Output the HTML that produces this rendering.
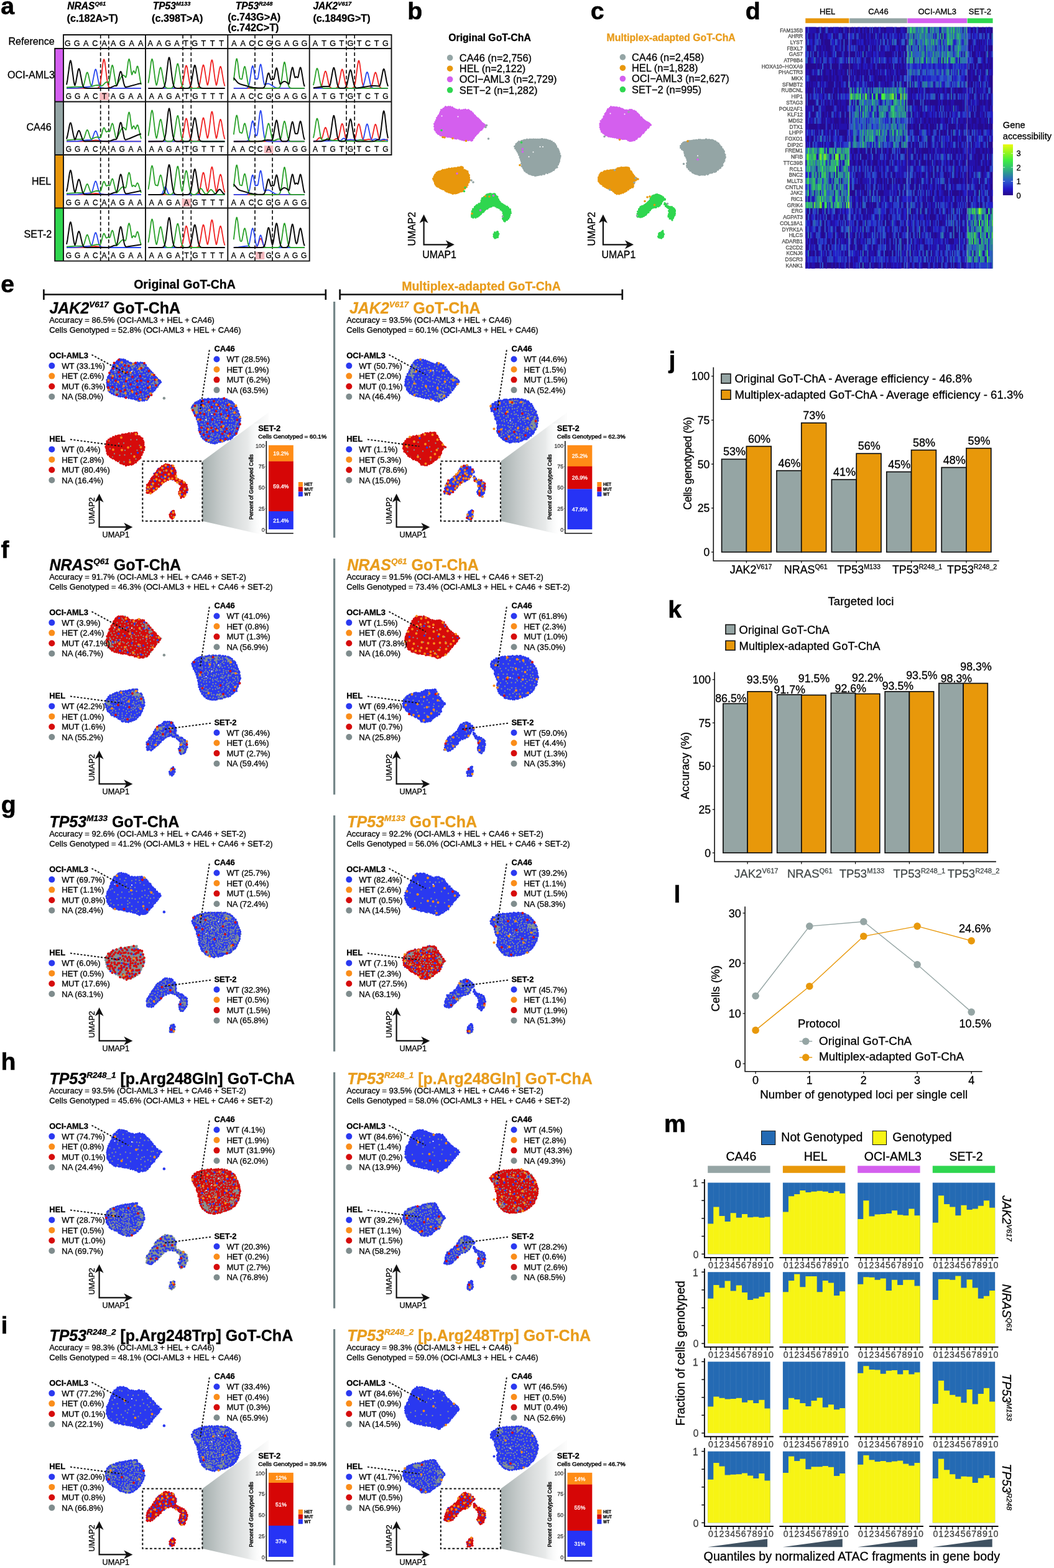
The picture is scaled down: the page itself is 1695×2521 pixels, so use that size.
<!DOCTYPE html>
<html lang="en"><head><meta charset="utf-8"><title>Figure</title>
<style>
html,body{margin:0;padding:0;background:#fff}
body{width:1695px;height:2521px;overflow:hidden}
svg{display:block}
text{font-family:"Liberation Sans",sans-serif;stroke:#000;stroke-width:.3px}
.c0{fill:#e89c1c;stroke:#e89c1c}
.c1{fill:#4a4a4a;stroke:#4a4a4a}
.c2{fill:#fff;stroke:#fff}
.c3{fill:#3c3c3c;stroke:#3c3c3c}
.c4{fill:#444a4a;stroke:#444a4a}
.c5{fill:#404040;stroke:#404040}
</style></head><body>
<svg width="1695" height="2521" viewBox="0 0 1695 2521">
<rect width="1695" height="2521" fill="#fff"/>
<text x="108.2" y="15.3" font-size="15.6" font-weight="bold" font-style="italic"><tspan>NRAS</tspan><tspan font-size="9.4" dy="-6.2">Q61</tspan><tspan dy="6.2" font-size="15.6">&#8203;</tspan></text>
<text x="107.6" y="34.7" font-size="16.2" font-weight="bold">(c.182A&gt;T)</text>
<text x="245.7" y="15.3" font-size="15.6" font-weight="bold" font-style="italic"><tspan>TP53</tspan><tspan font-size="9.4" dy="-6.2">M133</tspan><tspan dy="6.2" font-size="15.6">&#8203;</tspan></text>
<text x="244" y="34.7" font-size="16.2" font-weight="bold">(c.398T&gt;A)</text>
<text x="378.8" y="14.8" font-size="15.6" font-weight="bold" font-style="italic"><tspan>TP53</tspan><tspan font-size="9.4" dy="-6.2">R248</tspan><tspan dy="6.2" font-size="15.6">&#8203;</tspan></text>
<text x="366.2" y="32.8" font-size="16.2" font-weight="bold">(c.743G&gt;A)</text>
<text x="366.2" y="50" font-size="16.2" font-weight="bold">(c.742C&gt;T)</text>
<text x="503.4" y="15.3" font-size="15.6" font-weight="bold" font-style="italic"><tspan>JAK2</tspan><tspan font-size="9.4" dy="-6.2">V617</tspan><tspan dy="6.2" font-size="15.6">&#8203;</tspan></text>
<text x="503.4" y="34.7" font-size="16.2" font-weight="bold">(c.1849G&gt;T)</text>
<text x="13.5" y="71.6" font-size="16.1">Reference</text>
<text x="12" y="126" font-size="16.1">OCI-AML3</text>
<text x="42.5" y="210.2" font-size="16.1">CA46</text>
<text x="51" y="297" font-size="16.1">HEL</text>
<text x="38.6" y="382.4" font-size="16.1">SET-2</text>
<rect x="88.2" y="78" width="13.8" height="85.5" fill="#d45ff0"/>
<rect x="88.2" y="163.5" width="13.8" height="85.5" fill="#94a5a5"/>
<rect x="88.2" y="249" width="13.8" height="85.5" fill="#e8970c"/>
<rect x="88.2" y="334.5" width="13.8" height="85.1" fill="#2fd64f"/>
<text x="109" y="73.6" font-size="12.6" text-anchor="middle">G</text>
<text x="123.7" y="73.6" font-size="12.6" text-anchor="middle">G</text>
<text x="138.3" y="73.6" font-size="12.6" text-anchor="middle">A</text>
<text x="152.9" y="73.6" font-size="12.6" text-anchor="middle">C</text>
<text x="167.6" y="73.6" font-size="12.6" text-anchor="middle">A</text>
<text x="182.2" y="73.6" font-size="12.6" text-anchor="middle">A</text>
<text x="196.9" y="73.6" font-size="12.6" text-anchor="middle">G</text>
<text x="211.6" y="73.6" font-size="12.6" text-anchor="middle">A</text>
<text x="226.2" y="73.6" font-size="12.6" text-anchor="middle">A</text>
<text x="241.6" y="73.6" font-size="12.6" text-anchor="middle">A</text>
<text x="255.9" y="73.6" font-size="12.6" text-anchor="middle">A</text>
<text x="270.2" y="73.6" font-size="12.6" text-anchor="middle">G</text>
<text x="284.5" y="73.6" font-size="12.6" text-anchor="middle">A</text>
<text x="298.8" y="73.6" font-size="12.6" text-anchor="middle">T</text>
<text x="313.1" y="73.6" font-size="12.6" text-anchor="middle">G</text>
<text x="327.4" y="73.6" font-size="12.6" text-anchor="middle">T</text>
<text x="341.7" y="73.6" font-size="12.6" text-anchor="middle">T</text>
<text x="356" y="73.6" font-size="12.6" text-anchor="middle">T</text>
<text x="376.5" y="73.6" font-size="12.6" text-anchor="middle">A</text>
<text x="390.6" y="73.6" font-size="12.6" text-anchor="middle">A</text>
<text x="404.7" y="73.6" font-size="12.6" text-anchor="middle">C</text>
<text x="418.8" y="73.6" font-size="12.6" text-anchor="middle">C</text>
<text x="432.9" y="73.6" font-size="12.6" text-anchor="middle">G</text>
<text x="447" y="73.6" font-size="12.6" text-anchor="middle">G</text>
<text x="461.1" y="73.6" font-size="12.6" text-anchor="middle">A</text>
<text x="475.2" y="73.6" font-size="12.6" text-anchor="middle">G</text>
<text x="489.3" y="73.6" font-size="12.6" text-anchor="middle">G</text>
<text x="507" y="73.6" font-size="12.6" text-anchor="middle">A</text>
<text x="521.1" y="73.6" font-size="12.6" text-anchor="middle">T</text>
<text x="535.2" y="73.6" font-size="12.6" text-anchor="middle">G</text>
<text x="549.3" y="73.6" font-size="12.6" text-anchor="middle">T</text>
<text x="563.4" y="73.6" font-size="12.6" text-anchor="middle">G</text>
<text x="577.5" y="73.6" font-size="12.6" text-anchor="middle">T</text>
<text x="591.6" y="73.6" font-size="12.6" text-anchor="middle">C</text>
<text x="605.7" y="73.6" font-size="12.6" text-anchor="middle">T</text>
<text x="619.8" y="73.6" font-size="12.6" text-anchor="middle">G</text>
<line x1="161.7" y1="56" x2="161.7" y2="419.6" stroke="#111" stroke-width="1.7" stroke-dasharray="5.8 3.6"/>
<line x1="174.8" y1="56" x2="174.8" y2="419.6" stroke="#111" stroke-width="1.7" stroke-dasharray="5.8 3.6"/>
<line x1="294.1" y1="56" x2="294.1" y2="419.6" stroke="#111" stroke-width="1.7" stroke-dasharray="5.8 3.6"/>
<line x1="307.3" y1="56" x2="307.3" y2="419.6" stroke="#111" stroke-width="1.7" stroke-dasharray="5.8 3.6"/>
<line x1="410" y1="56" x2="410" y2="419.6" stroke="#111" stroke-width="1.7" stroke-dasharray="5.8 3.6"/>
<line x1="438.1" y1="56" x2="438.1" y2="419.6" stroke="#111" stroke-width="1.7" stroke-dasharray="5.8 3.6"/>
<line x1="557" y1="56" x2="557" y2="249" stroke="#111" stroke-width="1.7" stroke-dasharray="5.8 3.6"/>
<line x1="570.2" y1="56" x2="570.2" y2="249" stroke="#111" stroke-width="1.7" stroke-dasharray="5.8 3.6"/>
<rect x="160.4" y="148.7" width="14.4" height="12.4" fill="#f6b9be"/>
<path d="M107 141.9l47.5 0 2.5-.3 1.5-.8 1.5-2.4 1.5-5.6 1.5-10.1 2.5-21 1-5.2 .5-1 .5 .1 1 3.6 3 24.3 1.5 9.8 1.5 5.4 1.5 2.2 1.5 .8 2.5 .2 47 0" fill="none" stroke="#f02222" stroke-width="1.8" stroke-linejoin="round"/>
<path d="M107 141.9l18-.4 21.5-2.4 1-1.6 1-3.3 4-20.5 1-2.2 .5 0 .5 .7 1 3.5 2.5 13.8 1.5 6.6 1.5 3.6 1.5 1.4 5 .5 8.5 .3 51 0" fill="none" stroke="#2846f0" stroke-width="1.8" stroke-linejoin="round"/>
<path d="M107 140.5l14-.9 11.5-.2 1-.5 1-1.8 1-3.3 3.5-15.3 1-2 .5 0 .5 .5 1 2.8 3 13.6 1 3.4 1 1.9 1 .2 5-1.6 3-.4 3 .2 4 1 1-.1 1.5-1.1 3.5-3.6 1.5-1.1 1.5-.3 2.5 .8 .5-.3 1-3.4 3-19.4 1-3.9 .5-.8 .5 .2 1 3 3.5 22.4 1 4.6 .5 1.5 .5 .4 1.5-1.8 5.5-10.8 2-2.7 1.5-.8 1 .2 1 .8 2 2.4 .5-.1 1-4 2.5-20 1-4.6 .5-.7 .5 .5 1 4.2 2 15.9 1 4.6 .5-.5 1.5-4.6 1-1.1 .5 .3 1.5 3.3 .5 .4 .5-.8 2-9 .5-1.3 .5-.4 .5 .4 1 3.4 3 18.8 1.5 7" fill="none" stroke="#2aa12a" stroke-width="1.8" stroke-linejoin="round"/>
<path d="M107 136.2l1.5-7.7 3.5-26.9 1-3.8 .5-.4 .5 .8 1 4.6 3.5 27 1 5.2 .5 1.7 .5 .5 1.5-5 3.5-19.1 1-2.5 .5-.2 .5 .7 1 3.3 4 21.1 1.5 4 1 1.3 1.5 .8 4 .3 32.5-.1 4.5-.9 6.5-2.8 3.5-.2 .5-.6 1-2.8 3.5-16.4 1-2.7 .5-.5 .5 .2 1 2.3 3.5 16.4 1.5 4.6 1 1.5 1 .1 4-.8 15-4.1 5.5-1.2" fill="none" stroke="#0a0a0a" stroke-width="2" stroke-linejoin="round"/>
<text x="110.4" y="158.8" font-size="12" text-anchor="middle">G</text>
<text x="124.7" y="158.8" font-size="12" text-anchor="middle">G</text>
<text x="139" y="158.8" font-size="12" text-anchor="middle">A</text>
<text x="153.3" y="158.8" font-size="12" text-anchor="middle">C</text>
<text x="167.6" y="158.8" font-size="12" text-anchor="middle">T</text>
<text x="181.9" y="158.8" font-size="12" text-anchor="middle">A</text>
<text x="196.2" y="158.8" font-size="12" text-anchor="middle">G</text>
<text x="210.5" y="158.8" font-size="12" text-anchor="middle">A</text>
<text x="224.8" y="158.8" font-size="12" text-anchor="middle">A</text>
<path d="M238.5 141.9l48 0 2.5-.2 1.5-.5 1.5-1.7 1.5-4 1.5-7.2 3-19 1-3.4 .5-.5 .5 .4 1 3.1 3 18.9 1.5 7.4 1 3.1 1.5 2.4 1 .7 1.5 .4 5.5 0 2-.6 1.5-1.7 1-2.4 1-3.8 4-24.8 1-3.5 .5-.6 .5 .3 1 3.2 3.5 22.3 1 4.7 .5 1.6 .5 .1 1-3.7 1-6 3.5-26.9 1-3.4 .5-.1 .5 .9 1 4.7 3 23.8 2 10.5 .5 .5 1-2.9 4-23.2 1-3.3 .5-.6 .5 .3 1 2.9 3.5 20.8 2 7.5" fill="none" stroke="#f02222" stroke-width="1.8" stroke-linejoin="round"/>
<path d="M238.5 141.9l123 0" fill="none" stroke="#2846f0" stroke-width="1.8" stroke-linejoin="round"/>
<path d="M238.5 133.5l1.5-9.4 3-24.4 1-4.2 .5-.6 .5 .6 1 4.2 3.5 28 1 5.8 1 3.4 .5-.3 1-3.6 4-22.2 1-2.3 .5 0 .5 .8 1 3.6 3.5 20 1 3.8 1 2.5 1.5 1.8 2.5 .8 5.5-.1 1.5-.4 1-.9 1.5-2.9 1-3.6 4-25.9 1-4.5 .5-1 .5 0 .5 .9 1 4.2 4 26 1.5 5 1 1.7 1 .9 1.5 .5 2.5 .2 62.5 0" fill="none" stroke="#2aa12a" stroke-width="1.8" stroke-linejoin="round"/>
<path d="M238.5 141.9l21.5 0 2-.4 1.5-1.1 1.5-3.2 1.5-6.8 4-32.8 1-4.6 .5-.6 .5 .5 1 4.4 3 25.6 1.5 10 1.5 5.6 1 1.8 1 .9 3 .7 16.5 0 2.5-.4 1.5-1 1.5-2.7 1-3.3 4-24.3 1-4.2 .5-.9 .5-.1 .5 .8 1 3.9 4 24.4 1.5 4.7 1.5 2.1 1.5 .7 2.5 .3 35.5 0" fill="none" stroke="#0a0a0a" stroke-width="2" stroke-linejoin="round"/>
<text x="243.8" y="158.8" font-size="12" text-anchor="middle">A</text>
<text x="257.8" y="158.8" font-size="12" text-anchor="middle">A</text>
<text x="271.8" y="158.8" font-size="12" text-anchor="middle">G</text>
<text x="285.8" y="158.8" font-size="12" text-anchor="middle">A</text>
<text x="299.8" y="158.8" font-size="12" text-anchor="middle">T</text>
<text x="313.8" y="158.8" font-size="12" text-anchor="middle">G</text>
<text x="327.8" y="158.8" font-size="12" text-anchor="middle">T</text>
<text x="341.8" y="158.8" font-size="12" text-anchor="middle">T</text>
<text x="355.8" y="158.8" font-size="12" text-anchor="middle">T</text>
<path d="M375.8 141.9l114 0" fill="none" stroke="#f02222" stroke-width="1.8" stroke-linejoin="round"/>
<path d="M375.8 141.9l19.5 0 2-.4 1.5-1.2 1.5-3.3 1-4.1 3.5-22.8 1-3.7 .5-.5 .5 .5 1 3.7 2 12.9 1 3.9 .5 .4 1.5-.4 1.5 .1 1-3.3 2.5-16.9 1-3.2 .5-.1 .5 .9 1 4.7 3 21.4 1 4.5 .5 1 .5 .1 3.5-1.5 2.5-.1 2.5 1 7.5 4.8 3 1 3 .4 42 .2" fill="none" stroke="#2846f0" stroke-width="1.8" stroke-linejoin="round"/>
<path d="M375.8 129.3l3.5-30 1-4.5 .5-.4 .5 .9 1 5.4 2.5 21.6 1 4.2 2.5 .8 .5 0 .5-.8 3-16.9 1-2.6 .5 .1 .5 1 1 4.5 3.5 21.9 1.5 4.7 1.5 1.9 1.5 .6 2.5 .2 39 0 3.5-.4 1-.6 1-1.4 1.5-4.6 1.5-8.8 2.5-20 1-5.1 .5-1 .5 .1 1 3.5 4 29.4 1 4.2 1.5 3.2 1.5 1.1 2 .4 21 0" fill="none" stroke="#2aa12a" stroke-width="1.8" stroke-linejoin="round"/>
<path d="M375.8 125.1l6 7.3 2 1.6 2.5 1.2 15 4.3 5.5 1.2 8 .9 8 0 2-1.2 1.5-2.8 1.5-5.4 2.5-11.6 1-2.7 .5-.5 .5 .2 .5 .9 2 7.4 1 2.4 .5 0 2-1.4 1.5 .6 .5-.2 1-3.3 2-11.3 1-3 .5-.3 .5 .6 1 3.7 2.5 15.3 1.5 6 .5 .3 .5-.3 4-3.5 2.5-.6 2.5 1 4 3.3 .5-.5 1-3.8 2.5-15.9 1.5-6.1 .5-.5 .5 .5 .5 1.3 2 10.6 1 3.8 .5 .2 1.5-1.3 .5-.1 2 1.4 .5-.6 .5-1.8 2-11 1-2.8 .5-.1 .5 .8 1 4 3.5 21.1 1.5 4.7" fill="none" stroke="#0a0a0a" stroke-width="2" stroke-linejoin="round"/>
<text x="375.8" y="158.8" font-size="12" text-anchor="middle">A</text>
<text x="389.9" y="158.8" font-size="12" text-anchor="middle">A</text>
<text x="404" y="158.8" font-size="12" text-anchor="middle">C</text>
<text x="418.1" y="158.8" font-size="12" text-anchor="middle">C</text>
<text x="432.2" y="158.8" font-size="12" text-anchor="middle">G</text>
<text x="446.3" y="158.8" font-size="12" text-anchor="middle">G</text>
<text x="460.4" y="158.8" font-size="12" text-anchor="middle">A</text>
<text x="474.5" y="158.8" font-size="12" text-anchor="middle">G</text>
<text x="488.6" y="158.8" font-size="12" text-anchor="middle">G</text>
<path d="M503.9 141.9l9-.1 1.5-.4 1.5-1.1 1-1.7 1-2.7 4-18.6 1-2.6 .5-.3 .5 .3 1 2.6 3.5 16.8 1 3.3 1 2.2 1.5 1.6 1.5 .5 5.5 .2 2.5-.6 1.5-1.5 1.5-3.5 1.5-6.4 3-16 1-2.4 .5 0 .5 .6 1 3.4 3.5 18.6 1 3.4 1 2.2 1.5 1.5 1.5 .5 5 .1 2.5-.6 1-.9 1-1.9 1.5-5.7 4-29.9 1-4.6 .5-.8 .5 .4 1 3.8 4 30.1 1.5 6.2 1.5 2.7 2 1.1 4.5 .2 3-.5 1.5-1.1 1.5-2.8 1-3.2 3.5-15.5 1-2.2 .5-.2 .5 .5 1 2.6 3.5 15.5 1 3 1 1.9 1.5 1.4 1.5 .5 10 .1" fill="none" stroke="#f02222" stroke-width="1.8" stroke-linejoin="round"/>
<path d="M503.9 141.9l73 0 4-.3 2-1.2 1.5-2.7 1.5-5.2 3-13.8 1-2.5 .5-.3 .5 .3 1 2.5 4 17.5 1 2.6 1.5 2.1 1.5 .7 2 .3 22 0" fill="none" stroke="#2846f0" stroke-width="1.8" stroke-linejoin="round"/>
<path d="M503.9 137l1.5-6.1 3-17.1 1-3.3 .5-.6 .5 .3 1 2.7 3 16.9 1.5 6.6 1.5 3.5 1 1.1 1.5 .7 4 .2 100 0" fill="none" stroke="#2aa12a" stroke-width="1.8" stroke-linejoin="round"/>
<path d="M503.9 141.3l16-2.2 9.5 0 1-1.5 1-3.3 4-22.3 1-2.8 .5-.3 .5 .6 1 3.4 4 22.2 1.5 4.2 1 1.4 1 .7 2 .3 5.5 0 1.5-.4 1.5-1.6 1-2 1-3.3 3.5-18 1-3.3 .5-.6 .5 0 1 2.3 3 15.5 1.5 6.2 1.5 3.4 1.5 1.4 1.5 .1 5.5-.6 18-2.7 5.5-.2 6.5 .7 1-.4 1-2.1 1-3.9 3.5-18.8 1-2.4 .5 0 .5 .7 1 3.4 3 16.6 2 7" fill="none" stroke="#0a0a0a" stroke-width="2" stroke-linejoin="round"/>
<text x="507" y="158.8" font-size="12" text-anchor="middle">A</text>
<text x="521.1" y="158.8" font-size="12" text-anchor="middle">T</text>
<text x="535.2" y="158.8" font-size="12" text-anchor="middle">G</text>
<text x="549.3" y="158.8" font-size="12" text-anchor="middle">T</text>
<text x="563.4" y="158.8" font-size="12" text-anchor="middle">G</text>
<text x="577.5" y="158.8" font-size="12" text-anchor="middle">T</text>
<text x="591.6" y="158.8" font-size="12" text-anchor="middle">C</text>
<text x="605.7" y="158.8" font-size="12" text-anchor="middle">T</text>
<text x="619.8" y="158.8" font-size="12" text-anchor="middle">G</text>
<path d="M107 227.4l31-.1 16-1.9 11.5 1.6 5.5 .3 56 .1" fill="none" stroke="#f02222" stroke-width="1.8" stroke-linejoin="round"/>
<path d="M107 227.4l17.5-.4 16-1.8 6.5-.4 1-.9 .5-.9 3.5-10.2 1.5-2.3 1 .4 1 1.9 2.5 7.7 1.5 3.6 1 1.5 1.5 1 6 .5 8 .3 51 0" fill="none" stroke="#2846f0" stroke-width="1.8" stroke-linejoin="round"/>
<path d="M107 225.4l14-1.2 13-.5 1.5-2.3 3.5-11 1-1.4 .5-.1 .5 .4 1 2.1 3 9.8 1 2 .5 .4 1-.2 5-2.2 2.5-.7 2.5 0 4 .7 1-1.5 3-11.4 1-2.4 .5-.5 .5 0 .5 .5 2 5 1 1.3 2.5-1.3 2.5 .6 .5-.3 .5-1 2.5-10.1 1-1.7 .5 .2 1 2.3 4 19.5 1 2.2 .5-.1 2.5-4.2 4.5-9.7 2-2.9 1-.7 1-.1 1.5 1 2 2.7 .5 .2 .5-1 3-22.1 1-4.6 .5-.7 .5 .5 1 4.2 2 16 1 5.8 .5 .1 1.5-3.6 1-1 1 1.1 1.5 3.7 .5 .3 2.5-6.3 .5-.3 .5 .3 1 2.5 3 14.1 1.5 5.2" fill="none" stroke="#2aa12a" stroke-width="1.8" stroke-linejoin="round"/>
<path d="M107 223.5l1.5-5.1 3.5-18.2 1-2.6 .5-.2 .5 .5 1 3.1 3 16 2 7 .5 .6 1-1.4 4-11.8 1-1.4 .5-.1 .5 .4 1 1.8 4 11.8 1.5 2.1 1 .8 1.5 .4 36.5 .1 4.5-.8 6-2.3 3.5-.3 1-1.4 1-3.4 3.5-18.5 1-3.2 .5-.5 .5 .2 1 2.6 4 20.6 1 3.1 1 1.3 1.5-.3 4.5-1.4 14-6 5.5-1.8" fill="none" stroke="#0a0a0a" stroke-width="2" stroke-linejoin="round"/>
<text x="110.4" y="244.3" font-size="12" text-anchor="middle">G</text>
<text x="124.7" y="244.3" font-size="12" text-anchor="middle">G</text>
<text x="139" y="244.3" font-size="12" text-anchor="middle">A</text>
<text x="153.3" y="244.3" font-size="12" text-anchor="middle">C</text>
<text x="167.6" y="244.3" font-size="12" text-anchor="middle">A</text>
<text x="181.9" y="244.3" font-size="12" text-anchor="middle">A</text>
<text x="196.2" y="244.3" font-size="12" text-anchor="middle">G</text>
<text x="210.5" y="244.3" font-size="12" text-anchor="middle">A</text>
<text x="224.8" y="244.3" font-size="12" text-anchor="middle">A</text>
<path d="M238.5 227.4l48 0 2.5-.2 1.5-.5 1.5-1.7 1.5-4.1 1.5-7.3 3-19.2 1-3.5 .5-.5 .5 .4 1 3.2 3 19.1 1.5 7.5 1 3.2 1.5 2.4 1 .7 1.5 .4 5.5 0 2-.7 1.5-1.7 1-2.4 1-3.8 4-25.1 1-3.6 .5-.6 .5 .4 1 3.2 3.5 22.6 1 4.7 .5 1.6 .5 0 1-4 1-6.3 3.5-28.4 1-3.6 .5-.1 .5 .9 1 5.1 3 25.1 2 11 .5 .7 1-2.9 4-23.5 1-3.4 .5-.6 .5 .3 1 3 3.5 21 2 7.6" fill="none" stroke="#f02222" stroke-width="1.8" stroke-linejoin="round"/>
<path d="M238.5 227.4l123 0" fill="none" stroke="#2846f0" stroke-width="1.8" stroke-linejoin="round"/>
<path d="M238.5 218.5l1.5-10.1 3-25.9 1-4.5 .5-.6 .5 .6 1 4.5 3.5 29.8 1 6.2 1 3.6 .5-.3 1-3.9 4-23.4 1-2.5 .5 0 .5 .8 1 3.9 3.5 21.1 1 4.1 1 2.6 1.5 2 2 .8 5.5 0 1.5-.3 1-.6 1.5-2.3 1.5-5.1 4-27.3 1-4.6 .5-1 .5-.1 .5 .9 1 4.5 4 27.3 1.5 5.3 1 1.8 1 .9 1.5 .5 2.5 .2 62.5 0" fill="none" stroke="#2aa12a" stroke-width="1.8" stroke-linejoin="round"/>
<path d="M238.5 227.4l21.5-.1 2-.3 1.5-1.2 1.5-3.4 1.5-7.3 4-35.2 1-4.8 .5-.7 .5 .6 1 4.7 3 27.4 1.5 10.7 1.5 5.9 1 2 1 1 1 .4 2 .3 16.5 0 2.5-.4 1.5-1 1.5-2.8 1-3.4 4-24.9 1-4.4 .5-.9 .5-.1 .5 .8 1 4 4 25.1 1.5 4.8 1.5 2.2 1.5 .7 2.5 .3 35.5 0" fill="none" stroke="#0a0a0a" stroke-width="2" stroke-linejoin="round"/>
<text x="243.8" y="244.3" font-size="12" text-anchor="middle">A</text>
<text x="257.8" y="244.3" font-size="12" text-anchor="middle">A</text>
<text x="271.8" y="244.3" font-size="12" text-anchor="middle">G</text>
<text x="285.8" y="244.3" font-size="12" text-anchor="middle">A</text>
<text x="299.8" y="244.3" font-size="12" text-anchor="middle">T</text>
<text x="313.8" y="244.3" font-size="12" text-anchor="middle">G</text>
<text x="327.8" y="244.3" font-size="12" text-anchor="middle">T</text>
<text x="341.8" y="244.3" font-size="12" text-anchor="middle">T</text>
<text x="355.8" y="244.3" font-size="12" text-anchor="middle">T</text>
<rect x="425" y="234.2" width="14.4" height="12.4" fill="#f6b9be"/>
<path d="M375.8 227.4l114 0" fill="none" stroke="#f02222" stroke-width="1.8" stroke-linejoin="round"/>
<path d="M375.8 227.4l19.5 0 2-.4 1.5-1.1 1.5-3 1-3.8 3.5-20.8 1-3.4 .5-.5 .5 .5 1 3.4 3 17.6 1 2.2 1 0 1-2.2 .5-2.8 3.5-30.8 1-4.2 .5-.1 .5 1.2 1 6 2.5 23.5 1.5 10.5 1.5 5.4 1.5 2 1.5 .6 2.5 .2 58 0" fill="none" stroke="#2846f0" stroke-width="1.8" stroke-linejoin="round"/>
<path d="M375.8 216.3l3.5-26.6 1-3.9 .5-.4 1 2.7 3 21.8 1 3.3 1.5 .2 1.5 .7 .5-.3 1-3.4 2-9.8 1-2.1 .5 0 .5 .9 1 3.8 3.5 18.1 1.5 3.8 1 1.3 1 .6 3 .4 15.5 0 2-.3 1.5-.9 1.5-2.5 1-3.2 3.5-18.3 1-3.2 .5-.6 .5 .3 1 2.7 3.5 18.3 1 3.5 1 2.1 1 1 .5 0 6.5-2.7 4-.1 .5-.5 1-2.9 3.5-20.4 1-3.9 .5-.8 .5 .1 1 2.7 4 22.7 1 3.3 1.5 2.5 1.5 .8 2 .3 21 0" fill="none" stroke="#2aa12a" stroke-width="1.8" stroke-linejoin="round"/>
<path d="M375.8 227.4l39.5-.1 5.5-.5 9.5-1.8 7 .4 1-1.6 1-3.2 4-23.7 1-3.2 .5-.3 .5 .7 1 3.8 2.5 16.1 1.5 7.4 1 2.9 1.5 2.2 1 .5 1.5 .3 5 0 1.5-.5 1.5-1.5 1-2.2 1-3.6 3.5-19.9 1-3.3 .5-.4 .5 .4 1 3.3 2 11.3 1 3.8 .5 .4 3-.2 1-2.9 2.5-14.2 1-2.7 .5-.1 .5 .8 1 3.9 3.5 20.4 1.5 4.6" fill="none" stroke="#0a0a0a" stroke-width="2" stroke-linejoin="round"/>
<text x="375.8" y="244.3" font-size="12" text-anchor="middle">A</text>
<text x="389.9" y="244.3" font-size="12" text-anchor="middle">A</text>
<text x="404" y="244.3" font-size="12" text-anchor="middle">C</text>
<text x="418.1" y="244.3" font-size="12" text-anchor="middle">C</text>
<text x="432.2" y="244.3" font-size="12" text-anchor="middle">A</text>
<text x="446.3" y="244.3" font-size="12" text-anchor="middle">G</text>
<text x="460.4" y="244.3" font-size="12" text-anchor="middle">A</text>
<text x="474.5" y="244.3" font-size="12" text-anchor="middle">G</text>
<text x="488.6" y="244.3" font-size="12" text-anchor="middle">G</text>
<path d="M503.9 226.8l4.5-.5 5-4.8 1.5 .2 2 1.7 .5-.1 1.5-4 3-12 1-2.1 .5-.3 .5 .3 1 2.1 3.5 13.7 1 2.7 1 1.6 1 .5 4.5-.2 1-.4 3.5-2.3 1 0 2 .9 1-1.7 1-3.6 3.5-17.3 1-2.2 .5 0 .5 .6 1 3.2 3.5 17.3 1.5 4.1 1 .7 11 0 1-.3 .5-.6 1-2.4 1-3.8 3-15 1-2.9 .5-.5 .5 .2 1 2.4 4 18.9 1 2.8 1 1.2 3.5 .1 5-1.2 3.5 .8 .5-.2 1-1.8 1-3.4 3.5-16.7 1-2.4 .5-.2 .5 .5 1 2.8 3.5 16.8 1 3.2 1 1.9 1 .8 4 .2 1.5-.2 4-1.4 2.5 0" fill="none" stroke="#f02222" stroke-width="1.8" stroke-linejoin="round"/>
<path d="M503.9 227.1l43-1 1.5-.5 3-2.6 1.5-.6 1 .3 3.5 2.6 6-1 7.5 1.1 12-.2 1-1.2 1-2.7 4-18.9 1-2.6 .5-.4 .5 .4 1 2.6 4 18.9 1 2.7 1 1.2 1 0 3-1.4 2-.4 1.5 .3 4.5 1.9 2 0 3.5-1.4 2-.3 1.5 .3 5 1.9" fill="none" stroke="#2846f0" stroke-width="1.8" stroke-linejoin="round"/>
<path d="M503.9 221.7l1.5-7 3-19.8 1-3.8 .5-.7 .5 .3 1 3.2 4 25 1.5 4.9 1 1.1 5 .2 1-.5 2.5-2 1-.2 1.5 .6 2.5 2.1 1 .4 12.5 .8 25.5 .9 3-.5 4.5-1.6 2-.2 2 .4 5 1.6 3 .4 34 .1" fill="none" stroke="#2aa12a" stroke-width="1.8" stroke-linejoin="round"/>
<path d="M503.9 227.4l13-.2 2.5-.6 5.5-2.1 1.5-.1 2.5 .5 .5-.4 1-2.4 1.5-7.1 3.5-25.2 1-3.6 .5-.3 .5 .7 1 4.3 4 28 1.5 5.2 1 1.8 1 .9 2.5 .6 5-.2 1.5-.6 1.5-1.8 1-2.6 1-4 3.5-21.9 1-4 .5-.8 .5 .1 1 2.7 3 18.9 1.5 7.6 1.5 4.1 1.5 1.8 1.5 .5 2 .2 23-.1 3.5-.6 4.5-1.9 2.5-.6 1-1.7 1-4.1 1.5-10.3 3-25.7 1-3.8 .5-.1 .5 1.1 1 5.4 3 26.3 2 11" fill="none" stroke="#0a0a0a" stroke-width="2" stroke-linejoin="round"/>
<text x="507" y="244.3" font-size="12" text-anchor="middle">A</text>
<text x="521.1" y="244.3" font-size="12" text-anchor="middle">T</text>
<text x="535.2" y="244.3" font-size="12" text-anchor="middle">G</text>
<text x="549.3" y="244.3" font-size="12" text-anchor="middle">T</text>
<text x="563.4" y="244.3" font-size="12" text-anchor="middle">G</text>
<text x="577.5" y="244.3" font-size="12" text-anchor="middle">T</text>
<text x="591.6" y="244.3" font-size="12" text-anchor="middle">C</text>
<text x="605.7" y="244.3" font-size="12" text-anchor="middle">T</text>
<text x="619.8" y="244.3" font-size="12" text-anchor="middle">G</text>
<path d="M107 312.9l31-.1 16-1.9 11.5 1.6 5.5 .3 56 .1" fill="none" stroke="#f02222" stroke-width="1.8" stroke-linejoin="round"/>
<path d="M107 312.9l18-.4 22-2.4 1.5-2.7 3.5-12.9 1-2.5 .5-.5 .5 0 .5 .5 1 2.5 2.5 9.7 1.5 4.6 1 1.9 1.5 1.3 5 .5 8.5 .3 51.5 .1" fill="none" stroke="#2846f0" stroke-width="1.8" stroke-linejoin="round"/>
<path d="M107 311.2l13.5-1 13.5-.5 1.5-2.3 3.5-10.1 1-1.3 .5-.1 .5 .4 1 1.9 3 9 1 2 .5 .4 1-.1 4.5-1.8 3-.7 2.5-.1 3.5 .7 1-.8 .5-1.1 3-11 1-2.3 .5-.5 .5 0 .5 .5 2 5 1 1.5 3-1 2 .6 .5-.2 .5-.8 2.5-8.6 1-1.5 .5 .1 1 2.1 4 17.2 1 2.5 .5 .6 .5-.1 2-2 4.5-5.3 2-1.7 1.5-.4 1 .1 2.5 1.5 .5 0 .5-.7 1-4.3 2.5-15.6 1-3.5 .5-.5 .5 .4 1 3.1 2.5 15.4 1 3.5 .5-.1 1-1.2 1-.6 2.5 2.2 .5-.4 2-4.7 1-.9 .5 .3 1 1.7 3 10 1.5 3.7" fill="none" stroke="#2aa12a" stroke-width="1.8" stroke-linejoin="round"/>
<path d="M107 307.9l1.5-6.7 3.5-23.7 1-3.3 .5-.3 .5 .7 1 4 3.5 23.7 1 4.5 1 2.3 .5-.7 1-3 3.5-14.9 1-2 .5-.1 .5 .5 1 2.6 4 16.4 1.5 3.1 1 1 1 .5 4 .4 33-.1 4.5-.8 6-2.3 3.5-.4 1-1.6 1-3.7 3.5-19.7 1-3.3 .5-.6 .5 .3 1 2.7 4 21.9 1 3.4 1.5 2.6 1 .1 3.5-.5 20.5-4.1" fill="none" stroke="#0a0a0a" stroke-width="2" stroke-linejoin="round"/>
<text x="110.4" y="329.8" font-size="12" text-anchor="middle">G</text>
<text x="124.7" y="329.8" font-size="12" text-anchor="middle">G</text>
<text x="139" y="329.8" font-size="12" text-anchor="middle">A</text>
<text x="153.3" y="329.8" font-size="12" text-anchor="middle">C</text>
<text x="167.6" y="329.8" font-size="12" text-anchor="middle">A</text>
<text x="181.9" y="329.8" font-size="12" text-anchor="middle">A</text>
<text x="196.2" y="329.8" font-size="12" text-anchor="middle">G</text>
<text x="210.5" y="329.8" font-size="12" text-anchor="middle">A</text>
<text x="224.8" y="329.8" font-size="12" text-anchor="middle">A</text>
<rect x="292.6" y="319.7" width="14.4" height="12.4" fill="#f6b9be"/>
<path d="M238.5 312.9l75 0 4-.4 1-.7 1-1.2 1.5-3.8 1.5-7 3-18.5 1-3.4 .5-.5 .5 .3 1 3.1 3.5 21 1 4.5 .5 1.4 .5 .1 1-3.7 1-5.9 3.5-26.2 1-3.4 .5-.1 .5 .9 1 4.6 3 23.3 2 10.2 .5 .7 1-2.6 4-21.5 1-3.2 .5-.5 .5 .3 1 2.7 3.5 19.3 2 6.9" fill="none" stroke="#f02222" stroke-width="1.8" stroke-linejoin="round"/>
<path d="M238.5 312.9l18 0 3-.5 1-.7 1-1.5 3-8.1 1-1.6 .5-.1 1 1.3 3.5 9.1 1.5 1.5 1.5 .5 88 .1" fill="none" stroke="#2846f0" stroke-width="1.8" stroke-linejoin="round"/>
<path d="M238.5 304.6l1.5-9.4 3-24.1 1-4.1 .5-.6 .5 .6 1 4.1 3 23.1 1 3.4 2 .4 1 .6 .5-.1 .5-.8 3-14 1-2.2 .5 0 .5 .7 1 3.4 3.5 18.8 1 3.6 1 2.3 1.5 1.8 1.5 .6 5.5 .1 2.5-.6 1-1 1-1.9 1.5-5.6 4-29.9 1-5.1 .5-1.1 .5-.1 .5 1 1 4.9 3 23.8 1 6.2 1 4 .5 .2 1-3.6 4-25.5 1-3.6 .5-.5 .5 .4 1 3.3 3 19.9 1.5 7.9 1.5 4.3 1.5 1.9 1 .5 2 .3 2.5-.3 1.5-.7 2-1.9 4-6.3 1.5-.8 1.5 1 4.5 6.9 2 1.4 1-.1 1.5-1 4-5 1-.9 1-.3 1.5 .8 4.5 5.5 2 1.2 3 .5 11 0" fill="none" stroke="#2aa12a" stroke-width="1.8" stroke-linejoin="round"/>
<path d="M238.5 312.9l21.5 0 2-.4 1.5-1.1 1.5-3 1.5-6.7 4-31.8 1-4.4 .5-.6 .5 .5 1 4.3 3 24.8 1.5 9.7 1.5 5.4 1 1.8 1 .8 3 .7 16.5 0 2.5-.4 1.5-1.1 1.5-3 1-3.7 1.5-8.7 2.5-18.2 1-4.7 .5-1 .5-.1 .5 .8 1 4.4 4 27 1.5 5.3 1.5 2.3 1.5 .8 2 .3 15.5 0 3.5-.3 1.5-.6 1.5-1.2 4-5.4 1.5-1 1.5 .6 4.5 5.8 2.5 1.6" fill="none" stroke="#0a0a0a" stroke-width="2" stroke-linejoin="round"/>
<text x="243.8" y="329.8" font-size="12" text-anchor="middle">A</text>
<text x="257.8" y="329.8" font-size="12" text-anchor="middle">A</text>
<text x="271.8" y="329.8" font-size="12" text-anchor="middle">G</text>
<text x="285.8" y="329.8" font-size="12" text-anchor="middle">A</text>
<text x="299.8" y="329.8" font-size="12" text-anchor="middle">A</text>
<text x="313.8" y="329.8" font-size="12" text-anchor="middle">G</text>
<text x="327.8" y="329.8" font-size="12" text-anchor="middle">T</text>
<text x="341.8" y="329.8" font-size="12" text-anchor="middle">T</text>
<text x="355.8" y="329.8" font-size="12" text-anchor="middle">T</text>
<path d="M375.8 312.9l114 0" fill="none" stroke="#f02222" stroke-width="1.8" stroke-linejoin="round"/>
<path d="M375.8 312.9l19.5 0 2-.4 1.5-1 1.5-2.9 1-3.6 3.5-19.9 1-3.3 .5-.4 .5 .4 1 3.3 2.5 12.7 .5 .8 1.5-.7 2 .1 1-3.3 2.5-16.9 1-3.2 .5-.1 .5 .9 1 4.7 3 21.4 1 4.5 .5 1 .5 .1 3.5-1.5 2.5-.1 2.5 1 7.5 4.8 3 1 3 .4 42 .2" fill="none" stroke="#2846f0" stroke-width="1.8" stroke-linejoin="round"/>
<path d="M375.8 300.3l3.5-30 1-4.5 .5-.4 .5 .9 1 5.4 2.5 21.6 1 4.2 3 .9 .5-.6 3-15.8 1-2.5 .5 .1 .5 1 1 4.3 3.5 20.9 1.5 4.5 1.5 1.9 1.5 .5 3 .2 38.5 0 3.5-.4 1-.7 1-1.4 1.5-4.8 1.5-9.3 2.5-20.9 1-5.3 .5-1.1 .5 .1 1 3.7 4 30.8 1 4.4 1.5 3.4 1.5 1.1 2 .4 21 0" fill="none" stroke="#2aa12a" stroke-width="1.8" stroke-linejoin="round"/>
<path d="M375.8 296.1l6 7.3 2 1.6 2 1 15 4.4 5.5 1.2 7.5 .9 8.5 .2 1.5-.5 1-.8 1.5-2.9 1.5-5.5 2.5-11.8 1-2.8 .5-.5 .5 .2 .5 .9 2.5 9.3 .5 .9 .5 0 2-1.3 1.5 .7 .5-.1 1-3 2-10.9 1-2.9 .5-.3 .5 .6 1 3.6 2.5 14.8 1.5 5.7 .5 .2 .5-.3 4-3.5 2-.6 2.5 .7 4.5 3.7 .5-.5 1-3.6 2.5-15.4 1.5-6 .5-.4 .5 .4 .5 1.3 2 10.3 1 3.4 .5 .1 1-1.1 1-.4 2 1.5 .5-.4 .5-1.7 2.5-12.3 .5-.9 .5-.1 .5 .8 1 3.9 3.5 20.4 1.5 4.6" fill="none" stroke="#0a0a0a" stroke-width="2" stroke-linejoin="round"/>
<text x="375.8" y="329.8" font-size="12" text-anchor="middle">A</text>
<text x="389.9" y="329.8" font-size="12" text-anchor="middle">A</text>
<text x="404" y="329.8" font-size="12" text-anchor="middle">C</text>
<text x="418.1" y="329.8" font-size="12" text-anchor="middle">C</text>
<text x="432.2" y="329.8" font-size="12" text-anchor="middle">G</text>
<text x="446.3" y="329.8" font-size="12" text-anchor="middle">G</text>
<text x="460.4" y="329.8" font-size="12" text-anchor="middle">A</text>
<text x="474.5" y="329.8" font-size="12" text-anchor="middle">G</text>
<text x="488.6" y="329.8" font-size="12" text-anchor="middle">G</text>
<path d="M107 398l31-.1 16-1.9 11.5 1.6 5.5 .3 56 .1" fill="none" stroke="#f02222" stroke-width="1.8" stroke-linejoin="round"/>
<path d="M107 398l17.5-.4 16-1.8 6-.4 1-1 1-2.5 3.5-14.5 1-2.7 .5-.6 .5 0 .5 .6 1 2.7 2.5 10.9 1.5 5.1 1.5 2.8 1.5 1 13.5 .8 51 0" fill="none" stroke="#2846f0" stroke-width="1.8" stroke-linejoin="round"/>
<path d="M107 396.6l13-.9 13.5-.4 1-1.3 1-2.5 3.5-12.3 1-1.6 .5-.1 .5 .5 1 2.3 3.5 12.4 1 2 .5 .4 8-2 6 .3 .5-.5 1-2.5 3-11.9 1-2.5 .5-.5 .5 0 .5 .6 2 5.1 1 1.5 2.5-1.2 1 .1 1.5 .6 .5-.2 1-2.2 2-7.7 1-1.6 .5 .1 1 2.3 4 18.5 1 2.8 .5 .6 .5 0 2-1.9 4.5-5.3 2-1.7 2-.4 3 1.5 .5-.2 1-3.2 3-20.2 1-3.8 .5-.6 .5 .4 1 3.5 3 18.7 .5 .6 1.5-2.5 1-.7 .5 .2 1.5 2 .5 .1 .5-.8 2-6.8 1-1.2 .5 .3 1 2.4 3 13.5 1.5 5.1" fill="none" stroke="#2aa12a" stroke-width="1.8" stroke-linejoin="round"/>
<path d="M107 392.7l1.5-7 3.5-24.9 1-3.5 .5-.3 .5 .7 1 4.2 3.5 24.9 1 4.8 1 2.4 .5-.8 1-3.2 3.5-15.7 1-2.1 .5-.2 .5 .5 1 2.8 4 17.4 1.5 3.3 1 1.1 1 .5 4 .4 33-.1 4.5-.8 6-2.3 3.5-.4 1-1.7 1-3.8 3.5-20.4 1-3.4 .5-.6 .5 .3 1 2.8 4 22.6 1 3.5 1.5 2.7 1 .4 2-.2 22-3.3" fill="none" stroke="#0a0a0a" stroke-width="2" stroke-linejoin="round"/>
<text x="110.4" y="414.9" font-size="12" text-anchor="middle">G</text>
<text x="124.7" y="414.9" font-size="12" text-anchor="middle">G</text>
<text x="139" y="414.9" font-size="12" text-anchor="middle">A</text>
<text x="153.3" y="414.9" font-size="12" text-anchor="middle">C</text>
<text x="167.6" y="414.9" font-size="12" text-anchor="middle">A</text>
<text x="181.9" y="414.9" font-size="12" text-anchor="middle">A</text>
<text x="196.2" y="414.9" font-size="12" text-anchor="middle">G</text>
<text x="210.5" y="414.9" font-size="12" text-anchor="middle">A</text>
<text x="224.8" y="414.9" font-size="12" text-anchor="middle">A</text>
<path d="M238.5 398l48 0 2.5-.2 1.5-.5 1.5-1.6 1.5-3.7 1.5-6.9 3-17.9 1-3.2 .5-.5 .5 .3 1 3 3.5 20.6 1 4.3 1.5 3.9 1.5 1.7 1.5 .5 5 .2 2.5-.5 1-.6 1-1.3 1.5-3.9 1.5-7.2 3-19 1-3.5 .5-.5 .5 .3 1 3.1 3.5 21.7 1 4.6 .5 1.5 .5 .1 1-3.6 1-5.9 3.5-26.2 1-3.4 .5-.1 .5 .9 1 4.6 3 23.3 2 10.2 .5 .5 1-2.9 4-22.8 1-3.3 .5-.6 .5 .3 1 2.9 3.5 20.5 2 7.3" fill="none" stroke="#f02222" stroke-width="1.8" stroke-linejoin="round"/>
<path d="M238.5 398l123 0" fill="none" stroke="#2846f0" stroke-width="1.8" stroke-linejoin="round"/>
<path d="M238.5 389.9l1.5-9.2 3-23.6 1-4.1 .5-.5 .5 .5 1 4.1 3.5 27.1 1 5.7 1 3.2 .5-.4 1-3.6 4-22.2 1-2.3 .5 0 .5 .8 1 3.6 3.5 20 1 3.8 1 2.5 1.5 1.8 2 .8 5.5 0 1.5-.3 1-.6 1.5-2.1 1.5-4.7 4-25.3 1-4.3 .5-1 .5 0 .5 .8 1 4.2 4 25.3 1.5 4.9 1 1.7 1 .8 1.5 .5 2.5 .2 62.5 0" fill="none" stroke="#2aa12a" stroke-width="1.8" stroke-linejoin="round"/>
<path d="M238.5 398l21.5 0 2-.4 1.5-1.1 1.5-3 1.5-6.7 4-31.8 1-4.4 .5-.6 .5 .5 1 4.3 3 24.8 1.5 9.7 1.5 5.4 1 1.8 1 .8 3 .7 16.5 0 2.5-.4 1.5-1 1.5-2.6 1-3.3 4-24 1-4.1 .5-.9 .5-.1 .5 .7 1 3.9 4 24.1 1.5 4.6 1.5 2.1 1.5 .7 2.5 .3 35.5 0" fill="none" stroke="#0a0a0a" stroke-width="2" stroke-linejoin="round"/>
<text x="243.8" y="414.9" font-size="12" text-anchor="middle">A</text>
<text x="257.8" y="414.9" font-size="12" text-anchor="middle">A</text>
<text x="271.8" y="414.9" font-size="12" text-anchor="middle">G</text>
<text x="285.8" y="414.9" font-size="12" text-anchor="middle">A</text>
<text x="299.8" y="414.9" font-size="12" text-anchor="middle">T</text>
<text x="313.8" y="414.9" font-size="12" text-anchor="middle">G</text>
<text x="327.8" y="414.9" font-size="12" text-anchor="middle">T</text>
<text x="341.8" y="414.9" font-size="12" text-anchor="middle">T</text>
<text x="355.8" y="414.9" font-size="12" text-anchor="middle">T</text>
<rect x="410.9" y="404.8" width="14.4" height="12.4" fill="#f6b9be"/>
<path d="M375.8 398l32 0 3.5-.3 1.5-.9 1-1.3 1.5-3.3 2.5-7.2 1-1.4 .5-.1 .5 .4 1 2 3.5 9.5 1.5 1.7 1.5 .7 62.5 .2" fill="none" stroke="#f02222" stroke-width="1.8" stroke-linejoin="round"/>
<path d="M375.8 398l7.5-.5 10.5-1.7 5.5-.5 1-1.6 1-3.5 3.5-19.6 1-3.2 .5-.4 .5 .4 1 3.2 3.5 19.6 1 3.6 1 2 .5-.2 1-2.5 3-12.7 1-2.3 .5 0 1 2 3.5 14.2 1.5 2.6 1.5 .9 3.5 .2 59.5 0" fill="none" stroke="#2846f0" stroke-width="1.8" stroke-linejoin="round"/>
<path d="M375.8 385.1l3.5-30.6 1-4.6 .5-.4 .5 1 1 5.4 2.5 22.8 1.5 8.3 .5 .7 1 .3 .5-.1 .5-.7 1-4 2.5-13.8 1-2.3 .5 .1 .5 .9 1 4 3.5 19.3 1.5 4.2 1 1.3 1 .7 3.5 .4 38.5 0 3-.1 1.5-.5 1.5-1.6 1.5-4.3 1.5-8.2 2.5-18.5 1-4.8 .5-.9 .5 .1 1 3.3 4 27.2 1 3.9 1.5 3 1.5 1.1 2 .3 21 0" fill="none" stroke="#2aa12a" stroke-width="1.8" stroke-linejoin="round"/>
<path d="M375.8 398l44 0 3.5-.5 1.5-1.5 1.5-3.7 1.5-6.9 2.5-15.2 1-3.6 .5-.6 .5 .3 1 3 3.5 20.2 1 3.7 .5 .3 1-3.3 1-5.6 3-21.6 1-3.7 .5-.3 .5 .8 1 4.3 2.5 18.5 1.5 8.5 1 3.4 1.5 2.5 1 .6 1.5 .3 5 0 1.5-.6 1.5-1.8 1-2.6 1-4.3 3.5-23.7 1-3.9 .5-.5 .5 .5 1 3.9 3 20.7 1 4.6 .5 1.1 .5 .4 .5-.2 1-2.5 3.5-19.2 1-2.6 .5-.1 .5 .7 1 3.8 3.5 19.4 1.5 4.4" fill="none" stroke="#0a0a0a" stroke-width="2" stroke-linejoin="round"/>
<text x="375.8" y="414.9" font-size="12" text-anchor="middle">A</text>
<text x="389.9" y="414.9" font-size="12" text-anchor="middle">A</text>
<text x="404" y="414.9" font-size="12" text-anchor="middle">C</text>
<text x="418.1" y="414.9" font-size="12" text-anchor="middle">T</text>
<text x="432.2" y="414.9" font-size="12" text-anchor="middle">G</text>
<text x="446.3" y="414.9" font-size="12" text-anchor="middle">G</text>
<text x="460.4" y="414.9" font-size="12" text-anchor="middle">A</text>
<text x="474.5" y="414.9" font-size="12" text-anchor="middle">G</text>
<text x="488.6" y="414.9" font-size="12" text-anchor="middle">G</text>
<path d="M102 56H629.5M88.2 78H629.5M88.2 163.5H629.5M88.2 249H629.5M88.2 334.5H497.7M88.2 419.6H497.7M88.2 78V419.6M102 56V419.6M234 56V419.6M366.3 56V419.6M497.7 56V419.6M629.5 56V249" fill="none" stroke="#111" stroke-width="1.9" stroke-linecap="square"/>
<text x="721.3" y="66" font-size="15.8" font-weight="bold">Original GoT-ChA</text>
<text x="975.6" y="66" font-size="15.8" font-weight="bold" class="c0">Multiplex-adapted GoT-ChA</text>
<circle cx="723.6" cy="92.9" r="4.8" fill="#94a5a5"/>
<text x="738.8" y="98.7" font-size="16.4">CA46 (n=2,756)</text>
<circle cx="723.6" cy="110.2" r="4.8" fill="#e8970c"/>
<text x="738.8" y="116" font-size="16.4">HEL (n=2,122)</text>
<circle cx="723.6" cy="127.5" r="4.8" fill="#d45fee"/>
<text x="738.8" y="133.3" font-size="16.4">OCI−AML3 (n=2,729)</text>
<circle cx="723.6" cy="144.8" r="4.8" fill="#2fd64f"/>
<text x="738.8" y="150.6" font-size="16.4">SET−2 (n=1,282)</text>
<circle cx="1001.4" cy="91.9" r="4.8" fill="#94a5a5"/>
<text x="1016" y="97.7" font-size="16.4">CA46 (n=2,458)</text>
<circle cx="1001.4" cy="109.2" r="4.8" fill="#e8970c"/>
<text x="1016" y="115" font-size="16.4">HEL (n=1,828)</text>
<circle cx="1001.4" cy="126.5" r="4.8" fill="#d45fee"/>
<text x="1016" y="132.3" font-size="16.4">OCI−AML3 (n=2,627)</text>
<circle cx="1001.4" cy="143.8" r="4.8" fill="#2fd64f"/>
<text x="1016" y="149.6" font-size="16.4">SET−2 (n=995)</text>
<path d="M698.6 199.2l5.3-11.2 5.9-11.3 7.2-5 8.7 .3 9.1 4.3 6.5 .8 6.1-1.1 7.2 1 5.8 5.2 7.7 7.6 7.7 7.7 5 3.2-3.6 4.6-6.1 6.1-6.1 6.9-5.9 6.6-11.7 1.5-9-3.1-12.3-2.3-15.2-2.3-7.3-3.6-4.6-6.4z" fill="#d45fee" stroke="#d45fee" stroke-width="1.2" stroke-linejoin="round"/>
<path transform="scale(.5)" d="M1397 398zm3-6zm3-6zm2-7zm4-5zm2-3zm4-7zm2-5zm2-6zm7-4zm5-3zm2-3zm9 0zm6 0zm7 2zm5 4zm6 3zm4 1zm7-1zm8 2zm6-1zm6-1zm9 1zm4 3zm6 3zm1 3zm4 2zm3 5zm4 3zm5 6zm5 3zm4 4zm3 4zm2 2zm5 5zm4 3zm5 4zm-4 5zm-5 5zm-3 4zm-4 2zm-5 5zm-3 4zm-4 3zm-4 5zm-5 7zm-3 3zm-2 5zm-8-1zm-5 1zm-9 0zm-5 0zm-6-1zm-6-2zm-4-2zm-8 0zm-5-1zm-8-2zm-5-2zm-6-1zm-5 0zm-7-1zm-7 0zm-5-3zm-4-1zm-6-4zm-3-3zm-3-3zm-4-6zm-2-4zm-1-8zm1-6z" stroke="#d45fee" stroke-width="6.4" stroke-linecap="round" fill="none"/>
<path d="M827.6 235.1l3.8-5.5 8.1-3.6 10.5-1.9 13.7-.3 13.6 .3 8.9 2.6 7.3 5.9 5.2 10.4 2.6 8.9-1.8 8.8-4.4 8.9-8.9 6.6-12 3.8-13.6 2.7-10.2-2.7-7.4-5.8-3.6-7.4-1.5-9.1-3.9-10.9-4.6-7.6z" fill="#94a5a5" stroke="#94a5a5" stroke-width="1.2" stroke-linejoin="round"/>
<path transform="scale(.5)" d="M1655 471zm5-8zm6-5zm3-3zm8-2zm5-1zm4-2zm4 0zm5-2zm8 0zm5 0zm6 0zm3 0zm5 0zm6 0zm6 0zm7-1zm4 0zm7 1zm6 1zm5 2zm6 1zm6 3zm6 4zm4 4zm1 2zm3 5zm5 8zm2 4zm2 5zm2 6zm2 7zm0 4zm-2 6zm-1 8zm-2 5zm-2 6zm-3 9zm-3 0zm-6 5zm-2 4zm-6 3zm-4 2zm-4 2zm-6 3zm-10 3zm-2 0zm-7 2zm-6 0zm-5 1zm-5 1zm-5 1zm-7-2zm-4-1zm-6-2zm-4-2zm-7-4zm-5-4zm-2-4zm-3-5zm-3-5zm-2-2zm-1-8zm0-7zm-2-5zm-2-6zm-1-3zm-3-7zm-2-6zm-3-5zm-3-5zm-4-5z" stroke="#94a5a5" stroke-width="6.4" stroke-linecap="round" fill="none"/>
<path d="M696.8 287.1l1.7-5.7 5-5 10.4-3.7 12.2-2.3 12.2-1.5 6.2-1 .5 4.5 6.3 2.4 2.8 6.4 1.4 7.3-2.9 7.3-3.7 6.7-5.2 4.4-7.4 3.7-7.3 1.2-7.3-1.9-7.6-4.6-9.1-3.8-5.8-5.8z" fill="#e8970c" stroke="#e8970c" stroke-width="1.2" stroke-linejoin="round"/>
<path transform="scale(.5)" d="M1393 574zm3-6zm4-7zm4-6zm5-3zm4-1zm7-2zm4-3zm6 0zm7-2zm6-2zm2 0zm8-1zm8-1zm4 0zm8-2zm5 0zm5-2zm6 4zm5 6zm4 2zm6 3zm1 6zm4 6zm0 7zm2 9zm-3 4zm0 3zm-4 9zm-3 6zm-5 5zm-7 6zm-2 3zm-4 1zm-8 3zm-6 2zm-4 1zm-9 1zm-6-3zm-8-2zm-6-2zm-4-3zm-7-4zm-5-2zm-4-2zm-9-5zm-3-2zm-3-4zm-2-4zm-2-7zm-3-5z" stroke="#e8970c" stroke-width="6.4" stroke-linecap="round" fill="none"/>
<path d="M758.8 349.9l.5-10.5 4.8-8 8.5-4.7 3.1-8.4 10.2-7.3 10 .7 4.2 4.9 3.1 7.8 6.4 4.8 7.5 3.8 4.3 5.6-1.5 9.3-4.3 5.7-4.4 2.9-2.4-5.3 .8-7.7-3.4-6.6-6.3-3.3-5-3.2-8.2 3.2-7.8 5.5-7.6 7.6-5.8 2.9z" fill="#2fd64f" stroke="#2fd64f" stroke-width="1.2" stroke-linejoin="round"/>
<path transform="scale(.5)" d="M1517 697zm0-5zm1-3zm0-8zm1-3zm2-6zm6-7zm5-4zm2-2zm6-4zm6-2zm2-8zm2-5zm1-3zm6-4zm7-6zm3-2zm9-2zm2 0zm11 0zm3 1zm7 8zm1 1zm3 8zm2 5zm3 3zm4 5zm4 2zm4 3zm4 2zm7 3zm4 4zm6 5zm1 7zm1 5zm-3 6zm-2 7zm-3 5zm-4 4zm-7 5zm-3-2zm-3-5zm-1-3zm2-9zm-1-7zm-3-9zm-5-3zm-5-5zm-6-2zm-5-3zm-6-2zm-7 2zm-4 1zm-5 2zm-4 4zm-9 5zm-3 4zm-2 2zm-7 6zm-4 3zm-3 3zm-4 3zm-6 3zm-8 0z" stroke="#2fd64f" stroke-width="6.4" stroke-linecap="round" fill="none"/>
<path d="M793.5 377.6l2-3.3 5.1-2.9 .9 3-.7 7-3 1.9-3.8-1.2z" fill="#2fd64f" stroke="#2fd64f" stroke-width="1.2" stroke-linejoin="round"/>
<path transform="scale(.5)" d="M1588 753zm3-6zm8-2zm2 1zm3 6zm-2 5zm-1 6zm-9 3zm-4-6z" stroke="#2fd64f" stroke-width="6.4" stroke-linecap="round" fill="none"/>
<path transform="scale(.5)" d="M1565 403zm-3 6zm9 37zm-55 134zm6 6zm95 110z" stroke="#94a5a5" stroke-width="7.2" stroke-linecap="round" fill="none"/>
<path transform="scale(.5)" d="M1420 419zm257 39zm-181 145zm-3 12z" stroke="#2fd64f" stroke-width="7.2" stroke-linecap="round" fill="none"/>
<path transform="scale(.5)" d="M1424 441zm6 1zm26 3zm43 8zm173 78zm-111 100zm13 1zm-56 55z" stroke="#e8970c" stroke-width="7.2" stroke-linecap="round" fill="none"/>
<path transform="scale(.5)" d="M1516 452zm165 27zm0 9zm-211 70zm117 71zm-42 47z" stroke="#d45fee" stroke-width="7.2" stroke-linecap="round" fill="none"/>
<path transform="scale(.5)" d="M1421 373zm52 2zm264 97zm9 0zm-31 17zm-14 15z" stroke="#fff" stroke-width="4" stroke-linecap="round" fill="none"/>
<path d="M964.8 201.4l1.4-5.8 3.8-6 3.9-7.7 2.9-5.9 5.6-4 8.8 0 9 2.7 7.9 3.1 7.6-1.5 7.2 2.9 6 7.5 7.8 7 7.6 3.8 2.7 3-4.4 4.7-6.1 6.2-6 6.8-7.5 5.2-7.3 3.7-8.8-3-10.8-1.6-12.2-2.2-9-2.3-6.5-5.1-2.9-5.7z" fill="#d45fee" stroke="#d45fee" stroke-width="1.2" stroke-linejoin="round"/>
<path transform="scale(.5)" d="M1930 402zm0-5zm2-8zm5-5zm5-8zm0-2zm4-8zm3-3zm4-7zm2-5zm6-4zm4-4zm7 1zm5 1zm7 0zm8 1zm5 3zm5 1zm3 3zm9 1zm5 1zm6-2zm3 0zm4 0zm8 3zm5 3zm6 6zm4 4zm2 4zm6 4zm3 4zm4 4zm4 3zm6 4zm4 2zm4 3zm5 5zm-6 6zm-2 3zm-7 6zm-2 2zm-4 5zm-3 4zm-7 6zm-3 4zm-2 2zm-9 6zm-2 1zm-5 4zm-6 1zm-6 1zm-4 0zm-5-2zm-6-4zm-7 0zm-5 0zm-6-1zm-6-1zm-6-1zm-7-2zm-6-1zm-6-1zm-6-1zm-3-1zm-8-3zm-3-4zm-5-3zm-5-4zm-1-5zm-2-4zm-2-6z" stroke="#d45fee" stroke-width="6.4" stroke-linecap="round" fill="none"/>
<path d="M1094.1 235.2l3.5-4.8 7.3-3.6 10.5-1.5 12.2-.8 12.1-.4 10.4 2.6 7.3 5.9 6 8.9 3 10.4-2.3 8.7-5.1 8.9-8.9 6.7-12 3.7-13.5 1.6-8.8-2.2-7.4-5.9-4.4-6.5 1.6-9.1-3.9-7.8-1.6-7.9-4.7-3.1z" fill="#94a5a5" stroke="#94a5a5" stroke-width="1.2" stroke-linejoin="round"/>
<path transform="scale(.5)" d="M2189 469zm4-6zm4-4zm4-2zm4 0zm8-4zm4 0zm5 0zm5-1zm5-1zm7-1zm8-1zm5 0zm5 1zm5 0zm8-2zm2 0zm9 1zm6 1zm4 0zm4 2zm6 2zm5 4zm5 3zm3 5zm6 6zm0 3zm5 5zm3 5zm1 3zm1 7zm2 3zm1 7zm-2 5zm-1 7zm-3 4zm-3 10zm-2 3zm-5 6zm-5 2zm-3 4zm-6 5zm-4 2zm-8 2zm-4 1zm-9 3zm-2 2zm-8 1zm-4 0zm-6 0zm-7 1zm-4-1zm-6-2zm-4-1zm-9-4zm-1-1zm-7-5zm-5-5zm-5-6zm-1-5zm0-8zm3-7zm-2-4zm-2-6zm-3-6zm-2-2zm-1-6zm-1-5zm-3-6zm-5-3zm-4-5z" stroke="#94a5a5" stroke-width="6.4" stroke-linecap="round" fill="none"/>
<path d="M962 285.7l2.6-5.7 5.7-4.3 8.9-2.2 9.3-.8 6.2-3.1 7.4-.7 8.6-.1 2.8 5 4.6 6.2 3.1 4.7 4.3 3.1-4.4 3.3-2.4 6.3-1.3 3.5-6.7 3.7-7.5 5.3-7.4 1.9-5.6-.4-6-5.3-10.7-4.6-7.5-6-3.6-4.2z" fill="#e8970c" stroke="#e8970c" stroke-width="1.2" stroke-linejoin="round"/>
<path transform="scale(.5)" d="M1925 570zm3-7zm3-5zm3-3zm10-5zm4 0zm5-2zm8 0zm4-1zm7-1zm6 0zm8-5zm5-1zm7-2zm6 1zm7-1zm5 0zm7 2zm1 3zm6 8zm2 4zm4 6zm4 5zm4 5zm2 1zm4 4zm-5 4zm-5 6zm-1 4zm-2 8zm-3 3zm-7 4zm-6 5zm-6 4zm-4 2zm-7 4zm-7 2zm-6 2zm-7 0zm-5-3zm-3-3zm-4-3zm-6-4zm-4-2zm-6-3zm-5-2zm-5-3zm-6-3zm-6-6zm-3-2zm-3-4zm-3-4zm0-6z" stroke="#e8970c" stroke-width="6.4" stroke-linecap="round" fill="none"/>
<path d="M1024.3 348.5l1.7-7.6 2.8-7.3 9-5.2 6.3-5.5 4.5-7.6 7.1-3.5 7.1 2.1 5.8 5.1 1.4 2.2-4.4 1.9-3.1 6.1-5.7 3.6-7.8 1.6-3.3 4-4.5 4.6-5.9 5.2-5.7 1.4z" fill="#2fd64f" stroke="#2fd64f" stroke-width="1.2" stroke-linejoin="round"/>
<path transform="scale(.5)" d="M2049 694zm1-7zm1-7zm4-5zm0-3zm5-7zm4-2zm4-1zm5-3zm4-3zm5-4zm3-3zm4-4zm3-7zm3-4zm3-4zm4-2zm6-2zm6-1zm5 2zm9 4zm5 3zm6 6zm0 2zm-9 6zm-3 7zm-5 6zm-4 3zm-8 3zm-3 0zm-6 1zm-5 2zm-5 6zm-5 7zm-7 5zm-2 3zm-5 3zm-6 3zm-4 1zm-4 0zm-7-1z" stroke="#2fd64f" stroke-width="6.4" stroke-linecap="round" fill="none"/>
<path d="M1068.5 326.1l1.8 .8 3.2 4.6 6.3 .9 5.6 3.4 .6 6.3-2.2 7.3-2.5 4.1-3.7-1.4-3.4-4.7 2.3-5.1-.9-6.8-4.7-3.2-2.1-3.4z" fill="#2fd64f" stroke="#2fd64f" stroke-width="1.2" stroke-linejoin="round"/>
<path transform="scale(.5)" d="M2138 653zm4 3zm2 3zm5 4zm6 2zm6 0zm5 4zm5 7zm0 3zm0 8zm-1 5zm-5 9zm-3 7zm-8-5zm-4-6zm0-4zm1-5zm2-6zm-2-4zm-2-9zm-4-3zm-4-3zm-4-6z" stroke="#2fd64f" stroke-width="6.4" stroke-linecap="round" fill="none"/>
<path d="M1058.9 377.6l2-3.4 5.1-3.5 1.2 3.7-.5 7-3.6 1.9-3.7-.5z" fill="#2fd64f" stroke="#2fd64f" stroke-width="1.2" stroke-linejoin="round"/>
<path transform="scale(.5)" d="M2119 752zm2-3zm9-5zm2-2zm3 11zm-2 5zm-1 4zm-5 4zm-9-3zm-1-3z" stroke="#2fd64f" stroke-width="6.4" stroke-linecap="round" fill="none"/>
<path transform="scale(.5)" d="M2022 360zm-78 79zm255 88zm-222 20zm67 26zm-4 14zm-79 23zm186 45zm-98 38z" stroke="#94a5a5" stroke-width="7.2" stroke-linecap="round" fill="none"/>
<path transform="scale(.5)" d="M1993 449zm219 5zm-160 122zm-17 26zm47 32zm8-2zm-16 15zm31 12z" stroke="#e8970c" stroke-width="7.2" stroke-linecap="round" fill="none"/>
<path transform="scale(.5)" d="M2244 513z" stroke="#d45fee" stroke-width="7.2" stroke-linecap="round" fill="none"/>
<path transform="scale(.5)" d="M1963 365zm46 2zm235 134z" stroke="#fff" stroke-width="4" stroke-linecap="round" fill="none"/>
<path d="M681.6 353.2V393.3H722.4" fill="none" stroke="#111" stroke-width="2.2"/>
<path d="M681.6 344.8l-7 14l7 -3.9l7 3.9z" fill="#111"/>
<path d="M730.8 393.3l-14 -7l3.9 7l-3.9 7z" fill="#111"/>
<text x="679.2" y="414.8" font-size="15.9">UMAP1</text>
<text x="668.3" y="395.5" font-size="15.9" transform="rotate(-90 668.3 395.5)">UMAP2</text>
<path d="M969.9 353.2V393.3H1010.6" fill="none" stroke="#111" stroke-width="2.2"/>
<path d="M969.9 344.8l-7 14l7 -3.9l7 3.9z" fill="#111"/>
<path d="M1019 393.3l-14 -7l3.9 7l-3.9 7z" fill="#111"/>
<text x="967.5" y="414.8" font-size="15.9">UMAP1</text>
<text x="956.6" y="395.5" font-size="15.9" transform="rotate(-90 956.6 395.5)">UMAP2</text>
<rect x="1295.3" y="29.4" width="70.1" height="7.8" fill="#e8970c"/>
<text x="1330.7" y="22.6" font-size="13" text-anchor="middle">HEL</text>
<rect x="1366.3" y="29.4" width="92.5" height="7.8" fill="#94a5a5"/>
<text x="1412.5" y="22.6" font-size="13" text-anchor="middle">CA46</text>
<rect x="1459.4" y="29.4" width="95.6" height="7.8" fill="#d45fee"/>
<text x="1507.2" y="22.6" font-size="13" text-anchor="middle">OCI-AML3</text>
<rect x="1555.6" y="29.4" width="41" height="7.8" fill="#2fd64f"/>
<text x="1575.9" y="22.6" font-size="13" text-anchor="middle">SET-2</text>
<text x="1291" y="51.5" font-size="8.4" text-anchor="end" class="c1">FAM135B</text>
<text x="1291" y="61.1" font-size="8.4" text-anchor="end" class="c1">AHRR</text>
<text x="1291" y="70.8" font-size="8.4" text-anchor="end" class="c1">LYST</text>
<text x="1291" y="80.5" font-size="8.4" text-anchor="end" class="c1">FBXL7</text>
<text x="1291" y="90.2" font-size="8.4" text-anchor="end" class="c1">GAS7</text>
<text x="1291" y="99.9" font-size="8.4" text-anchor="end" class="c1">ATP8B4</text>
<text x="1291" y="109.7" font-size="8.4" text-anchor="end" class="c1">HOXA10−HOXA9</text>
<text x="1291" y="119.3" font-size="8.4" text-anchor="end" class="c1">PHACTR3</text>
<text x="1291" y="129" font-size="8.4" text-anchor="end" class="c1">MKX</text>
<text x="1291" y="138.8" font-size="8.4" text-anchor="end" class="c1">SFMBT2</text>
<text x="1291" y="148.4" font-size="8.4" text-anchor="end" class="c1">RUBCNL</text>
<text x="1291" y="158.2" font-size="8.4" text-anchor="end" class="c1">HIP1</text>
<text x="1291" y="167.8" font-size="8.4" text-anchor="end" class="c1">STAG3</text>
<text x="1291" y="177.5" font-size="8.4" text-anchor="end" class="c1">POU2AF1</text>
<text x="1291" y="187.2" font-size="8.4" text-anchor="end" class="c1">KLF12</text>
<text x="1291" y="196.9" font-size="8.4" text-anchor="end" class="c1">MDS2</text>
<text x="1291" y="206.6" font-size="8.4" text-anchor="end" class="c1">DTX1</text>
<text x="1291" y="216.3" font-size="8.4" text-anchor="end" class="c1">LHPP</text>
<text x="1291" y="226" font-size="8.4" text-anchor="end" class="c1">FOXO1</text>
<text x="1291" y="235.7" font-size="8.4" text-anchor="end" class="c1">DIP2C</text>
<text x="1291" y="245.4" font-size="8.4" text-anchor="end" class="c1">FREM1</text>
<text x="1291" y="255.1" font-size="8.4" text-anchor="end" class="c1">NFIB</text>
<text x="1291" y="264.8" font-size="8.4" text-anchor="end" class="c1">TTC39B</text>
<text x="1291" y="274.6" font-size="8.4" text-anchor="end" class="c1">RCL1</text>
<text x="1291" y="284.2" font-size="8.4" text-anchor="end" class="c1">BNC2</text>
<text x="1291" y="293.9" font-size="8.4" text-anchor="end" class="c1">MLLT3</text>
<text x="1291" y="303.6" font-size="8.4" text-anchor="end" class="c1">CNTLN</text>
<text x="1291" y="313.4" font-size="8.4" text-anchor="end" class="c1">JAK2</text>
<text x="1291" y="323.1" font-size="8.4" text-anchor="end" class="c1">RIC1</text>
<text x="1291" y="332.8" font-size="8.4" text-anchor="end" class="c1">GRIK4</text>
<text x="1291" y="342.4" font-size="8.4" text-anchor="end" class="c1">ERG</text>
<text x="1291" y="352.1" font-size="8.4" text-anchor="end" class="c1">AGPAT3</text>
<text x="1291" y="361.9" font-size="8.4" text-anchor="end" class="c1">COL18A1</text>
<text x="1291" y="371.6" font-size="8.4" text-anchor="end" class="c1">DYRK1A</text>
<text x="1291" y="381.2" font-size="8.4" text-anchor="end" class="c1">HLCS</text>
<text x="1291" y="390.9" font-size="8.4" text-anchor="end" class="c1">ADARB1</text>
<text x="1291" y="400.6" font-size="8.4" text-anchor="end" class="c1">C2CD2</text>
<text x="1291" y="410.4" font-size="8.4" text-anchor="end" class="c1">KCNJ6</text>
<text x="1291" y="420.1" font-size="8.4" text-anchor="end" class="c1">DSCR3</text>
<text x="1291" y="429.8" font-size="8.4" text-anchor="end" class="c1">KANK1</text>
<rect x="1295.3" y="43.6" width="301.3" height="388" fill="rgb(38,10,143)"/>
<path transform="scale(.25)" d="M5181 194h15m8 0h46m15 0h8m8 0h7m15 0h8m31 0h7m8 0h8m7 0h23m8 0h7m23 0h16m30 0h8m30 0h8m38 0h15m46 0h15m7 0h8m8 0h7m8 0h7m16 0h45m15 0h8m23 0h7m8 0h15m151 0h8m68 0h7m136 0h8m22 0h8m37 0h8m15 0h7m23 0h7m30 0h15m-1190 39h8m7 0h8m8 0h15m31 0h7m31 0h15m8 0h7m46 0h8m8 0h7m38 0h8m61 0h8m22 0h8m8 0h7m31 0h7m23 0h8m15 0h7m16 0h7m15 0h8m38 0h8m15 0h7m8 0h8m22 0h8m8 0h7m53 0h8m135 0h8m234 0h7m75 0h8m-1145 38h8m23 0h7m23 0h8m23 0h7m62 0h7m16 0h15m61 0h8m45 0h8m7 0h8m30 0h16m15 0h23m7 0h8m7 0h16m38 0h7m23 0h8m45 0h15m38 0h8m45 0h8m151 0h7m196 0h8m30 0h7m8 0h7m30 0h8m7 0h8m7 0h8m-1167 39h7m39 0h15m8 0h15m7 0h8m31 0h15m23 0h15m23 0h8m76 0h8m22 0h8m8 0h7m38 0h8m15 0h8m7 0h8m23 0h7m8 0h15m38 0h8m38 0h7m23 0h8m45 0h8m37 0h8m105 0h8m75 0h16m15 0h7m136 0h22m8 0h30m-1069 39h8m8 0h15m23 0h7m23 0h8m53 0h8m8 0h7m107 0h8m30 0h30m23 0h8m23 0h30m46 0h15m76 0h7m347 0h8m8 0h7m30 0h8m30 0h7m23 0h7m8 0h7m38 0h15m-1167 39h7m62 0h7m38 0h8m23 0h15m8 0h15m54 0h7m8 0h8m15 0h7m114 0h8m15 0h8m23 0h7m31 0h7m8 0h7m311 0h7m128 0h8m83 0h7m53 0h7m38 0h7m8 0h7m-1205 39h8m61 0h8m15 0h8m15 0h7m8 0h8m15 0h8m61 0h15m69 0h30m8 0h15m8 0h7m8 0h7m8 0h8m7 0h8m7 0h8m23 0h7m16 0h7m23 0h8m7 0h8m15 0h8m22 0h8m8 0h7m8 0h15m8 0h15m98 0h7m68 0h8m53 0h7m38 0h15m121 0h7m38 0h7m23 0h15m7 0h8m7 0h8m15 0h7m-1205 38h23m15 0h8m8 0h23m30 0h8m15 0h23m31 0h7m16 0h22m8 0h15m69 0h8m22 0h8m8 0h7m8 0h7m23 0h8m7 0h8m15 0h8m30 0h23m38 0h23m7 0h8m8 0h15m30 0h8m90 0h8m181 0h8m37 0h8m83 0h15m7 0h8m15 0h15m15 0h7m8 0h7m30 0h15m-1182 39h8m38 0h8m23 0h15m30 0h8m15 0h8m8 0h15m15 0h15m62 0h15m15 0h8m15 0h7m23 0h8m15 0h8m30 0h8m15 0h7m31 0h7m8 0h8m15 0h15m53 0h8m7 0h8m61 0h7m38 0h7m15 0h8m181 0h8m83 0h15m15 0h15m30 0h7m30 0h8m15 0h15m-1168 39h8m8 0h7m8 0h23m38 0h15m8 0h15m46 0h8m8 0h7m23 0h8m53 0h8m15 0h8m15 0h23m15 0h7m16 0h7m8 0h7m38 0h8m8 0h30m8 0h7m8 0h23m91 0h7m23 0h8m7 0h8m120 0h15m53 0h8m38 0h7m53 0h7m16 0h7m30 0h8m37 0h8m67 0h8m-1183 39h15m31 0h8m30 0h8m145 0h15m16 0h7m23 0h8m38 0h7m38 0h8m15 0h8m7 0h8m220 0h8m7 0h8m15 0h8m45 0h15m8 0h7m23 0h30m7 0h16m7 0h23m22 0h8m30 0h15m15 0h8m30 0h23m7 0h15m8 0h7m38 0h37m-1122 39h8m53 0h8m15 0h8m76 0h8m15 0h8m190 0h8m23 0h7m15 0h16m114 0h15m60 0h8m15 0h15m15 0h8m60 0h8m90 0h23m90 0h8m53 0h7m30 0h8m22 0h8m15 0h7m15 0h8m7 0h8m-1137 38h8m38 0h8m15 0h15m8 0h8m46 0h15m7 0h31m53 0h8m8 0h7m221 0h7m76 0h8m128 0h8m7 0h8m53 0h15m45 0h7m16 0h22m53 0h8m22 0h15m15 0h15m15 0h15m23 0h7m15 0h15m-1175 39h46m54 0h30m46 0h8m15 0h8m7 0h8m7 0h8m8 0h15m53 0h8m38 0h8m53 0h7m107 0h7m99 0h8m15 0h7m38 0h15m8 0h15m15 0h8m15 0h7m23 0h7m8 0h7m53 0h8m7 0h23m8 0h15m22 0h15m23 0h8m15 0h7m15 0h8m60 0h22m8 0h22m-1175 39h8m23 0h7m23 0h8m31 0h7m15 0h8m77 0h7m77 0h7m46 0h7m92 0h7m8 0h15m46 0h7m129 0h8m7 0h8m8 0h7m15 0h8m7 0h15m15 0h8m8 0h7m8 0h15m30 0h7m16 0h7m8 0h7m91 0h15m15 0h15m83 0h7m30 0h15m-1145 39h8m15 0h15m62 0h7m8 0h7m16 0h23m7 0h16m30 0h15m23 0h8m8 0h7m16 0h7m281 0h8m106 0h15m8 0h15m15 0h15m15 0h15m15 0h8m7 0h8m7 0h8m23 0h7m8 0h15m53 0h7m23 0h7m8 0h23m7 0h8m7 0h8m7 0h15m30 0h15m15 0h23m7 0h8m22 0h8m-1198 39h23m54 0h15m46 0h7m16 0h7m16 0h7m8 0h8m7 0h54m7 0h8m106 0h8m281 0h15m15 0h8m45 0h15m53 0h7m23 0h8m15 0h15m68 0h7m15 0h8m23 0h15m30 0h7m8 0h15m7 0h8m37 0h8m22 0h8m-1183 38h8m23 0h7m31 0h8m45 0h8m8 0h7m16 0h7m8 0h8m99 0h8m235 0h8m38 0h7m76 0h8m30 0h8m98 0h7m76 0h7m15 0h8m83 0h15m98 0h15m60 0h7m-1159 39h7m23 0h16m7 0h8m15 0h8m15 0h8m23 0h7m69 0h15m23 0h8m15 0h8m30 0h8m30 0h8m76 0h7m54 0h7m8 0h7m31 0h7m122 0h7m8 0h7m83 0h8m30 0h15m38 0h7m53 0h8m22 0h8m23 0h7m120 0h8m7 0h8m30 0h7m-1190 39h8m31 0h7m16 0h23m53 0h8m38 0h8m7 0h8m7 0h8m54 0h7m137 0h8m53 0h7m54 0h7m38 0h8m106 0h7m30 0h8m23 0h7m15 0h8m15 0h15m8 0h7m8 0h7m30 0h8m15 0h8m7 0h8m15 0h7m106 0h15m30 0h7m8 0h7m-1007 39h7m153 0h15m31 0h7m16 0h7m8 0h7m76 0h16m22 0h8m8 0h7m69 0h7m61 0h23m22 0h8m7 0h8m7 0h8m45 0h8m7 0h15m8 0h7m8 0h23m7 0h15m15 0h8m7 0h16m7 0h8m7 0h8m15 0h15m15 0h8m15 0h15m22 0h15m38 0h15m15 0h7m8 0h15m15 0h7m-1128 39h7m77 0h7m16 0h7m23 0h8m114 0h8m68 0h8m30 0h8m7 0h16m38 0h15m30 0h8m7 0h8m8 0h7m61 0h15m30 0h8m90 0h15m15 0h8m15 0h8m60 0h8m7 0h8m15 0h7m8 0h15m30 0h15m8 0h7m15 0h15m15 0h8m-1108 38h8m237 0h7m39 0h15m15 0h8m30 0h8m15 0h7m38 0h8m38 0h8m22 0h8m61 0h7m23 0h8m30 0h8m7 0h15m8 0h23m22 0h8m7 0h8m53 0h7m15 0h8m23 0h15m22 0h8m15 0h7m38 0h8m15 0h7m8 0h15m15 0h8m22 0h38m7 0h8m15 0h7m15 0h15m15 0h8m-1114 39h8m122 0h8m15 0h7m54 0h15m76 0h8m7 0h8m8 0h15m30 0h15m16 0h7m8 0h7m31 0h15m8 0h15m30 0h8m7 0h31m45 0h8m7 0h8m15 0h7m31 0h7m8 0h7m15 0h15m61 0h7m15 0h15m16 0h7m23 0h7m8 0h7m53 0h8m15 0h7m15 0h8m7 0h30m-1053 39h7m69 0h8m145 0h7m23 0h23m15 0h8m7 0h8m61 0h7m61 0h8m7 0h8m8 0h7m23 0h23m7 0h16m75 0h8m7 0h8m15 0h7m16 0h7m23 0h7m23 0h7m23 0h8m45 0h7m46 0h7m46 0h15m30 0h7m75 0h15m-1007 39h8m15 0h8m99 0h15m23 0h8m15 0h7m16 0h30m8 0h7m8 0h23m30 0h8m30 0h8m68 0h8m15 0h15m38 0h7m38 0h8m15 0h7m23 0h15m38 0h7m8 0h7m23 0h8m60 0h8m7 0h8m37 0h8m15 0h8m15 0h7m15 0h8m22 0h23m22 0h8m7 0h8m15 0h7m15 0h8m-1030 39h8m23 0h8m76 0h8m60 0h8m114 0h8m30 0h15m15 0h16m7 0h8m7 0h16m30 0h8m7 0h8m22 0h8m15 0h8m22 0h8m22 0h8m8 0h7m38 0h7m8 0h7m23 0h8m45 0h7m23 0h8m15 0h7m30 0h8m15 0h15m60 0h8m15 0h7m23 0h7m8 0h7m8 0h7m-1167 38h8m23 0h7m31 0h8m84 0h7m138 0h22m54 0h7m15 0h8m15 0h8m45 0h38m8 0h8m7 0h15m54 0h7m76 0h7m23 0h7m8 0h8m15 0h7m83 0h15m98 0h8m15 0h8m30 0h30m67 0h8m30 0h7m-1190 39h8m7 0h16m15 0h8m244 0h15m23 0h8m7 0h8m23 0h7m8 0h8m60 0h8m15 0h15m8 0h15m31 0h7m38 0h8m7 0h8m136 0h8m22 0h8m37 0h16m7 0h15m30 0h15m8 0h8m45 0h15m45 0h8m135 0h7m-1083 39h8m137 0h8m38 0h8m30 0h8m68 0h8m7 0h8m38 0h8m22 0h8m23 0h15m53 0h8m113 0h8m38 0h7m15 0h8m15 0h22m23 0h8m30 0h7m15 0h8m45 0h8m7 0h8m7 0h8m23 0h7m60 0h8m-1039 39h8m38 0h7m16 0h7m16 0h7m39 0h15m84 0h7m16 0h15m30 0h8m23 0h7m8 0h7m8 0h8m114 0h7m8 0h15m38 0h8m15 0h7m38 0h8m22 0h8m15 0h7m38 0h8m22 0h8m7 0h8m121 0h7m46 0h7m8 0h7m120 0h8m-1145 39h8m30 0h8m31 0h15m46 0h7m23 0h8m61 0h8m23 0h7m38 0h8m7 0h8m8 0h7m8 0h15m61 0h15m8 0h7m23 0h8m60 0h8m38 0h8m75 0h8m120 0h8m30 0h8m7 0h15m68 0h8m30 0h15m75 0h8m30 0h7m30 0h8m-1099 38h8m76 0h23m38 0h8m38 0h8m198 0h7m53 0h8m30 0h8m15 0h8m30 0h8m143 0h8m30 0h7m46 0h7m23 0h7m76 0h7m106 0h7m8 0h7m-1130 39h8m15 0h15m39 0h7m46 0h8m38 0h15m31 0h7m16 0h7m46 0h8m7 0h8m15 0h15m8 0h8m7 0h8m30 0h8m7 0h16m15 0h7m46 0h8m121 0h8m22 0h16m22 0h8m37 0h8m8 0h7m30 0h8m45 0h8m30 0h7m38 0h8m60 0h8m7 0h15m15 0h8m75 0h7m-1145 39h15m31 0h8m7 0h8m53 0h8m77 0h7m8 0h7m8 0h8m38 0h8m7 0h8m30 0h8m68 0h15m38 0h16m7 0h8m38 0h7m16 0h7m15 0h8m30 0h8m136 0h8m22 0h8m7 0h8m7 0h8m15 0h23m22 0h8m7 0h23m53 0h7m128 0h8m45 0h7m-1144 39h7m8 0h8m61 0h7m62 0h7m16 0h7m23 0h15m8 0h15m16 0h7m38 0h8m7 0h8m8 0h15m76 0h7m69 0h7m54 0h7m23 0h8m15 0h7m38 0h8m15 0h15m15 0h7m83 0h8m8 0h15m15 0h7m15 0h8m53 0h7m23 0h7m8 0h8m7 0h8m45 0h7m38 0h7m-1115 39h8m23 0h8m7 0h8m8 0h7m115 0h8m61 0h7m8 0h8m15 0h15m8 0h7m69 0h7m8 0h7m23 0h8m68 0h8m30 0h15m61 0h8m68 0h7m8 0h7m46 0h7m23 0h30m23 0h30m38 0h15m7 0h8m30 0h7m151 0h7m-1122 38h8m38 0h8m15 0h8m30 0h8m76 0h16m15 0h8m53 0h15m23 0h8m15 0h15m15 0h31m53 0h7m31 0h7m46 0h8m7 0h8m7 0h8m8 0h15m38 0h7m8 0h7m30 0h8m15 0h8m52 0h15m53 0h8m38 0h7m83 0h8m30 0h7m-963 39h8m7 0h8m54 0h7m54 0h7m46 0h8m15 0h8m38 0h7m76 0h8m53 0h8m22 0h8m38 0h8m60 0h8m83 0h15m15 0h8m22 0h8m7 0h8m23 0h7m8 0h7m23 0h7m38 0h8m68 0h7m53 0h7m68 0h7m-1160 39h8m15 0h8m7 0h23m69 0h8m30 0h8m15 0h8m30 0h23m23 0h8m30 0h8m15 0h8m38 0h23m22 0h16m22 0h8m23 0h7m31 0h7m8 0h15m8 0h15m8 0h15m30 0h8m7 0h8m53 0h15m15 0h7m31 0h7m8 0h7m83 0h8m15 0h7m53 0h8m38 0h15m22 0h8m22 0h8" stroke="#2411ad" stroke-width="39.1" fill="none"/>
<path transform="scale(.25)" d="M5365 194h7m122 0h8m23 0h7m16 0h7m243 0h8m234 0h8m181 0h15m15 0h7m75 0h8m-1099 39h8m68 0h23m92 0h8m15 0h15m91 0h8m15 0h8m45 0h8m38 0h8m60 0h8m15 0h8m211 0h8m60 0h15m181 0h15m-1069 38h15m122 0h16m107 0h7m31 0h7m8 0h7m8 0h15m38 0h8m23 0h7m91 0h8m333 0h7m61 0h15m45 0h8m75 0h7m38 0h7m8 0h7m23 0h7m-1152 39h8m168 0h8m46 0h7m31 0h7m61 0h8m38 0h7m99 0h8m45 0h16m15 0h7m152 0h7m91 0h7m15 0h8m166 0h7m-1070 39h8m122 0h8m46 0h7m84 0h8m53 0h8m7 0h8m76 0h15m15 0h8m144 0h8m144 0h7m174 0h7m143 0h8m7 0h8m-1085 39h16m23 0h7m84 0h8m69 0h7m99 0h8m15 0h8m53 0h8m22 0h8m23 0h7m38 0h8m53 0h8m151 0h15m91 0h7m45 0h8m38 0h15m68 0h7m75 0h8m30 0h7m-801 39h8m7 0h8m23 0h7m228 0h15m23 0h23m15 0h7m15 0h23m15 0h15m23 0h7m16 0h22m15 0h15m15 0h8m15 0h8m7 0h8m22 0h8m7 0h8m8 0h22m-872 38h8m130 0h7m152 0h8m46 0h7m8 0h7m235 0h8m45 0h7m31 0h7m15 0h8m60 0h8m53 0h7m158 0h7m-1190 39h8m221 0h8m114 0h8m61 0h15m84 0h7m53 0h8m61 0h7m23 0h8m37 0h8m30 0h15m8 0h22m38 0h15m98 0h15m30 0h23m98 0h7m23 0h7m-1160 39h8m92 0h7m122 0h8m46 0h8m15 0h7m122 0h8m182 0h8m90 0h15m136 0h15m76 0h7m136 0h7m23 0h7m-1076 39h8m38 0h7m54 0h8m23 0h7m99 0h16m38 0h7m274 0h7m68 0h8m7 0h8m151 0h7m129 0h7m113 0h7m-1114 39h8m15 0h8m15 0h15m23 0h8m84 0h7m8 0h8m7 0h16m7 0h8m76 0h8m30 0h8m15 0h7m8 0h8m38 0h7m84 0h7m8 0h8m60 0h8m23 0h7m15 0h8m15 0h7m15 0h8m91 0h7m128 0h8m38 0h22m105 0h8m-992 38h8m289 0h8m7 0h8m15 0h8m355 0h8m151 0h7m45 0h8m-825 39h7m16 0h7m8 0h7m31 0h7m54 0h7m15 0h8m258 0h15m83 0h8m22 0h8m23 0h7m204 0h7m120 0h8m-1183 39h8m61 0h8m46 0h7m46 0h8m15 0h8m137 0h8m45 0h15m99 0h8m114 0h7m46 0h7m53 0h8m30 0h15m7 0h8m113 0h8m7 0h8m68 0h7m83 0h7m60 0h15m-1167 39h8m298 0h7m38 0h8m8 0h7m99 0h8m7 0h8m76 0h7m61 0h8m188 0h8m37 0h8m8 0h7m15 0h8m233 0h7m-846 39h8m60 0h8m152 0h8m196 0h8m98 0h7m-889 38h16m15 0h8m76 0h8m46 0h7m77 0h7m16 0h15m30 0h8m137 0h7m46 0h7m84 0h8m98 0h15m30 0h8m7 0h8m166 0h7m8 0h7m91 0h7m38 0h7m38 0h15m-1183 39h8m15 0h8m145 0h8m15 0h8m7 0h8m61 0h15m152 0h8m68 0h8m76 0h7m16 0h7m68 0h8m30 0h7m76 0h7m46 0h7m15 0h15m61 0h7m8 0h7m31 0h7m8 0h7m45 0h15m23 0h7m45 0h8m-1190 39h7m85 0h7m23 0h23m54 0h7m23 0h8m152 0h8m7 0h15m31 0h7m61 0h8m15 0h8m98 0h8m38 0h7m174 0h7m23 0h7m16 0h7m60 0h8m38 0h7m45 0h15m-993 39h8m15 0h8m38 0h8m84 0h8m45 0h8m182 0h8m106 0h8m241 0h8m121 0h7m23 0h7m30 0h8m-1024 39h8m175 0h8m23 0h15m15 0h8m76 0h8m15 0h7m311 0h8m23 0h7m113 0h15m106 0h8m127 0h8m30 0h7m-1060 38h8m15 0h8m76 0h8m84 0h7m84 0h7m38 0h8m15 0h8m15 0h8m45 0h8m15 0h15m23 0h15m136 0h8m45 0h7m61 0h7m15 0h8m241 0h7m-961 39h8m53 0h8m46 0h7m15 0h8m114 0h8m30 0h8m76 0h7m8 0h7m99 0h15m7 0h8m53 0h7m61 0h7m98 0h8m15 0h7m31 0h7m15 0h8m7 0h8m75 0h7m23 0h7m-1190 39h15m8 0h15m54 0h8m84 0h7m92 0h15m198 0h7m76 0h8m23 0h7m31 0h7m83 0h8m38 0h7m53 0h8m75 0h8m37 0h8m15 0h7m53 0h8m15 0h7m75 0h8m15 0h7m-1121 39h8m84 0h7m46 0h8m91 0h8m76 0h8m45 0h8m38 0h7m198 0h7m76 0h7m53 0h8m166 0h7m53 0h7m90 0h8m-1183 39h8m15 0h8m229 0h8m137 0h7m69 0h7m84 0h7m23 0h8m174 0h7m8 0h15m38 0h7m8 0h7m76 0h7m53 0h8m67 0h8m82 0h8m-816 38h7m205 0h8m219 0h8m22 0h8m15 0h15m61 0h7m76 0h22m53 0h7m38 0h7m53 0h7m-1167 39h8m8 0h7m115 0h15m92 0h8m30 0h15m114 0h8m167 0h53m23 0h7m8 0h7m8 0h7m8 0h7m76 0h7m46 0h15m22 0h8m15 0h8m22 0h8m38 0h7m60 0h15m30 0h8m7 0h8m-1107 39h8m61 0h7m16 0h7m8 0h8m15 0h8m53 0h8m76 0h8m22 0h8m129 0h8m30 0h8m15 0h8m68 0h8m83 0h7m76 0h7m106 0h7m23 0h8m128 0h7m8 0h7m75 0h30m-1098 39h8m38 0h8m76 0h15m8 0h15m16 0h7m190 0h23m30 0h8m46 0h15m23 0h15m15 0h7m38 0h8m83 0h7m61 0h7m23 0h7m15 0h8m53 0h7m-949 39h16m122 0h8m23 0h7m92 0h7m8 0h8m15 0h7m54 0h7m8 0h7m16 0h7m38 0h15m107 0h7m16 0h15m53 0h7m30 0h23m15 0h8m7 0h8m53 0h7m8 0h7m166 0h8m15 0h7m-1062 38h23m107 0h7m8 0h8m30 0h16m61 0h7m8 0h8m7 0h8m30 0h8m30 0h8m38 0h15m114 0h8m15 0h7m38 0h8m30 0h15m8 0h8m22 0h8m60 0h15m30 0h8m68 0h7m129 0h7m8 0h7m23 0h7m90 0h8m-1145 39h8m15 0h8m84 0h8m145 0h7m8 0h8m159 0h8m30 0h15m23 0h8m38 0h7m16 0h7m136 0h8m45 0h15m8 0h7m8 0h7m144 0h7m60 0h8m-1055 39h8m46 0h8m45 0h23m31 0h8m84 0h7m61 0h8m30 0h8m30 0h8m190 0h7m61 0h7m38 0h7m272 0h8m127 0h8m-1160 39h7m8 0h8m53 0h8m137 0h8m122 0h8m83 0h8m53 0h8m151 0h8m30 0h8m22 0h8m30 0h8m15 0h7m23 0h7m8 0h8m15 0h7m38 0h7m38 0h8m7 0h8m22 0h8m30 0h8m67 0h8m52 0h8m-1145 39h8m130 0h8m30 0h8m23 0h7m8 0h8m106 0h8m15 0h8m83 0h8m152 0h7m8 0h7m16 0h7m30 0h8m75 0h8m113 0h8m15 0h7m45 0h8m165 0h8m-1183 38h15m77 0h8m15 0h7m54 0h15m8 0h8m7 0h8m69 0h7m8 0h15m15 0h8m114 0h7m16 0h7m137 0h8m30 0h7m38 0h8m7 0h8m121 0h7m106 0h7m166 0h7m30 0h8m-1175 39h7m8 0h8m15 0h15m115 0h8m7 0h16m22 0h8m38 0h16m15 0h7m23 0h15m23 0h8m7 0h8m30 0h16m22 0h8m23 0h7m16 0h7m23 0h8m7 0h8m76 0h7m68 0h15m76 0h7m38 0h8m37 0h8m53 0h15m30 0h8m15 0h7m75 0h8m37 0h8m-1153 39h8m191 0h8m84 0h7m8 0h8m144 0h8m38 0h7m38 0h8m15 0h8m15 0h7m46 0h7m16 0h7m45 0h8m83 0h7m8 0h8m128 0h15m38 0h15m60 0h7m75 0h8" stroke="#231fc9" stroke-width="39.1" fill="none"/>
<path transform="scale(.25)" d="M5196 194h8m115 0h7m100 0h7m160 0h8m7 0h8m38 0h8m91 0h7m250 0h7m-775 39h8m153 0h15m61 0h8m30 0h8m175 0h7m15 0h8m8 0h15m53 0h8m7 0h8m211 0h8m181 0h15m7 0h8m22 0h8m7 0h8m7 0h8m30 0h7m-1167 38h7m46 0h16m15 0h8m99 0h8m15 0h7m46 0h8m175 0h7m31 0h7m61 0h8m257 0h7m23 0h8m98 0h7m30 0h8m68 0h7m-1031 39h7m115 0h15m31 0h7m46 0h8m8 0h15m23 0h7m122 0h7m46 0h15m8 0h7m122 0h7m91 0h8m271 0h8m30 0h7m68 0h7m8 0h7m-1160 39h8m23 0h8m61 0h7m54 0h8m53 0h8m76 0h8m60 0h8m61 0h7m107 0h7m8 0h8m75 0h8m113 0h8m30 0h7m31 0h7m189 0h7m90 0h8m-1107 39h8m23 0h8m22 0h16m15 0h15m46 0h8m15 0h8m15 0h8m23 0h7m15 0h8m15 0h15m31 0h7m31 0h7m31 0h7m23 0h8m15 0h8m38 0h22m8 0h8m15 0h7m16 0h7m91 0h7m61 0h7m53 0h8m173 0h8m15 0h15m82 0h8m-954 39h8m114 0h8m106 0h8m190 0h7m31 0h7m23 0h15m45 0h15m15 0h15m15 0h16m22 0h8m22 0h8m53 0h22m8 0h7m8 0h8m60 0h7m15 0h8m-1062 38h8m237 0h7m107 0h7m69 0h7m84 0h7m107 0h7m15 0h8m30 0h7m38 0h8m37 0h8m15 0h8m30 0h7m38 0h8m37 0h8m7 0h16m105 0h7m-1115 39h8m252 0h8m30 0h8m243 0h8m38 0h7m46 0h7m31 0h7m8 0h7m15 0h15m23 0h8m22 0h38m15 0h8m22 0h23m38 0h7m15 0h8m15 0h7m158 0h8m-1091 39h15m30 0h8m54 0h7m54 0h15m69 0h7m38 0h8m7 0h8m160 0h7m182 0h7m31 0h15m60 0h8m60 0h8m15 0h7m121 0h7m8 0h7m45 0h8m15 0h7m-801 39h8m152 0h7m46 0h8m30 0h8m422 0h8m30 0h7m45 0h8m-1122 39h7m23 0h8m53 0h8m38 0h8m92 0h7m99 0h8m356 0h8m30 0h15m8 0h7m76 0h7m30 0h8m23 0h7m38 0h7m8 0h8m75 0h7m23 0h7m68 0h7m-1105 38h7m8 0h7m39 0h7m123 0h7m395 0h8m362 0h7m23 0h7m98 0h7m-1121 39h8m92 0h15m76 0h8m91 0h8m83 0h8m182 0h8m143 0h8m151 0h7m76 0h7m23 0h7m8 0h7m45 0h8m-977 39h8m68 0h8m456 0h7m113 0h8m15 0h8m22 0h8m7 0h8m15 0h8m15 0h7m53 0h23m15 0h7m30 0h8m60 0h7m8 0h22m-1175 39h8m31 0h7m23 0h16m30 0h8m183 0h15m160 0h7m16 0h7m91 0h16m22 0h8m23 0h7m45 0h8m-616 39h8m30 0h8m107 0h8m30 0h15m122 0h7m46 0h8m22 0h8m91 0h8m264 0h7m53 0h8m53 0h7m-986 38h7m23 0h8m8 0h7m46 0h8m46 0h7m61 0h8m266 0h8m113 0h16m60 0h7m68 0h8m7 0h8m15 0h8m68 0h7m83 0h8m15 0h7m45 0h8m37 0h8m7 0h8m30 0h7m-1090 39h7m16 0h7m39 0h15m23 0h15m31 0h7m388 0h15m75 0h8m98 0h8m22 0h8m22 0h8m8 0h7m121 0h7m15 0h8m30 0h7m38 0h7m-1152 39h8m30 0h16m38 0h7m123 0h30m23 0h8m144 0h8m23 0h7m53 0h8m129 0h8m52 0h8m68 0h7m23 0h8m37 0h8m83 0h7m23 0h8m7 0h8m7 0h8m45 0h7m15 0h8m22 0h15m-1083 39h7m480 0h8m15 0h8m7 0h8m226 0h8m181 0h8m30 0h7m-917 39h8m168 0h7m152 0h15m8 0h8m30 0h8m15 0h7m54 0h7m76 0h7m53 0h8m45 0h7m8 0h15m8 0h7m98 0h8m15 0h7m53 0h8m75 0h7m-778 38h7m15 0h8m144 0h8m61 0h7m84 0h7m166 0h15m61 0h7m30 0h8m135 0h8m-840 39h8m61 0h7m69 0h7m38 0h8m23 0h7m46 0h7m8 0h8m60 0h8m7 0h8m83 0h8m7 0h8m68 0h7m38 0h7m15 0h16m7 0h8m52 0h8m8 0h15m165 0h7m-1151 39h7m184 0h7m61 0h8m76 0h23m7 0h8m8 0h15m30 0h8m15 0h15m107 0h15m38 0h7m8 0h7m159 0h22m121 0h8m82 0h8m15 0h7m-1023 39h8m214 0h7m190 0h8m38 0h7m76 0h8m113 0h8m52 0h8m45 0h8m22 0h8m143 0h8m-833 39h7m130 0h7m8 0h8m7 0h8m15 0h8m22 0h8m23 0h7m145 0h22m76 0h7m83 0h8m75 0h8m45 0h30m16 0h7m15 0h8m15 0h7m8 0h7m45 0h8m7 0h8m-802 38h8m38 0h8m136 0h8m8 0h7m99 0h7m8 0h8m37 0h8m22 0h8m30 0h8m30 0h7m83 0h8m203 0h8m22 0h8m-794 39h8m30 0h8m15 0h8m60 0h8m61 0h7m99 0h8m52 0h8m30 0h8m218 0h8m45 0h8m15 0h7m23 0h7m53 0h15m-900 39h8m174 0h8m23 0h7m16 0h7m38 0h31m53 0h7m15 0h8m8 0h7m8 0h7m30 0h8m38 0h7m76 0h15m7 0h8m7 0h8m23 0h7m38 0h7m8 0h7m8 0h8m7 0h8m30 0h7m15 0h8m22 0h8m15 0h7m15 0h15m-1175 39h8m46 0h15m99 0h8m46 0h7m46 0h8m15 0h8m15 0h8m15 0h15m30 0h8m46 0h22m16 0h7m23 0h8m30 0h8m7 0h8m38 0h7m212 0h7m23 0h8m68 0h15m52 0h8m-933 39h7m8 0h8m15 0h7m46 0h8m38 0h8m46 0h7m84 0h8m60 0h8m99 0h7m16 0h22m8 0h15m76 0h8m7 0h8m15 0h7m121 0h8m52 0h8m45 0h15m61 0h7m30 0h8m105 0h7m-1121 38h15m16 0h7m38 0h8m54 0h7m8 0h7m8 0h8m46 0h7m8 0h7m54 0h7m23 0h15m23 0h23m7 0h16m7 0h8m68 0h8m53 0h8m53 0h7m23 0h15m7 0h8m7 0h16m67 0h8m8 0h7m68 0h8m7 0h8m15 0h7m15 0h8m23 0h7m30 0h8m-1055 39h7m31 0h8m38 0h8m45 0h8m38 0h8m53 0h8m91 0h8m38 0h15m53 0h16m98 0h16m7 0h8m76 0h7m23 0h15m90 0h8m15 0h8m22 0h8m7 0h8m15 0h7m-842 39h7m84 0h8m168 0h7m16 0h7m137 0h8m45 0h8m53 0h8m7 0h8m22 0h8m38 0h7m30 0h8m8 0h7m8 0h7m211 0h8m23 0h7m68 0h7m-1023 39h23m7 0h16m23 0h7m46 0h8m61 0h8m30 0h8m53 0h7m16 0h7m15 0h8m8 0h7m46 0h7m38 0h8m15 0h8m129 0h7m61 0h7m8 0h15m7 0h15m53 0h8m15 0h7m-881 39h8m23 0h7m39 0h7m15 0h8m38 0h8m8 0h7m16 0h7m153 0h7m53 0h8m30 0h16m15 0h15m30 0h8m53 0h8m23 0h7m15 0h8m38 0h7m38 0h15m30 0h8m45 0h8m60 0h7m91 0h8m15 0h7m30 0h8m-1017 38h8m61 0h8m15 0h8m30 0h8m8 0h7m8 0h7m16 0h7m31 0h8m60 0h8m220 0h8m106 0h8m83 0h7m45 0h16m15 0h15m15 0h7m8 0h7m8 0h8m52 0h8m15 0h15m-1010 39h8m8 0h15m15 0h16m15 0h15m31 0h15m8 0h7m39 0h15m15 0h8m7 0h16m91 0h8m15 0h7m8 0h8m15 0h7m31 0h7m8 0h15m15 0h8m15 0h8m23 0h7m8 0h15m8 0h7m15 0h8m8 0h15m22 0h16m7 0h8m7 0h8m83 0h7m23 0h7m38 0h8m45 0h8m22 0h8m30 0h7m-910 39h8m152 0h8m69 0h7m357 0h8m90 0h8m22 0h8m68 0h15m23 0h7m8 0h7m91 0h7m8 0h22m8 0h15m22 0h38m7 0h15" stroke="#283dcb" stroke-width="39.1" fill="none"/>
<path transform="scale(.25)" d="M5273 194h8m30 0h8m578 0h7m38 0h8m128 0h7m61 0h7m23 0h7m23 0h8m67 0h8m-1100 39h7m69 0h8m76 0h8m38 0h8m53 0h8m23 0h7m16 0h7m114 0h8m38 0h7m145 0h7m8 0h7m38 0h8m7 0h8m30 0h8m22 0h8m30 0h7m121 0h8m37 0h16m7 0h8m7 0h8m75 0h7m15 0h8m22 0h8m-1168 38h8m54 0h7m77 0h7m23 0h8m46 0h7m229 0h7m15 0h8m15 0h8m45 0h8m30 0h23m53 0h8m15 0h7m15 0h15m8 0h8m30 0h7m46 0h7m30 0h8m7 0h8m128 0h8m37 0h8m75 0h7m23 0h7m-1205 39h8m53 0h8m176 0h7m61 0h8m84 0h7m61 0h8m167 0h7m31 0h7m8 0h15m30 0h7m31 0h7m23 0h7m8 0h7m16 0h15m37 0h8m30 0h8m52 0h16m7 0h15m-1032 39h7m16 0h7m39 0h7m107 0h8m434 0h7m53 0h8m7 0h23m7 0h8m38 0h7m8 0h15m45 0h8m37 0h8m45 0h8m22 0h15m38 0h15m143 0h7m-1205 39h15m100 0h7m100 0h15m61 0h8m23 0h7m107 0h7m53 0h8m68 0h8m76 0h7m114 0h7m136 0h8m120 0h8m45 0h22m-1023 39h8m46 0h7m396 0h8m98 0h16m52 0h8m166 0h7m31 0h7m91 0h7m-978 38h15m8 0h7m161 0h7m236 0h8m136 0h15m31 0h7m8 0h7m30 0h16m15 0h7m8 0h22m31 0h7m91 0h7m8 0h7m53 0h15m53 0h7m60 0h8m-1160 39h7m352 0h7m38 0h8m213 0h15m7 0h8m204 0h22m30 0h16m45 0h15m120 0h8m-787 39h8m23 0h7m99 0h8m83 0h8m15 0h8m7 0h8m45 0h8m23 0h7m23 0h7m76 0h7m30 0h8m8 0h7m38 0h15m7 0h8m15 0h8m7 0h8m7 0h8m7 0h8m7 0h16m7 0h8m90 0h7m23 0h7m-1106 39h7m39 0h7m252 0h8m30 0h8m60 0h8m8 0h7m23 0h15m69 0h7m38 0h8m113 0h8m166 0h7m128 0h8m97 0h15m-1182 39h7m39 0h7m16 0h7m61 0h16m46 0h7m15 0h8m8 0h7m464 0h7m38 0h8m37 0h15m8 0h7m31 0h15m30 0h7m38 0h8m15 0h7m38 0h8m52 0h8m45 0h7m23 0h7m-1167 38h7m54 0h15m222 0h7m61 0h15m16 0h7m8 0h7m23 0h8m7 0h8m68 0h16m60 0h16m105 0h8m7 0h8m264 0h8m-987 39h8m38 0h8m183 0h8m7 0h8m235 0h8m30 0h8m91 0h8m67 0h8m8 0h15m83 0h7m8 0h7m136 0h8m-1010 39h8m38 0h15m8 0h8m68 0h8m46 0h7m69 0h15m61 0h8m23 0h7m38 0h8m416 0h8m98 0h15m60 0h8m-1002 39h8m8 0h7m199 0h8m7 0h8m45 0h16m7 0h8m15 0h8m15 0h15m15 0h23m8 0h7m15 0h8m23 0h15m38 0h15m31 0h22m15 0h8m264 0h8m22 0h8m195 0h8m-892 39h15m30 0h8m7 0h8m15 0h8m23 0h7m8 0h7m8 0h23m7 0h8m15 0h8m38 0h7m54 0h7m23 0h8m15 0h7m76 0h7m106 0h8m15 0h15m-874 38h7m23 0h8m61 0h8m76 0h8m130 0h7m8 0h7m8 0h8m7 0h8m61 0h7m53 0h8m84 0h7m84 0h7m68 0h15m53 0h7m76 0h7m38 0h8m22 0h8m23 0h7m8 0h7m30 0h8m7 0h8m60 0h7m-1106 39h7m16 0h7m38 0h8m23 0h8m160 0h8m15 0h7m152 0h8m38 0h8m83 0h8m7 0h8m23 0h15m22 0h8m30 0h15m38 0h15m45 0h8m158 0h8m7 0h8m52 0h8m7 0h8m45 0h7m-1144 39h8m130 0h15m23 0h7m107 0h15m8 0h8m136 0h23m8 0h7m38 0h8m38 0h8m98 0h7m8 0h7m8 0h8m7 0h8m37 0h8m121 0h15m98 0h7m98 0h7m-786 39h8m23 0h7m23 0h8m30 0h8m61 0h7m8 0h7m122 0h7m-357 39h8m68 0h8m46 0h7m99 0h8m15 0h23m45 0h15m68 0h8m30 0h7m76 0h7m23 0h15m8 0h7m121 0h7m98 0h7m23 0h7m-991 38h8m335 0h7m167 0h7m76 0h7m212 0h7m158 0h7m-1205 39h8m221 0h8m69 0h7m8 0h8m15 0h7m31 0h7m8 0h8m15 0h7m99 0h8m45 0h8m91 0h15m53 0h15m60 0h8m15 0h8m22 0h8m308 0h8m-900 39h8m76 0h7m46 0h8m106 0h8m98 0h8m7 0h16m90 0h8m37 0h8m113 0h15m128 0h8m15 0h7m53 0h15m-1038 39h8m84 0h8m53 0h15m99 0h8m23 0h7m107 0h7m84 0h7m15 0h8m68 0h15m45 0h8m38 0h7m8 0h15m233 0h8m30 0h15m-1160 39h7m16 0h7m69 0h8m15 0h8m38 0h8m30 0h8m30 0h8m38 0h15m130 0h7m107 0h7m31 0h7m99 0h7m23 0h7m159 0h7m23 0h8m113 0h7m15 0h8m-1078 38h8m23 0h7m69 0h8m23 0h15m61 0h8m23 0h7m8 0h8m53 0h8m106 0h8m15 0h7m137 0h8m15 0h8m15 0h15m7 0h8m15 0h8m37 0h8m30 0h8m301 0h8m60 0h7m8 0h7m-946 39h8m23 0h8m23 0h7m69 0h7m15 0h8m46 0h7m8 0h7m76 0h16m30 0h15m106 0h8m105 0h8m121 0h7m76 0h7m75 0h8m15 0h7m-816 39h7m38 0h15m69 0h7m46 0h8m76 0h7m15 0h8m30 0h8m30 0h8m45 0h7m83 0h8m8 0h7m23 0h7m181 0h8m67 0h8m-1130 39h8m15 0h8m91 0h8m23 0h15m92 0h8m174 0h8m114 0h8m121 0h7m46 0h15m98 0h15m75 0h8m7 0h8m-980 39h8m31 0h7m69 0h8m107 0h7m23 0h16m22 0h8m114 0h8m159 0h8m45 0h8m256 0h8m8 0h7m8 0h7m30 0h8m150 0h8m-1153 38h8m38 0h8m7 0h8m53 0h8m122 0h8m69 0h7m76 0h8m91 0h8m91 0h7m31 0h7m38 0h8m98 0h7m98 0h8m7 0h8m45 0h8m30 0h8m127 0h8m37 0h8m-1183 39h8m31 0h7m23 0h8m30 0h8m31 0h15m53 0h16m15 0h15m16 0h7m31 0h7m53 0h8m46 0h7m31 0h7m8 0h15m46 0h7m8 0h7m114 0h8m60 0h8m113 0h7m83 0h8m7 0h8m195 0h8m-1167 39h7m31 0h8m7 0h8m38 0h8m53 0h8m53 0h8m61 0h8m98 0h8m8 0h7m8 0h7m16 0h7m8 0h15m61 0h7m16 0h7m46 0h15m30 0h8m75 0h8m15 0h7m61 0h7m53 0h15m45 0h8m195 0h8m-1121 39h7m107 0h8m76 0h8m30 0h8m76 0h8m7 0h8m15 0h8m38 0h7m91 0h8m15 0h8m45 0h8m15 0h8m301 0h8m23 0h7m120 0h8m-1069 39h16m45 0h8m38 0h8m30 0h16m7 0h8m15 0h8m38 0h8m53 0h15m84 0h7m23 0h8m60 0h8m8 0h7m68 0h8m60 0h8m106 0h7m45 0h8m7 0h8m45 0h8m7 0h8m90 0h15m-1000 38h7m54 0h7m107 0h8m15 0h8m91 0h8m60 0h16m22 0h8m46 0h7m31 0h7m46 0h7m76 0h7m15 0h8m45 0h8m90 0h8m30 0h8m7 0h8m7 0h15m46 0h7m15 0h8m45 0h7m68 0h15m-1114 39h8m61 0h8m7 0h8m46 0h7m122 0h8m84 0h7m38 0h8m114 0h7m84 0h7m8 0h7m15 0h8m15 0h15m8 0h7m53 0h8m30 0h7m23 0h7m16 0h7m38 0h15m30 0h8m37 0h8m30 0h7m75 0h8m-1091 39h8m229 0h7m61 0h8m68 0h8m137 0h7m8 0h7m76 0h7m136 0h8m113 0h7m113 0h15" stroke="#2c5bca" stroke-width="39.1" fill="none"/>
<path transform="scale(.25)" d="M5844 194h7m16 0h7m15 0h8m15 0h7m46 0h7m15 0h8m22 0h16m37 0h8m30 0h8m7 0h8m30 0h7m15 0h8m-332 39h8m60 0h7m31 0h7m8 0h15m90 0h8m15 0h8m7 0h8m15 0h7m61 0h7m158 0h7m-648 38h7m8 0h7m122 0h7m15 0h8m60 0h8m98 0h7m68 0h15m8 0h7m16 0h7m8 0h7m-347 39h8m15 0h7m15 0h8m45 0h15m15 0h8m15 0h8m22 0h15m8 0h7m53 0h23m38 0h7m-658 39h7m289 0h7m16 0h7m8 0h7m23 0h7m23 0h8m45 0h7m23 0h8m37 0h15m23 0h23m15 0h7m38 0h8m7 0h8m135 0h7m-1121 39h7m214 0h8m190 0h8m167 0h7m46 0h22m68 0h8m7 0h8m7 0h23m60 0h8m90 0h38m-362 77h8m7 0h8m22 0h15m31 0h7m45 0h8m15 0h8m22 0h15m15 0h8m7 0h8m8 0h7m226 0h7m-505 39h8m234 0h7m16 0h7m-667 39h8m327 0h7m84 0h15m45 0h15m30 0h15m23 0h8m60 0h7m114 0h7m-757 39h8m91 0h7m31 0h7m8 0h23m30 0h8m53 0h8m7 0h8m53 39h8m188 0h8m106 0h7m-598 38h7m8 0h8m22 0h8m15 0h8m76 0h15m15 0h15m54 0h15m38 0h7m-334 39h8m7 0h8m91 0h8m7 0h8m23 0h15m30 0h8m53 0h8m30 0h8m37 0h8m272 0h7m-674 39h8m22 0h8m8 0h7m15 0h8m38 0h8m22 0h8m68 0h16m15 0h7m46 0h8m15 0h7m61 0h8m-380 39h15m15 0h8m23 0h7m8 0h7m23 0h8m15 0h15m38 0h8m61 0h15m30 0h8m-304 39h7m31 0h7m16 0h7m8 0h7m8 0h8m76 0h7m8 0h15m8 0h15m30 0h15m23 0h8m7 0h8m-319 38h23m60 0h8m8 0h7m23 0h8m22 0h8m15 0h8m15 0h8m60 0h8m53 0h15m98 0h8m189 0h7m-865 39h15m199 0h7m38 0h16m38 0h7m23 0h15m15 0h8m8 0h7m8 0h7m38 0h8m8 0h15m15 0h23m7 0h8m151 0h8m-509 39h8m46 0h7m38 0h8m7 0h8m8 0h7m15 0h8m30 0h8m15 0h8m91 0h15m46 0h7m219 0h8m-882 39h15m161 0h8m45 0h8m-237 39h8m866 0h8m-821 38h16m30 0h8m23 0h7m84 0h8m-206 39h7m23 0h8m46 0h7m8 0h8m99 0h8m705 0h7m-888 39h8m53 0h8m7 0h8m23 0h8m931 0h8m-1123 39h8m15 0h8m30 0h8m46 0h7m46 0h8m69 0h7m8 0h15m607 0h7m-744 39h8m76 0h8m31 0h7m358 0h7m-602 38h8m15 0h8m8 0h7m69 0h23m92 0h7m137 0h8m695 0h8m-1115 39h7m16 0h7m23 0h8m31 0h7m8 0h7m8 0h23m15 0h8m31 0h7m213 0h8m38 0h8m-336 39h8m138 0h7m69 0h7m304 0h8m-609 39h7m38 0h8m343 0h8m174 0h8m7 0h8m60 0h8m204 0h7m106 0h7m23 0h7m83 0h7m-717 39h8m574 0h8m15 0h7m23 0h7m15 0h8m-1084 38h7m31 0h8m282 0h7m168 0h7m371 0h7m8 0h7m106 0h7m30 0h8m-833 39h8m84 0h7m281 0h8m68 0h7m212 0h7m91 0h7m8 0h15m15 0h7m30 0h8m37 0h8m-1168 39h8m252 0h8m448 0h7m136 0h15m61 0h7m143 0h8m30 0h15m30 0h7m-580 39h7m566 0h7m-580 39h7m423 0h30m8 0h7m23 0h7m30 0h8m7 0h8m22 0h8m-1183 38h8m344 0h7m236 0h7m53 0h8m98 0h8m264 0h7m23 0h7m8 0h7m53 0h7m38 0h7m-255 39h7m188 0h8m22 0h8m15 0h7m-838 39h7m794 0h7m23 0h7" stroke="#2d76b0" stroke-width="39.1" fill="none"/>
<path transform="scale(.25)" d="M5836 194h8m60 0h8m7 0h8m23 0h7m23 0h7m8 0h15m23 0h7m15 0h15m15 0h8m7 0h8m30 0h8m22 0h8m23 0h7m-355 39h8m8 0h7m8 0h7m8 0h7m8 0h7m15 0h8m15 0h8m30 0h7m23 0h15m128 0h15m16 0h7m-362 38h15m8 0h7m38 0h7m46 0h7m23 0h7m15 0h16m75 0h8m7 0h8m75 0h8m-378 39h8m7 0h8m75 0h8m45 0h8m98 0h7m16 0h7m45 0h15m-256 39h7m23 0h8m52 0h8m8 0h7m15 0h15m30 0h8m45 0h8m-257 39h8m7 0h8m98 0h8m37 0h15m53 0h8m15 0h7m8 0h7m-332 77h8m234 0h7m61 0h7m-317 78h8m75 0h8m15 0h8m83 0h7m106 0h7m-681 39h7m16 0h15m7 0h8m46 0h7m91 0h8m15 0h8m7 0h8m23 0h15m30 0h8m-342 39h8m22 0h8m84 0h7m107 0h7m8 0h7m99 0h8m-365 38h8m30 0h8m22 0h8m38 0h8m30 0h15m8 0h7m54 0h7m38 0h8m15 0h8m-266 39h7m31 0h7m15 0h16m38 0h7m46 0h30m46 0h7m16 0h22m31 0h7m-319 39h8m38 0h15m76 0h15m53 0h8m30 0h8m8 0h7m15 0h23m-68 39h7m-266 39h8m91 0h8m53 0h8m68 0h8m22 0h8m23 0h7m-266 38h8m23 0h7m31 0h7m23 0h8m61 0h7m15 0h8m53 0h8m7 0h8m8 0h7m-258 39h23m15 0h7m46 0h8m7 0h8m15 0h8m60 0h8m-304 39h8m15 0h23m22 0h8m23 0h7m54 0h7m114 0h15m38 0h8m15 0h8m-625 39h15m16 0h23m7 0h8m107 0h8m30 0h15m-145 39h8m30 0h8m23 0h8m38 0h7m31 0h8m-245 38h8m15 0h8m30 0h8m99 0h8m-161 39h23m16 0h15m53 0h8m107 0h8m-230 39h8m92 0h7m16 0h15m38 0h31m7 0h8m8 0h7m-244 39h7m39 0h15m38 0h15m39 0h23m15 0h7m23 0h8m-245 39h8m38 0h16m23 0h7m46 0h8m30 0h8m8 0h7m-206 38h7m54 0h8m38 0h7m8 0h8m38 0h8m23 0h7m15 0h16m7 0h8m-191 39h8m137 0h8m15 0h8m7 0h8m-191 39h8m114 0h8m23 0h15m8 0h7m16 0h7m765 39h8m52 0h8m30 0h22m-75 39h8m22 0h8m37 0h8m22 0h8m-158 38h8m22 0h8m15 0h7m-22 39h7m15 0h23m22 0h8m-98 39h8m15 0h7m45 0h8m-75 39h7m30 0h8m30 0h7m15 0h8m22 0h8m-98 39h8m15 0h15m45 0h7m8 0h7m-105 38h8m22 0h8m-98 39h8m15 0h7m23 0h15m22 0h8m45 0h7" stroke="#2d9197" stroke-width="39.1" fill="none"/>
<path transform="scale(.25)" d="M5882 194h7m38 0h15m211 0h8m53 0h7m-302 39h8m23 0h7m91 0h7m45 0h8m8 0h7m30 0h8m-227 38h8m8 0h15m22 0h8m60 0h8m37 0h8m60 0h8m-264 39h7m38 0h8m-129 39h8m90 0h8m60 0h8m204 0h7m-385 39h8m15 0h15m53 0h15m174 0h15m-659 194h7m160 0h7m8 0h8m76 0h7m38 0h8m-304 39h7m23 0h15m160 0h8m7 0h8m83 0h8m23 0h7m-228 38h8m144 0h8m-236 39h8m53 0h8m53 0h8m136 0h8m8 0h7m-319 39h8m106 0h8m45 0h15m46 0h8m15 0h7m23 0h8m30 0h8m-175 39h8m76 39h7m69 0h7m-228 38h8m7 0h8m61 0h7m61 0h8m38 0h7m-304 39h8m46 0h7m274 0h7m-22 39h7m-602 39h8m69 0h7m39 0h15m38 0h8m30 0h16m7 0h8m-260 39h8m7 0h8m38 0h8m46 0h7m23 0h8m61 0h8m23 0h7m-267 38h7m16 0h7m107 0h8m8 0h23m68 0h16m-253 39h8m69 0h15m31 0h7m8 0h38m54 0h7m16 0h7m-260 39h8m38 0h8m31 0h7m8 0h7m138 0h8m-230 39h8m46 0h15m100 0h7m-176 39h8m69 0h7m16 0h7m16 0h7m16 0h7m46 0h8m-199 38h8m46 0h7m84 0h16m-123 39h8m61 0h8m30 0h8m23 0h7m46 0h8m-283 39h8m7 0h23m23 0h8m15 0h8m69 0h7m16 0h7m8 0h8m7 0h8m826 39h15m-15 39h7m38 0h7m30 38h8m15 0h15m15 0h7m-150 39h8m105 0h15m15 0h7m8 0h7m-165 39h8m15 0h15m15 0h7m-52 39h15m30 0h7m8 0h7m38 0h7m8 0h7m23 0h7m-90 39h8m15 0h7m23 0h7m-135 38h8m22 0h8m82 0h8m-120 39h15m22 0h8m30 0h7m8 0h7" stroke="#30ad81" stroke-width="39.1" fill="none"/>
<path transform="scale(.25)" d="M5851 194h16m7 0h8m75 0h8m128 0h7m16 0h7m-60 39h7m23 0h7m31 0h7m23 0h7m-309 38h8m135 0h8m106 0h7m38 39h7m-309 39h8m226 0h7m61 0h7m-317 39h8m98 0h8m30 0h7m53 0h8m68 0h7m-347 194h7m16 0h7m-342 39h8m15 0h8m38 0h7m76 0h8m-91 38h7m198 0h7m54 0h7m-258 39h7m160 0h23m-15 39h15m-205 116h7m23 0h8m53 0h7m92 0h7m23 0h8m-183 39h8m7 0h8m38 39h8m-374 39h8m15 0h8m15 0h8m23 0h7m16 0h7m8 0h7m39 0h7m-244 39h7m8 0h8m191 0h7m23 0h8m-245 38h8m8 0h7m16 0h7m8 0h15m8 0h15m54 0h7m16 0h7m54 0h7m-267 39h7m8 0h8m91 0h8m77 0h7m38 0h8m-214 39h8m30 0h8m15 0h8m76 0h8m8 0h7m-206 39h7m31 0h8m68 0h8m-84 39h8m23 0h15m30 0h8m92 0h7m-214 38h8m61 0h8m-15 39h7m23 0h8m7 0h8m31 0h7m31 0h8m61 0h7m-237 39h8m31 0h7m84 0h8m902 39h7m23 0h7m15 0h8m37 0h8m15 0h7m-82 39h7m23 0h7m38 0h7m-120 38h8m45 0h7m-22 78h7m45 0h8m-53 39h8m-15 77h7" stroke="#33c86b" stroke-width="39.1" fill="none"/>
<path transform="scale(.25)" d="M6131 194h7m-45 77h7m-7 117h7m-568 233h8m68 0h8m106 0h8m30 0h8m23 38h7m-250 78h7m99 116h8m-114 78h7m-359 39h8m23 0h8m38 0h15m-46 39h8m61 0h8m91 0h8m-222 38h8m176 0h8m-100 39h8m160 39h8m-268 39h8m31 0h7m214 0h8m-229 39h7m31 0h8m-92 116h7m85 0h7m15 0h16m122 0h8m802 39h8m90 39h7m-52 77h7m38 0h7m-127 39h7m98 0h7m-90 39h8m7 0h8m22 77h8" stroke="#3ade53" stroke-width="39.1" fill="none"/>
<path transform="scale(.25)" d="M5510 621h7m53 0h8m61 0h7m23 0h23m38 0h8m7 0h8m-557 388h8m31 0h7m39 0h7m8 0h7m153 38h8m-92 39h8m-77 39h8m145 78h8m-161 38h8m145 0h8m-191 39h8m107 39h7m871 39h8m22 77h8m45 0h7m23 0h7m-120 78h8m105 0h7m-37 116h7m-7 39h7" stroke="#49ef3d" stroke-width="39.1" fill="none"/>
<path transform="scale(.25)" d="M5472 621h7m84 0h7m244 0h7m-632 388h7m176 0h23m-160 310h7m1062 39h7" stroke="#71f32c" stroke-width="39.1" fill="none"/>
<path transform="scale(.25)" d="M5738 621h7m46 0h7m-525 388h8m22 0h8m-38 310h8m175 0h8m832 39h8" stroke="#99f61e" stroke-width="39.1" fill="none"/>
<line x1="1366" y1="43.6" x2="1366" y2="431.6" stroke="#a09cb8" stroke-width="0.7" opacity=".85"/>
<line x1="1459.1" y1="43.6" x2="1459.1" y2="431.6" stroke="#a09cb8" stroke-width="0.7" opacity=".85"/>
<line x1="1555.3" y1="43.6" x2="1555.3" y2="431.6" stroke="#a09cb8" stroke-width="0.7" opacity=".85"/>
<text x="1612.8" y="206.3" font-size="14.7">Gene</text>
<text x="1612.8" y="223.6" font-size="14.7">accessibility</text>
<linearGradient id="vg" x1="0" y1="1" x2="0" y2="0"><stop offset="0%" stop-color="rgb(38,8,136)"/><stop offset="12.3%" stop-color="rgb(34,24,200)"/><stop offset="27.4%" stop-color="rgb(44,88,205)"/><stop offset="41.1%" stop-color="rgb(45,140,155)"/><stop offset="54.8%" stop-color="rgb(50,195,112)"/><stop offset="68.5%" stop-color="rgb(62,238,66)"/><stop offset="82.2%" stop-color="rgb(140,245,32)"/><stop offset="100%" stop-color="rgb(236,250,16)"/></linearGradient>
<rect x="1612.9" y="232.1" width="16.1" height="81.8" fill="url(#vg)"/>
<text x="1634.4" y="318.5" font-size="13">0</text>
<line x1="1612.9" y1="291.5" x2="1616.1" y2="291.5" stroke="#fff" stroke-width="0.7"/>
<line x1="1625.8" y1="291.5" x2="1629" y2="291.5" stroke="#fff" stroke-width="0.7"/>
<text x="1634.4" y="296.1" font-size="13">1</text>
<line x1="1612.9" y1="269.1" x2="1616.1" y2="269.1" stroke="#fff" stroke-width="0.7"/>
<line x1="1625.8" y1="269.1" x2="1629" y2="269.1" stroke="#fff" stroke-width="0.7"/>
<text x="1634.4" y="273.7" font-size="13">2</text>
<line x1="1612.9" y1="246.7" x2="1616.1" y2="246.7" stroke="#fff" stroke-width="0.7"/>
<line x1="1625.8" y1="246.7" x2="1629" y2="246.7" stroke="#fff" stroke-width="0.7"/>
<text x="1634.4" y="251.3" font-size="13">3</text>
<defs>
<linearGradient id="tzL" gradientUnits="userSpaceOnUse" x1="325.5" y1="0" x2="432" y2="0"><stop offset="0" stop-color="#a5afae"/><stop offset=".25" stop-color="#c2c8c8"/><stop offset=".5" stop-color="#dadddd"/><stop offset=".75" stop-color="#eceeee"/><stop offset="1" stop-color="#fcfcfc"/></linearGradient>
<linearGradient id="twL" gradientUnits="userSpaceOnUse" x1="398" y1="0" x2="420" y2="0"><stop offset="0" stop-color="#fff" stop-opacity="0"/><stop offset="1" stop-color="#fff" stop-opacity="1"/></linearGradient>
<linearGradient id="tzR" gradientUnits="userSpaceOnUse" x1="803.5" y1="0" x2="910" y2="0"><stop offset="0" stop-color="#a5afae"/><stop offset=".25" stop-color="#c2c8c8"/><stop offset=".5" stop-color="#dadddd"/><stop offset=".75" stop-color="#eceeee"/><stop offset="1" stop-color="#fcfcfc"/></linearGradient>
<linearGradient id="twR" gradientUnits="userSpaceOnUse" x1="876" y1="0" x2="898" y2="0"><stop offset="0" stop-color="#fff" stop-opacity="0"/><stop offset="1" stop-color="#fff" stop-opacity="1"/></linearGradient>
</defs>
<text x="297" y="464.4" font-size="19.5" font-weight="bold" text-anchor="middle">Original GoT-ChA</text>
<text x="774" y="467" font-size="19.5" font-weight="bold" text-anchor="middle" class="c0">Multiplex-adapted GoT-ChA</text>
<path d="M70.4 465.2V482M70.4 473.5H523.8M523.8 465.2V482M546.6 465.2V482M546.6 473.5H1000.8M1000.8 465.2V482" fill="none" stroke="#111" stroke-width="2.7"/>
<rect x="536" y="485" width="3.2" height="379.5" fill="#748688"/>
<text x="79.4" y="503.6" font-size="25" font-weight="bold"><tspan font-style="italic">JAK2</tspan><tspan font-style="italic" font-size="13.5" dy="-9.5">V617</tspan><tspan dy="9.5" font-size="25">&#8203;</tspan><tspan> GoT-ChA</tspan></text>
<text x="79.2" y="518.6" font-size="13">Accuracy = 86.5% (OCI-AML3 + HEL + CA46)</text>
<text x="79.2" y="534.9" font-size="13">Cells Genotyped = 52.8% (OCI-AML3 + HEL + CA46)</text>
<path d="M325.5 741.6L432 663V862L325.5 837.8Z" fill="url(#tzL)"/>
<rect x="398" y="681" width="134" height="183" fill="url(#twL)"/>
<path d="M171.6 611.5l5.7-13.7 6.3-13.7 7.7-6.2 9.1 .4 9.7 5.2 6.8 1 6.5-1.3 7.6 1.2 6.3 6.3 8.1 9.2 8.1 9.4 5.4 4-3.9 5.8-6.4 7.4-6.5 8.4-6.2 8.1-12.4 1.7-9.6-3.7-13-2.8-16.1-2.7-7.8-4.5-4.9-7.9z" fill="#2a39f0" stroke="#2a39f0" stroke-width="1.2" stroke-linejoin="round"/>
<path d="M308.4 655.1l4.1-6.8 8.6-4.5 11.1-2.3 14.5-.4 14.4 .4 9.4 3.2 7.8 7.1 5.6 12.8 2.7 10.8-1.9 10.8-4.7 10.9-9.5 8.1-12.7 4.5-14.3 3.3-10.9-3.2-7.8-7.1-3.9-9-1.6-11.1-4.1-13.2-4.9-9.3z" fill="#2a39f0" stroke="#2a39f0" stroke-width="1.2" stroke-linejoin="round"/>
<path d="M169.7 718.1l1.8-7 5.4-6.1 11.1-4.5 12.9-2.8 12.9-1.8 6.6-1.2 .6 5.4 6.5 2.9 3 7.9 1.6 9-3.1 8.9-4 8.2-5.5 5.4-7.8 4.5-7.7 1.4-7.8-2.3-8-5.6-9.6-4.5-6.2-7.1z" fill="#d60b0b" stroke="#d60b0b" stroke-width="1.2" stroke-linejoin="round"/>
<path d="M236.3 793l-.4-11.7 7-9.9 10.1-15.2 12.2-9.4 12 1.9 6 9.6-1.2 10.5 10.6 4.2 7.2 5.9 1.2 9.6-4.8 9.6-5.3 2.4-3.2-9.3 3.8-10.4-9.4-8.3-6.9-2.7-10.7 4-10.4 10.3-9.9 8.7z" fill="#d60b0b" stroke="#d60b0b" stroke-width="1.2" stroke-linejoin="round"/>
<path d="M272.6 828.3l1.4-4.6 4.8-3.4 2.1 3.8-.7 7.5-3.1 2.5-3.7-1.4z" fill="#d60b0b" stroke="#d60b0b" stroke-width="1.2" stroke-linejoin="round"/>
<path transform="scale(.5)" d="M387 1155zm6 2zm11 0zm49 9zm-22 2zm-10-2zm-12-1zm-22 0zm-6-5zm-13 7zm5 5zm12-2zm8-2zm3 6zm4-4zm7 2zm12 2zm7 0zm16-6zm15 5zm7-1zm7 6zm-9 5zm-4 0zm-9 0zm-3-6zm-7 5zm-4-6zm-11 5zm-13-3zm-4 5zm-4-6zm-12 4zm-9 0zm-5-5zm-14 1zm0 15zm6-6zm8 4zm10-4zm3 5zm10-6zm27 6zm15-2zm9 3zm19-3zm8 1zm1-4zm3 4zm7 10zm-5-4zm-1 4zm-17-6zm-9 2zm-4 0zm-7 1zm-14-2zm-21-2zm-1 6zm-6-1zm-5-5zm-26 3zm-4 1zm-11-4zm-5 7zm2 8zm4-6zm0 5zm12-3zm9 1zm7-3zm5 4zm6-3zm14 1zm8 3zm0-6zm6 4zm8-4zm15 3zm12 1zm4 0zm7-4zm7 2zm7 3zm12-1zm4 9zm-9-5zm-9 2zm-9-3zm-16 6zm-9-3zm-8 1zm-5 4zm-11-2zm-9 1zm-5-1zm-4-3zm-9 4zm-26-1zm-1-5zm-10 4zm-12-4zm-5 11zm17 2zm20-5zm8-1zm19 3zm18 3zm7-2zm12 1zm18-3zm4-1zm14 2zm4 3zm6-2zm14-1zm5 2zm5 3zm-3 7zm-10 0zm-9-3zm-12-1zm-16 4zm-5-2zm-5-4zm-11 4zm-12 0zm-12-3zm-8 2zm-8 4zm-11-7zm-5-1zm-11 4zm-10 1zm-13-1zm-6 2zm6 6zm7 0zm13 0zm9-2zm14-1zm7 5zm23-1zm6 1zm3-4zm20 1zm18 0zm12-1zm8 1zm14 3zm-10 5zm-7-1zm-9-2zm-2 7zm-5 1zm-8-7zm-6 3zm-13-2zm-9 1zm-22-3zm-10 3zm-13 2zm-21-2zm-18 4zm-12-5zm4 7zm17 1zm7 3zm4-5zm9 2zm10 5zm4-4zm10-1zm2 3zm6 1zm7 0zm0-4zm7-2zm13 8zm9-6zm9 5zm10-1zm12-2zm12 0zm-6 9zm-15 0zm-6-4zm-20 4zm-14-2zm-8 1zm-9 3zm-5-5zm-8 2zm-13 4zm-6-3zm-8-1zm-6-1zm-11 2zm-1-4zm-7 0zm0 5zm13 7zm15-3zm10 5zm6-5zm7 5zm2-5zm11 2zm9-4zm10 7zm9 0zm5-3zm9-2zm0 3zm11 3zm6-2zm5-3zm6-1zm-9 14zm-17-5zm-8 0zm-14 3zm-11 1zm-10 0zm-8-5zm-11 3zm-12-2zm37 7zm8 1zm17-2zm4 4zm10-3zm11 3zm182-1zm12 0zm2-3zm11 6zm1-5zm7 4zm6-3zm9 3zm1-5zm6 1zm6 0zm7 4zm1-3zm7 3zm10 2zm-9 5zm-7 2zm-8-6zm-8 2zm-10 1zm-9 0zm-17-3zm-12 2zm-7 2zm-4-5zm-9 1zm-7 1zm-3 2zm-4 2zm-186-5zm181 10zm18 3zm9-1zm14-2zm5 0zm16 1zm11 3zm6 0zm13-2zm7 3zm14-3zm7 0zm6 1zm2-4zm4 5zm5 5zm-7 2zm-9 1zm-4-3zm-10-3zm-7 4zm-10 1zm-3-4zm-36-1zm-4 6zm-3-5zm-4 5zm-3-5zm-5 5zm-3-6zm-11 4zm-8-4zm-10 2zm-7 3zm7 4zm5 4zm4-5zm9 5zm6-2zm8 2zm5-1zm15 1zm8-4zm10-1zm11 5zm1-5zm14 1zm8 0zm1 0zm10 1zm10 5zm12-6zm5 11zm-6-5zm-5 2zm-5 5zm-8-7zm-10 5zm-4-5zm-14 2zm-2 4zm-8 0zm-5-6zm-3 7zm-10-2zm-7 1zm-7 0zm-2-6zm-5 4zm-7 2zm-4-3zm-5 3zm-11 2zm-16-6zm4 7zm6 4zm19 3zm5-1zm15-4zm0 5zm13-3zm7-4zm11 1zm13 0zm10 5zm8-2zm11-4zm5 7zm13-5zm5 4zm4-1zm1 7zm-4 3zm-5-6zm-5-2zm-12 2zm-12 2zm-10 3zm-3-4zm-6-1zm-2 3zm-9-4zm-5 7zm-7-7zm-7 5zm-22-1zm-10 1zm-10-5zm-8 10zm7-1zm7 5zm12-1zm4-4zm9-1zm12 2zm6 3zm9 2zm4-8zm13 2zm9 1zm18-2zm4 2zm13 2zm12-2zm0 6zm-9 4zm-4 0zm-9-4zm-6 2zm-7-1zm-10 1zm-7 0zm-8 0zm-6-3zm-2 8zm-15-3zm-7 0zm-13-4zm-6 0zm-6 3zm-6-4zm-11 4zm-4 10zm10-2zm4 1zm8-2zm11-3zm10 3zm12 1zm5 0zm16 1zm14 0zm11 1zm7 0zm13 2zm1-6zm10 3zm3-1zm-2 8zm-6-1zm-8 2zm-4-4zm-8 4zm-9-1zm-4 3zm-10-6zm-3 6zm-9-4zm-7 2zm-4-5zm-6 7zm-9-5zm-8 2zm-4-3zm-7 0zm-8 4zm-5-1zm-6 1zm-4 10zm7-5zm3 4zm10-5zm11 1zm6 2zm3-2zm4 0zm7 4zm9 2zm7-5zm3-2zm2 4zm21 0zm4-4zm6 6zm4-3zm7 2zm4-3zm3 4zm3-2zm-2 6zm-8-1zm-3 5zm-15-5zm-7 3zm-7-4zm-8-1zm-5 7zm0-7zm-24 5zm-8 0zm-11-2zm-7 1zm-8 0zm-3 3zm-5 1zm-253 6zm27-4zm229 4zm6 2zm8-6zm7-2zm13 4zm6 0zm12 0zm16-2zm7 1zm5 2zm22 0zm4 3zm5-1zm-12 8zm-4-6zm-6 5zm-11-3zm-10 3zm-10-6zm-1 5zm-7-3zm-5 3zm-8-3zm-5-2zm-8 1zm-9 1zm-6 5zm-5 1zm-230 6zm19 0zm220 0zm4-3zm11 1zm3-3zm5 2zm14 3zm8-1zm8 2zm11-1zm8 2zm10-4zm-35 10zm-8-2zm-7-3zm-6 4zm-8-5zm-2 7zm-9-3zm-316-2zm31 8zm16-1zm51 7zm231-7zm14 1zm-274 9zm-66 8zm48 5zm39 0zm14 1zm-87 10zm17 5zm16-1zm21-4zm-60 11zm55 9zm20-3zm-3 11zm-35-2zm-15-1zm165 16zm12 6zm-51 9zm17-1zm25 4zm-42 14zm-15 11zm26-6zm28 4zm38 5zm-77 12zm66-5zm20-1zm3 14zm-108-3zm-10 9zm109 8zm-114 5zm75 73z" stroke="#869392" stroke-width="4.6" stroke-linecap="round" fill="none"/>
<path transform="scale(.5)" d="M419 1166zm2 1zm1 1zm31-1zm12 9zm-5-6zm0 2zm-6 1zm-30-5zm-1 6zm-4 1zm-1-6zm0 6zm-6-5zm14 14zm5-5zm19 2zm5-3zm2 0zm0 3zm4 0zm-47 6zm78 45zm9-4zm2-1zm0 0zm3 1zm1 3zm2 3zm-2-1zm-1 5zm-1 1zm-2 0zm-1-2zm-3 2zm8 5zm-129 15zm-5 1zm0-2zm-3 4zm-1 5zm4-2zm3 3zm1 0zm2 2zm1-4zm1 4zm1 3zm238 31zm7-1zm6-1zm2 6zm-3 3zm-2-4zm-1 5zm-3 0zm-1 0zm0 0zm0 0zm-2-2zm0-1zm-2-3zm0 6zm-1-1zm0 1zm0-2zm-2 0zm-2 3zm1 1zm4 4zm5 0zm1 1zm0-6zm3 4zm0 2zm0-3zm3-1zm1-1zm9 2zm2 10zm-10 1zm-1-6zm-2 6zm-3-3zm-1-1zm0 1zm0 0zm-2 3zm0-5zm-4 3zm2 3zm3 4zm0 2zm4-5z" stroke="#869392" stroke-width="6.4" stroke-linecap="round" fill="none"/>
<path transform="scale(.5)" d="M380 1159zm5-4zm6 1zm6 0zm5 2zm56 9zm-6-1zm-10 0zm-24 1zm-7-5zm-35 0zm-7 6zm-5 6zm58-6zm10 1zm4 0zm28 2zm5 3zm-106 5zm-2 4zm-3 8zm118-7zm5 6zm1 2zm4 3zm-130-2zm-3 8zm138-1zm14 16zm-4-4zm-5-4zm-146 1zm-3 4zm-3 9zm165-1zm8 8zm-3-5zm-170 6zm1 4zm164 4zm4-5zm-9 11zm-159-1zm3 6zm149 6zm3-5zm-8 9zm-139 1zm-4-4zm10 9zm7 3zm8 3zm108 0zm3-4zm-6 9zm-65 4zm-8-3zm-5 0zm-7-2zm-7 0zm-6-1zm40 7zm5 1zm7 1zm4 2zm21 3zm6 0zm8-2zm3-4zm169 4zm10-1zm5-1zm9-1zm3 0zm11 0zm8 0zm4 0zm9-1zm8 1zm6-1zm6 2zm6 0zm19 10zm-4-3zm-8-3zm-97 2zm-7 4zm-4 1zm-178-7zm-3 1zm174 15zm131-5zm9 12zm-3-4zm-140 2zm3 11zm141-2zm4 4zm-142 3zm1 5zm144 2zm2 7zm-139 3zm-4-6zm5 12zm140-3zm-1 8zm-136 3zm2 7zm132 3zm1-3zm-4 12zm-127-5zm0 8zm125 4zm-3 7zm-122-5zm4 9zm1 3zm109 3zm5-5zm-10 9zm-3 5zm-98-4zm5 6zm5 4zm66 1zm10-2zm7-1zm-21 6zm-6 2zm-6 1zm-10 3zm-27-3zm-8-3zm15 6zm7 1zm6 1z" stroke="#2a39f0" stroke-width="6.8" stroke-linecap="round" fill="none"/>
<path transform="scale(.5)" d="M443 1456zm90 39zm7 6zm11-3zm3 9zm-28-2zm-17 3zm-4 11zm15 1zm17-6zm27 0zm-9 8zm-23 5zm-36-4zm-2 10zm25 0zm49 5zm-13 4zm-14-6zm-14 1zm-43 9zm15 1zm16-1zm67 10zm-94 1zm29 3zm84 10zm-19 3zm-88-2zm-20 3zm2 10zm125-1zm-16 7zm-6 3zm-27 53zm10 11z" stroke="#2a39f0" stroke-width="7" stroke-linecap="round" fill="none"/>
<path transform="scale(.5)" d="M382 1157zm54 10zm-69 0zm35 8zm62-7zm-50 9zm-50 8zm29 0zm61-1zm25 9zm-70 4zm-27 0zm-30 2zm143 7zm-44 4zm-25 2zm-41-2zm-24 5zm11 9zm82 0zm45-3zm-23 6zm-35-2zm-36 1zm-57 1zm72 9zm82 3zm-26 8zm-34-2zm-80 0zm-14 1zm28 6zm26 2zm50 7zm-28-4zm-36 1zm-12 11zm63-3zm48 4zm-10 6zm-72 3zm44 4zm272-2zm-33 9zm-17 3zm-19-4zm-1 13zm49 0zm32 1zm25 3zm-51 5zm-25-2zm-54-4zm-7 14zm109 0zm14-6zm13 14zm-61-5zm-51 6zm13 4zm33 0zm21 0zm23 5zm-106-1zm16 13zm39 0zm80 1zm-50 7zm-45 5zm104 2zm-60 9zm-64 2zm19 3zm13-2zm15 4zm34-1zm34-1zm-40 10zm-38-1zm-19 2zm-23 0zm12 9zm60-3zm24 0zm21-1zm-89 9zm-8 11zm46 1zm16-3z" stroke="#d60b0b" stroke-width="7.8" stroke-linecap="round" fill="none"/>
<path transform="scale(.5)" d="M431 1392zm3 0zm7 2zm-18-1zm-8 0zm-3 2zm-8 1zm-7 2zm-4-1zm-29 8zm8-3zm7-1zm4-1zm61 2zm5 1zm9 7zm-103 0zm-6 4zm-5 5zm116-2zm2 5zm0 6zm-119-2zm-3 11zm124 0zm0 3zm-1 7zm-121-5zm1 8zm116 5zm-3 7zm-1 1zm-108-1zm-2-4zm8 9zm3 3zm96 2zm-4 4zm-75 4zm-4-4zm-7-2zm17 9zm58 4zm5-6zm102 14zm-5-1zm-6-1zm-5 3zm-97-7zm-3 3zm-5 2zm-9 1zm-17-2zm-7-3zm-3-1zm18 8zm116 2zm32-2zm4 3zm3 5zm-43-1zm-5 3zm-7 8zm2-3zm56 0zm2 16zm0-8zm-64 1zm-4 4zm-4 7zm72 0zm8 9zm-6-2zm-11 2zm-7-1zm-8 3zm-52-7zm-3 4zm-4 7zm45 3zm6-3zm31-1zm3 1zm4 4zm8-7zm6 2zm7 5zm8 8zm-5-4zm-15 3zm-3-2zm-57-1zm-2 3zm-39-5zm-4 5zm-2 1zm39 6zm70 2zm19-1zm2 7zm-24-1zm-74-1zm-3 3zm-30-5zm0 8zm18 5zm6-4zm80 4zm27-6zm-6 9zm-1 6zm-20-3zm-92-2zm-8-1zm-4-1zm107 9zm12 5zm-9 3zm-27 43zm4-1zm3 11zm-16 1zm1 5zm14-3zm-4 8zm-3 3z" stroke="#d60b0b" stroke-width="6.8" stroke-linecap="round" fill="none"/>
<path transform="scale(.5)" d="M392 1165zm37 6zm-52 6zm71 9zm-50 10zm22 2zm69 6zm-126 5zm141 12zm-96-3zm-59 5zm31 5zm102 16zm-84-3zm-48 13zm76 6zm-23 4zm81 1zm-13 17zm-19 3zm244 16zm41-1zm22 4zm-105 1zm19 14zm81 8zm-122-1zm140 15zm-42 4zm-93 4zm81 21zm-19 14zm-29-3zm-233 15zm297 5zm-344 6zm281 9zm44 2zm-262 20zm-41 1zm-48 7zm28 1zm40 21zm-14 18zm139 12zm-24-1zm-11 8zm29 9zm-16-1zm-20 5zm-11 8zm39-1zm23 6zm-35 2zm-28 8zm41-2zm10 0zm14 0zm10 5zm14 7zm-22 0zm-40-6zm-17 0zm-21 10zm30-2zm-36 12zm-10 2zm28 3zm90 2zm-15 11zm-84-6zm-20 1zm9 8zm95 6zm15 2zm-37 54zm2 15z" stroke="#fa8d1a" stroke-width="7.8" stroke-linecap="round" fill="none"/>
<path transform="scale(.5)" d="M369 1191zm55 3zm279 118zm-22 20zm-18 18z" stroke="#fff" stroke-width="4.4" stroke-linecap="round" fill="none"/>
<circle cx="263.9" cy="640.3" r="2.2" fill="#869392"/>
<text x="79.2" y="575.9" font-size="13" font-weight="bold">OCI-AML3</text>
<circle cx="83.3" cy="588.1" r="5" fill="#2a39f0"/>
<text x="99.2" y="592.7" font-size="13.1">WT (33.1%)</text>
<circle cx="83.3" cy="604.6" r="5" fill="#fa8d1a"/>
<text x="99.2" y="609.2" font-size="13.1">HET (2.6%)</text>
<circle cx="83.3" cy="621.2" r="5" fill="#d60b0b"/>
<text x="99.2" y="625.8" font-size="13.1">MUT (6.3%)</text>
<circle cx="83.3" cy="637.7" r="5" fill="#7f8c8d"/>
<text x="99.2" y="642.3" font-size="13.1">NA (58.0%)</text>
<text x="344.4" y="565.3" font-size="13" font-weight="bold">CA46</text>
<circle cx="348.5" cy="577.5" r="5" fill="#2a39f0"/>
<text x="364.4" y="582.1" font-size="13.1">WT (28.5%)</text>
<circle cx="348.5" cy="594" r="5" fill="#fa8d1a"/>
<text x="364.4" y="598.6" font-size="13.1">HET (1.9%)</text>
<circle cx="348.5" cy="610.6" r="5" fill="#d60b0b"/>
<text x="364.4" y="615.2" font-size="13.1">MUT (6.2%)</text>
<circle cx="348.5" cy="627.1" r="5" fill="#7f8c8d"/>
<text x="364.4" y="631.8" font-size="13.1">NA (63.5%)</text>
<text x="79.2" y="710.2" font-size="13" font-weight="bold">HEL</text>
<circle cx="83.3" cy="722.4" r="5" fill="#2a39f0"/>
<text x="99.2" y="727" font-size="13.1">WT (0.4%)</text>
<circle cx="83.3" cy="738.9" r="5" fill="#fa8d1a"/>
<text x="99.2" y="743.5" font-size="13.1">HET (2.8%)</text>
<circle cx="83.3" cy="755.5" r="5" fill="#d60b0b"/>
<text x="99.2" y="760.1" font-size="13.1">MUT (80.4%)</text>
<circle cx="83.3" cy="772" r="5" fill="#7f8c8d"/>
<text x="99.2" y="776.6" font-size="13.1">NA (16.4%)</text>
<line x1="147.5" y1="570.3" x2="206.6" y2="602.5" stroke="#111" stroke-width="1.9" stroke-dasharray="3 2.5"/>
<line x1="336.8" y1="562.6" x2="322" y2="659" stroke="#111" stroke-width="1.9" stroke-dasharray="3 2.5"/>
<line x1="113" y1="706.5" x2="196.3" y2="717.6" stroke="#111" stroke-width="1.9" stroke-dasharray="3 2.5"/>
<rect x="229.3" y="741.6" width="96.1" height="96.2" fill="none" stroke="#111" stroke-width="2" stroke-dasharray="3.8 3.2"/>
<text x="415.2" y="693" font-size="13" font-weight="bold">SET-2</text>
<text x="415.2" y="704.6" font-size="9.7" style="stroke-width:.45px">Cells Genotyped = 60.1%</text>
<rect x="432" y="715.8" width="39.8" height="26.1" fill="#ff8c16"/>
<text x="451.9" y="732" font-size="8.9" text-anchor="middle" class="c2">19.2%</text>
<rect x="432" y="741.7" width="39.8" height="80.4" fill="#d60606"/>
<text x="451.9" y="785.1" font-size="8.9" text-anchor="middle" class="c2">59.4%</text>
<rect x="432" y="822" width="39.8" height="29.1" fill="#2633f5"/>
<text x="451.9" y="839.6" font-size="8.9" text-anchor="middle" class="c2">21.4%</text>
<path d="M428.3 709V857.4H471.8" fill="none" stroke="#0a0a0a" stroke-width="1.5"/>
<text x="425.6" y="719.5" font-size="8.8" text-anchor="end" class="c3">100</text>
<line x1="426.2" y1="716.4" x2="427.7" y2="716.4" stroke="#3c3c3c" stroke-width="0.6"/>
<text x="425.6" y="753.3" font-size="8.8" text-anchor="end" class="c3">75</text>
<line x1="426.2" y1="750.2" x2="427.7" y2="750.2" stroke="#3c3c3c" stroke-width="0.6"/>
<text x="425.6" y="787" font-size="8.8" text-anchor="end" class="c3">50</text>
<line x1="426.2" y1="783.9" x2="427.7" y2="783.9" stroke="#3c3c3c" stroke-width="0.6"/>
<text x="425.6" y="820.8" font-size="8.8" text-anchor="end" class="c3">25</text>
<line x1="426.2" y1="817.7" x2="427.7" y2="817.7" stroke="#3c3c3c" stroke-width="0.6"/>
<text x="425.6" y="854.6" font-size="8.8" text-anchor="end" class="c3">0</text>
<line x1="426.2" y1="851.5" x2="427.7" y2="851.5" stroke="#3c3c3c" stroke-width="0.6"/>
<text x="406.8" y="783" font-size="8.6" text-anchor="middle" transform="rotate(-90 406.8 783)" style="stroke-width:.45px">Percent of Genotyped Cells</text>
<rect x="479.8" y="775" width="7.1" height="7.6" fill="#ff8c16"/>
<text x="489.6" y="781.3" font-size="6.4" font-weight="bold">HET</text>
<rect x="479.8" y="782.8" width="7.1" height="7.6" fill="#d60606"/>
<text x="489.6" y="789.1" font-size="6.4" font-weight="bold">MUT</text>
<rect x="479.8" y="790.6" width="7.1" height="7.6" fill="#2633f5"/>
<text x="489.6" y="796.9" font-size="6.4" font-weight="bold">WT</text>
<path d="M159.6 802.1V847.4H204.9" fill="none" stroke="#111" stroke-width="2.2"/>
<path d="M159.6 793.7l-7 14l7 -3.9l7 3.9z" fill="#111"/>
<path d="M213.3 847.4l-14 -7l3.9 7l-3.9 7z" fill="#111"/>
<text x="164.6" y="863.7" font-size="12.6">UMAP1</text>
<text x="152" y="842.8" font-size="12.6" transform="rotate(-90 152 842.8)">UMAP2</text>
<text x="561.9" y="503.6" font-size="25" font-weight="bold" class="c0"><tspan font-style="italic">JAK2</tspan><tspan font-style="italic" font-size="13.5" dy="-9.5">V617</tspan><tspan dy="9.5" font-size="25">&#8203;</tspan><tspan> GoT-ChA</tspan></text>
<text x="557.2" y="518.6" font-size="13">Accuracy = 93.5% (OCI-AML3 + HEL + CA46)</text>
<text x="557.2" y="534.9" font-size="13">Cells Genotyped = 60.1% (OCI-AML3 + HEL + CA46)</text>
<path d="M805.5 741.6L912 663V862L805.5 837.8Z" fill="url(#tzR)"/>
<rect x="878" y="681" width="134" height="183" fill="url(#twR)"/>
<path d="M651.5 614.2l1.6-7.2 4-7.3 4.1-9.3 3.1-7.2 6-4.9 9.2 0 9.6 3.3 8.4 3.8 8.1-1.9 7.5 3.5 6.4 9.2 8.3 8.5 8 4.6 2.9 3.9-4.6 5.9-6.5 7.4-6.4 8.3-8 6.3-7.6 4.5-9.4-3.7-11.4-1.8-13-2.8-9.5-2.7-6.9-6.2-3.1-7.1z" fill="#2a39f0" stroke="#2a39f0" stroke-width="1.2" stroke-linejoin="round"/>
<path d="M788.6 655.1l3.8-5.9 7.7-4.4 11.1-1.8 13-1 12.8-.5 11 3.2 7.8 7.2 6.3 10.9 3.2 12.6-2.4 10.8-5.5 10.8-9.5 8.2-12.7 4.5-14.3 1.8-9.3-2.6-7.8-7.2-4.7-7.9 1.7-11.1-4.1-9.5-1.7-9.5-4.9-3.7z" fill="#2a39f0" stroke="#2a39f0" stroke-width="1.2" stroke-linejoin="round"/>
<path d="M648.6 716.4l2.7-7 6.2-5.3 9.4-2.7 9.9-.9 6.5-3.7 7.8-.9 9.2-.2 2.9 6.2 4.9 7.4 3.3 5.7 4.6 4-4.7 4.1-2.5 7.7-1.5 4.3-7.1 4.5-8 6.4-7.7 2.3-6-.5-6.3-6.4-11.4-5.6-7.9-7.2-3.9-5.3z" fill="#d60b0b" stroke="#d60b0b" stroke-width="1.2" stroke-linejoin="round"/>
<path d="M714.6 792.7l1.8-9.4 3-8.9 9.6-6.3 6.7-6.7 4.8-9.2 7.4-4.3 7.5 2.6 6.2 6.2 1.5 2.9-4.6 2.4-3.3 7.4-6.1 4.4-8.3 1.9-3.5 4.9-4.8 5.5-6.2 6.3-6 1.7z" fill="#2a39f0" stroke="#2a39f0" stroke-width="1.2" stroke-linejoin="round"/>
<path d="M761.4 765.3l2.1 .9 3.3 5.6 6.6 1.1 6 4.2 .7 7.8-2.3 8.9-2.7 5-3.9-1.6-3.7-5.9 2.4-6.2-.9-8.1-5-3.9-2.2-4.2z" fill="#2a39f0" stroke="#2a39f0" stroke-width="1.2" stroke-linejoin="round"/>
<path d="M751.3 827.8l2.2-4.1 5.4-4.4 1.3 4.8-.5 8.6-3.9 2.3-4-.6z" fill="#2a39f0" stroke="#2a39f0" stroke-width="1.2" stroke-linejoin="round"/>
<path transform="scale(.5)" d="M1335 1161zm7 1zm15 1zm17-2zm54 14zm-9-3zm-10 2zm-10-4zm-16-1zm-7-1zm-19 4zm-14 0zm-15-3zm-4 9zm12 4zm10 0zm6-4zm21 6zm8-4zm17-3zm21 2zm19 11zm-4-5zm-29-1zm-12 5zm-16 2zm-12-7zm-8 2zm-16 4zm-12-3zm-9 3zm-5 7zm6-1zm9 1zm8 1zm13-1zm15-3zm15 4zm14-1zm10-5zm8 3zm23 5zm-6 7zm-8-1zm-27-3zm-21 3zm-13-2zm-30 3zm-20-3zm-5 8zm14-4zm26 0zm10 7zm25-2zm11-5zm15 5zm5 1zm30 1zm13-7zm8 4zm5 7zm-7 2zm-11-2zm-12 3zm-7-4zm-12 0zm-8 5zm-7-2zm-12-3zm-15 6zm-6-5zm-16 4zm-7-4zm-10 0zm-11 2zm-15 0zm4 9zm16-4zm29 3zm22-3zm12 3zm5 2zm15-3zm17 2zm14-1zm23 7zm-13-1zm-21 3zm-7-4zm-6 2zm-12-1zm-41 4zm-10-2zm-21-2zm-8-1zm-4 5zm-14-4zm-9 6zm5 5zm8-1zm10-1zm10 1zm21 1zm13-2zm13-1zm9-1zm15 1zm11 1zm16 1zm9-2zm5 2zm10 2zm-7 9zm-2-6zm-23-1zm-17 0zm-1 5zm-31-1zm-5-5zm-25 1zm-24 1zm-2 5zm7 6zm9-5zm6 2zm17 1zm7-3zm12 2zm13 2zm13 3zm11-7zm5 3zm7 4zm6-1zm10 5zm-15 3zm-7-2zm-10 0zm-16-2zm-11 4zm-7 2zm-7-8zm-12 4zm-8 4zm-8-5zm-5-1zm-7 5zm-13-6zm23 9zm27-1zm32 3zm6 0zm6-1zm11 3zm12 0zm244 6zm-14-1zm-14-1zm-7 2zm-17 0zm-203 1zm-16-2zm-10 3zm-9-3zm-7-3zm25 11zm7 0zm192-2zm5 0zm10 4zm16-4zm6 7zm6-4zm6-4zm10 1zm6 6zm11-3zm7 4zm8-7zm14 14zm-27-6zm-2 4zm-21-4zm-34 2zm-19 2zm-11-5zm-14 2zm-4 5zm11 3zm23 5zm8-3zm10-1zm9-2zm7 2zm20 1zm14-2zm21-1zm7 6zm9 4zm-9 5zm-20-8zm-3 7zm-9-3zm-14-3zm-8 1zm-7 1zm-11 2zm-9-1zm-16 1zm-7 1zm-2-5zm-15 3zm-10-4zm13 14zm5-3zm11 0zm7 4zm20-5zm1 4zm19-1zm10-4zm14 2zm13 5zm1-8zm7 1zm19 2zm7 7zm-12-2zm-10 6zm-4-4zm-16 1zm-7 4zm-10 1zm-6-4zm-5 1zm-10-2zm-17 2zm-10-4zm-14 0zm-13 12zm8-4zm6 0zm15 0zm8 6zm6-7zm0 5zm41 2zm7-1zm4-1zm11-4zm3 7zm6-4zm5-2zm12 3zm-3 4zm-18 5zm-8-3zm-6 1zm-6 2zm-11-1zm-4-5zm-16 2zm-9 2zm-21 2zm-12-5zm-10 7zm15 1zm8 3zm8-3zm17 4zm20-3zm7 3zm13-2zm12 4zm11-2zm5-5zm2 7zm5-5zm3 7zm-7 7zm-13-1zm-15-4zm-31 0zm-8 1zm-8-2zm-8-2zm-12 8zm-7-1zm-9-1zm-7-5zm1 8zm33 1zm4 4zm3-2zm7 0zm10-2zm9 3zm9-4zm8 4zm11 0zm4 2zm8-2zm6 1zm11 1zm-7 7zm-13 0zm-13-3zm-7 2zm-27 0zm-14-2zm-17 2zm-10-3zm-2 4zm-9 0zm-6 8zm16-1zm18-2zm2 4zm3-7zm3 4zm10-3zm8 7zm4-8zm6 2zm16 5zm5-6zm6 1zm8 6zm13-1zm-25 8zm-13-1zm-7-2zm-10 0zm-12 1zm-5 2zm-12-1zm-6-5zm-7 5zm-7-3zm-245 2zm-34 8zm276-1zm4-2zm25 0zm16 0zm11 4zm6-3zm9 2zm22-2zm-11 5zm-18 4zm-3-4zm-1 7zm-24-3zm-7 0zm-15-4zm-4 7zm-310-5zm35 12zm34-4zm39 3zm215-4zm19 2zm5 4zm4-6zm8 4zm-268 4zm-90 14zm27-5zm44 3zm46 3zm-19 2zm-77 5zm-21 5zm49-1zm27 1zm-43 12zm-24 5zm95-1zm-30 11zm-33-3zm151 21zm-15 10zm-11 6zm25 6zm17-2zm-36 8zm-20 14zm38 0zm36 8zm-76 7zm89 5zm-111 2zm-7 16zm31-1zm81 1zm15 2zm-46 88zm-10-3z" stroke="#869392" stroke-width="4.6" stroke-linecap="round" fill="none"/>
<path transform="scale(.5)" d="M1331 1174zm8 5zm-1-1zm-6 5zm-1-6zm-14 12zm6 3zm0-4zm1-3zm4 6zm0 0zm12-1zm-6 7zm-7-1zm-1-1zm-3 3zm-5-1zm-2 1zm-2 7zm2 1zm7-4zm1 1zm6 4zm128 7zm-131 0zm-1-3zm-2-3zm130 11zm5 5zm2-3zm0-1zm1-3zm2 4zm5-4zm1 3zm2 3zm-46 37zm-20 4zm6 5zm4 2zm2-2zm1-1zm9 2zm-1 10zm0-1zm-2-4zm-9 4zm-3-3zm7 6zm6-2zm217 3zm4 0zm12 3zm-5 10zm-5-3zm-1-4zm-4 2zm-2-3zm-3 8zm9 4zm3-3zm69 43zm-2 6zm8 5zm1 8zm-1-6zm0 2zm-2 1zm-2-3zm-1-1zm-1 3zm-4 2zm-1-5zm-2 4zm-4 7zm2-1zm3 2zm0-1zm1 0zm3 2zm1-1zm6 9zm-2-1zm0-2zm0 6zm-2-2zm-1-4zm-2-2zm-1 3zm-1-2zm-1 6zm-7-3zm3 4zm1 1zm2 3zm3 1zm6-4zm0 4zm1-1z" stroke="#869392" stroke-width="6.4" stroke-linecap="round" fill="none"/>
<path transform="scale(.5)" d="M1336 1160zm7-3zm6 0zm6 0zm6 0zm7 2zm38 8zm-20 0zm-6-3zm-6-2zm-42 3zm-7 9zm67-5zm4 3zm18-2zm5 1zm7 4zm7 6zm-108-4zm-4 8zm116 3zm7 9zm-3-3zm-123-1zm-2 4zm-5 6zm140 2zm12 10zm-7-5zm-148 1zm-3 9zm164-2zm5 5zm2 5zm-172-1zm-1 12zm1-4zm163 3zm5-3zm-9 9zm-154 5zm0 4zm146 2zm4-5zm-9 12zm-4 2zm-128 0zm-4-5zm11 8zm5 3zm112 1zm-6 6zm-74 2zm-6-2zm-9-2zm-4-1zm-7-1zm34 8zm5-1zm7 3zm7 0zm10 4zm21 0zm2-2zm7-4zm191 5zm4-1zm6 0zm9 0zm4 0zm8-2zm7 0zm7 0zm3 0zm10 1zm5 2zm7 1zm12 8zm-3-4zm-89-3zm-7 0zm-10 5zm-182-2zm-8-2zm181 12zm1-2zm124 0zm6 12zm-3-6zm-133 3zm1 7zm139 3zm5 5zm-1 3zm-134 0zm-8-4zm9 11zm137 2zm2 7zm-137-5zm1 10zm3 2zm134-3zm0 7zm-131 6zm0 3zm129 0zm-1 8zm-1 3zm-125-3zm-1 6zm120 7zm1-3zm-4 10zm-116 2zm-2-6zm6 12zm109-3zm-6 6zm-6 2zm-2 4zm-88 0zm-6-5zm11 10zm3 2zm69-2zm5 0zm-14 4zm-5 2zm-7 3zm-6-1zm-8 0zm-10 2zm-5 1zm-5-3zm-6-1zm-138 81zm10-3zm4 2zm9 3zm8 8zm-39-5zm-2 3zm-4 6zm47 5zm1-3zm-7 11zm-44-6zm-6 6zm-8 7zm4-2zm48 3zm13 0zm1-3zm2 2zm11 10zm-7-5zm-5 4zm-18-3zm-5 3zm-50-3zm-4 4zm-7 4zm43 4zm10-4zm39 1zm2 3zm5-8zm7 1zm7 6zm4 7zm-21 1zm-59-4zm-42 0zm-1 5zm-2 6zm37-2zm69 3zm20-1zm-1 5zm-1 5zm-89-7zm-6 6zm-32-4zm1 7zm23 4zm80 0zm3-5zm19 8zm-3 3zm-17 0zm-89-3zm-6 3zm-2 0zm-10-1zm113 7zm7 3zm-32 44zm-4 2zm-6 3zm-4 8zm17-5zm-1 8zm-16 2zm0 8zm5 3zm9-4z" stroke="#2a39f0" stroke-width="6.8" stroke-linecap="round" fill="none"/>
<path transform="scale(.5)" d="M1350 1409zm23 30zm28 39z" stroke="#2a39f0" stroke-width="7" stroke-linecap="round" fill="none"/>
<path transform="scale(.5)" d="M1647 1294zm-55 22zm35 14zm53 0zm43 24zm-118 34zm49 1zm36 11zm-62 11zm-136 87zm10 8zm18 4zm-25 2zm-17 2zm-9 13zm29-2zm15 7zm-24-2zm-27 3zm2 11zm13-7zm13 4zm10-1zm48 5zm-21 1zm-85-1zm-2 10zm42-3zm77 3zm0 9zm-15-2zm-73 2zm-12-1zm-10-1zm-12 9zm27 1zm94 1zm-101 9zm-28-1zm10 4zm7 4zm96-4zm0 7zm-21 52zm-6 25zm-13-4z" stroke="#d60b0b" stroke-width="7.8" stroke-linecap="round" fill="none"/>
<path transform="scale(.5)" d="M1384 1391zm12 0zm4 1zm-10 0zm-16 1zm-6 0zm-8 3zm-5 3zm-36 8zm4-1zm6-3zm6 1zm5-3zm8 0zm58 0zm2 4zm3 6zm-102 1zm-5 6zm113 3zm4 4zm-122 0zm-2 5zm1 8zm126-6zm5 4zm4 2zm-9 6zm-3 3zm-124-5zm3 10zm5 3zm114 2zm-3 5zm-107-2zm4 6zm5 3zm95 2zm-9 6zm-4 2zm-63 0zm-8-2zm-4-4zm16 7zm7 5zm46-1zm-6 5zm-7 3zm-8 4zm-18-2zm-2-5zm14 7z" stroke="#d60b0b" stroke-width="6.8" stroke-linecap="round" fill="none"/>
<path transform="scale(.5)" d="M1352 1156zm59 12zm15 24zm-41 0zm-47 2zm120 29zm-27 4zm-98 6zm138 2zm-64 13zm-37-6zm-37 28zm96 3zm-43 12zm290 8zm-35-1zm-34 4zm-29 10zm53 18zm66 21zm-85 36zm54-4zm31 2zm-306 19zm-25-1zm-48 8zm31-3zm288 2zm26 3zm-256 7zm-75 6zm92 10zm-56-2zm-60 7zm97 12zm-6 13zm14 10zm-28 1zm-41-2zm25 22zm133 5zm-18 5zm11 11zm24 5zm-41-2zm-11 11zm6-5zm23 1zm6 5zm12 4zm-34 2zm-19 2zm3 8zm11-3zm16-2zm8 0zm9 2zm18-3zm14 6zm-8 5zm-44 1zm-16 2zm-14-2zm-17 1zm5 10zm33-2zm73-4zm-14 9zm-69 0zm-35-2zm6 14zm25-5zm84 0zm5 8zm-12 1zm-91 0zm-15 7zm116 11zm-48 58zm16-7zm0 13zm-9 4z" stroke="#fa8d1a" stroke-width="7.8" stroke-linecap="round" fill="none"/>
<path transform="scale(.5)" d="M1344 1189zm49 3zm248 161z" stroke="#fff" stroke-width="4.4" stroke-linecap="round" fill="none"/>
<circle cx="794.5" cy="689.5" r="2" fill="#fa8d1a"/>
<text x="557.2" y="575.9" font-size="13" font-weight="bold">OCI-AML3</text>
<circle cx="561.3" cy="588.1" r="5" fill="#2a39f0"/>
<text x="577.2" y="592.7" font-size="13.1">WT (50.7%)</text>
<circle cx="561.3" cy="604.6" r="5" fill="#fa8d1a"/>
<text x="577.2" y="609.2" font-size="13.1">HET (2.0%)</text>
<circle cx="561.3" cy="621.2" r="5" fill="#d60b0b"/>
<text x="577.2" y="625.8" font-size="13.1">MUT (0.1%)</text>
<circle cx="561.3" cy="637.7" r="5" fill="#7f8c8d"/>
<text x="577.2" y="642.3" font-size="13.1">NA (46.4%)</text>
<text x="822.4" y="565.3" font-size="13" font-weight="bold">CA46</text>
<circle cx="826.5" cy="577.5" r="5" fill="#2a39f0"/>
<text x="842.4" y="582.1" font-size="13.1">WT (44.6%)</text>
<circle cx="826.5" cy="594" r="5" fill="#fa8d1a"/>
<text x="842.4" y="598.6" font-size="13.1">HET (1.5%)</text>
<circle cx="826.5" cy="610.6" r="5" fill="#d60b0b"/>
<text x="842.4" y="615.2" font-size="13.1">MUT (1.5%)</text>
<circle cx="826.5" cy="627.1" r="5" fill="#7f8c8d"/>
<text x="842.4" y="631.8" font-size="13.1">NA (52.4%)</text>
<text x="557.2" y="710.2" font-size="13" font-weight="bold">HEL</text>
<circle cx="561.3" cy="722.4" r="5" fill="#2a39f0"/>
<text x="577.2" y="727" font-size="13.1">WT (1.1%)</text>
<circle cx="561.3" cy="738.9" r="5" fill="#fa8d1a"/>
<text x="577.2" y="743.5" font-size="13.1">HET (5.3%)</text>
<circle cx="561.3" cy="755.5" r="5" fill="#d60b0b"/>
<text x="577.2" y="760.1" font-size="13.1">MUT (78.6%)</text>
<circle cx="561.3" cy="772" r="5" fill="#7f8c8d"/>
<text x="577.2" y="776.6" font-size="13.1">NA (15.0%)</text>
<line x1="625.5" y1="570.3" x2="684.6" y2="602.5" stroke="#111" stroke-width="1.9" stroke-dasharray="3 2.5"/>
<line x1="814.8" y1="562.6" x2="800" y2="659" stroke="#111" stroke-width="1.9" stroke-dasharray="3 2.5"/>
<line x1="591" y1="706.5" x2="674.3" y2="717.6" stroke="#111" stroke-width="1.9" stroke-dasharray="3 2.5"/>
<rect x="708.8" y="741.6" width="96.1" height="96.2" fill="none" stroke="#111" stroke-width="2" stroke-dasharray="3.8 3.2"/>
<text x="895.7" y="693" font-size="13" font-weight="bold">SET-2</text>
<text x="895.7" y="704.6" font-size="9.7" style="stroke-width:.45px">Cells Genotyped = 62.3%</text>
<rect x="912.5" y="715.8" width="39.8" height="34.2" fill="#ff8c16"/>
<text x="932.4" y="736" font-size="8.9" text-anchor="middle" class="c2">25.2%</text>
<rect x="912.5" y="749.8" width="39.8" height="36.5" fill="#d60606"/>
<text x="932.4" y="771.2" font-size="8.9" text-anchor="middle" class="c2">26.9%</text>
<rect x="912.5" y="786.2" width="39.8" height="64.9" fill="#2633f5"/>
<text x="932.4" y="821.7" font-size="8.9" text-anchor="middle" class="c2">47.9%</text>
<path d="M908.8 709V857.4H952.3" fill="none" stroke="#0a0a0a" stroke-width="1.5"/>
<text x="906.1" y="719.5" font-size="8.8" text-anchor="end" class="c3">100</text>
<line x1="906.7" y1="716.4" x2="908.2" y2="716.4" stroke="#3c3c3c" stroke-width="0.6"/>
<text x="906.1" y="753.3" font-size="8.8" text-anchor="end" class="c3">75</text>
<line x1="906.7" y1="750.2" x2="908.2" y2="750.2" stroke="#3c3c3c" stroke-width="0.6"/>
<text x="906.1" y="787" font-size="8.8" text-anchor="end" class="c3">50</text>
<line x1="906.7" y1="783.9" x2="908.2" y2="783.9" stroke="#3c3c3c" stroke-width="0.6"/>
<text x="906.1" y="820.8" font-size="8.8" text-anchor="end" class="c3">25</text>
<line x1="906.7" y1="817.7" x2="908.2" y2="817.7" stroke="#3c3c3c" stroke-width="0.6"/>
<text x="906.1" y="854.6" font-size="8.8" text-anchor="end" class="c3">0</text>
<line x1="906.7" y1="851.5" x2="908.2" y2="851.5" stroke="#3c3c3c" stroke-width="0.6"/>
<text x="887.3" y="783" font-size="8.6" text-anchor="middle" transform="rotate(-90 887.3 783)" style="stroke-width:.45px">Percent of Genotyped Cells</text>
<rect x="960.3" y="775" width="7.1" height="7.6" fill="#ff8c16"/>
<text x="970.1" y="781.3" font-size="6.4" font-weight="bold">HET</text>
<rect x="960.3" y="782.8" width="7.1" height="7.6" fill="#d60606"/>
<text x="970.1" y="789.1" font-size="6.4" font-weight="bold">MUT</text>
<rect x="960.3" y="790.6" width="7.1" height="7.6" fill="#2633f5"/>
<text x="970.1" y="796.9" font-size="6.4" font-weight="bold">WT</text>
<path d="M637.6 802.1V847.4H682.9" fill="none" stroke="#111" stroke-width="2.2"/>
<path d="M637.6 793.7l-7 14l7 -3.9l7 3.9z" fill="#111"/>
<path d="M691.3 847.4l-14 -7l3.9 7l-3.9 7z" fill="#111"/>
<text x="642.6" y="863.7" font-size="12.6">UMAP1</text>
<text x="630" y="842.8" font-size="12.6" transform="rotate(-90 630 842.8)">UMAP2</text>
<rect x="536" y="898" width="3.2" height="379.5" fill="#748688"/>
<text x="79.4" y="916.6" font-size="25" font-weight="bold"><tspan font-style="italic">NRAS</tspan><tspan font-style="italic" font-size="13.5" dy="-9.5">Q61</tspan><tspan dy="9.5" font-size="25">&#8203;</tspan><tspan> GoT-ChA</tspan></text>
<text x="79.2" y="931.6" font-size="13">Accuracy = 91.7% (OCI-AML3 + HEL + CA46 + SET-2)</text>
<text x="79.2" y="947.9" font-size="13">Cells Genotyped = 46.3% (OCI-AML3 + HEL + CA46 + SET-2)</text>
<path d="M171.6 1024.5l5.7-13.7 6.3-13.7 7.7-6.2 9.1 .4 9.7 5.2 6.8 1 6.5-1.3 7.6 1.2 6.3 6.3 8.1 9.2 8.1 9.4 5.4 4-3.9 5.8-6.4 7.4-6.5 8.4-6.2 8.1-12.4 1.7-9.6-3.7-13-2.8-16.1-2.7-7.8-4.5-4.9-7.9z" fill="#d60b0b" stroke="#d60b0b" stroke-width="1.2" stroke-linejoin="round"/>
<path d="M308.4 1068.1l4.1-6.8 8.6-4.5 11.1-2.3 14.5-.4 14.4 .4 9.4 3.2 7.8 7.1 5.6 12.8 2.7 10.8-1.9 10.8-4.7 10.9-9.5 8.1-12.7 4.5-14.3 3.3-10.9-3.2-7.8-7.1-3.9-9-1.6-11.1-4.1-13.2-4.9-9.3z" fill="#2a39f0" stroke="#2a39f0" stroke-width="1.2" stroke-linejoin="round"/>
<path d="M169.7 1131.1l1.8-7 5.4-6.1 11.1-4.5 12.9-2.8 12.9-1.8 6.6-1.2 .6 5.4 6.5 2.9 3 7.9 1.6 9-3.1 8.9-4 8.2-5.5 5.4-7.8 4.5-7.7 1.4-7.8-2.3-8-5.6-9.6-4.5-6.2-7.1z" fill="#2a39f0" stroke="#2a39f0" stroke-width="1.2" stroke-linejoin="round"/>
<path d="M236.3 1206l-.4-11.7 7-9.9 10.1-15.2 12.2-9.4 12 1.9 6 9.6-1.2 10.5 10.6 4.2 7.2 5.9 1.2 9.6-4.8 9.6-5.3 2.4-3.2-9.3 3.8-10.4-9.4-8.3-6.9-2.7-10.7 4-10.4 10.3-9.9 8.7z" fill="#2a39f0" stroke="#2a39f0" stroke-width="1.2" stroke-linejoin="round"/>
<path d="M272.6 1241.3l1.4-4.6 4.8-3.4 2.1 3.8-.7 7.5-3.1 2.5-3.7-1.4z" fill="#2a39f0" stroke="#2a39f0" stroke-width="1.2" stroke-linejoin="round"/>
<path transform="scale(.5)" d="M391 1984zm11-3zm8 6zm-17 3zm-11-2zm-17 11zm32-5zm23 2zm22-1zm11-2zm7 3zm16 10zm-8-3zm-14 1zm-16-2zm-7-1zm-7 5zm-12 0zm-10-5zm-10-1zm-15 2zm-13 11zm19 3zm4-6zm14 1zm31 0zm10 0zm15 2zm11-2zm9 2zm3 9zm-29 2zm-20-1zm-7-5zm-11-2zm-8 4zm-7 0zm-8 1zm-21-1zm-18 9zm15-4zm10 4zm8-2zm21-2zm13 0zm21 5zm16-3zm14 3zm20 1zm13 6zm-52-2zm-24 1zm-7-4zm-4 5zm-19 1zm-13 0zm-16-4zm-10 2zm3 6zm11 1zm52 1zm9-4zm5 5zm8-1zm9-2zm7 4zm12-4zm7 3zm4-3zm35 11zm-16-5zm-21 4zm-10 4zm-12-2zm-22 0zm-13-1zm-3-4zm-6 5zm-8-2zm-17-3zm-14-1zm-12 4zm-12-2zm-9 1zm16 9zm14-3zm4 7zm8-7zm1 7zm8 0zm32-2zm11 1zm13-6zm19 5zm14 0zm11-5zm10 3zm1 8zm-32 1zm-62-3zm-4 4zm-9-3zm-28 1zm-28 2zm5 5zm12 2zm18 1zm28 2zm8-4zm11-1zm10 1zm12 3zm4-5zm35 1zm7 0zm6 3zm-15 5zm-10-2zm-9 5zm-13-6zm-12 6zm-19-2zm-14 3zm-16-6zm-19 2zm-20-2zm16 9zm17-1zm9 4zm6-5zm10 3zm16 5zm7-4zm20-3zm12 6zm16-5zm5 7zm-12 0zm-23 4zm-8 3zm-9 0zm-6-2zm-9-1zm-12 0zm-5-3zm-11 3zm-14-2zm37 6zm27 5zm19-4zm9-2zm186 7zm4-1zm7 1zm6-2zm11-3zm6 3zm21 1zm14 0zm6 2zm8 1zm-6 7zm-7-5zm-9 0zm-10 0zm-7-2zm-15 3zm-14-1zm-8 2zm-11-1zm-5-3zm-9 5zm-170-5zm163 11zm8 2zm9-5zm9 1zm10 1zm5 5zm6-4zm16-3zm1 5zm10-4zm6-2zm6 0zm2 6zm7 0zm28-2zm-14 9zm-6-5zm-13 6zm-5-4zm-6 5zm-13-2zm-8 1zm-10-3zm-6 3zm-12-6zm0 7zm-12-1zm-6 1zm-22-5zm-2 5zm9 7zm48 2zm15-5zm11 2zm4 0zm5 0zm22-1zm10 0zm10-3zm6 6zm-6 8zm-7-2zm-9-2zm-13-3zm-8 2zm-9-1zm-10 6zm-7-6zm-2 7zm-7-2zm-9-4zm-10 0zm-11-1zm0 6zm-6-3zm-5-1zm-11 8zm4 3zm30-3zm5 5zm7-4zm11 2zm9-1zm5-2zm8 0zm12 5zm0-6zm8 3zm7 0zm8 3zm15-6zm6 3zm1 9zm-7 1zm-5-3zm-4 0zm-3 3zm-16-4zm-11 3zm-7 0zm-15 1zm-16-5zm-10 2zm-11-4zm-6 4zm-6 1zm-8 0zm-11-1zm3 6zm4 5zm5 0zm7-1zm9-3zm12-2zm12 3zm6 3zm2-5zm5 3zm10-4zm12 4zm10 0zm8 2zm2-5zm2 3zm5 0zm16 3zm6 0zm7-7zm2 10zm-8 2zm-11 1zm-5-2zm-15 1zm-13-4zm-4 4zm-3-2zm-4 0zm-11 3zm-23 0zm-8-2zm-11-2zm-7 4zm-13 2zm8 5zm12-3zm6-1zm21 0zm1 5zm7-5zm5 2zm5 4zm7-1zm19-5zm3 6zm20 1zm6-4zm9-1zm-3 7zm-17 3zm-6-4zm-4 4zm-6 2zm-10-6zm-4 6zm-22-1zm-9 1zm-11-6zm-10 0zm-9 0zm-15 3zm-2 7zm10-2zm10 4zm7-2zm16 4zm10-1zm15-2zm13 4zm8-5zm5 5zm3-3zm15-3zm11 3zm5 4zm-8 1zm-16 5zm-6-5zm-5 5zm-13 0zm-12-3zm-5 2zm-3-5zm-23 5zm-12 1zm-8-4zm-8 1zm-7-3zm-254 14zm29-5zm17-2zm5 2zm6 1zm207 0zm6 3zm6 1zm5 0zm2-5zm15-1zm9-1zm10 8zm11-5zm11 2zm13 1zm13-2zm5 0zm-11 8zm-12 0zm-54 0zm-8-2zm-2 5zm-15 1zm-7-6zm-213 3zm-6-1zm-14-1zm-10 5zm-5-6zm-9 3zm-8 0zm-8-2zm-12 5zm-11 8zm8-1zm8-2zm7-2zm9 5zm11-6zm15 2zm6-1zm5-2zm6 5zm8-1zm6-4zm11 4zm5-4zm207 1zm2 6zm16-6zm7 0zm9 2zm10-2zm7 1zm7-2zm17 1zm5 1zm5-3zm-20 10zm-12 5zm-4-1zm0-5zm-4 4zm-6-3zm-9 4zm-7-3zm-3 4zm-7-4zm-217-3zm-3 4zm-20-2zm-10 5zm-18-3zm-6-3zm-6 2zm-5 4zm-16-1zm-7 1zm-9-1zm-17 9zm9-2zm19 0zm4 3zm9-3zm9-2zm6 2zm7-4zm12 0zm22 0zm6 6zm11-2zm8 1zm208-5zm28 0zm-236 12zm-26-2zm-8 4zm0-6zm-4 6zm-11-4zm-7-1zm-8 4zm-17 0zm-14-4zm-6-1zm-25 6zm12 3zm5 0zm5 2zm9 2zm7-2zm13-1zm8 2zm18 0zm18-1zm8 1zm6-2zm12 10zm-8-5zm-5 3zm-9-1zm-3 4zm-5-3zm-6 2zm-6-1zm-6 3zm-7-7zm-38 8zm-6-4zm-6 4zm-9-7zm3 10zm14 3zm10-1zm12-4zm13 1zm9 4zm9 2zm7-3zm6-3zm10 3zm18-1zm-8 7zm-7 3zm-19 2zm-14-2zm-15-1zm-12 0zm-8-1zm-16-2zm-1 9zm6-2zm7 2zm11 2zm13-1zm11 1zm15 2zm14-4zm18 1zm-8 5zm-6 3zm-9-1zm-7 1zm-5 3zm-8-1zm-7 0zm-8-3zm-14 3zm10 4zm7 1zm13 2zm26-3zm121 9zm-6 0zm-7 1zm-4 3zm-11-6zm-106 0zm-20-1zm114 12zm5-2zm8 6zm3-7zm19 1zm16 13zm-11-3zm-12-3zm-10 6zm-15-5zm-13 5zm0 7zm9-6zm15 7zm12-5zm9 1zm5 2zm0-5zm10 12zm-11 2zm-6 0zm-8 0zm-14-3zm-12-3zm-4 7zm-14-4zm-11 10zm11 0zm9 2zm8-2zm3-2zm5 4zm4-2zm9 1zm2-5zm4 4zm15-2zm4 0zm18 7zm-7 1zm-6-1zm-5 0zm-26 2zm-6-3zm-17 4zm-8-4zm-7 4zm-6-2zm-8 10zm8 0zm14 0zm5-1zm6 1zm9-5zm50 3zm7 0zm6-1zm13 9zm-5 2zm-6-1zm-86 0zm-16-1zm-12-1zm2 10zm10-3zm9 3zm11 0zm5-3zm67 6zm9-5zm5 4zm9-2zm-3 6zm-5 4zm-18 1zm-75-6zm-12 6zm-5 0zm-1-6zm-9 1zm1 11zm107-4zm8 6zm10-4zm-5 9zm-15-3zm5 8zm-26 45zm-10 4zm13 4zm-3 9zm-11-6zm-2 12zm8 0z" stroke="#869392" stroke-width="4.6" stroke-linecap="round" fill="none"/>
<path transform="scale(.5)" d="M462 2003zm6 3zm1-1zm7 10zm-3-6zm-3 1zm-1 5zm-1-5zm-8 3zm-2-2zm8 11zm4-3zm7 2zm3 2zm1 0zm5 0zm4 1zm-3 5zm0-3zm-1 5zm-5-1zm-1 3zm1 2zm1-1zm6 10zm-133 11zm-4 7zm-3 1zm-5-1zm1 9zm2 0zm2-3zm1 0zm0 4zm3-3zm1-2zm2-1zm0 1zm1 4zm6-7zm1 4zm1 1zm7-5zm-8 15zm-7 1zm-1-8zm-1 2zm-1 0zm-1 1zm-3 0zm3 6zm1 1zm3-2zm347 29zm-9 2zm-2-1zm-7-3zm-8 4zm-6 0zm0-1zm-11 2zm6 3zm3 0zm0-2zm6 4zm3 1zm7-4zm3-2zm4 1zm2 2zm4-3zm0 7zm28-6zm4 5zm1-1zm2-1zm3-2zm6 4zm2 3zm-6 5zm-1-4zm-1 1zm-2 1zm-37-2zm-6 1zm-27 2zm0-5zm-4 4zm37 5zm47 1zm-303 93zm-4-3zm-3 3zm-8-1zm-1 3zm8 2zm1 4zm5 1zm0-6zm1 4zm0-4zm1 1zm5 4zm4 1zm4-2zm254 1zm17 6zm-9 1zm0-2zm-11-2zm0 1zm-6-2zm-244 3zm-10-1zm0 3zm-1-4zm-4-2zm-2 3zm-2-2zm-5-1zm-1 3zm12 12zm0-1zm8-2zm1 0zm2 4zm7 0zm0-2zm247 1zm1-5zm2 0zm1-2zm3 4zm4-1zm-261 7zm-5 3zm-103 1zm-10 7zm3-2zm0 3zm4 0zm3 1zm3-5zm0 2zm106 1zm1-5zm4 4zm-112 7zm-3-1zm-9 0zm162 77zm3-2zm7 0zm3-2zm3 3zm3 1zm5-6zm-6 8zm-10 2zm-3 2zm-4 0zm18 7zm53 18zm16 6zm2 3zm-7 7zm-3 0zm0-5zm0 1zm4 21zm7 6zm-4-2zm-1 4zm-4-6zm0 3zm-2 2zm0 1zm-5-1zm3 3zm6 2zm1-2zm0 0zm1 3zm3-3zm1 1zm0-1zm1 1zm2 2zm2-3z" stroke="#869392" stroke-width="6.4" stroke-linecap="round" fill="none"/>
<path transform="scale(.5)" d="M383 1987zm65 5zm-40 6zm25 8zm31-5zm15 20zm-17 0zm-54-3zm-24 2zm-3 18zm45-2zm64 7zm-89 1zm70 7zm36 7zm-126 1zm-18 5zm61 4zm37 8zm-17 1zm-92 6zm34 10zm25 5zm43 7z" stroke="#2a39f0" stroke-width="7" stroke-linecap="round" fill="none"/>
<path transform="scale(.5)" d="M649 2112zm13-1zm6-1zm5-2zm7 2zm7-2zm7 0zm10 0zm4 0zm9 1zm8 1zm8 2zm13 7zm-5-3zm-5-2zm-92-1zm-5 2zm-5 2zm-5 4zm128 10zm-2-3zm-134 1zm-3 5zm2 8zm141-3zm1 5zm3 7zm-142 0zm4 6zm142 2zm1 3zm-140-1zm2 8zm2 7zm137-4zm2 9zm-138-1zm2 9zm134-4zm-1 10zm-1 3zm-130-3zm0 6zm126 6zm-4 8zm-121-6zm-251 14zm7 0zm8-1zm8-1zm5-2zm8-1zm3-1zm9 0zm4 0zm202 0zm3 6zm115-1zm-7 3zm-4 4zm-100 2zm-197-1zm-12-4zm-55-1zm-10 2zm-6 2zm-6 3zm-10 4zm102-2zm199 2zm79 4zm6-2zm5-6zm-21 10zm-3 0zm-8 4zm-4 0zm-40 1zm-5-2zm-6-5zm-198 3zm-111-2zm-4 7zm-4 5zm121-3zm214-1zm6 1zm11 0zm4-1zm-233 10zm-1-2zm-125 6zm3 5zm121 3zm2-3zm-4 10zm-119-4zm4 8zm2 5zm110-1zm-3 4zm-2 5zm-95 0zm-5-5zm8 10zm8 4zm82-4zm-7 6zm-5 6zm-57-1zm-6-5zm11 7zm6 6zm3 1zm25-1zm8-3zm4-1zm123 10zm-4-3zm-6-1zm-6 0zm-8 0zm-4 1zm-4 5zm-110-5zm-9-1zm107 12zm4-1zm44 1zm4 6zm-57-1zm-3 5zm-4 4zm66-1zm1 4zm-2 9zm-69-6zm0 2zm-4 9zm52 3zm8-2zm17-1zm4 1zm14 8zm-3-1zm-14 3zm-8-5zm-6-1zm-23 3zm-45-3zm-4 3zm-3 3zm-3 8zm47-4zm3-3zm46 2zm4 4zm15-3zm3 1zm6 7zm-1 4zm-20-6zm-63 1zm-5 4zm-40-3zm0 6zm30 6zm5-3zm73-3zm21 3zm1 7zm-23-2zm-82 3zm-25-1zm2 8zm2 0zm10 2zm5-4zm84-1zm3 5zm18 0zm-1 5zm-4 4zm-10 2zm-3-4zm-26 51zm5-4zm5 7zm-17 8zm17 0zm-5 8zm-4 4zm-7-6z" stroke="#2a39f0" stroke-width="6.8" stroke-linecap="round" fill="none"/>
<path transform="scale(.5)" d="M382 1982zm7 0zm6 0zm18 9zm-3-5zm-7-1zm-25-1zm-5 4zm-2 3zm-5 7zm58-4zm4 0zm8 1zm6-2zm8 0zm8 1zm5 1zm8 8zm-106-1zm-3 6zm-4 5zm119-2zm2 1zm5 6zm-129 3zm-3 3zm137 1zm2 1zm10 11zm-4-4zm-147 1zm-2 5zm-4 7zm159-4zm5 3zm7 10zm-3-6zm-169 8zm1 6zm170-5zm-4 7zm-8 7zm-159-5zm2 9zm5 4zm147 0zm2-4zm-146 8zm7 8zm128-1zm3-3zm-10 10zm-76 4zm-5-1zm-5 1zm-6-1zm-7-2zm-8-2zm-6-1zm45 9zm5 2zm7 0zm8 4zm6 0zm33 0zm2-2zm5-5zm-17 10zm-5 0zm-7 1zm-5-1z" stroke="#d60b0b" stroke-width="6.8" stroke-linecap="round" fill="none"/>
<path transform="scale(.5)" d="M685 2113zm-61 16zm117 29zm-95 4zm125 35zm-62 7zm-58 9zm102 7zm-327 10zm292 2zm-264 15zm-74 20zm36 7zm-44 25zm38 14zm141 11zm-45 14zm42 14zm-24 9zm-48 32zm125 1zm-22 19zm-23 59z" stroke="#d60b0b" stroke-width="7.8" stroke-linecap="round" fill="none"/>
<path transform="scale(.5)" d="M405 1989zm42 2zm-17 6zm-48 27zm67-4zm-31 18zm53 10zm40 2zm-161 20zm34 0zm62 3zm-44 8zm89 1zm-62 17zm16 14zm297 16zm-67 8zm83 28zm-115 5zm113 39zm-318 13zm233 7zm-281-2zm24 28zm38 24zm-92-1zm145 65zm43-2zm53 43zm-100 11zm81 0zm-32 81z" stroke="#fa8d1a" stroke-width="7.8" stroke-linecap="round" fill="none"/>
<path transform="scale(.5)" d="M369 2017zm55 3zm279 118zm-22 20zm-18 18z" stroke="#fff" stroke-width="4.4" stroke-linecap="round" fill="none"/>
<circle cx="263.9" cy="1053.3" r="2.2" fill="#869392"/>
<text x="79.2" y="988.9" font-size="13" font-weight="bold">OCI-AML3</text>
<circle cx="83.3" cy="1001.1" r="5" fill="#2a39f0"/>
<text x="99.2" y="1005.7" font-size="13.1">WT (3.9%)</text>
<circle cx="83.3" cy="1017.6" r="5" fill="#fa8d1a"/>
<text x="99.2" y="1022.2" font-size="13.1">HET (2.4%)</text>
<circle cx="83.3" cy="1034.2" r="5" fill="#d60b0b"/>
<text x="99.2" y="1038.8" font-size="13.1">MUT (47.1%)</text>
<circle cx="83.3" cy="1050.8" r="5" fill="#7f8c8d"/>
<text x="99.2" y="1055.3" font-size="13.1">NA (46.7%)</text>
<text x="344.4" y="978.3" font-size="13" font-weight="bold">CA46</text>
<circle cx="348.5" cy="990.5" r="5" fill="#2a39f0"/>
<text x="364.4" y="995.1" font-size="13.1">WT (41.0%)</text>
<circle cx="348.5" cy="1007" r="5" fill="#fa8d1a"/>
<text x="364.4" y="1011.6" font-size="13.1">HET (0.8%)</text>
<circle cx="348.5" cy="1023.6" r="5" fill="#d60b0b"/>
<text x="364.4" y="1028.2" font-size="13.1">MUT (1.3%)</text>
<circle cx="348.5" cy="1040.2" r="5" fill="#7f8c8d"/>
<text x="364.4" y="1044.8" font-size="13.1">NA (56.9%)</text>
<text x="79.2" y="1123.2" font-size="13" font-weight="bold">HEL</text>
<circle cx="83.3" cy="1135.4" r="5" fill="#2a39f0"/>
<text x="99.2" y="1140" font-size="13.1">WT (42.2%)</text>
<circle cx="83.3" cy="1151.9" r="5" fill="#fa8d1a"/>
<text x="99.2" y="1156.5" font-size="13.1">HET (1.0%)</text>
<circle cx="83.3" cy="1168.5" r="5" fill="#d60b0b"/>
<text x="99.2" y="1173.1" font-size="13.1">MUT (1.6%)</text>
<circle cx="83.3" cy="1185" r="5" fill="#7f8c8d"/>
<text x="99.2" y="1189.6" font-size="13.1">NA (55.2%)</text>
<text x="344.4" y="1165.8" font-size="13" font-weight="bold">SET-2</text>
<circle cx="348.5" cy="1178" r="5" fill="#2a39f0"/>
<text x="364.4" y="1182.6" font-size="13.1">WT (36.4%)</text>
<circle cx="348.5" cy="1194.5" r="5" fill="#fa8d1a"/>
<text x="364.4" y="1199.1" font-size="13.1">HET (1.6%)</text>
<circle cx="348.5" cy="1211.1" r="5" fill="#d60b0b"/>
<text x="364.4" y="1215.7" font-size="13.1">MUT (2.7%)</text>
<circle cx="348.5" cy="1227.7" r="5" fill="#7f8c8d"/>
<text x="364.4" y="1232.2" font-size="13.1">NA (59.4%)</text>
<line x1="147.5" y1="983.3" x2="206.6" y2="1015.5" stroke="#111" stroke-width="1.9" stroke-dasharray="3 2.5"/>
<line x1="336.8" y1="975.6" x2="322" y2="1072" stroke="#111" stroke-width="1.9" stroke-dasharray="3 2.5"/>
<line x1="113" y1="1119.5" x2="196.3" y2="1130.6" stroke="#111" stroke-width="1.9" stroke-dasharray="3 2.5"/>
<line x1="339" y1="1162.7" x2="265" y2="1172.4" stroke="#111" stroke-width="1.9" stroke-dasharray="3 2.5"/>
<path d="M159.6 1215.1V1260.4H204.9" fill="none" stroke="#111" stroke-width="2.2"/>
<path d="M159.6 1206.7l-7 14l7 -3.9l7 3.9z" fill="#111"/>
<path d="M213.3 1260.4l-14 -7l3.9 7l-3.9 7z" fill="#111"/>
<text x="164.6" y="1276.7" font-size="12.6">UMAP1</text>
<text x="152" y="1255.8" font-size="12.6" transform="rotate(-90 152 1255.8)">UMAP2</text>
<text x="558.2" y="916.6" font-size="25" font-weight="bold" class="c0"><tspan font-style="italic">NRAS</tspan><tspan font-style="italic" font-size="13.5" dy="-9.5">Q61</tspan><tspan dy="9.5" font-size="25">&#8203;</tspan><tspan> GoT-ChA</tspan></text>
<text x="557.2" y="931.6" font-size="13">Accuracy = 91.5% (OCI-AML3 + HEL + CA46 + SET-2)</text>
<text x="557.2" y="947.9" font-size="13">Cells Genotyped = 73.4% (OCI-AML3 + HEL + CA46 + SET-2)</text>
<path d="M651.5 1027.2l1.6-7.2 4-7.3 4.1-9.3 3.1-7.2 6-4.9 9.2 0 9.6 3.3 8.4 3.8 8.1-1.9 7.5 3.5 6.4 9.2 8.3 8.5 8 4.6 2.9 3.9-4.6 5.9-6.5 7.4-6.4 8.3-8 6.3-7.6 4.5-9.4-3.7-11.4-1.8-13-2.8-9.5-2.7-6.9-6.2-3.1-7.1z" fill="#d60b0b" stroke="#d60b0b" stroke-width="1.2" stroke-linejoin="round"/>
<path d="M788.6 1068.1l3.8-5.9 7.7-4.4 11.1-1.8 13-1 12.8-.5 11 3.2 7.8 7.2 6.3 10.9 3.2 12.6-2.4 10.8-5.5 10.8-9.5 8.2-12.7 4.5-14.3 1.8-9.3-2.6-7.8-7.2-4.7-7.9 1.7-11.1-4.1-9.5-1.7-9.5-4.9-3.7z" fill="#2a39f0" stroke="#2a39f0" stroke-width="1.2" stroke-linejoin="round"/>
<path d="M648.6 1129.4l2.7-7 6.2-5.3 9.4-2.7 9.9-.9 6.5-3.7 7.8-.9 9.2-.2 2.9 6.2 4.9 7.4 3.3 5.7 4.6 4-4.7 4.1-2.5 7.7-1.5 4.3-7.1 4.5-8 6.4-7.7 2.3-6-.5-6.3-6.4-11.4-5.6-7.9-7.2-3.9-5.3z" fill="#2a39f0" stroke="#2a39f0" stroke-width="1.2" stroke-linejoin="round"/>
<path d="M714.6 1205.7l1.8-9.4 3-8.9 9.6-6.3 6.7-6.7 4.8-9.2 7.4-4.3 7.5 2.6 6.2 6.2 1.5 2.9-4.6 2.4-3.3 7.4-6.1 4.4-8.3 1.9-3.5 4.9-4.8 5.5-6.2 6.3-6 1.7z" fill="#2a39f0" stroke="#2a39f0" stroke-width="1.2" stroke-linejoin="round"/>
<path d="M761.4 1178.3l2.1 .9 3.3 5.6 6.6 1.1 6 4.2 .7 7.8-2.3 8.9-2.7 5-3.9-1.6-3.7-5.9 2.4-6.2-.9-8.1-5-3.9-2.2-4.2z" fill="#2a39f0" stroke="#2a39f0" stroke-width="1.2" stroke-linejoin="round"/>
<path d="M751.3 1240.8l2.2-4.1 5.4-4.4 1.3 4.8-.5 8.6-3.9 2.3-4-.6z" fill="#2a39f0" stroke="#2a39f0" stroke-width="1.2" stroke-linejoin="round"/>
<path transform="scale(.5)" d="M1340 1982zm19 1zm28 11zm-41 5zm-20 6zm41 0zm62 2zm-53 7zm-21 1zm77 1zm17 12zm-43-1zm-64 1zm-34 8zm61 1zm86 0zm-25 11zm-101 2zm13 3zm51 1zm63-4zm14 13zm-37 1zm-125-1zm54 2zm16 5zm63 8zm-97 0zm72 4zm37 0zm-44 8zm-15 4zm-42 1zm-22 1zm74 8zm39-7zm217 11zm-17 4zm-26 0zm-13 8zm25 0zm8-7zm11 0zm36 0zm18 11zm-19-3zm-15 0zm-28 3zm-55 10zm10-2zm5 3zm5-4zm14 4zm16 0zm21-1zm16-6zm13 1zm22 3zm0 11zm-17-7zm-86 7zm-12 8zm17-1zm18-1zm16-3zm7 1zm19 5zm11-5zm17-2zm20 3zm8 12zm-20-6zm-9 1zm-17 4zm-18-4zm-13 0zm-13 0zm-22 3zm-22 9zm12 1zm16 0zm32-1zm44 1zm18-6zm15 7zm-14 3zm-8-1zm-23 3zm-17-5zm-35-1zm-3 12zm4-4zm16 5zm60-3zm8 3zm15-3zm-20 10zm-8-1zm-8 5zm-4-8zm-27 5zm-3-5zm-33 7zm-10-6zm-14 1zm6 10zm22 1zm13-2zm13 0zm18-3zm14 6zm30-4zm-3 10zm-11-1zm-25 2zm-57 2zm-19-3zm-2 6zm10 5zm20 1zm13-4zm13 0zm30-1zm28 1zm0 7zm-9 0zm-35-1zm-33 0zm-16 4zm-222 1zm-23 1zm-55 7zm9-1zm14 0zm303 0zm5-5zm25 4zm12 1zm-22 2zm-8 0zm-4 8zm-19-7zm-18-1zm-12 1zm-200 5zm-32-2zm-40 3zm-36 6zm15-4zm38 1zm39 5zm238-6zm12 1zm28 2zm-18 6zm-239 4zm-40-3zm-12 4zm-14-1zm-19-2zm-18-1zm-4 13zm73-5zm16 5zm27 5zm-12 2zm-17 1zm-37-7zm-16-1zm-45 10zm69 2zm14-3zm26 14zm-8 0zm-58-3zm-21-3zm25 10zm22 2zm47-1zm-39 9zm-41 2zm-10-6zm23 13zm35-4zm9 10zm-27 3zm135 6zm14 4zm-20 0zm-15 10zm22 0zm19 1zm-7 9zm-15-2zm-35 11zm11-1zm29-4zm12 7zm16 2zm-32 4zm-26 1zm-17 3zm23 2zm20 3zm37 1zm28 7zm-12-7zm-68 4zm-30 4zm-2-7zm89 14zm15 8zm-87-2zm-12-2zm-13-2zm-1 12zm9 2zm93-5zm-1 12zm-94 0zm-12-2zm115 7zm-33 45zm2 12zm-11 14z" stroke="#869392" stroke-width="4.6" stroke-linecap="round" fill="none"/>
<path transform="scale(.5)" d="M1364 2013zm67-1zm-22 34zm-44-2zm-48 4zm155 2zm-96 54z" stroke="#2a39f0" stroke-width="7" stroke-linecap="round" fill="none"/>
<path transform="scale(.5)" d="M1624 2111zm10 0zm5 0zm5 0zm5-2zm7 2zm7-2zm9 0zm3 0zm24 8zm-10-3zm-6-2zm-66 0zm-5 1zm-8 3zm-8 1zm-14 10zm7-5zm111-1zm6 3zm6 7zm-132 2zm134 4zm5 5zm5 7zm-139 1zm-5-6zm10 9zm1 4zm135-1zm2 10zm-1-5zm-136 4zm1 4zm3 7zm134-2zm2 4zm-2 6zm-131-1zm2 4zm127 6zm-127 5zm-1 5zm125 1zm2-3zm-8 12zm-119-2zm-236 12zm6-4zm6 0zm8 0zm8-1zm7-1zm3 1zm201 0zm1 5zm109-1zm4-5zm-6 8zm-5 4zm-99 0zm-202-5zm-48 1zm-9 4zm-7-1zm-4 0zm-4 1zm-22 9zm7-4zm5-2zm88 0zm201 2zm5 2zm72 4zm5-3zm5-2zm-18 8zm-8 1zm-6 3zm-4 0zm-21 1zm-6-1zm-8-2zm-4-1zm-206 1zm-5-4zm-106 1zm-7 14zm0-6zm121 2zm229-3zm6 0zm-225 12zm-6-5zm-128 7zm1 7zm127 1zm7-7zm-8 9zm-123 2zm5 7zm3 4zm110-1zm1 3zm-105 1zm7 8zm4 3zm8 3zm73-1zm7-5zm-15 9zm-6 4zm-46 1zm-2-2zm-8-3zm17 10zm2 4zm21 0zm7-1zm3-2zm125 10zm-7-3zm-4-1zm-9 2zm-124-3zm112 13zm3-5zm37 4zm5 6zm-48 1zm-3 5zm50 2zm4 11zm-4-3zm-7-4zm-3 6zm-45-5zm-3 3zm-5 4zm-4 4zm67-3zm4 6zm5-1zm16 7zm-7-3zm-7 0zm-4 4zm-24-6zm-2 2zm-9 4zm-48-6zm-5 4zm-4 8zm42 0zm8-3zm48 1zm19 0zm3 4zm-20 3zm-65 6zm-37-6zm-2 6zm-2 5zm37-2zm70-2zm21 0zm0 4zm-2 8zm-19-4zm-2 4zm-74-2zm-7 6zm-25-4zm-2 7zm12 4zm5-2zm2 0zm90 0zm18 1zm1-4zm-9 12zm-6-3zm-33 53zm5-5zm5-1zm2 13zm-19 3zm0 4zm18-3zm-4 12zm-5 0zm-7 0z" stroke="#2a39f0" stroke-width="6.8" stroke-linecap="round" fill="none"/>
<path transform="scale(.5)" d="M1341 1983zm7 0zm6 0zm9-1zm16 7zm-5-2zm-5-2zm-33 1zm-5 4zm-5 7zm58-4zm7 1zm6 2zm7 0zm11-1zm5 3zm8 3zm-104 3zm-3 7zm112-2zm4 6zm3 5zm-124-1zm-1 5zm-3 4zm133-2zm6 5zm11 8zm-6-4zm-148 3zm-3 9zm162-5zm6 4zm4 6zm-173 0zm-1 7zm167 3zm-4 3zm-2 5zm-158 2zm-2-8zm153 12zm-3 5zm-6 6zm-135 0zm-3-7zm6 9zm8 6zm118 0zm3-5zm-9 11zm-78 2zm-3-1zm-8 0zm-5-1zm-6-3zm-8-2zm42 11zm6-1zm7 1zm7 3zm6 0zm30-2zm4-3zm-14 9zm-9 2zm-4-2z" stroke="#d60b0b" stroke-width="6.8" stroke-linecap="round" fill="none"/>
<path transform="scale(.5)" d="M1632 2114zm80 15zm-81 54zm38-4zm-268 53zm221 5zm-306 59zm180 50zm43 43zm-106 2zm74 82z" stroke="#d60b0b" stroke-width="7.8" stroke-linecap="round" fill="none"/>
<path transform="scale(.5)" d="M1340 1981zm30 6zm-15 2zm22 12zm47 1zm-30 7zm-13 6zm-28-7zm-12 4zm-15 11zm90 0zm24 6zm-45 2zm-82 0zm26 6zm73 3zm54-1zm-40 8zm-44 5zm77 9zm-142-1zm-14 4zm28 6zm26-5zm20 3zm19 1zm19-2zm19 1zm16 3zm-15 16zm-62-2zm-18-2zm-28 3zm10 7zm13 0zm63-3zm-14 11zm-14-5zm-19 6zm19 5zm23 4zm25-6zm198 9zm32 6zm20 4zm-89 15zm65 11zm30 11zm-87 17zm31 1zm93 5zm-45 1zm-81 26zm60 9zm-279 10zm25 0zm292-2zm-373 5zm39 8zm309-1zm-265 12zm-65 12zm-38 3zm68 7zm22 8zm-8 12zm-40 8zm-17-3zm46 6zm-13 11zm136 18zm25 7zm-17 25zm-49 5zm-22 12zm107 0zm-85 16zm-27 11zm111 2zm-23 77z" stroke="#fa8d1a" stroke-width="7.8" stroke-linecap="round" fill="none"/>
<path transform="scale(.5)" d="M1344 2015zm49 3zm248 161z" stroke="#fff" stroke-width="4.4" stroke-linecap="round" fill="none"/>
<circle cx="794.5" cy="1102.5" r="2" fill="#fa8d1a"/>
<text x="557.2" y="988.9" font-size="13" font-weight="bold">OCI-AML3</text>
<circle cx="561.3" cy="1001.1" r="5" fill="#2a39f0"/>
<text x="577.2" y="1005.7" font-size="13.1">WT (1.5%)</text>
<circle cx="561.3" cy="1017.6" r="5" fill="#fa8d1a"/>
<text x="577.2" y="1022.2" font-size="13.1">HET (8.6%)</text>
<circle cx="561.3" cy="1034.2" r="5" fill="#d60b0b"/>
<text x="577.2" y="1038.8" font-size="13.1">MUT (73.8%)</text>
<circle cx="561.3" cy="1050.8" r="5" fill="#7f8c8d"/>
<text x="577.2" y="1055.3" font-size="13.1">NA (16.0%)</text>
<text x="822.4" y="978.3" font-size="13" font-weight="bold">CA46</text>
<circle cx="826.5" cy="990.5" r="5" fill="#2a39f0"/>
<text x="842.4" y="995.1" font-size="13.1">WT (61.8%)</text>
<circle cx="826.5" cy="1007" r="5" fill="#fa8d1a"/>
<text x="842.4" y="1011.6" font-size="13.1">HET (2.3%)</text>
<circle cx="826.5" cy="1023.6" r="5" fill="#d60b0b"/>
<text x="842.4" y="1028.2" font-size="13.1">MUT (1.0%)</text>
<circle cx="826.5" cy="1040.2" r="5" fill="#7f8c8d"/>
<text x="842.4" y="1044.8" font-size="13.1">NA (35.0%)</text>
<text x="557.2" y="1123.2" font-size="13" font-weight="bold">HEL</text>
<circle cx="561.3" cy="1135.4" r="5" fill="#2a39f0"/>
<text x="577.2" y="1140" font-size="13.1">WT (69.4%)</text>
<circle cx="561.3" cy="1151.9" r="5" fill="#fa8d1a"/>
<text x="577.2" y="1156.5" font-size="13.1">HET (4.1%)</text>
<circle cx="561.3" cy="1168.5" r="5" fill="#d60b0b"/>
<text x="577.2" y="1173.1" font-size="13.1">MUT (0.7%)</text>
<circle cx="561.3" cy="1185" r="5" fill="#7f8c8d"/>
<text x="577.2" y="1189.6" font-size="13.1">NA (25.8%)</text>
<text x="822.4" y="1165.8" font-size="13" font-weight="bold">SET-2</text>
<circle cx="826.5" cy="1178" r="5" fill="#2a39f0"/>
<text x="842.4" y="1182.6" font-size="13.1">WT (59.0%)</text>
<circle cx="826.5" cy="1194.5" r="5" fill="#fa8d1a"/>
<text x="842.4" y="1199.1" font-size="13.1">HET (4.4%)</text>
<circle cx="826.5" cy="1211.1" r="5" fill="#d60b0b"/>
<text x="842.4" y="1215.7" font-size="13.1">MUT (1.3%)</text>
<circle cx="826.5" cy="1227.7" r="5" fill="#7f8c8d"/>
<text x="842.4" y="1232.2" font-size="13.1">NA (35.3%)</text>
<line x1="625.5" y1="983.3" x2="684.6" y2="1015.5" stroke="#111" stroke-width="1.9" stroke-dasharray="3 2.5"/>
<line x1="814.8" y1="975.6" x2="800" y2="1072" stroke="#111" stroke-width="1.9" stroke-dasharray="3 2.5"/>
<line x1="591" y1="1119.5" x2="674.3" y2="1130.6" stroke="#111" stroke-width="1.9" stroke-dasharray="3 2.5"/>
<line x1="817" y1="1162.7" x2="743" y2="1172.4" stroke="#111" stroke-width="1.9" stroke-dasharray="3 2.5"/>
<path d="M637.6 1215.1V1260.4H682.9" fill="none" stroke="#111" stroke-width="2.2"/>
<path d="M637.6 1206.7l-7 14l7 -3.9l7 3.9z" fill="#111"/>
<path d="M691.3 1260.4l-14 -7l3.9 7l-3.9 7z" fill="#111"/>
<text x="642.6" y="1276.7" font-size="12.6">UMAP1</text>
<text x="630" y="1255.8" font-size="12.6" transform="rotate(-90 630 1255.8)">UMAP2</text>
<rect x="536" y="1311" width="3.2" height="379.5" fill="#748688"/>
<text x="79.4" y="1329.6" font-size="25" font-weight="bold"><tspan font-style="italic">TP53</tspan><tspan font-style="italic" font-size="13.5" dy="-9.5">M133</tspan><tspan dy="9.5" font-size="25">&#8203;</tspan><tspan> GoT-ChA</tspan></text>
<text x="79.2" y="1344.6" font-size="13">Accuracy = 92.6% (OCI-AML3 + HEL + CA46 + SET-2)</text>
<text x="79.2" y="1360.9" font-size="13">Cells Genotyped = 41.2% (OCI-AML3 + HEL + CA46 + SET-2)</text>
<path d="M171.6 1437.5l5.7-13.7 6.3-13.7 7.7-6.2 9.1 .4 9.7 5.2 6.8 1 6.5-1.3 7.6 1.2 6.3 6.3 8.1 9.2 8.1 9.4 5.4 4-3.9 5.8-6.4 7.4-6.5 8.4-6.2 8.1-12.4 1.7-9.6-3.7-13-2.8-16.1-2.7-7.8-4.5-4.9-7.9z" fill="#2a39f0" stroke="#2a39f0" stroke-width="1.2" stroke-linejoin="round"/>
<path d="M308.4 1481.1l4.1-6.8 8.6-4.5 11.1-2.3 14.5-.4 14.4 .4 9.4 3.2 7.8 7.1 5.6 12.8 2.7 10.8-1.9 10.8-4.7 10.9-9.5 8.1-12.7 4.5-14.3 3.3-10.9-3.2-7.8-7.1-3.9-9-1.6-11.1-4.1-13.2-4.9-9.3z" fill="#2a39f0" stroke="#2a39f0" stroke-width="1.2" stroke-linejoin="round"/>
<path d="M169.7 1544.1l1.8-7 5.4-6.1 11.1-4.5 12.9-2.8 12.9-1.8 6.6-1.2 .6 5.4 6.5 2.9 3 7.9 1.6 9-3.1 8.9-4 8.2-5.5 5.4-7.8 4.5-7.7 1.4-7.8-2.3-8-5.6-9.6-4.5-6.2-7.1z" fill="#869392" stroke="#869392" stroke-width="1.2" stroke-linejoin="round"/>
<path d="M236.3 1619l-.4-11.7 7-9.9 10.1-15.2 12.2-9.4 12 1.9 6 9.6-1.2 10.5 10.6 4.2 7.2 5.9 1.2 9.6-4.8 9.6-5.3 2.4-3.2-9.3 3.8-10.4-9.4-8.3-6.9-2.7-10.7 4-10.4 10.3-9.9 8.7z" fill="#2a39f0" stroke="#2a39f0" stroke-width="1.2" stroke-linejoin="round"/>
<path d="M272.6 1654.3l1.4-4.6 4.8-3.4 2.1 3.8-.7 7.5-3.1 2.5-3.7-1.4z" fill="#2a39f0" stroke="#2a39f0" stroke-width="1.2" stroke-linejoin="round"/>
<path transform="scale(.5)" d="M386 2810zm82 14zm-20-2zm-16 0zm-7-2zm-48-2zm-11 1zm3 8zm17 0zm15 5zm4-8zm19 8zm13-3zm11 2zm25 0zm-22 8zm-15 0zm-78 0zm16 6zm20-1zm13-1zm56 3zm21-5zm-50 13zm-14-1zm-13 2zm-5-1zm-47 7zm6-3zm105 5zm12-5zm20 0zm-15 9zm-26-2zm-18 1zm-14-2zm-10 4zm-23 1zm-24 0zm11 8zm46-2zm41 4zm11 1zm16-5zm2 12zm-22 0zm-16-3zm-56 3zm-12 0zm-43-3zm9 10zm21-4zm40-1zm9 0zm10 2zm14-2zm35 0zm25 0zm-29 14zm-20-2zm-16 0zm-27 2zm-6-6zm-64 4zm10 4zm9 5zm14 0zm12-1zm19-2zm82-2zm-3 9zm-66 0zm-13 2zm27 7zm24-1zm266 13zm-9 0zm-7-2zm-12 1zm-7 0zm-16-1zm-14 2zm-186-5zm-32 0zm-5 5zm-16-7zm-19 3zm52 9zm177 3zm10-5zm8 4zm6 1zm1-5zm4 3zm6-1zm6-1zm5 4zm6-4zm3-3zm13 6zm1-4zm7 2zm6-2zm5 4zm1-4zm7 6zm11-5zm11 11zm-5-3zm-1 4zm-5-1zm-4-4zm-11 4zm-4-3zm-4 4zm-10-5zm-14 4zm-5-4zm-5 2zm-6-2zm-9 3zm-3 3zm-19-7zm-3 2zm-1 5zm-2-7zm-6 6zm-2-4zm-5 0zm-6 7zm10 5zm1-3zm4-2zm6 4zm7 0zm4-5zm8 0zm6 4zm3-4zm2 5zm4-4zm5 1zm5 4zm3 1zm5 0zm0-4zm5-3zm6 6zm2-5zm7 3zm8 0zm6-4zm4 7zm2-7zm6 5zm15-2zm6 7zm-4 1zm-1 3zm-2-5zm-5 5zm-2-7zm-9 6zm-4 1zm-5 0zm-11-6zm-6 4zm-9-2zm-7 5zm-9-2zm-6-5zm-4 3zm-7 3zm-4-2zm-2-2zm-3-3zm-5 1zm-2 5zm-3-4zm-1 6zm-5-5zm-6 0zm-1 5zm-8-4zm-6-2zm-5-1zm2 9zm13-2zm8 3zm9 2zm7 1zm3-5zm10 7zm6-6zm9 2zm13 1zm8-1zm5-1zm8 0zm4 2zm0-5zm5 5zm13-4zm2 6zm8 0zm14 0zm-1 6zm-3-4zm-4 3zm-9-2zm-9 1zm-7 0zm-3 1zm-9-4zm-3 8zm-3-8zm-4 3zm-6 3zm-3-4zm-4 5zm-3-4zm-6-2zm-3 6zm-4-3zm-3-3zm-6 6zm-6-6zm-4 3zm-15 3zm-4-6zm-7 4zm-5 2zm-1-7zm-8 0zm6 15zm8 0zm5-1zm4 1zm6-1zm3-6zm6 6zm5-3zm7 4zm3-4zm4 3zm10-4zm5 5zm4-3zm2 3zm2-4zm9 2zm12-5zm6 3zm3 4zm8-3zm5 2zm4 2zm3-2zm3-5zm6 4zm4-1zm4-1zm2 3zm1 9zm-3-4zm-6 0zm-2 2zm-10 0zm-6 0zm-4-3zm0 6zm-3-3zm-8-1zm-6 3zm-2-4zm-8-1zm-13 0zm-2 6zm-6-5zm-6 2zm-6-2zm-4 3zm-10 0zm-7-3zm-4 4zm-11-3zm-12 1zm0 4zm8 2zm5 2zm9 3zm6-1zm6-5zm2 4zm7 1zm6-1zm6-3zm15-1zm5 4zm3-4zm6-1zm12 2zm12 4zm6-2zm4 0zm10 0zm13-1zm-3 8zm-6-1zm-1 4zm-8-1zm0-5zm-7 4zm-5-3zm-1 5zm-5-4zm-4 5zm-7-6zm-8-2zm-4 5zm-1-5zm-7 5zm-5-4zm-3 6zm-6-1zm-5-5zm-4 1zm-4 0zm-10 4zm-7 0zm-8-2zm-10 2zm-7-1zm-5-4zm3 13zm9-1zm9-3zm2 4zm4-6zm2 6zm10-4zm5-2zm3 7zm6-4zm0 4zm11-3zm14-2zm4 1zm7 0zm4-1zm3-2zm1 3zm10 2zm8 0zm6-1zm7-3zm1 6zm5-1zm-4 5zm-4 5zm-8-2zm-7-5zm-4 6zm-5 0zm0-6zm-6 2zm-5 0zm-6 0zm-3 5zm-3-1zm-1-7zm-3 7zm-3-5zm-6 0zm-9 2zm-12-3zm0 6zm-7-1zm-10-4zm0 4zm-5-4zm-3 6zm-3-6zm-3 5zm-7-4zm0 7zm3 4zm15-4zm4 4zm7-2zm14 3zm10-3zm4 3zm1-7zm5 1zm1 5zm5 1zm13-3zm7 0zm9-1zm8 2zm19-3zm-7 10zm-1-4zm-6 4zm-6 3zm-2-5zm-4 4zm-4-6zm-2 4zm-11 0zm-10-1zm-10 1zm-8-1zm-10 5zm-4-7zm-8 6zm-3-5zm-4 5zm-4-4zm-4-1zm-2 5zm-4-1zm-4-5zm-4 2zm3 8zm9 3zm6 1zm2-4zm5 4zm2-6zm16 6zm2-6zm5 6zm7 0zm0-7zm9 2zm7 2zm5-4zm5 4zm6-3zm5 2zm9 3zm3 1zm-4 5zm-4 4zm-6-4zm-9-1zm-9 0zm-4 2zm-3-4zm-3 5zm-2-5zm-4 3zm-14 2zm-9-5zm-7 3zm-2 2zm-9-4zm-4 3zm-8-3zm13 8zm1 5zm8-5zm2 4zm6-6zm5 5zm2 3zm5-6zm3 5zm8-7zm8 7zm9-1zm7-2zm8-4zm-29 11zm-8 1zm-12-1zm-8 2zm-152 72zm8-3zm3 5zm6-2zm20 10zm-6-1zm-13-3zm-12-1zm0 4zm-6-1zm-9-1zm-6 4zm-7 6zm5 1zm11-4zm6 4zm5 1zm3-6zm7 6zm11-6zm15 2zm1 3zm-5 2zm-5 4zm-4-2zm-28 2zm-3 3zm-7-5zm-15 0zm-6 8zm7 4zm6-7zm2 6zm11 2zm10-8zm4 6zm4-6zm4 7zm0-6zm8 5zm6-6zm1 6zm6-5zm1 7zm-1 7zm-3-4zm-20 2zm-13-5zm-6 4zm-5-2zm-8 5zm-22 0zm0 9zm5-8zm7 2zm8 5zm14-4zm9-1zm1 4zm5-1zm11-4zm8 2zm9 2zm12-2zm14 10zm-11 2zm-8-6zm-42 1zm-9-1zm-1 6zm-5-4zm-10 5zm-3-4zm-9-4zm-16 9zm6 4zm4-3zm3 4zm13 0zm4-2zm5 2zm5-1zm4-2zm66 3zm9 0zm9 4zm-14 0zm-1 6zm-6-4zm-77-1zm-25 4zm-2-5zm-3 6zm-2-4zm1 9zm11-3zm13-2zm6 1zm79 2zm8 4zm4-1zm2-4zm6 5zm-4 4zm-6 0zm-7-1zm-11 1zm-82-2zm-9 3zm-5 1zm-3-3zm102 10zm11 1zm-9 7zm-27 42zm-1 9zm-4-6zm2 12zm9 1zm4-6zm-18 11zm8 5z" stroke="#869392" stroke-width="4.6" stroke-linecap="round" fill="none"/>
<path transform="scale(.5)" d="M726 2938zm0 6zm4 0zm2 0zm4-3zm5 9zm-1-4zm-11 4zm3 4zm7-1zm1 2zm30 59zm-1 1zm-6-5zm0 5zm-13 7zm10-2zm1 2zm0 1zm2-3zm5-2zm-4 6zm-7 7zm-4-6zm-14 21zm5 2zm-8 3zm0 2zm-10 1zm-64 6zm3 0zm2-1zm1 2zm0-4zm3 3zm49 1zm3-2zm3 4zm2-2zm3 1zm6-1zm2 3zm2-3zm-5 4zm-63 5zm-2-2zm-1-3zm-1 4zm-2-3zm-2 2zm-2 0zm-103 106zm5 9zm-3-1zm-1-3zm-9 5zm12 6zm7 2zm-8 1zm-6 3zm17 6zm2 5zm2-2zm17 10zm-8-2zm-9-4zm1 12zm13 2zm6 0zm2-1zm-1 7zm-1-1zm0-3zm-6 0zm-7 0zm15 8zm-15 13zm-1-2zm-3 0zm-2 3zm3 3zm3 1z" stroke="#869392" stroke-width="6.4" stroke-linecap="round" fill="none"/>
<path transform="scale(.5)" d="M402 3047zm7-1zm9-1zm5-1zm6 0zm6-1zm5-1zm10 13zm-7-3zm-43-3zm-10 1zm-6 0zm-7 4zm-6 1zm-13 6zm5-3zm94 4zm3 7zm-110-3zm-7 12zm1-4zm117 1zm3 13zm-3-7zm-122 6zm2 7zm123-1zm-2 6zm-120 1zm2 9zm113 1zm2-4zm-5 12zm-104-2zm-3-2zm9 9zm7 3zm85 1zm3-5zm-9 13zm-69-2zm-3-3zm10 6zm7 3zm4 4zm35 0zm4-1zm5-3zm-14 7zm-7 1zm-7 2zm-8-2z" stroke="#869392" stroke-width="6.8" stroke-linecap="round" fill="none"/>
<path transform="scale(.5)" d="M390 2807zm24 8zm-6-3zm-4-2zm-7-1zm-13-1zm-4 2zm-4 4zm-6 5zm54 0zm6 2zm4-1zm8 0zm9 0zm5-1zm8 4zm7 6zm-105-5zm-3 5zm-3 7zm115-2zm9 9zm-4-2zm-123-1zm-2 8zm-1 3zm132-3zm6 6zm7 6zm-4-2zm-145 3zm-4 6zm159 0zm3 5zm6 2zm-169-2zm-3 10zm170 3zm4-4zm-8 11zm-165-4zm2 9zm1 4zm153 2zm5-6zm-9 8zm-146 2zm4 6zm7 3zm127 2zm4-4zm-10 10zm-2 2zm-80 2zm-6-2zm-8-1zm-4 0zm-9-2zm-7-2zm42 9zm4 1zm9 1zm7 2zm5 1zm42-1zm186 1zm10 0zm2 0zm10 0zm7 0zm9 0zm4 0zm6 0zm11 1zm5-1zm19 9zm-5-4zm-6-2zm-80 1zm-10 2zm-6 2zm-168-5zm-5 1zm-4 0zm-10 3zm-3-2zm-5-2zm185 9zm7-2zm114 1zm5 6zm6 5zm-136-3zm-4 8zm144 3zm1 4zm-139 7zm-4-7zm7 15zm138-6zm3 5zm3 8zm-142-3zm4 8zm140 0zm-1 6zm-139 1zm3 7zm1 4zm134-3zm0 8zm-131 5zm0 7zm125 1zm4-7zm-128 12zm3 5zm113 6zm4-6zm-5 8zm-5 3zm-104-2zm3 6zm2 1zm86 6zm5-3zm-12 5zm-4 1zm-9 3zm-57-2zm-1-2zm10 6zm7 3zm9 2zm3 1zm13-2zm7-2zm5-1zm-159 78zm-4-3zm-6-1zm-8-1zm-6 0zm-4 3zm-3 2zm-10 9zm1-2zm47 1zm1 2zm-56 2zm-4 5zm-4 6zm66-5zm1 9zm-1 5zm-68-4zm-8 9zm3-4zm75 6zm19 8zm-4-1zm-8-4zm-12 4zm-7-3zm-5-1zm-7 2zm-9 4zm-46-5zm-5 3zm-4 7zm42 2zm4-4zm44-1zm3 2zm5 5zm13-6zm7 5zm4 4zm-19 5zm-2-6zm-64 2zm-3 4zm-37-6zm-2 2zm-2 7zm35 2zm73 2zm20-5zm1 4zm0 7zm-25 1zm-74-4zm-5 4zm-24 1zm0 2zm6 4zm8 1zm6-2zm84 3zm22-2zm-4 5zm-17 3zm4 5zm6 1zm-29 44zm-8 3zm11 3zm-1 10zm-14-6zm0 13zm4 0zm7 0z" stroke="#2a39f0" stroke-width="6.8" stroke-linecap="round" fill="none"/>
<path transform="scale(.5)" d="M390 3051zm42 1zm12 1zm-34 3zm-46 0zm23 13zm34-3zm9 3zm23 1zm-48 6zm-51 0zm16 10zm11-4zm34 5zm37 1zm11 7zm-112-5zm-5 12zm23-6zm23 1zm10 7zm10-3zm23-2zm-19 9zm-50 9zm15 1zm13-6zm13 1zm42 13zm-21-4zm-73 1zm16 6zm10 1zm32-2zm18 5zm-14 7zm-10-1z" stroke="#2a39f0" stroke-width="7" stroke-linecap="round" fill="none"/>
<path transform="scale(.5)" d="M458 2829zm-81 19zm22 75zm74 1zm149 27zm39 7zm96 8zm-126 16zm86-3zm-66 9zm-12 19zm85-3zm-34 16zm59 19zm-319 3zm-16 4zm-39 7zm14-5zm13 1zm6 5zm17 0zm13 0zm13 2zm213 5zm-207-3zm-12 5zm0-6zm-5 7zm-8-7zm-28 6zm-6 1zm-4-8zm-10 4zm-13 3zm-8-6zm-4 5zm-11 5zm7 1zm11 1zm14-4zm10 0zm23 0zm10 2zm13 0zm24 2zm270-4zm-266 15zm-13-3zm-20 3zm-16-3zm-12-1zm-8-2zm-34 1zm-9-1zm-11 5zm7 2zm19 3zm9 2zm10-5zm11 2zm12-1zm10 1zm10 5zm10-8zm2 7zm17-2zm4 8zm-12-5zm-14 7zm-16-4zm-9-1zm-10-1zm-33 6zm-9 1zm-8-7zm-1 5zm-5 1zm24 5zm7 3zm4-6zm4 0zm14 1zm4 3zm4 0zm14-3zm7-1zm17 3zm9-3zm7 9zm-21 3zm-2-4zm-6 1zm-12-1zm-20 4zm-9-3zm-20 5zm-10-4zm-4-3zm-2 4zm-6-2zm5 10zm10-2zm20 0zm7-1zm1 5zm14 1zm3-6zm11 0zm8 6zm21 0zm-5 1zm-5 0zm-15 2zm-11 1zm-25 2zm-17 1zm-4-6zm-5 8zm22 3zm13 3zm12-4zm9 2zm8-1zm12 1zm11-3zm-14 8zm-9 3zm-16-1zm-5 2zm-7 3zm-11-2zm21 8zm5-5zm8 1zm101 28zm27 10zm-30 26zm62 19zm-29 82z" stroke="#d60b0b" stroke-width="7.8" stroke-linecap="round" fill="none"/>
<path transform="scale(.5)" d="M376 2816zm88 6zm-42 41zm65 7zm-26 44zm-92 9zm277 23zm82 8zm16 87zm-70 34zm-243 7zm-13 40zm-20 14zm147 31zm-50 53zm64 96z" stroke="#fa8d1a" stroke-width="7.8" stroke-linecap="round" fill="none"/>
<path transform="scale(.5)" d="M369 2843zm55 3zm279 118zm-22 20zm-18 18z" stroke="#fff" stroke-width="4.4" stroke-linecap="round" fill="none"/>
<circle cx="263.9" cy="1466.3" r="2.2" fill="#2a39f0"/>
<text x="79.2" y="1401.9" font-size="13" font-weight="bold">OCI-AML3</text>
<circle cx="83.3" cy="1414.1" r="5" fill="#2a39f0"/>
<text x="99.2" y="1418.7" font-size="13.1">WT (69.7%)</text>
<circle cx="83.3" cy="1430.6" r="5" fill="#fa8d1a"/>
<text x="99.2" y="1435.2" font-size="13.1">HET (1.1%)</text>
<circle cx="83.3" cy="1447.2" r="5" fill="#d60b0b"/>
<text x="99.2" y="1451.8" font-size="13.1">MUT (0.8%)</text>
<circle cx="83.3" cy="1463.8" r="5" fill="#7f8c8d"/>
<text x="99.2" y="1468.3" font-size="13.1">NA (28.4%)</text>
<text x="344.4" y="1391.3" font-size="13" font-weight="bold">CA46</text>
<circle cx="348.5" cy="1403.5" r="5" fill="#2a39f0"/>
<text x="364.4" y="1408.1" font-size="13.1">WT (25.7%)</text>
<circle cx="348.5" cy="1420" r="5" fill="#fa8d1a"/>
<text x="364.4" y="1424.6" font-size="13.1">HET (0.4%)</text>
<circle cx="348.5" cy="1436.6" r="5" fill="#d60b0b"/>
<text x="364.4" y="1441.2" font-size="13.1">MUT (1.5%)</text>
<circle cx="348.5" cy="1453.2" r="5" fill="#7f8c8d"/>
<text x="364.4" y="1457.8" font-size="13.1">NA (72.4%)</text>
<text x="79.2" y="1536.2" font-size="13" font-weight="bold">HEL</text>
<circle cx="83.3" cy="1548.4" r="5" fill="#2a39f0"/>
<text x="99.2" y="1553" font-size="13.1">WT (6.0%)</text>
<circle cx="83.3" cy="1564.9" r="5" fill="#fa8d1a"/>
<text x="99.2" y="1569.5" font-size="13.1">HET (0.5%)</text>
<circle cx="83.3" cy="1581.5" r="5" fill="#d60b0b"/>
<text x="99.2" y="1586.1" font-size="13.1">MUT (17.6%)</text>
<circle cx="83.3" cy="1598" r="5" fill="#7f8c8d"/>
<text x="99.2" y="1602.6" font-size="13.1">NA (63.1%)</text>
<text x="344.4" y="1578.8" font-size="13" font-weight="bold">SET-2</text>
<circle cx="348.5" cy="1591" r="5" fill="#2a39f0"/>
<text x="364.4" y="1595.6" font-size="13.1">WT (32.3%)</text>
<circle cx="348.5" cy="1607.5" r="5" fill="#fa8d1a"/>
<text x="364.4" y="1612.1" font-size="13.1">HET (0.5%)</text>
<circle cx="348.5" cy="1624.1" r="5" fill="#d60b0b"/>
<text x="364.4" y="1628.7" font-size="13.1">MUT (1.5%)</text>
<circle cx="348.5" cy="1640.7" r="5" fill="#7f8c8d"/>
<text x="364.4" y="1645.2" font-size="13.1">NA (65.8%)</text>
<line x1="147.5" y1="1396.3" x2="206.6" y2="1428.5" stroke="#111" stroke-width="1.9" stroke-dasharray="3 2.5"/>
<line x1="336.8" y1="1388.6" x2="322" y2="1485" stroke="#111" stroke-width="1.9" stroke-dasharray="3 2.5"/>
<line x1="113" y1="1532.5" x2="196.3" y2="1543.6" stroke="#111" stroke-width="1.9" stroke-dasharray="3 2.5"/>
<line x1="339" y1="1575.7" x2="265" y2="1585.4" stroke="#111" stroke-width="1.9" stroke-dasharray="3 2.5"/>
<path d="M159.6 1628.1V1673.4H204.9" fill="none" stroke="#111" stroke-width="2.2"/>
<path d="M159.6 1619.7l-7 14l7 -3.9l7 3.9z" fill="#111"/>
<path d="M213.3 1673.4l-14 -7l3.9 7l-3.9 7z" fill="#111"/>
<text x="164.6" y="1689.7" font-size="12.6">UMAP1</text>
<text x="152" y="1668.8" font-size="12.6" transform="rotate(-90 152 1668.8)">UMAP2</text>
<text x="558.2" y="1329.6" font-size="25" font-weight="bold" class="c0"><tspan font-style="italic">TP53</tspan><tspan font-style="italic" font-size="13.5" dy="-9.5">M133</tspan><tspan dy="9.5" font-size="25">&#8203;</tspan><tspan> GoT-ChA</tspan></text>
<text x="557.2" y="1344.6" font-size="13">Accuracy = 92.2% (OCI-AML3 + HEL + CA46 + SET-2)</text>
<text x="557.2" y="1360.9" font-size="13">Cells Genotyped = 56.0% (OCI-AML3 + HEL + CA46 + SET-2)</text>
<path d="M651.5 1440.2l1.6-7.2 4-7.3 4.1-9.3 3.1-7.2 6-4.9 9.2 0 9.6 3.3 8.4 3.8 8.1-1.9 7.5 3.5 6.4 9.2 8.3 8.5 8 4.6 2.9 3.9-4.6 5.9-6.5 7.4-6.4 8.3-8 6.3-7.6 4.5-9.4-3.7-11.4-1.8-13-2.8-9.5-2.7-6.9-6.2-3.1-7.1z" fill="#2a39f0" stroke="#2a39f0" stroke-width="1.2" stroke-linejoin="round"/>
<path d="M788.6 1481.1l3.8-5.9 7.7-4.4 11.1-1.8 13-1 12.8-.5 11 3.2 7.8 7.2 6.3 10.9 3.2 12.6-2.4 10.8-5.5 10.8-9.5 8.2-12.7 4.5-14.3 1.8-9.3-2.6-7.8-7.2-4.7-7.9 1.7-11.1-4.1-9.5-1.7-9.5-4.9-3.7z" fill="#2a39f0" stroke="#2a39f0" stroke-width="1.2" stroke-linejoin="round"/>
<path d="M648.6 1542.4l2.7-7 6.2-5.3 9.4-2.7 9.9-.9 6.5-3.7 7.8-.9 9.2-.2 2.9 6.2 4.9 7.4 3.3 5.7 4.6 4-4.7 4.1-2.5 7.7-1.5 4.3-7.1 4.5-8 6.4-7.7 2.3-6-.5-6.3-6.4-11.4-5.6-7.9-7.2-3.9-5.3z" fill="#d60b0b" stroke="#d60b0b" stroke-width="1.2" stroke-linejoin="round"/>
<path d="M714.6 1618.7l1.8-9.4 3-8.9 9.6-6.3 6.7-6.7 4.8-9.2 7.4-4.3 7.5 2.6 6.2 6.2 1.5 2.9-4.6 2.4-3.3 7.4-6.1 4.4-8.3 1.9-3.5 4.9-4.8 5.5-6.2 6.3-6 1.7z" fill="#2a39f0" stroke="#2a39f0" stroke-width="1.2" stroke-linejoin="round"/>
<path d="M761.4 1591.3l2.1 .9 3.3 5.6 6.6 1.1 6 4.2 .7 7.8-2.3 8.9-2.7 5-3.9-1.6-3.7-5.9 2.4-6.2-.9-8.1-5-3.9-2.2-4.2z" fill="#2a39f0" stroke="#2a39f0" stroke-width="1.2" stroke-linejoin="round"/>
<path d="M751.3 1653.8l2.2-4.1 5.4-4.4 1.3 4.8-.5 8.6-3.9 2.3-4-.6z" fill="#2a39f0" stroke="#2a39f0" stroke-width="1.2" stroke-linejoin="round"/>
<path transform="scale(.5)" d="M1336 2818zm73 7zm-84 14zm19-4zm24 1zm15 0zm18 1zm12 0zm9-4zm26 18zm-66 4zm-57-1zm30 7zm113 8zm-48-2zm-22 3zm-79 1zm27 5zm96-3zm35 8zm-168 5zm50 2zm28 1zm17 4zm39 1zm14 9zm-27 0zm-96-5zm20 6zm47 11zm-16-2zm-53 7zm16 4zm317 11zm-239-3zm-26-4zm-25 7zm220 9zm7-5zm19 3zm5 1zm14-2zm5-4zm10 0zm18 1zm13 3zm6 0zm13 6zm-9-2zm-13 6zm-1-7zm-7 2zm-8-1zm-12 4zm-14 1zm-15-2zm-12-3zm-9 2zm-7 4zm-5-3zm-13 7zm10 3zm4-4zm15 5zm2-6zm5 3zm8-2zm3 5zm4-7zm11 2zm10 4zm8-3zm8 3zm3-5zm6 1zm18 1zm8 1zm11 1zm3 7zm-9-2zm-16 1zm-13-2zm-3 3zm-11 3zm-3-4zm-7 2zm-17-4zm-5 4zm-18-5zm-1 6zm-11 0zm-1-5zm-7 0zm-3 7zm-11-3zm4 8zm24-5zm8 2zm5 5zm5-6zm12 3zm9-1zm16 4zm7-1zm5-4zm10 0zm2 6zm4-6zm7 6zm5-5zm11 2zm7 7zm-6-1zm-4 4zm-4-7zm-11 7zm-18-5zm-7 3zm-31-5zm-14 1zm-11 2zm0 4zm-8-2zm-17 10zm10-3zm5 2zm3-3zm9 4zm10-6zm10 2zm10 0zm19 0zm7 3zm8-5zm1 6zm5-6zm9 2zm7 4zm1-6zm14 1zm10 5zm-3 6zm-12 2zm-9-1zm-9-5zm-8 5zm-8-2zm-4 0zm-9 1zm-4 1zm0-6zm-7 2zm-1 6zm-6-5zm-13-2zm-6 6zm-5-3zm-9 0zm-7 4zm-7-1zm-6-6zm17 11zm10-4zm6 6zm9 1zm1-5zm12 3zm13 0zm24 3zm11-5zm17 1zm5 0zm9 1zm-1 9zm-5 0zm-9 1zm-4-4zm-5 0zm-4 2zm-21 3zm-8-3zm-17-2zm-5 1zm-6-3zm-7 6zm-5-6zm-9 2zm-16 2zm-11-3zm12 14zm4-6zm6 0zm8 2zm17-2zm5 1zm10 2zm7-1zm5 0zm12 2zm5 0zm5-1zm10-1zm21 4zm-3 7zm-3-6zm-6 1zm-11 4zm-9-5zm-11 3zm-9-1zm-5 5zm-19-2zm-5-6zm-6 1zm-8 5zm-7-4zm-1 6zm-19-8zm0 8zm-1 6zm12-5zm14 3zm14-3zm11 1zm11 2zm12 3zm6-1zm9-5zm21 2zm6 7zm-16-2zm-12 5zm-9 1zm-14-4zm-1 5zm-9-5zm-9 1zm-5 3zm-4-4zm-6-1zm-21 2zm-6 1zm-6 0zm-200 0zm-7-1zm-10 1zm-4 1zm-3-2zm-7 3zm-37 10zm8 0zm14-5zm9 1zm5 1zm13-3zm7 2zm6-2zm3 5zm6-1zm204 1zm12-5zm7 3zm7-4zm24 0zm9 6zm19 0zm8-1zm4-5zm3 5zm4-3zm6-2zm-19 15zm-16-7zm-2 5zm-11-1zm-4-5zm-13 2zm-10 6zm-17-8zm-5 5zm-206-3zm-19 1zm-14-2zm-4 1zm-5 3zm-7-2zm-5-1zm-3 4zm-9-1zm-14 0zm-5-4zm-7 6zm-5 0zm-5 6zm12 1zm5-3zm8 2zm9 3zm15-1zm0-5zm13 5zm6-5zm8 0zm4 0zm9-1zm9 4zm14 3zm202-5zm10-2zm5 4zm17-4zm10 5zm7 2zm7-1zm7-6zm-24 8zm-14-1zm-15 1zm-215 3zm-8-3zm-12 1zm-13 2zm-9 1zm-9 1zm-14-4zm-3 6zm-13-2zm-8-1zm-3-5zm-10 3zm-7 2zm0 8zm5-5zm1 5zm8-5zm8 4zm1-2zm16 2zm10 3zm2-6zm6 5zm7-1zm12 2zm6-4zm6 5zm10-5zm8 4zm10-3zm13 6zm-6 5zm-1-6zm-6 6zm-8-2zm-26-1zm-20-1zm-4 5zm-10-1zm-4-5zm-10-1zm-6 3zm-10 2zm-10 1zm-5-4zm-3 3zm-7 1zm3 8zm10-2zm6 3zm7-1zm5-2zm9-4zm18 5zm14-5zm4 0zm8 1zm8 0zm7 0zm7 1zm15 2zm6 0zm-4 5zm-11 2zm-5 0zm-12-1zm-8-3zm-8 2zm-12-2zm-6 5zm-7 0zm-9 1zm-6-5zm-5 5zm-5 0zm-17 3zm9 4zm8 0zm8 0zm19 0zm12-4zm10 0zm15 5zm5-4zm6 5zm6-6zm11 2zm-12 12zm-15-5zm-6-1zm-5-1zm-8 1zm-3 6zm-6-5zm-10 5zm-12-5zm-1 5zm-6 0zm-3-5zm-8 1zm22 7zm20 4zm2-4zm12 0zm8 0zm0 5zm5-1zm6-1zm-12 8zm-18-1zm-14-4zm-4 4zm3 6zm11-1zm10 2zm9-2zm114 3zm20 11zm-11-4zm-7 4zm-22 2zm14 3zm15 2zm8 0zm8-1zm3 8zm-30 0zm-10 0zm-7-3zm-9 11zm16 1zm9-1zm14 1zm10-4zm6 6zm-28 5zm-28 1zm-6-6zm-15 14zm5 0zm9 1zm13-2zm12 0zm11-1zm30-4zm29 11zm-5 4zm-9-4zm-9-1zm-67 4zm-9-2zm-9 2zm-10 2zm-3 8zm7-2zm10 1zm6-4zm5 0zm16-3zm61 4zm18 0zm3 7zm-6 0zm-82-2zm-6 3zm-16 3zm-6 1zm-14-3zm3 9zm15 0zm9 0zm100-3zm-8 6zm-10 5zm-87 0zm-11 2zm-5-1zm106 6zm12-4zm-9 8zm-33 53zm4 6zm-15 6zm8 1zm10 3zm-8 5z" stroke="#869392" stroke-width="4.6" stroke-linecap="round" fill="none"/>
<path transform="scale(.5)" d="M1595 2972zm104 1zm5 0zm2 2zm6 1zm2-3zm3-1zm1 0zm0 2zm4 1zm5 5zm-4-2zm0 2zm0 0zm-1 1zm-4 1zm-1-1zm0 3zm-2-2zm-1 2zm-2-7zm0 3zm-6 2zm-6-2zm-96 1zm-1 1zm-2-3zm-2 0zm-1-1zm-4-1zm-2 4zm2 4zm2 4zm1-3zm3-1zm115-1zm9 2zm-2 7zm-5 1zm-116 0zm0-1zm-1 1zm-5 6zm-2-1zm1 1zm2 3zm7 16zm-228 24zm6 2zm1 3zm2 0zm5-1zm-1 7zm-1-6zm-3 1zm-2 0zm-4 1zm0 3zm-3-1zm-63 12zm3-2zm8-3zm1 4zm0-5zm1 2zm0 1zm1 0zm1 0zm1 1zm5-4zm-4 11zm-6 2zm0-6zm0 1zm0 4zm-2-2zm-1-1zm-1 2zm0-4zm0 0zm-1 1zm0 0zm-3 4zm-3-5zm-3 6zm5 8zm93 1zm5-2zm2-2zm1-2zm2 5zm2 3zm-6 6zm-8-7zm13 9zm1-1zm1 1zm5 9zm56 55zm4 1zm29 6zm-29 1zm-1 3zm-2 1zm-2 1zm-4 0zm2 2zm5 4zm30 0zm6-1zm-5 11zm0-7zm-8 5zm0-2zm-4-2zm0 10zm4 0zm5-2zm2 0zm-2 8zm-7 4zm-3-2zm-5 2zm-20 0zm-5-1zm-7 6zm17 6zm-2 2zm-1 1zm-8 4zm0-5zm-3 3zm7 4z" stroke="#869392" stroke-width="6.4" stroke-linecap="round" fill="none"/>
<path transform="scale(.5)" d="M1337 2812zm4-3zm10 0zm2 0zm9 0zm4 1zm8 3zm37 7zm-6 0zm-5 1zm-8 1zm-7-4zm-6-1zm-49 0zm-2 4zm-6 11zm100-7zm6 3zm3 6zm-109 2zm-5 9zm119-4zm3 3zm7 6zm-131-1zm-4 7zm141 1zm4 5zm17 10zm-6-4zm-5-2zm-154-2zm-4 7zm173 8zm-5 6zm-169 3zm-1-8zm3 13zm158 2zm3-3zm-10 9zm-148 0zm3 6zm3 4zm140-3zm-6 6zm-5 4zm-124-1zm6 4zm4 2zm6 0zm8 2zm4 2zm88 0zm7-3zm226 11zm-2 0zm-14 0zm-223-4zm-5 4zm-39 0zm-13-2zm-4-1zm-10-3zm-4 1zm37 6zm4 2zm8 4zm6 0zm5-2zm183 3zm5-3zm7 0zm8-2zm5 1zm9-1zm8-1zm4 0zm13-1zm20 0zm7 2zm5 1zm11 5zm9 8zm-8-6zm-115 3zm-3 6zm130 3zm4 4zm-138 0zm1 8zm5 4zm135-5zm4 6zm1 2zm-133 7zm-3-5zm3 9zm136-1zm3 13zm-1-8zm-136 5zm2 8zm135 0zm0 5zm-132-1zm4 9zm125 1zm-1 6zm-4 6zm-121-6zm0 5zm-3 8zm121-1zm-2 3zm-5 8zm-108-1zm-4-5zm7 11zm97 2zm4-3zm-9 9zm-4 2zm-80 0zm-4-5zm11 12zm4 1zm44 0zm6-1zm6-3zm4-1zm-23 6zm-11 1zm-7 1zm-7 0zm-3-1zm-144 79zm8-2zm7 1zm6 5zm-30 0zm-8 12zm4-7zm40 0zm6 5zm-3 8zm-5 1zm-45-1zm-8 10zm6-6zm44 6zm12-2zm1 2zm4 7zm-7-2zm-14 1zm-48-5zm-12 8zm5-1zm43 7zm8-3zm22 0zm8-1zm6 1zm8 3zm6 4zm-18 3zm-5-4zm-46 0zm-5 1zm-42 0zm-1-3zm-3 12zm36 3zm67-5zm20 1zm1 4zm2 6zm-21-3zm-73 3zm-3 3zm-31-6zm-1 4zm-2 10zm106 0zm1-4zm21 2zm-1 6zm-21 3zm-82-5zm-4 4zm-6 2zm-8-2zm-5-3zm110 8zm15-3zm-8 9zm-34 44zm6 11zm-1-7zm-10 1zm-4 5zm15 8zm-4 7zm-12-5zm0 7zm3 2z" stroke="#2a39f0" stroke-width="6.8" stroke-linecap="round" fill="none"/>
<path transform="scale(.5)" d="M1381 3042zm20 10zm-66 1zm18 5zm20 5zm37 5zm-24-1zm-30 4zm-40-6zm104 11zm-18 5zm-16 2zm-20 4zm-50-3zm18 6zm92 3zm-27 4zm-57-1zm-40 2zm1 11zm21 1zm36-3zm30 1zm30 1zm-28 8zm-56-4zm-1 11zm24 0zm20-1zm30-3zm-29 16zm-13 7zm-14 3z" stroke="#2a39f0" stroke-width="7" stroke-linecap="round" fill="none"/>
<path transform="scale(.5)" d="M1456 2867zm-122 53zm347 16zm15 22zm-62 4zm85 4zm-125 13zm67 12zm55 23zm-36 5zm-66 27zm30 24zm-142 85zm-43 53zm99 20zm-107 4zm54 84z" stroke="#d60b0b" stroke-width="7.8" stroke-linecap="round" fill="none"/>
<path transform="scale(.5)" d="M1361 3047zm6 0zm9-3zm8-1zm6 1zm6-1zm6 4zm1 4zm-45 1zm-11 1zm-3 1zm-9 0zm-24 9zm5-3zm7-2zm6-1zm80 1zm8 12zm-5-5zm-107 5zm-5 6zm120 1zm7 9zm-1-3zm-128 0zm-1 5zm128 6zm5-3zm-9 11zm-122 1zm0-6zm4 10zm6 5zm110-6zm-2 10zm-100 3zm4 4zm4 2zm7 3zm73 0zm8-5zm-15 9zm-54 3zm-8-3zm9 4zm6 7zm39-4zm3-1zm-11 7zm-8 3zm-6 0zm-14-2z" stroke="#d60b0b" stroke-width="6.8" stroke-linecap="round" fill="none"/>
<path transform="scale(.5)" d="M1336 2815zm40 8zm19 26zm35 7zm-121 10zm34 10zm120 4zm-54 22zm-16-3zm-17-2zm68 17zm-117 8zm77 14zm185 21zm69 5zm51 37zm-108 1zm36 10zm47 21zm-46 14zm-292 11zm350 7zm-394 6zm79 6zm-20 0zm-59 15zm114 5zm-96 6zm30 8zm39 4zm-39 28zm33-5zm95 26zm-8 51zm88 20zm-48 83z" stroke="#fa8d1a" stroke-width="7.8" stroke-linecap="round" fill="none"/>
<path transform="scale(.5)" d="M1344 2841zm49 3zm248 161z" stroke="#fff" stroke-width="4.4" stroke-linecap="round" fill="none"/>
<circle cx="794.5" cy="1515.5" r="2" fill="#fa8d1a"/>
<text x="557.2" y="1401.9" font-size="13" font-weight="bold">OCI-AML3</text>
<circle cx="561.3" cy="1414.1" r="5" fill="#2a39f0"/>
<text x="577.2" y="1418.7" font-size="13.1">WT (82.4%)</text>
<circle cx="561.3" cy="1430.6" r="5" fill="#fa8d1a"/>
<text x="577.2" y="1435.2" font-size="13.1">HET (2.6%)</text>
<circle cx="561.3" cy="1447.2" r="5" fill="#d60b0b"/>
<text x="577.2" y="1451.8" font-size="13.1">MUT (0.5%)</text>
<circle cx="561.3" cy="1463.8" r="5" fill="#7f8c8d"/>
<text x="577.2" y="1468.3" font-size="13.1">NA (14.5%)</text>
<text x="822.4" y="1391.3" font-size="13" font-weight="bold">CA46</text>
<circle cx="826.5" cy="1403.5" r="5" fill="#2a39f0"/>
<text x="842.4" y="1408.1" font-size="13.1">WT (39.2%)</text>
<circle cx="826.5" cy="1420" r="5" fill="#fa8d1a"/>
<text x="842.4" y="1424.6" font-size="13.1">HET (1.1%)</text>
<circle cx="826.5" cy="1436.6" r="5" fill="#d60b0b"/>
<text x="842.4" y="1441.2" font-size="13.1">MUT (1.5%)</text>
<circle cx="826.5" cy="1453.2" r="5" fill="#7f8c8d"/>
<text x="842.4" y="1457.8" font-size="13.1">NA (58.3%)</text>
<text x="557.2" y="1536.2" font-size="13" font-weight="bold">HEL</text>
<circle cx="561.3" cy="1548.4" r="5" fill="#2a39f0"/>
<text x="577.2" y="1553" font-size="13.1">WT (7.1%)</text>
<circle cx="561.3" cy="1564.9" r="5" fill="#fa8d1a"/>
<text x="577.2" y="1569.5" font-size="13.1">HET (2.3%)</text>
<circle cx="561.3" cy="1581.5" r="5" fill="#d60b0b"/>
<text x="577.2" y="1586.1" font-size="13.1">MUT (27.5%)</text>
<circle cx="561.3" cy="1598" r="5" fill="#7f8c8d"/>
<text x="577.2" y="1602.6" font-size="13.1">NA (63.1%)</text>
<text x="822.4" y="1578.8" font-size="13" font-weight="bold">SET-2</text>
<circle cx="826.5" cy="1591" r="5" fill="#2a39f0"/>
<text x="842.4" y="1595.6" font-size="13.1">WT (45.7%)</text>
<circle cx="826.5" cy="1607.5" r="5" fill="#fa8d1a"/>
<text x="842.4" y="1612.1" font-size="13.1">HET (1.1%)</text>
<circle cx="826.5" cy="1624.1" r="5" fill="#d60b0b"/>
<text x="842.4" y="1628.7" font-size="13.1">MUT (1.9%)</text>
<circle cx="826.5" cy="1640.7" r="5" fill="#7f8c8d"/>
<text x="842.4" y="1645.2" font-size="13.1">NA (51.3%)</text>
<line x1="625.5" y1="1396.3" x2="684.6" y2="1428.5" stroke="#111" stroke-width="1.9" stroke-dasharray="3 2.5"/>
<line x1="814.8" y1="1388.6" x2="800" y2="1485" stroke="#111" stroke-width="1.9" stroke-dasharray="3 2.5"/>
<line x1="591" y1="1532.5" x2="674.3" y2="1543.6" stroke="#111" stroke-width="1.9" stroke-dasharray="3 2.5"/>
<line x1="817" y1="1575.7" x2="743" y2="1585.4" stroke="#111" stroke-width="1.9" stroke-dasharray="3 2.5"/>
<path d="M637.6 1628.1V1673.4H682.9" fill="none" stroke="#111" stroke-width="2.2"/>
<path d="M637.6 1619.7l-7 14l7 -3.9l7 3.9z" fill="#111"/>
<path d="M691.3 1673.4l-14 -7l3.9 7l-3.9 7z" fill="#111"/>
<text x="642.6" y="1689.7" font-size="12.6">UMAP1</text>
<text x="630" y="1668.8" font-size="12.6" transform="rotate(-90 630 1668.8)">UMAP2</text>
<rect x="536" y="1724" width="3.2" height="379.5" fill="#748688"/>
<text x="79.4" y="1742.6" font-size="25" font-weight="bold"><tspan font-style="italic">TP53</tspan><tspan font-style="italic" font-size="13.5" dy="-9.5">R248_1</tspan><tspan dy="9.5" font-size="25">&#8203;</tspan><tspan> [p.Arg248Gln] GoT-ChA</tspan></text>
<text x="79.2" y="1757.6" font-size="13">Accuracy = 93.5% (OCI-AML3 + HEL + CA46 + SET-2)</text>
<text x="79.2" y="1773.9" font-size="13">Cells Genotyped = 45.6% (OCI-AML3 + HEL + CA46 + SET-2)</text>
<path d="M171.6 1850.5l5.7-13.7 6.3-13.7 7.7-6.2 9.1 .4 9.7 5.2 6.8 1 6.5-1.3 7.6 1.2 6.3 6.3 8.1 9.2 8.1 9.4 5.4 4-3.9 5.8-6.4 7.4-6.5 8.4-6.2 8.1-12.4 1.7-9.6-3.7-13-2.8-16.1-2.7-7.8-4.5-4.9-7.9z" fill="#2a39f0" stroke="#2a39f0" stroke-width="1.2" stroke-linejoin="round"/>
<path d="M308.4 1894.1l4.1-6.8 8.6-4.5 11.1-2.3 14.5-.4 14.4 .4 9.4 3.2 7.8 7.1 5.6 12.8 2.7 10.8-1.9 10.8-4.7 10.9-9.5 8.1-12.7 4.5-14.3 3.3-10.9-3.2-7.8-7.1-3.9-9-1.6-11.1-4.1-13.2-4.9-9.3z" fill="#d60b0b" stroke="#d60b0b" stroke-width="1.2" stroke-linejoin="round"/>
<path d="M169.7 1957.1l1.8-7 5.4-6.1 11.1-4.5 12.9-2.8 12.9-1.8 6.6-1.2 .6 5.4 6.5 2.9 3 7.9 1.6 9-3.1 8.9-4 8.2-5.5 5.4-7.8 4.5-7.7 1.4-7.8-2.3-8-5.6-9.6-4.5-6.2-7.1z" fill="#2a39f0" stroke="#2a39f0" stroke-width="1.2" stroke-linejoin="round"/>
<path d="M236.3 2032l-.4-11.7 7-9.9 10.1-15.2 12.2-9.4 12 1.9 6 9.6-1.2 10.5 10.6 4.2 7.2 5.9 1.2 9.6-4.8 9.6-5.3 2.4-3.2-9.3 3.8-10.4-9.4-8.3-6.9-2.7-10.7 4-10.4 10.3-9.9 8.7z" fill="#869392" stroke="#869392" stroke-width="1.2" stroke-linejoin="round"/>
<path d="M272.6 2067.3l1.4-4.6 4.8-3.4 2.1 3.8-.7 7.5-3.1 2.5-3.7-1.4z" fill="#869392" stroke="#869392" stroke-width="1.2" stroke-linejoin="round"/>
<path transform="scale(.5)" d="M388 3633zm20 8zm-31 4zm19 3zm20 8zm36 4zm-20-3zm-35 5zm-18-1zm-19 0zm20 10zm85-4zm12 0zm-28 7zm-9-1zm-13 0zm-49 6zm-26-2zm41 8zm21-2zm8 3zm24-2zm13-1zm31 4zm-46 8zm-61-4zm-16 4zm-14-4zm103 8zm18-1zm13 5zm6-1zm13 5zm-87 1zm-15-3zm-17 7zm-15-7zm-11 2zm-10 6zm16 5zm77-5zm20 7zm20-2zm13 0zm-40 4zm-17 4zm-30-3zm-55 1zm-11 0zm17 10zm19-6zm14 0zm26 7zm33-7zm13 7zm10-5zm9 4zm-79 10zm-27 2zm75-1zm13 6zm247 8zm-12 0zm-223-7zm-23 7zm-14-1zm-25-1zm-25-3zm80 9zm176 2zm12-4zm3 6zm9-6zm9 4zm4 3zm2-5zm24 1zm7-3zm9 1zm2 5zm6 1zm6-2zm7 7zm-29 1zm-6-3zm-4 4zm-3-7zm-8 1zm-5 7zm-19-1zm-4-3zm-17 4zm0-7zm-8 4zm-8-1zm-13 2zm-4 7zm16-1zm8 1zm35 0zm3-1zm6 3zm1-5zm12 0zm13 5zm12-7zm6 5zm13 1zm3-2zm4 0zm8 9zm-7 1zm-12 2zm-13-2zm0-5zm-10 3zm-4 3zm-7-4zm-5 0zm-8-2zm-4 6zm-4 0zm-8-1zm-12-1zm-9-4zm-13 4zm-16-3zm-6-1zm-2 4zm2 9zm17-3zm11 0zm7-3zm5 6zm10-4zm18 3zm11-5zm5 8zm2-8zm3 5zm7-1zm5 4zm4-1zm20 0zm14-6zm1 6zm7 8zm-9-2zm-5 0zm-9-1zm-9-2zm-7 2zm-11 2zm-30-2zm-9-3zm-6-1zm-11 2zm-7 5zm-14-5zm-10 1zm-7 5zm18 6zm1-4zm22-2zm12 5zm10 0zm10-3zm12 3zm3-3zm10-1zm7 2zm8-1zm5-1zm7 3zm11-2zm10 13zm-11-4zm-11 2zm-13-2zm-7 0zm-9-1zm-14 0zm-5-2zm-5 5zm-16-1zm-12 0zm-13 1zm-9-2zm-10-3zm-5 0zm3 8zm5 7zm9-4zm11 4zm6-3zm5 3zm10 0zm5 0zm7-1zm7-3zm8 3zm4-5zm13 2zm7 4zm5-6zm6 1zm14 6zm8-4zm9 5zm-7 5zm-2-5zm-4 3zm-11-3zm-6 5zm-5-2zm-16 2zm-13-1zm-14 1zm-5-2zm-13-1zm-10 2zm-5 1zm-8 0zm-8-1zm-12-5zm4 9zm13 4zm6-3zm6 4zm9 1zm10-6zm5 4zm4-3zm5 6zm0-5zm13 0zm15 1zm6-1zm11 2zm9 1zm8 0zm1-6zm7 9zm-6 6zm-10-1zm-8 1zm-9-1zm-6 2zm0-6zm-6 3zm-3-5zm-4 2zm-6 4zm-7 1zm-11-5zm-6 0zm-7 2zm-10 3zm-11-1zm-9-5zm-6 5zm14 9zm16 1zm8-4zm6-1zm8 3zm1-5zm2 5zm19-3zm7 4zm9-3zm16 3zm6-1zm3-3zm12-1zm-9 9zm-16 3zm-8-3zm-5-1zm-20-1zm-4 7zm-9 0zm-7-5zm-8 4zm-5-6zm-16 4zm-13-5zm-5 6zm-209-1zm-7-1zm-45 10zm4-1zm3 1zm6-5zm8 6zm9-4zm7-1zm1 4zm10 1zm7-4zm5-2zm5 7zm211-8zm1 7zm10 1zm3-7zm4 5zm8 0zm11 2zm5 0zm5-1zm4-1zm6-5zm23 7zm9-3zm3-4zm-1 9zm-6 1zm-14 5zm-3-7zm-8 4zm-8-1zm-17 3zm-11-1zm-8-4zm-5 1zm-4-1zm-4 5zm-9-1zm-199 0zm-10 0zm-5-1zm-12-1zm-15-4zm-4 8zm-12-2zm-17-3zm-6-2zm-3 5zm-6-2zm-8 3zm-4 5zm9-1zm2 4zm19-1zm6-6zm3 3zm5 0zm3-3zm8 8zm8-4zm4 4zm6-7zm6 3zm8-1zm6 3zm9-1zm5 2zm201-2zm8-1zm7-3zm3 7zm9-2zm5 1zm15-1zm2-5zm2 7zm6-2zm4-3zm20-1zm-26 9zm-15 0zm-6 3zm-9 0zm0-5zm-4 3zm-11 0zm-207-3zm-10 5zm-2-6zm-11 3zm-8 0zm-12 4zm-14 0zm-5 0zm-4-7zm-2 8zm-15-5zm0 5zm-6-4zm-2 4zm-3-8zm-13 0zm-4 7zm-2-7zm-7 6zm3 6zm9 1zm5-3zm2 5zm7-7zm0 7zm9-1zm5 0zm11-2zm10 3zm2-4zm4-2zm6 0zm2 5zm7-5zm14 4zm5 0zm2-5zm5 4zm6-3zm7 2zm0 11zm-3-6zm-3 7zm0-6zm-6 1zm-18-2zm-8 5zm-10 1zm-7-5zm-5 2zm-5 2zm-6 2zm-4-5zm-13 4zm-7-3zm-9 3zm-5 0zm-12 2zm5 1zm17 6zm4 1zm0-8zm5 7zm9-7zm0 5zm14-2zm6 1zm7-3zm5 5zm2-5zm11 2zm10 3zm6-6zm5 2zm5 6zm6-1zm3-4zm-6 11zm-12-6zm-2 5zm-12 2zm-1-7zm-12 7zm-3-3zm-6 1zm-5-1zm-6 2zm-1-4zm-5-1zm-8 5zm-6-4zm-8 2zm-10-3zm-6 3zm-2-4zm-9 2zm5 7zm9 3zm9-2zm12 1zm5 2zm6-3zm6 4zm11-3zm6-3zm4 4zm6-1zm18 5zm1-7zm4 3zm3 2zm9 0zm-4 7zm-5-1zm-12-2zm-5-1zm-6 4zm-4-1zm-7-3zm0 5zm-7-4zm-1 5zm-6-6zm0 6zm-12 1zm-1-8zm-7 7zm-9 0zm-2-7zm-3 4zm-9-1zm6 6zm8 4zm6 3zm18-6zm4 2zm3-1zm9-2zm3 4zm3-4zm7 1zm5-1zm5 6zm2-5zm7-1zm2 4zm-6 6zm-8 3zm-3-5zm-3 5zm-3-5zm-3 7zm-6-4zm-7-3zm-2 6zm-4-5zm-1 5zm-5-6zm-2 6zm-4 1zm-4-6zm13 10zm6 0zm4-2zm1 5zm7 0zm5-1zm2-4zm3 3z" stroke="#869392" stroke-width="4.6" stroke-linecap="round" fill="none"/>
<path transform="scale(.5)" d="M769 3823zm-2 6zm-1 1zm0 2zm-3-2zm-1-4zm-4 1zm-1 4zm-4-3zm-2 6zm12 3zm0 25zm0-3zm-6-2zm-8 0zm-7 5zm-2 2zm-89 7zm5-1zm1 2zm1-6zm2 5zm84-5zm6 0zm1 5zm-1 2zm-3 3zm-77-3zm-7 4zm-1-2zm-3 0zm0 2zm-10 1zm0-1zm-289 8zm291-5zm4 2zm0 0zm3 2zm1-2zm4 2zm2 3zm3-1zm9 4zm-8 3zm-2-3zm-3 3zm-7-2zm-199 4zm-2 0zm-7-1zm-3 1zm-82-1zm0 2zm-1-7zm-1 6zm-2-2zm-6-4zm-8 9zm4 1zm2-1zm11 5zm5-1zm95 5zm-3 1zm-2-2zm-3 3zm-4-3zm-1 0zm5 8zm6 16zm0 0zm-4 3zm0-4zm-3 5zm-3 0zm-1-4zm-2 1zm-2-1zm-91 8zm2 3zm6-4zm12 1zm74-1zm2 0zm0 2zm-74 7zm-11-1zm-3 5zm-2-2z" stroke="#869392" stroke-width="6.4" stroke-linecap="round" fill="none"/>
<path transform="scale(.5)" d="M527 3976zm4-5zm9 1zm5 2zm5 0zm10 8zm-6-6zm-30 0zm-8 6zm-9 6zm5-3zm53 7zm1 4zm-62-3zm-6 6zm0 6zm67-3zm0 14zm0-6zm-71-1zm-3 6zm-4 4zm48 4zm8-3zm5-2zm8 2zm4 2zm14-3zm4 3zm15 8zm-5-5zm-16 4zm-2-1zm-44 1zm-43-4zm-2 4zm-8 9zm4-3zm40 4zm5-6zm56 1zm4 5zm14-6zm4 2zm2 7zm-21 0zm-68 0zm-6 6zm-36-4zm1 11zm30-4zm77 0zm23-1zm1 4zm-28 5zm-77-2zm-8 4zm-5 3zm-14-4zm10 4zm95 2zm3 5zm16-3zm2-3zm-11 11zm-4 2zm-24 42zm-5 3zm-6 8zm15-1zm0 7zm-3 4zm-14 1zm7 4z" stroke="#869392" stroke-width="6.8" stroke-linecap="round" fill="none"/>
<path transform="scale(.5)" d="M375 3640zm5-5zm4-2zm8 1zm6 1zm6 2zm4 1zm50 8zm-9-2zm-6 2zm-6 1zm-10-1zm-4 0zm-6-2zm-49 2zm-3 4zm99-1zm4 5zm12 10zm-5-4zm-113-1zm-1-2zm-3 11zm126 2zm7 8zm-4-5zm-131-1zm-4 7zm-3 6zm148 0zm2 3zm7 7zm-159-3zm-1 5zm161 0zm7 3zm5 4zm-174 7zm-1-5zm165 12zm3-6zm-8 11zm-158 3zm-1-5zm5 10zm146 4zm2-6zm-7 9zm-3 3zm-135-3zm9 6zm5 4zm5 2zm10 1zm4 0zm96 0zm-2 2zm-5 6zm-55 0zm-8-3zm-7-2zm-5 0zm-5-1zm32 7zm8 3zm6 1zm18 2zm5-2zm4 0zm-19 4zm-4 0zm-22 103zm5-1zm9-1zm4 0zm4 11zm-28-8zm-7 1zm-7 0zm-5 3zm-8 0zm-5 2zm-7 1zm-13 5zm8-3zm77 1zm6 4zm2 7zm-103-5zm-7 6zm-3 3zm116 3zm2 6zm-122 1zm-1 5zm124 4zm0 5zm-3 3zm-120-4zm2 11zm0-3zm115 6zm-1 6zm-2 2zm-108-5zm5 9zm2 2zm99 0zm-4 4zm-6 7zm-70-2zm-5-1zm-9-4zm23 12zm2 1zm47 2zm5-2zm-10 4zm-4 4zm-6 1zm-8 0zm-12-3zm-5-3z" stroke="#2a39f0" stroke-width="6.8" stroke-linecap="round" fill="none"/>
<path transform="scale(.5)" d="M690 3770zm28-1zm29 5zm-79 2zm-39 8zm103 7zm21 2zm-33 7zm-57-2zm-43 0zm78 7zm54 4zm-113 3zm30 12zm27 0zm73 2zm-34 1zm-85 9zm73-1zm21 9zm-39 7zm56 12zm-115-5zm30 14zm11-1zm57 5zm-37-2zm-61-1zm15 20zm67-1zm-34 4zm-21 4zm-136 73zm13 2zm4 9zm-23-1zm-1-6zm-9 1zm-4 5zm-10 7zm7 0zm5-2zm17-2zm7-1zm18 3zm5 7zm-14-1zm-12 6zm-1-7zm-7 3zm-7-4zm-24 3zm1 12zm8-4zm8-2zm1 7zm5-1zm17-2zm9-1zm13-2zm-5 12zm-6-1zm-9 2zm-6-1zm-6-5zm-24 4zm-11-4zm-6 4zm-6 9zm9 0zm8-1zm7-1zm8 2zm8-4zm4 5zm5-7zm14 4zm8 1zm10-1zm25 6zm-9 3zm-10-3zm-38-2zm-24 5zm-4-4zm-17 6zm-15 8zm7-6zm9 6zm5-2zm6 0zm6 3zm12-7zm70 6zm7-5zm6 12zm-9-3zm-11-1zm-71 1zm-9 2zm-14 1zm-9 0zm14 2zm7 6zm7-4zm72 0zm6-1zm1 6zm8-2zm3 8zm-15-1zm-2 4zm-5-3zm-82-1zm-3 3zm-1-4zm-10-2zm-3 4zm5 3zm6 1zm100 5zm7 3zm-14 1zm-30 49zm12-1zm-6 6zm-3 3zm-6 5zm4 7zm6-5z" stroke="#2a39f0" stroke-width="7" stroke-linecap="round" fill="none"/>
<path transform="scale(.5)" d="M679 3759zm23 0zm40 9zm-5-1zm-7-4zm-8-2zm-8-1zm-5 1zm-14-1zm-6 1zm-16 1zm-6-1zm-11 2zm-7 2zm-4 1zm-18 8zm7-5zm3 0zm114 6zm4 4zm-135 2zm-2 5zm140-1zm1 4zm5 9zm-144-1zm3 7zm142-1zm4 8zm-140 4zm-3-5zm7 14zm137-7zm3 13zm-2-6zm-138 4zm2 4zm136 4zm-1 9zm-132-3zm0 5zm130 7zm-2 6zm-124 3zm0-6zm1 12zm118-1zm-4 6zm-2 4zm-5 2zm-104-3zm3 5zm3 5zm92-1zm-7 2zm-3 2zm-7 3zm-4 1zm-64-2zm6 5zm6 3zm6 1zm9 2zm5 0zm9-2zm8-1zm4-3z" stroke="#d60b0b" stroke-width="6.8" stroke-linecap="round" fill="none"/>
<path transform="scale(.5)" d="M366 3887zm47-2zm31 17zm-102 14zm82 56zm93 11zm37 21zm-25 1zm-23 8zm77 33zm-80 1zm-18 1zm99 26zm-25 56z" stroke="#d60b0b" stroke-width="7.8" stroke-linecap="round" fill="none"/>
<path transform="scale(.5)" d="M370 3655zm68 42zm59 24zm-106 12zm315 35zm23 15zm-62-5zm89 9zm-137 6zm34 21zm39-3zm69 9zm-33 9zm-55 18zm-20 6zm41-3zm52 4zm-21 15zm-290 9zm262 8zm-333 24zm69 45zm157 71zm-34 100z" stroke="#fa8d1a" stroke-width="7.8" stroke-linecap="round" fill="none"/>
<path transform="scale(.5)" d="M369 3669zm55 3zm279 118zm-22 20zm-18 18z" stroke="#fff" stroke-width="4.4" stroke-linecap="round" fill="none"/>
<circle cx="263.9" cy="1879.3" r="2.2" fill="#2a39f0"/>
<text x="79.2" y="1814.9" font-size="13" font-weight="bold">OCI-AML3</text>
<circle cx="83.3" cy="1827.1" r="5" fill="#2a39f0"/>
<text x="99.2" y="1831.7" font-size="13.1">WT (74.7%)</text>
<circle cx="83.3" cy="1843.6" r="5" fill="#fa8d1a"/>
<text x="99.2" y="1848.2" font-size="13.1">HET (0.8%)</text>
<circle cx="83.3" cy="1860.2" r="5" fill="#d60b0b"/>
<text x="99.2" y="1864.8" font-size="13.1">MUT (0.1%)</text>
<circle cx="83.3" cy="1876.8" r="5" fill="#7f8c8d"/>
<text x="99.2" y="1881.3" font-size="13.1">NA (24.4%)</text>
<text x="344.4" y="1804.3" font-size="13" font-weight="bold">CA46</text>
<circle cx="348.5" cy="1816.5" r="5" fill="#2a39f0"/>
<text x="364.4" y="1821.1" font-size="13.1">WT (4.1%)</text>
<circle cx="348.5" cy="1833" r="5" fill="#fa8d1a"/>
<text x="364.4" y="1837.6" font-size="13.1">HET (1.9%)</text>
<circle cx="348.5" cy="1849.6" r="5" fill="#d60b0b"/>
<text x="364.4" y="1854.2" font-size="13.1">MUT (31.9%)</text>
<circle cx="348.5" cy="1866.2" r="5" fill="#7f8c8d"/>
<text x="364.4" y="1870.8" font-size="13.1">NA (62.0%)</text>
<text x="79.2" y="1949.2" font-size="13" font-weight="bold">HEL</text>
<circle cx="83.3" cy="1961.4" r="5" fill="#2a39f0"/>
<text x="99.2" y="1966" font-size="13.1">WT (28.7%)</text>
<circle cx="83.3" cy="1977.9" r="5" fill="#fa8d1a"/>
<text x="99.2" y="1982.5" font-size="13.1">HET (0.5%)</text>
<circle cx="83.3" cy="1994.5" r="5" fill="#d60b0b"/>
<text x="99.2" y="1999.1" font-size="13.1">MUT (1.0%)</text>
<circle cx="83.3" cy="2011" r="5" fill="#7f8c8d"/>
<text x="99.2" y="2015.6" font-size="13.1">NA (69.7%)</text>
<text x="344.4" y="1991.8" font-size="13" font-weight="bold">SET-2</text>
<circle cx="348.5" cy="2004" r="5" fill="#2a39f0"/>
<text x="364.4" y="2008.6" font-size="13.1">WT (20.3%)</text>
<circle cx="348.5" cy="2020.5" r="5" fill="#fa8d1a"/>
<text x="364.4" y="2025.1" font-size="13.1">HET (0.2%)</text>
<circle cx="348.5" cy="2037.1" r="5" fill="#d60b0b"/>
<text x="364.4" y="2041.7" font-size="13.1">MUT (2.7%)</text>
<circle cx="348.5" cy="2053.7" r="5" fill="#7f8c8d"/>
<text x="364.4" y="2058.2" font-size="13.1">NA (76.8%)</text>
<line x1="147.5" y1="1809.3" x2="206.6" y2="1841.5" stroke="#111" stroke-width="1.9" stroke-dasharray="3 2.5"/>
<line x1="336.8" y1="1801.6" x2="322" y2="1898" stroke="#111" stroke-width="1.9" stroke-dasharray="3 2.5"/>
<line x1="113" y1="1945.5" x2="196.3" y2="1956.6" stroke="#111" stroke-width="1.9" stroke-dasharray="3 2.5"/>
<line x1="339" y1="1988.7" x2="265" y2="1998.4" stroke="#111" stroke-width="1.9" stroke-dasharray="3 2.5"/>
<path d="M159.6 2041.1V2086.4H204.9" fill="none" stroke="#111" stroke-width="2.2"/>
<path d="M159.6 2032.7l-7 14l7 -3.9l7 3.9z" fill="#111"/>
<path d="M213.3 2086.4l-14 -7l3.9 7l-3.9 7z" fill="#111"/>
<text x="164.6" y="2102.7" font-size="12.6">UMAP1</text>
<text x="152" y="2081.8" font-size="12.6" transform="rotate(-90 152 2081.8)">UMAP2</text>
<text x="558.2" y="1742.6" font-size="25" font-weight="bold" class="c0"><tspan font-style="italic">TP53</tspan><tspan font-style="italic" font-size="13.5" dy="-9.5">R248_1</tspan><tspan dy="9.5" font-size="25">&#8203;</tspan><tspan> [p.Arg248Gln] GoT-ChA</tspan></text>
<text x="557.2" y="1757.6" font-size="13">Accuracy = 93.5% (OCI-AML3 + HEL + CA46 + SET-2)</text>
<text x="557.2" y="1773.9" font-size="13">Cells Genotyped = 58.0% (OCI-AML3 + HEL + CA46 + SET-2)</text>
<path d="M651.5 1853.2l1.6-7.2 4-7.3 4.1-9.3 3.1-7.2 6-4.9 9.2 0 9.6 3.3 8.4 3.8 8.1-1.9 7.5 3.5 6.4 9.2 8.3 8.5 8 4.6 2.9 3.9-4.6 5.9-6.5 7.4-6.4 8.3-8 6.3-7.6 4.5-9.4-3.7-11.4-1.8-13-2.8-9.5-2.7-6.9-6.2-3.1-7.1z" fill="#2a39f0" stroke="#2a39f0" stroke-width="1.2" stroke-linejoin="round"/>
<path d="M788.6 1894.1l3.8-5.9 7.7-4.4 11.1-1.8 13-1 12.8-.5 11 3.2 7.8 7.2 6.3 10.9 3.2 12.6-2.4 10.8-5.5 10.8-9.5 8.2-12.7 4.5-14.3 1.8-9.3-2.6-7.8-7.2-4.7-7.9 1.7-11.1-4.1-9.5-1.7-9.5-4.9-3.7z" fill="#d60b0b" stroke="#d60b0b" stroke-width="1.2" stroke-linejoin="round"/>
<path d="M648.6 1955.4l2.7-7 6.2-5.3 9.4-2.7 9.9-.9 6.5-3.7 7.8-.9 9.2-.2 2.9 6.2 4.9 7.4 3.3 5.7 4.6 4-4.7 4.1-2.5 7.7-1.5 4.3-7.1 4.5-8 6.4-7.7 2.3-6-.5-6.3-6.4-11.4-5.6-7.9-7.2-3.9-5.3z" fill="#2a39f0" stroke="#2a39f0" stroke-width="1.2" stroke-linejoin="round"/>
<path d="M714.6 2031.7l1.8-9.4 3-8.9 9.6-6.3 6.7-6.7 4.8-9.2 7.4-4.3 7.5 2.6 6.2 6.2 1.5 2.9-4.6 2.4-3.3 7.4-6.1 4.4-8.3 1.9-3.5 4.9-4.8 5.5-6.2 6.3-6 1.7z" fill="#2a39f0" stroke="#2a39f0" stroke-width="1.2" stroke-linejoin="round"/>
<path d="M761.4 2004.3l2.1 .9 3.3 5.6 6.6 1.1 6 4.2 .7 7.8-2.3 8.9-2.7 5-3.9-1.6-3.7-5.9 2.4-6.2-.9-8.1-5-3.9-2.2-4.2z" fill="#2a39f0" stroke="#2a39f0" stroke-width="1.2" stroke-linejoin="round"/>
<path d="M751.3 2066.8l2.2-4.1 5.4-4.4 1.3 4.8-.5 8.6-3.9 2.3-4-.6z" fill="#2a39f0" stroke="#2a39f0" stroke-width="1.2" stroke-linejoin="round"/>
<path transform="scale(.5)" d="M1404 3646zm-22 10zm-18-4zm-23 7zm11 2zm58 2zm10 2zm-59 6zm22 3zm74 14zm-44-7zm-52 7zm-20-7zm-34 6zm90 4zm78 7zm-11 6zm-41-7zm-64 13zm33-5zm29 6zm46 5zm-18-3zm-52 3zm-71-3zm-21 3zm53 19zm57-2zm29-1zm-73 8zm-32 4zm53 1zm15 14zm-41-5zm259 12zm20 0zm19-2zm6-4zm24 7zm-9 1zm-6 1zm-6 3zm-15-1zm-6-1zm-10 2zm-11 2zm-13-5zm-7 4zm-24 2zm16 9zm3-8zm25 3zm10 2zm24-3zm10 0zm21 1zm13-3zm-6 10zm-13 4zm-17 0zm-10-1zm-7 1zm-5-3zm-5-1zm-5 1zm-4-2zm-16 5zm-13-2zm-22 4zm-8 1zm17 2zm8 3zm18 1zm12-6zm35 1zm8 6zm28-5zm17 1zm-3 12zm-14-3zm-9-2zm-8 1zm-23 0zm-8-4zm-7 7zm-15-4zm-28 2zm-11 2zm-9-5zm17 14zm14-4zm18 0zm16 0zm10 1zm9 0zm7 3zm4-6zm10 2zm12 2zm25-2zm-2 9zm-10-4zm-5-1zm-19 7zm-20-1zm-4-5zm-4 5zm-22-2zm-21 0zm-5 2zm-15 1zm8 5zm13 0zm8-3zm9 3zm15-1zm23 4zm10-5zm6 5zm9-5zm6 2zm9 0zm9 2zm-10 9zm-13 0zm-18-6zm-21 4zm-9 0zm-17 2zm-9-5zm-7 2zm-9 2zm-12-5zm4 11zm16 2zm28-5zm11 6zm14-4zm5 4zm2-5zm10 2zm38 0zm-9 4zm-14 1zm-21 3zm-17-3zm-5 7zm-18-4zm-8-2zm-4 5zm-5-5zm-12 3zm-17 0zm10 4zm5 3zm15-2zm13 3zm9 0zm24 0zm14-2zm19-2zm7 0zm1 9zm-20-1zm-8 5zm-6-5zm-7 5zm-56-6zm-12 0zm-6 2zm-203 4zm-5-2zm-12 2zm-8 0zm-36 9zm20-4zm14 4zm13 0zm8-4zm211 0zm7 2zm8-2zm6-2zm14 6zm7-6zm8 2zm7-2zm9-1zm19 3zm5-2zm8 0zm5 7zm5-6zm-16 6zm-19 5zm-9-2zm-32 2zm-232-4zm-1 5zm-25-3zm-7 3zm-7-1zm-4 1zm0-5zm-10 3zm-5-4zm-2 3zm-5 2zm-11-2zm-17 10zm5-4zm6 5zm6-2zm8 0zm8-1zm10 2zm28 1zm5-4zm1 5zm9 0zm11-1zm7-3zm205 2zm5-1zm5 1zm10 1zm7-4zm13-1zm0 5zm26-1zm7-3zm-22 6zm-18 4zm-12 0zm-234 3zm-17-3zm-6 3zm-11-6zm-6 1zm-6 4zm-7 2zm-8-5zm-10 1zm-11 0zm-6-1zm-1 5zm-9-5zm-6 3zm3 9zm17-1zm8-3zm10-2zm3 7zm7-4zm7 1zm13-2zm7-1zm9 4zm12-2zm16 2zm2-4zm6 1zm8 13zm-9-6zm-13 3zm-9 0zm-21 0zm-11 2zm-1-6zm-12 6zm-16 1zm-6-8zm-2 8zm-3-6zm-11 3zm-10 0zm-7 1zm2 10zm7-3zm9 3zm6-8zm14 5zm12-4zm7 4zm9 0zm10 2zm8-2zm6-3zm5 2zm19-3zm5 0zm7 6zm-11 7zm-13-2zm-8-2zm-6-1zm-7 5zm-6 1zm-29-4zm-6-2zm-7 3zm-11 1zm-11 1zm1 5zm7-1zm9-2zm19 2zm11 4zm9-5zm6 7zm15-1zm7-2zm14-1zm5 2zm6 1zm-3 6zm-7-2zm-12 3zm-15-5zm-10 5zm-9-1zm-13-3zm-8 4zm-6-5zm-10 3zm-11-3zm11 8zm10 5zm10-3zm15 0zm15 0zm10 0zm13 2zm-8 4zm-8 7zm-5-5zm-7-2zm-7 2zm-10 0zm5 11zm3-6zm4 6zm7-1zm17-4zm103 6zm25 7zm-7-5zm-11 1zm-2 5zm-9-1zm-2-4zm-1 14zm1-5zm4 4zm16-4zm4 4zm6 0zm5 3zm0 6zm-10-5zm-7 0zm-7-3zm-2 5zm-8 0zm-6-1zm-4-3zm-6 6zm-8 8zm8 0zm5-4zm5-3zm9 4zm8 1zm9 0zm4-4zm4 6zm10 3zm-16 5zm0-6zm-5 1zm-12-2zm0 6zm-8-3zm-6 3zm-16 2zm-11 1zm7 5zm7-1zm5-4zm7 3zm9-4zm6 6zm8-6zm2 7zm27 0zm2-6zm25 11zm-11 3zm-3-5zm-5 5zm-1-5zm-6 2zm-36 0zm-5 1zm-4-3zm-9 3zm-6-3zm-10 1zm-8 3zm-6-1zm-4-3zm-5 3zm0 4zm12 6zm5-2zm7-4zm6 2zm4 1zm9-2zm60 1zm6 4zm5-6zm9 2zm1 3zm-2 9zm-5-7zm-5 6zm-10-1zm-71 3zm-3-7zm-8 3zm-11-1zm-8-2zm-6 6zm-1 9zm9-8zm4 3zm8 0zm8 0zm3 3zm76-3zm7 3zm6-3zm4 6zm-6 7zm-5-2zm-11-1zm-78-3zm-5 3zm-9 0zm-4-4zm0 10zm107 3zm8-2zm-36 52zm-8 4zm11 6zm-3 6zm-4-5zm0 3zm-5-2zm-1 7zm7 5zm7-5zm-14 9z" stroke="#869392" stroke-width="4.6" stroke-linecap="round" fill="none"/>
<path transform="scale(.5)" d="M1693 3774zm18 6zm-2 1zm-5-3zm0 6zm-6-2zm-3 1zm0 4zm0-2zm2 1zm0 0zm8 4zm0-3zm5 5zm-111 4zm-5 3zm-6-6zm-1 1zm-4 2zm3 6zm1-1zm7 1zm22 66zm-8-1zm-223 3zm-9 0zm-9 4zm9 0zm1 6zm5-3zm1 0zm220-2zm4 1zm1-3zm5 2zm4-2zm3 7zm2-2zm7-5zm42 11zm-2 1zm-1-3zm-3 4zm-14-2zm-36-1zm-3-1zm-3 0zm-3-1zm-219 0zm-5-1zm-3 3zm-3-2zm-44 6zm-12-3zm-7 3zm-2 1zm12 8zm5-5zm1 5zm331-1zm8-5zm10 0zm-3 8zm-5-1zm-3 0zm-4 2zm-4 1zm-343-4zm-2 2zm103 18zm1 3zm2-1zm1 1zm4 4zm-6 0zm-1 1zm0-4zm0 6zm0 1zm-3-5zm-1 0zm-6 1zm-4-2zm7 8zm3 0zm3 1zm2-2zm0 7zm1-4zm0-1zm1 0zm65 53zm-10 6zm4 2zm0-7zm1 3zm1-2zm1 2zm5 1zm17 9zm-1-2zm-2-1zm-19 2zm-1-3zm23 13zm7-5zm2 3zm5-2zm-6 10zm-3-3zm-1 3zm-1 2zm0-5zm-7 7zm-3 0zm-9 3zm3 5zm7-7zm4 6zm1-3zm1-2zm0 2zm1-2zm-9 8zm-2-1zm0-1zm-2 1zm-3 0zm-7 2z" stroke="#869392" stroke-width="6.4" stroke-linecap="round" fill="none"/>
<path transform="scale(.5)" d="M1336 3639zm8-4zm6-1zm5 1zm5-1zm8 4zm4 1zm42 8zm-10 1zm-11-1zm-7-2zm-6-2zm-49-2zm-5 9zm69 0zm28-1zm3 5zm9 10zm-5-6zm-106-2zm-5 7zm-1 8zm128 7zm-4-4zm-126-1zm-6 11zm142 0zm4 3zm11 7zm-5-2zm-155-3zm-1 7zm-2 7zm169-3zm4 5zm-4 7zm-169-1zm163 6zm-4 6zm-5 4zm-152-4zm-2-2zm6 10zm145 1zm-6 7zm-130 3zm-6-4zm10 8zm7 3zm4 1zm6 1zm99-1zm6-6zm-8 10zm-6 1zm-64 2zm-5 0zm-7-2zm-8-2zm31 7zm2 1zm7 1zm10 3zm7 2zm14-2zm5-3zm-13 8zm-32 101zm6-1zm5 0zm9-1zm7 10zm-2-6zm-36 0zm-6 1zm-5 4zm-20 2zm-22 7zm12-4zm4-1zm12-1zm7-1zm59 3zm3 8zm-98-1zm-10 6zm-2 5zm116-3zm11 13zm-5-2zm-3-5zm-123 4zm0 9zm134 0zm-5 4zm-4 4zm-125-5zm4 8zm3 8zm116-4zm-5 12zm-100-1zm-3-3zm7 8zm6 4zm87-1zm-8 3zm-7 5zm-61-2zm-6-2zm13 5zm5 5zm40 3zm3-4zm110 12zm-8 0zm-109-6zm-8 4zm-12 0zm-9-2zm-2-3zm131 12zm22-3zm7 3zm7 7zm-42 0zm-7 10zm5-5zm48 6zm2-4zm-12 12zm-45-3zm-9 9zm2-4zm51 0zm10 4zm1-4zm3 3zm13 11zm-3-1zm-5-3zm-4 5zm-19-7zm-8 5zm-49-4zm-3 3zm-10 6zm47 2zm10-2zm33-2zm21 0zm6 4zm3 7zm-21-1zm0-3zm-59 2zm-41-1zm-3 3zm-2 7zm0 4zm35-2zm4-3zm68 5zm19-3zm2 4zm-24 4zm-72-2zm-36 12zm2-5zm15 7zm6-2zm4-3zm80 0zm21 3zm2-5zm-5 14zm-11 0zm-4-5zm-103-2zm109 11zm-30 44zm-7 4zm11-2zm1 10zm-15 0zm-1 12zm0-4zm14 5zm3-6zm-10 10z" stroke="#2a39f0" stroke-width="6.8" stroke-linecap="round" fill="none"/>
<path transform="scale(.5)" d="M1597 3778zm35 6zm34-2zm34 2zm-95 2zm-19 4zm73 9zm26-1zm29 3zm-92 2zm-23 2zm52 4zm78 13zm-24-2zm-26-1zm-71 4zm17 5zm29 11zm-16 1zm45 9zm37 8zm-14 9zm-21 1zm-28 0zm-35 4zm-22-2zm90 18zm-25 6zm-36 4z" stroke="#2a39f0" stroke-width="7" stroke-linecap="round" fill="none"/>
<path transform="scale(.5)" d="M1383 3732zm-40 147zm69 33zm-103 5zm55 13zm38 20zm-45 9zm113 47zm24 7zm-50 18zm28 12zm67 4zm17 2zm-120 6zm73 76z" stroke="#d60b0b" stroke-width="7.8" stroke-linecap="round" fill="none"/>
<path transform="scale(.5)" d="M1612 3766zm7-2zm3 0zm7 0zm7-1zm7 0zm5-2zm8 1zm6 0zm5-1zm8 1zm7 2zm9 3zm6 1zm4 5zm-99-5zm-7 3zm-14 11zm5-5zm122 3zm8 9zm-4-4zm-136 3zm4 5zm3 6zm137-4zm2 4zm3 8zm-135-2zm0 4zm136 4zm4 10zm-2-5zm-134 6zm-2-7zm3 14zm134 1zm0 6zm-130-1zm1 4zm0 5zm127-3zm-2 10zm-126 0zm0 10zm123-6zm-3 7zm-1 5zm-4 3zm-113-5zm2 7zm3 5zm103-1zm-6 4zm-1 2zm-90 2zm5 4zm5 5zm52 1zm9-2zm5-2zm6-3zm-25 8zm-9 2zm-5 0zm-6 0zm-10 1zm-4-2zm-5-1z" stroke="#d60b0b" stroke-width="6.8" stroke-linecap="round" fill="none"/>
<path transform="scale(.5)" d="M1395 3649zm40 27zm-90-3zm36 38zm53 21zm-102 1zm345 27zm-269 6zm280 5zm-36 8zm-52 3zm-16 1zm35 9zm60 2zm42 8zm-125 20zm85 8zm40-5zm-80 14zm-27 9zm52 2zm35 3zm-15 15zm-78 4zm47 6zm26 16zm-372 15zm67 11zm10 25zm28 0zm-63 16zm122 56zm80 45zm-42 78z" stroke="#fa8d1a" stroke-width="7.8" stroke-linecap="round" fill="none"/>
<path transform="scale(.5)" d="M1344 3667zm49 3zm248 161z" stroke="#fff" stroke-width="4.4" stroke-linecap="round" fill="none"/>
<circle cx="794.5" cy="1928.5" r="2" fill="#fa8d1a"/>
<text x="557.2" y="1814.9" font-size="13" font-weight="bold">OCI-AML3</text>
<circle cx="561.3" cy="1827.1" r="5" fill="#2a39f0"/>
<text x="577.2" y="1831.7" font-size="13.1">WT (84.6%)</text>
<circle cx="561.3" cy="1843.6" r="5" fill="#fa8d1a"/>
<text x="577.2" y="1848.2" font-size="13.1">HET (1.4%)</text>
<circle cx="561.3" cy="1860.2" r="5" fill="#d60b0b"/>
<text x="577.2" y="1864.8" font-size="13.1">MUT (0.2%)</text>
<circle cx="561.3" cy="1876.8" r="5" fill="#7f8c8d"/>
<text x="577.2" y="1881.3" font-size="13.1">NA (13.9%)</text>
<text x="822.4" y="1804.3" font-size="13" font-weight="bold">CA46</text>
<circle cx="826.5" cy="1816.5" r="5" fill="#2a39f0"/>
<text x="842.4" y="1821.1" font-size="13.1">WT (4.5%)</text>
<circle cx="826.5" cy="1833" r="5" fill="#fa8d1a"/>
<text x="842.4" y="1837.6" font-size="13.1">HET (2.8%)</text>
<circle cx="826.5" cy="1849.6" r="5" fill="#d60b0b"/>
<text x="842.4" y="1854.2" font-size="13.1">MUT (43.3%)</text>
<circle cx="826.5" cy="1866.2" r="5" fill="#7f8c8d"/>
<text x="842.4" y="1870.8" font-size="13.1">NA (49.3%)</text>
<text x="557.2" y="1949.2" font-size="13" font-weight="bold">HEL</text>
<circle cx="561.3" cy="1961.4" r="5" fill="#2a39f0"/>
<text x="577.2" y="1966" font-size="13.1">WT (39.2%)</text>
<circle cx="561.3" cy="1977.9" r="5" fill="#fa8d1a"/>
<text x="577.2" y="1982.5" font-size="13.1">HET (1.1%)</text>
<circle cx="561.3" cy="1994.5" r="5" fill="#d60b0b"/>
<text x="577.2" y="1999.1" font-size="13.1">MUT (1.5%)</text>
<circle cx="561.3" cy="2011" r="5" fill="#7f8c8d"/>
<text x="577.2" y="2015.6" font-size="13.1">NA (58.2%)</text>
<text x="822.4" y="1991.8" font-size="13" font-weight="bold">SET-2</text>
<circle cx="826.5" cy="2004" r="5" fill="#2a39f0"/>
<text x="842.4" y="2008.6" font-size="13.1">WT (28.2%)</text>
<circle cx="826.5" cy="2020.5" r="5" fill="#fa8d1a"/>
<text x="842.4" y="2025.1" font-size="13.1">HET (0.6%)</text>
<circle cx="826.5" cy="2037.1" r="5" fill="#d60b0b"/>
<text x="842.4" y="2041.7" font-size="13.1">MUT (2.6%)</text>
<circle cx="826.5" cy="2053.7" r="5" fill="#7f8c8d"/>
<text x="842.4" y="2058.2" font-size="13.1">NA (68.5%)</text>
<line x1="625.5" y1="1809.3" x2="684.6" y2="1841.5" stroke="#111" stroke-width="1.9" stroke-dasharray="3 2.5"/>
<line x1="814.8" y1="1801.6" x2="800" y2="1898" stroke="#111" stroke-width="1.9" stroke-dasharray="3 2.5"/>
<line x1="591" y1="1945.5" x2="674.3" y2="1956.6" stroke="#111" stroke-width="1.9" stroke-dasharray="3 2.5"/>
<line x1="817" y1="1988.7" x2="743" y2="1998.4" stroke="#111" stroke-width="1.9" stroke-dasharray="3 2.5"/>
<path d="M637.6 2041.1V2086.4H682.9" fill="none" stroke="#111" stroke-width="2.2"/>
<path d="M637.6 2032.7l-7 14l7 -3.9l7 3.9z" fill="#111"/>
<path d="M691.3 2086.4l-14 -7l3.9 7l-3.9 7z" fill="#111"/>
<text x="642.6" y="2102.7" font-size="12.6">UMAP1</text>
<text x="630" y="2081.8" font-size="12.6" transform="rotate(-90 630 2081.8)">UMAP2</text>
<rect x="536" y="2137" width="3.2" height="379.5" fill="#748688"/>
<text x="79.4" y="2155.6" font-size="25" font-weight="bold"><tspan font-style="italic">TP53</tspan><tspan font-style="italic" font-size="13.5" dy="-9.5">R248_2</tspan><tspan dy="9.5" font-size="25">&#8203;</tspan><tspan> [p.Arg248Trp] GoT-ChA</tspan></text>
<text x="79.2" y="2170.6" font-size="13">Accuracy = 98.3% (OCI-AML3 + HEL + CA46)</text>
<text x="79.2" y="2186.9" font-size="13">Cells Genotyped = 48.1% (OCI-AML3 + HEL + CA46)</text>
<path d="M325.5 2393.6L432 2315V2514L325.5 2489.8Z" fill="url(#tzL)"/>
<rect x="398" y="2333" width="134" height="183" fill="url(#twL)"/>
<path d="M171.6 2263.5l5.7-13.7 6.3-13.7 7.7-6.2 9.1 .4 9.7 5.2 6.8 1 6.5-1.3 7.6 1.2 6.3 6.3 8.1 9.2 8.1 9.4 5.4 4-3.9 5.8-6.4 7.4-6.5 8.4-6.2 8.1-12.4 1.7-9.6-3.7-13-2.8-16.1-2.7-7.8-4.5-4.9-7.9z" fill="#2a39f0" stroke="#2a39f0" stroke-width="1.2" stroke-linejoin="round"/>
<path d="M308.4 2307.1l4.1-6.8 8.6-4.5 11.1-2.3 14.5-.4 14.4 .4 9.4 3.2 7.8 7.1 5.6 12.8 2.7 10.8-1.9 10.8-4.7 10.9-9.5 8.1-12.7 4.5-14.3 3.3-10.9-3.2-7.8-7.1-3.9-9-1.6-11.1-4.1-13.2-4.9-9.3z" fill="#2a39f0" stroke="#2a39f0" stroke-width="1.2" stroke-linejoin="round"/>
<path d="M169.7 2370.1l1.8-7 5.4-6.1 11.1-4.5 12.9-2.8 12.9-1.8 6.6-1.2 .6 5.4 6.5 2.9 3 7.9 1.6 9-3.1 8.9-4 8.2-5.5 5.4-7.8 4.5-7.7 1.4-7.8-2.3-8-5.6-9.6-4.5-6.2-7.1z" fill="#2a39f0" stroke="#2a39f0" stroke-width="1.2" stroke-linejoin="round"/>
<path d="M236.3 2445l-.4-11.7 7-9.9 10.1-15.2 12.2-9.4 12 1.9 6 9.6-1.2 10.5 10.6 4.2 7.2 5.9 1.2 9.6-4.8 9.6-5.3 2.4-3.2-9.3 3.8-10.4-9.4-8.3-6.9-2.7-10.7 4-10.4 10.3-9.9 8.7z" fill="#d60b0b" stroke="#d60b0b" stroke-width="1.2" stroke-linejoin="round"/>
<path d="M272.6 2480.3l1.4-4.6 4.8-3.4 2.1 3.8-.7 7.5-3.1 2.5-3.7-1.4z" fill="#d60b0b" stroke="#d60b0b" stroke-width="1.2" stroke-linejoin="round"/>
<path transform="scale(.5)" d="M385 4471zm27 0zm50 4zm-35-3zm-35 1zm-23 0zm-8 12zm15 3zm36-2zm16 1zm17-1zm30 11zm-17 4zm-20 2zm-39-5zm-38 4zm123 8zm10-5zm0 12zm-20 1zm-12-5zm-29 6zm-30-5zm-26 0zm-12 2zm55 9zm31-4zm28 3zm31 3zm-24 7zm-19 0zm-54-1zm-33-5zm-20 1zm-18 6zm19 5zm42-3zm7 6zm22-6zm66 14zm-46-7zm-23 4zm-39 1zm-15 1zm-25 4zm46 4zm49-3zm41 2zm-17 8zm-63 0zm-29-2zm-20 0zm8 9zm19-2zm39 4zm32 0zm18 10zm-13-3zm-60-4zm44 11zm210 1zm6-2zm6 0zm7 0zm7-1zm7 2zm7-2zm3 3zm8 1zm9-3zm7 0zm20 8zm-2 4zm-8-6zm-6 2zm-7 0zm-6-1zm-17 5zm-14 0zm-1-5zm-6 5zm-3-7zm-4 3zm-5 0zm-10 5zm-5-3zm0-4zm-8 1zm-5 5zm-5-1zm-5 2zm-4 5zm8-2zm11-1zm19 6zm2-8zm5 6zm8 0zm9-2zm3-2zm13 6zm5-7zm4 3zm4-3zm7 6zm10-1zm6-1zm8 1zm2-5zm7 1zm9 12zm-3-5zm-4 2zm-6-1zm-21 0zm-13 6zm-5-6zm-4-2zm-4 5zm-11-2zm-5 0zm-7 1zm-2 3zm-17-3zm-15-4zm-1 7zm-6-7zm-1 8zm-5 0zm-7-3zm-7 0zm8 7zm16 1zm8 0zm5-3zm6-1zm3 0zm17 7zm7-6zm4-2zm4 2zm7 2zm6 1zm8 3zm7-3zm6-4zm5 3zm11-2zm6 2zm3 3zm2-6zm5 3zm6 10zm-8-1zm-12-5zm-9 7zm-17-1zm-10-5zm-9 6zm-10-6zm-8 6zm-12-5zm-7 1zm-9 0zm-11 1zm-8 3zm-7-7zm-7 3zm5 12zm3-7zm9 6zm5-4zm7 3zm7-1zm9-2zm7 3zm4-3zm4 6zm7-8zm9 5zm6 2zm4-4zm6 5zm4-1zm9-5zm5 6zm10-2zm7-6zm5 3zm7 3zm10 8zm-2-5zm-5 4zm-5-4zm-5 5zm-4-5zm-8 2zm-5 2zm-14-1zm-16 0zm-4 4zm-2-5zm-6 4zm-2-5zm-10 3zm-6-1zm-4 0zm-13 1zm-9-3zm-6 4zm-15 0zm15 5zm6-3zm1 7zm5-4zm9 0zm10 2zm5-2zm10-2zm5 5zm13-2zm9 0zm10 4zm0-6zm4-2zm9 3zm3 4zm14-5zm13 0zm0 8zm-6-1zm-5 2zm-4-3zm-11 3zm-9 3zm-9 2zm-5-5zm-13-2zm-4 0zm0 6zm-6-1zm-3-5zm-6 3zm-7-2zm-6 0zm-11 3zm-7-3zm-12 1zm-9 4zm-4-6zm3 14zm14-3zm6-1zm10 1zm4 1zm7 0zm4 2zm5-2zm13 0zm6 1zm8 1zm4-7zm5 5zm17 0zm3 1zm3-2zm7-3zm8 4zm6-3zm-3 11zm-7 0zm-3-5zm-9 7zm-15-5zm-4 2zm-4-2zm-10 4zm-6 0zm-10-4zm-5-1zm-9 2zm-4 1zm-8 0zm-4 1zm-2-4zm-6 3zm-12 0zm-2 11zm4-4zm8 3zm3-6zm8 1zm1 5zm8-5zm8 4zm1-4zm3 5zm6 0zm2-5zm4 5zm6-2zm6-1zm11 2zm10-1zm1-4zm5 1zm16 6zm12-2zm-4 9zm-12-5zm-4 0zm-4 6zm-4-3zm-3-3zm-3 5zm-10-3zm-9-1zm-2 5zm-16-2zm-9 3zm-12-7zm0 7zm-8-3zm-9-1zm-7 0zm-9 2zm-207 0zm-54 8zm15-2zm11 1zm8-2zm5 3zm1-6zm6 6zm2-3zm3 5zm5-1zm5-1zm206 2zm9-3zm7-2zm6 0zm1-2zm11 1zm5 4zm3-3zm10-3zm3 7zm7 0zm3-4zm7-3zm6 1zm1 5zm6-1zm7 2zm2-3zm11-1zm-6 11zm-11-2zm-19-3zm-1 6zm-15 0zm-4-7zm-3 3zm-6 1zm-7-2zm-4-2zm-8 2zm-8 0zm-8 0zm-199 3zm-8-3zm-1 3zm-16 2zm0-5zm-8 4zm-9-5zm-9 3zm-17-1zm-4 5zm-8-7zm-3 3zm-14 4zm-7 4zm12 3zm3-5zm6 1zm1 3zm4-3zm9 2zm2-3zm9 0zm6 4zm3-4zm3 4zm3-5zm8 0zm13 2zm7-3zm5 2zm2 2zm11 3zm194-6zm7 1zm5-1zm1 6zm8-4zm6-2zm7 4zm12-2zm6-1zm4 4zm3 0zm18-4zm9 2zm-11 5zm-6 0zm-10 4zm-6 1zm-6 0zm-9-2zm-6 3zm-3-4zm-9-1zm-219 2zm-8 0zm-9 3zm-3-7zm-6 1zm-4 3zm-8-2zm-17 2zm-9 2zm-8 0zm-5-4zm-8 4zm-11-2zm-3 2zm-13 9zm6-5zm3 4zm5 2zm8-2zm13 2zm8-4zm8-1zm6 4zm6-3zm3-4zm13 4zm5-4zm8 7zm6-1zm6 1zm0-7zm18 4zm214-4zm6 2zm7 0zm-227 11zm-1-4zm-5 1zm-6-2zm-3 7zm-15-2zm-7 1zm-7-1zm-7-3zm-19 1zm-5 4zm-2-5zm-19 6zm-6 0zm-18-4zm0 8zm7 2zm10-1zm11-1zm2-2zm1 5zm11 0zm5-2zm9-4zm3 3zm6 1zm10-4zm5 0zm6 4zm7 1zm8-3zm9-1zm11 3zm-4 7zm-1-4zm-13 1zm0 5zm-5 1zm-2-6zm-5 3zm-7-1zm-10 2zm-5-5zm-4 2zm-4-1zm-1 6zm-8 0zm-1-6zm-10 6zm-6-2zm-9-2zm-7 0zm-4 4zm-16-5zm6 12zm6 1zm6-3zm1 4zm4-5zm5 1zm33 4zm6-2zm3-6zm8 4zm5 0zm9 0zm16 0zm4 2zm1-4zm5-1zm-8 12zm-5-4zm-1 5zm-15-2zm-5 0zm-3-1zm-5 1zm-7 3zm-8-3zm-8-3zm-3 5zm-8-5zm-11 5zm-3-4zm-11 4zm8 4zm3 3zm6 2zm3-6zm9 3zm8 3zm5-6zm3 5zm7-1zm5 1zm0-5zm7 4zm13-5zm7 6zm9-3zm-11 9zm-9 0zm-6 0zm-12 0zm-6 4zm-10-4zm-10 1zm-8-1zm15 4zm1 5zm3-3zm3 3zm17-3zm1 6zm9-4zm0-3zm120 12zm-18-5zm-120 0zm142 14zm8 4zm-25 5zm-17 0zm46 5zm-68 5zm51 8zm21 3zm-36 8zm-12 1zm-9-4zm-17 5zm-15 16zm30 0zm90 6zm-12 3zm-106 4zm13 2zm86 4zm-107 2zm74 68zm12 10z" stroke="#869392" stroke-width="4.6" stroke-linecap="round" fill="none"/>
<path transform="scale(.5)" d="M724 4585zm6 6zm-7 3zm-3 6zm-2-5zm0 2zm-2-3zm-1 4zm0-1zm-4-4zm-2 1zm9 13zm-92 5zm-2 11zm0-2zm2 0zm14 10zm-6-3zm-3 4zm-5-4zm-1 2zm4 2zm7 3zm2 3zm-9 2zm-197 56zm6-1zm3 1zm276 3zm-274 5zm-6-4zm-1-2zm-2 3zm-2 3zm-73 6zm4 0zm299-4zm3 5zm7 1zm3-8zm32 8zm4-1zm7-6zm1 1zm1 3zm5 5zm-11 2zm-1 3zm-1-4zm-1-2zm-32 5zm-6-1zm-3 0zm-2 2zm-10 0zm-2-2zm-222-4zm-66 3zm-3-1zm-3 0zm-1-2zm-2 1zm-5-2zm-1 5zm-4 2zm-2 9zm7-3zm3-1zm7 3zm305-4zm4-2zm8 4zm37-2zm2-1zm-366 12zm-9-1zm-5 1zm4 6zm0-3zm7 1zm2 3zm0 3zm-8 5zm-5-4zm12 8zm56 32zm-9 8zm4 1zm1 6zm4 0zm2-6zm0 5zm1-4zm1 1zm1-2zm1 0zm4 1zm1 2z" stroke="#869392" stroke-width="6.4" stroke-linecap="round" fill="none"/>
<path transform="scale(.5)" d="M378 4462zm8-2zm4 1zm7-1zm8 3zm42 7zm-3 2zm-15 0zm-6-1zm-10-2zm-4-4zm-35 3zm-6 3zm-4 6zm72-4zm20-1zm8 1zm11 12zm-4-4zm-109 1zm-5 11zm2-5zm120 4zm7 8zm-1-4zm-130 3zm-2 4zm-2 8zm142-5zm3 4zm9 10zm-6-7zm-151 4zm-4 6zm166 0zm8 8zm-4-2zm-170 5zm0 6zm165 4zm3-4zm-7 8zm-162-2zm4 8zm148 5zm5-5zm-10 11zm-132 3zm-4-4zm-5-4zm19 14zm120-3zm-7 7zm-1 1zm-61 5zm-7-1zm-6-1zm-8-1zm-5-1zm-5-3zm-6 1zm-9-2zm53 9zm8 3zm6 1zm4 3zm22-1zm6-2zm1-2zm171 5zm7-3zm7-1zm6 0zm9-2zm8 0zm9 1zm7-1zm4 0zm10 1zm3 1zm11 1zm6 0zm11 7zm-6-4zm-98 2zm-6 3zm-6 2zm-170-7zm-4 1zm170 11zm127-3zm2 3zm7 3zm-141 6zm1 7zm143-3zm1 3zm5 11zm-144-3zm4 7zm143 2zm0 6zm-138 2zm-4-5zm7 13zm138-4zm0 8zm-2 7zm-135-3zm2 9zm133 1zm-3 7zm-129-1zm2 7zm1 3zm123 0zm-3 5zm-324 3zm-6 0zm-47 7zm6 0zm5-1zm7-2zm7 0zm5-2zm6-1zm20 3zm203-2zm1 4zm113-1zm-5 5zm-4 4zm-4 2zm-95-1zm-201-3zm-6-1zm-66-1zm-4 1zm-8 3zm-15 8zm5-3zm102 0zm197 0zm5 2zm69 3zm4-1zm9-4zm-18 8zm-8 1zm-8 3zm-7 0zm-23 1zm-5-2zm-8-1zm-203 3zm-2-6zm-114 1zm-3 8zm121 2zm220-3zm7 1zm-228 8zm-121-1zm0 10zm121 5zm3-7zm-4 12zm-118-4zm0 5zm4 7zm111-2zm-3 6zm-4 7zm-97-4zm-2-2zm11 9zm5 2zm78 0zm-5 5zm-3 3zm-57 0zm-7-5zm11 9zm4 2zm8 1zm7 3zm11 1zm5-1zm7-2zm5-4z" stroke="#2a39f0" stroke-width="6.8" stroke-linecap="round" fill="none"/>
<path transform="scale(.5)" d="M545 4804zm14 2zm-9 9zm-14-4zm-15 1zm-9-2zm-4 4zm6 5zm13 2zm16-3zm16 2zm7 0zm0 7zm-10 3zm-4-1zm-13-3zm-13 5zm-14-2zm-10-3zm-3 7zm39 0zm18 4zm6 0zm11 11zm-17-2zm-11-3zm-8 0zm-8-3zm-11 1zm-14 0zm-12 5zm-11 4zm16 1zm9-1zm7-1zm3 6zm12-6zm0 6zm34-6zm27 5zm-1 8zm-10-1zm-74-2zm-17-2zm-11 2zm9 9zm18 1zm94-5zm-2 9zm-13 0zm-73 0zm-10 4zm-15-2zm-10-1zm-1 11zm16 2zm94-1zm13-5zm-5 11zm-14 3zm-2-6zm11 9zm-32 49zm-6 13zm9 2zm-9 8z" stroke="#2a39f0" stroke-width="7" stroke-linecap="round" fill="none"/>
<path transform="scale(.5)" d="M724 4617zm-69 78zm-193 34zm-70 21zm-42 7zm80 11z" stroke="#d60b0b" stroke-width="7.8" stroke-linecap="round" fill="none"/>
<path transform="scale(.5)" d="M527 4799zm5-2zm4 1zm7 0zm14 6zm-5-3zm-31 4zm-3 2zm-5 3zm47 1zm4 7zm-56-2zm-5 3zm-7 11zm5-5zm64-1zm0 6zm-1 9zm-72-2zm-1 3zm-4 5zm55 2zm7-3zm7 3zm12-5zm4 2zm6 3zm13 6zm-6-3zm-18 3zm-3-3zm-31 0zm-6 1zm-43 0zm-4 3zm-3 4zm46-2zm50 0zm2 3zm5 4zm16-5zm3 6zm3 7zm-22 1zm-63-7zm-5 3zm-38-4zm-2 9zm29 4zm7-4zm71 5zm23-3zm-2 9zm-1 3zm-21-3zm-82-1zm-24-3zm0 9zm3 2zm8 0zm7-3zm87 2zm18 8zm-3 4zm-11-1zm-2-2zm-29 52zm9-3zm4 4zm-17 5zm0 8zm16-4zm-3 8zm-6 2z" stroke="#d60b0b" stroke-width="6.8" stroke-linecap="round" fill="none"/>
<path transform="scale(.5)" d="M401 4504zm88 43zm-54 12zm251 60zm31 59zm-64 8zm-297 43zm347-1zm-255 29zm73 47zm14 1zm22-1zm-18 10zm-30 5zm13-1zm35 3zm-23 14zm-19 1zm-16 18zm34-6zm33 5zm23 6zm-104 1zm17 10zm87 1zm-110 12zm110 6zm-4 14zm-30 55z" stroke="#fa8d1a" stroke-width="7.8" stroke-linecap="round" fill="none"/>
<path transform="scale(.5)" d="M369 4495zm55 3zm279 118zm-22 20zm-18 18z" stroke="#fff" stroke-width="4.4" stroke-linecap="round" fill="none"/>
<circle cx="263.9" cy="2292.3" r="2.2" fill="#2a39f0"/>
<text x="79.2" y="2227.9" font-size="13" font-weight="bold">OCI-AML3</text>
<circle cx="83.3" cy="2240.1" r="5" fill="#2a39f0"/>
<text x="99.2" y="2244.7" font-size="13.1">WT (77.2%)</text>
<circle cx="83.3" cy="2256.6" r="5" fill="#fa8d1a"/>
<text x="99.2" y="2261.2" font-size="13.1">HET (0.6%)</text>
<circle cx="83.3" cy="2273.2" r="5" fill="#d60b0b"/>
<text x="99.2" y="2277.8" font-size="13.1">MUT (0.1%)</text>
<circle cx="83.3" cy="2289.8" r="5" fill="#7f8c8d"/>
<text x="99.2" y="2294.3" font-size="13.1">NA (22.1%)</text>
<text x="344.4" y="2217.3" font-size="13" font-weight="bold">CA46</text>
<circle cx="348.5" cy="2229.5" r="5" fill="#2a39f0"/>
<text x="364.4" y="2234.1" font-size="13.1">WT (33.4%)</text>
<circle cx="348.5" cy="2246.1" r="5" fill="#fa8d1a"/>
<text x="364.4" y="2250.7" font-size="13.1">HET (0.4%)</text>
<circle cx="348.5" cy="2262.6" r="5" fill="#d60b0b"/>
<text x="364.4" y="2267.2" font-size="13.1">MUT (0.3%)</text>
<circle cx="348.5" cy="2279.2" r="5" fill="#7f8c8d"/>
<text x="364.4" y="2283.8" font-size="13.1">NA (65.9%)</text>
<text x="79.2" y="2362.2" font-size="13" font-weight="bold">HEL</text>
<circle cx="83.3" cy="2374.4" r="5" fill="#2a39f0"/>
<text x="99.2" y="2379" font-size="13.1">WT (32.0%)</text>
<circle cx="83.3" cy="2390.9" r="5" fill="#fa8d1a"/>
<text x="99.2" y="2395.5" font-size="13.1">HET (0.3%)</text>
<circle cx="83.3" cy="2407.5" r="5" fill="#d60b0b"/>
<text x="99.2" y="2412.1" font-size="13.1">MUT (0.8%)</text>
<circle cx="83.3" cy="2424.1" r="5" fill="#7f8c8d"/>
<text x="99.2" y="2428.7" font-size="13.1">NA (66.8%)</text>
<line x1="147.5" y1="2222.3" x2="206.6" y2="2254.5" stroke="#111" stroke-width="1.9" stroke-dasharray="3 2.5"/>
<line x1="336.8" y1="2214.6" x2="322" y2="2311" stroke="#111" stroke-width="1.9" stroke-dasharray="3 2.5"/>
<line x1="113" y1="2358.5" x2="196.3" y2="2369.6" stroke="#111" stroke-width="1.9" stroke-dasharray="3 2.5"/>
<rect x="229.3" y="2393.6" width="96.1" height="96.2" fill="none" stroke="#111" stroke-width="2" stroke-dasharray="3.8 3.2"/>
<text x="415.2" y="2345" font-size="13" font-weight="bold">SET-2</text>
<text x="415.2" y="2356.6" font-size="9.7" style="stroke-width:.45px">Cells Genotyped = 39.5%</text>
<rect x="432" y="2367.8" width="39.8" height="16.4" fill="#ff8c16"/>
<text x="451.9" y="2379.1" font-size="8.9" text-anchor="middle" class="c2">12%</text>
<rect x="432" y="2384" width="39.8" height="69.1" fill="#d60606"/>
<text x="451.9" y="2421.7" font-size="8.9" text-anchor="middle" class="c2">51%</text>
<rect x="432" y="2452.9" width="39.8" height="50.2" fill="#2633f5"/>
<text x="451.9" y="2481.1" font-size="8.9" text-anchor="middle" class="c2">37%</text>
<path d="M428.3 2361V2509.4H471.8" fill="none" stroke="#0a0a0a" stroke-width="1.5"/>
<text x="425.6" y="2371.5" font-size="8.8" text-anchor="end" class="c3">100</text>
<line x1="426.2" y1="2368.4" x2="427.7" y2="2368.4" stroke="#3c3c3c" stroke-width="0.6"/>
<text x="425.6" y="2405.3" font-size="8.8" text-anchor="end" class="c3">75</text>
<line x1="426.2" y1="2402.2" x2="427.7" y2="2402.2" stroke="#3c3c3c" stroke-width="0.6"/>
<text x="425.6" y="2439.1" font-size="8.8" text-anchor="end" class="c3">50</text>
<line x1="426.2" y1="2436" x2="427.7" y2="2436" stroke="#3c3c3c" stroke-width="0.6"/>
<text x="425.6" y="2472.8" font-size="8.8" text-anchor="end" class="c3">25</text>
<line x1="426.2" y1="2469.7" x2="427.7" y2="2469.7" stroke="#3c3c3c" stroke-width="0.6"/>
<text x="425.6" y="2506.6" font-size="8.8" text-anchor="end" class="c3">0</text>
<line x1="426.2" y1="2503.5" x2="427.7" y2="2503.5" stroke="#3c3c3c" stroke-width="0.6"/>
<text x="406.8" y="2435" font-size="8.6" text-anchor="middle" transform="rotate(-90 406.8 2435)" style="stroke-width:.45px">Percent of Genotyped Cells</text>
<rect x="479.8" y="2427" width="7.1" height="7.6" fill="#ff8c16"/>
<text x="489.6" y="2433.3" font-size="6.4" font-weight="bold">HET</text>
<rect x="479.8" y="2434.8" width="7.1" height="7.6" fill="#d60606"/>
<text x="489.6" y="2441.1" font-size="6.4" font-weight="bold">MUT</text>
<rect x="479.8" y="2442.6" width="7.1" height="7.6" fill="#2633f5"/>
<text x="489.6" y="2448.9" font-size="6.4" font-weight="bold">WT</text>
<path d="M159.6 2454.1V2499.4H204.9" fill="none" stroke="#111" stroke-width="2.2"/>
<path d="M159.6 2445.7l-7 14l7 -3.9l7 3.9z" fill="#111"/>
<path d="M213.3 2499.4l-14 -7l3.9 7l-3.9 7z" fill="#111"/>
<text x="164.6" y="2515.7" font-size="12.6">UMAP1</text>
<text x="152" y="2494.8" font-size="12.6" transform="rotate(-90 152 2494.8)">UMAP2</text>
<text x="558.2" y="2155.6" font-size="25" font-weight="bold" class="c0"><tspan font-style="italic">TP53</tspan><tspan font-style="italic" font-size="13.5" dy="-9.5">R248_2</tspan><tspan dy="9.5" font-size="25">&#8203;</tspan><tspan> [p.Arg248Trp] GoT-ChA</tspan></text>
<text x="557.2" y="2170.6" font-size="13">Accuracy = 98.3% (OCI-AML3 + HEL + CA46)</text>
<text x="557.2" y="2186.9" font-size="13">Cells Genotyped = 59.0% (OCI-AML3 + HEL + CA46)</text>
<path d="M805.5 2393.6L912 2315V2514L805.5 2489.8Z" fill="url(#tzR)"/>
<rect x="878" y="2333" width="134" height="183" fill="url(#twR)"/>
<path d="M651.5 2266.2l1.6-7.2 4-7.3 4.1-9.3 3.1-7.2 6-4.9 9.2 0 9.6 3.3 8.4 3.8 8.1-1.9 7.5 3.5 6.4 9.2 8.3 8.5 8 4.6 2.9 3.9-4.6 5.9-6.5 7.4-6.4 8.3-8 6.3-7.6 4.5-9.4-3.7-11.4-1.8-13-2.8-9.5-2.7-6.9-6.2-3.1-7.1z" fill="#2a39f0" stroke="#2a39f0" stroke-width="1.2" stroke-linejoin="round"/>
<path d="M788.6 2307.1l3.8-5.9 7.7-4.4 11.1-1.8 13-1 12.8-.5 11 3.2 7.8 7.2 6.3 10.9 3.2 12.6-2.4 10.8-5.5 10.8-9.5 8.2-12.7 4.5-14.3 1.8-9.3-2.6-7.8-7.2-4.7-7.9 1.7-11.1-4.1-9.5-1.7-9.5-4.9-3.7z" fill="#2a39f0" stroke="#2a39f0" stroke-width="1.2" stroke-linejoin="round"/>
<path d="M648.6 2368.4l2.7-7 6.2-5.3 9.4-2.7 9.9-.9 6.5-3.7 7.8-.9 9.2-.2 2.9 6.2 4.9 7.4 3.3 5.7 4.6 4-4.7 4.1-2.5 7.7-1.5 4.3-7.1 4.5-8 6.4-7.7 2.3-6-.5-6.3-6.4-11.4-5.6-7.9-7.2-3.9-5.3z" fill="#2a39f0" stroke="#2a39f0" stroke-width="1.2" stroke-linejoin="round"/>
<path d="M714.6 2444.7l1.8-9.4 3-8.9 9.6-6.3 6.7-6.7 4.8-9.2 7.4-4.3 7.5 2.6 6.2 6.2 1.5 2.9-4.6 2.4-3.3 7.4-6.1 4.4-8.3 1.9-3.5 4.9-4.8 5.5-6.2 6.3-6 1.7z" fill="#d60b0b" stroke="#d60b0b" stroke-width="1.2" stroke-linejoin="round"/>
<path d="M761.4 2417.3l2.1 .9 3.3 5.6 6.6 1.1 6 4.2 .7 7.8-2.3 8.9-2.7 5-3.9-1.6-3.7-5.9 2.4-6.2-.9-8.1-5-3.9-2.2-4.2z" fill="#d60b0b" stroke="#d60b0b" stroke-width="1.2" stroke-linejoin="round"/>
<path d="M751.3 2479.8l2.2-4.1 5.4-4.4 1.3 4.8-.5 8.6-3.9 2.3-4-.6z" fill="#d60b0b" stroke="#d60b0b" stroke-width="1.2" stroke-linejoin="round"/>
<path transform="scale(.5)" d="M1328 4471zm21-7zm20 5zm45 8zm-56 8zm37-2zm32 7zm-89 2zm40 5zm8 3zm36 4zm19 3zm-42 3zm-27-1zm-20-3zm-36 10zm149 6zm-14 0zm-50 5zm-80 15zm15-5zm105 2zm23 6zm-47 5zm-26 2zm-19-2zm-17-2zm-46 2zm27 4zm107 6zm-89 9zm30 6zm-14 2zm0 8zm34 5zm23-4zm190 4zm35-3zm14 3zm13-3zm24 11zm-10-6zm-6 1zm-4 4zm-9-3zm-4 5zm-7-2zm-11-3zm-3 4zm-6-5zm-8 0zm-9 1zm-10 0zm-8 3zm-8-3zm-16 11zm15 3zm7-5zm21 1zm8 3zm8-3zm12-2zm8 4zm23-5zm8 4zm2-5zm14 12zm-8-4zm-14 7zm-12-6zm-38 6zm-27-5zm-7 4zm-24 0zm11 8zm6-5zm19 0zm5 1zm1 5zm5-5zm4 5zm14-1zm14-6zm9 1zm8 0zm21 0zm8 1zm12 0zm7 12zm-6-3zm-11 1zm-14-3zm-10 2zm-6 3zm-6 0zm-6-4zm-9-1zm-3 6zm-6-1zm-12-2zm-14 0zm-10 3zm-4-7zm-29 0zm11 9zm3 6zm7-6zm3 6zm16-3zm45 0zm22-1zm10-1zm11 0zm12 1zm10 9zm-16-2zm-3 4zm-21-2zm-19 1zm-10-1zm-13-4zm-9 2zm-8 0zm-4 2zm-8-3zm-22 7zm5 8zm5-6zm1 5zm11-4zm5 5zm8-3zm7 2zm6-3zm7-2zm9 2zm6-3zm10 2zm8-2zm4 5zm11-6zm15 2zm3 4zm9-6zm-5 14zm-7-4zm-11-2zm-8 1zm-6 5zm-9-4zm-5 5zm-11 1zm-16-2zm-4-3zm-28 1zm-12-1zm-3 6zm7 2zm19-2zm7-1zm11 8zm13-2zm29 0zm8-2zm25 4zm10-8zm-1 10zm-17 4zm-3-4zm-8 0zm-6 4zm-16-5zm-16 3zm-11-2zm-14-2zm-6 1zm-5 6zm-9-5zm-7-1zm-10 7zm0 6zm6-5zm36-1zm12 1zm25 1zm7 3zm5 0zm11-2zm9 5zm11-8zm-3 12zm-17 4zm-5-7zm-18 2zm-7 1zm-6-3zm-11-1zm-10 6zm-6 2zm-7-5zm-10-3zm-1 4zm-10-2zm-221 5zm-39 8zm9-3zm16-1zm8 0zm8 2zm9-4zm207 2zm20 2zm11 2zm21-2zm15-4zm1 7zm4-6zm7 5zm8-5zm9 5zm4-2zm4-4zm-18 10zm-13-1zm-15 0zm-16 2zm-19 1zm-19-3zm-209 2zm-15 2zm-6-3zm-10 0zm-17 1zm-33 3zm-14 6zm6-4zm17 1zm2 4zm5 2zm7-8zm17 4zm5-2zm8 2zm12 1zm8-4zm18 1zm210 1zm4 0zm12 1zm10-1zm9-3zm6 7zm3-7zm9 8zm16-5zm-22 10zm-9-1zm-8 1zm-13-3zm-7 4zm-3-6zm-221 1zm-9 7zm-2-7zm-5 6zm-11-6zm-9 5zm-8 1zm-7-4zm-7-1zm-8-1zm-14 5zm-12 1zm-12-5zm-3 8zm7 1zm22 4zm17 0zm6-6zm8 5zm18-1zm3-4zm3 4zm17-1zm15 3zm12 8zm-5-5zm-16 1zm-1 4zm-10-6zm-23 1zm-9 4zm-10 2zm-22-1zm-14-5zm-21-1zm-1 12zm11-5zm10 5zm9-2zm9 0zm10 0zm7 1zm8 3zm8-1zm10-4zm9 3zm9-1zm14 2zm9-2zm-3 5zm-6 6zm-3-3zm-9 2zm-2-5zm-5 0zm-3 6zm-9-2zm-12-1zm-9 0zm-17 3zm-13-3zm-6 1zm-12 2zm-7-3zm6 10zm8-4zm3 5zm15-1zm1-4zm12 4zm3-5zm3 6zm11-6zm4 4zm5-4zm19 4zm6 0zm5-3zm13 3zm-1 6zm-15-2zm-6 7zm-8 0zm-3-7zm-6 3zm-3 4zm-2-6zm-18 2zm-8 1zm-6-3zm-1 6zm-13-6zm-6 4zm1 5zm13 2zm15 0zm10-3zm8 3zm10-1zm16 4zm6-7zm5 3zm5-3zm-25 14zm-7-2zm-12 1zm-3-5zm-5-1zm-5 5zm-10 0zm7 8zm22 0zm135 8zm-146-5zm119 11zm15 3zm18-1zm3 13zm-20 5zm-38 8zm74 7zm-50 0zm-32 10zm98 8zm-80-1zm-31 2zm105 6zm18 3zm-99 0zm-25 12zm16-3zm92 15zm-28 53zm-10 17z" stroke="#869392" stroke-width="4.6" stroke-linecap="round" fill="none"/>
<path transform="scale(.5)" d="M1662 4588zm6 0zm1-1zm10 5zm-4 2zm-4 4zm-7 0zm-1-2zm0-2zm-49 5zm-4 1zm-3-7zm-1 3zm-1-2zm-3 5zm0 1zm-3-5zm-1 3zm8 3zm2 6zm8-3zm50-2zm14 8zm-317 91zm257 2zm34 5zm-10 0zm-15 2zm-4 2zm0-7zm-7 5zm-254-3zm0 1zm-6 3zm-1-3zm-5 2zm-5-1zm-1 1zm0-1zm-4 1zm0-3zm-3 1zm-4-1zm-3 2zm-2 3zm5 1zm3 0zm0 5zm2-3zm5-2zm5 2zm1 0zm269 1zm1-3zm2 6zm1-2zm1-4zm4 1zm1 6zm3-5zm4 0zm5 1zm6 2zm3 0zm2 6zm-3-3zm-6 2zm-1-2zm-2 0zm-1 2zm0 0zm-3 3zm-1-4zm-219 3zm-1 2zm-8 2zm1 6zm7-3zm1 3zm2 0zm3-1zm0-2zm5 11zm-1-5zm-2 2zm-10-2zm2 8zm5 10zm-3-1zm-6 0zm-3 3zm-3 2zm2 6zm3-5zm2 4zm1 5zm-9 5zm-7 1z" stroke="#869392" stroke-width="6.4" stroke-linecap="round" fill="none"/>
<path transform="scale(.5)" d="M1341 4460zm9 1zm6 0zm2 0zm7 2zm49 9zm-8-1zm-21 0zm-8-4zm-5-1zm-37-1zm-5 4zm-6 11zm2-6zm64-2zm9 2zm23 2zm5 3zm3 6zm-112 9zm2-4zm116 5zm7 4zm-128 1zm-5 11zm137-7zm4 4zm13 9zm-8-4zm-147 2zm-6 13zm1-5zm165-2zm4 4zm2 8zm-2 3zm-170 0zm1 7zm162 1zm-4 5zm-154 4zm2 4zm144 2zm4-5zm-10 11zm-131 1zm-4-2zm8 7zm9 3zm112 0zm4-5zm-11 9zm-5 5zm-69 0zm-8-3zm-4 0zm-7-1zm-8-2zm33 7zm10 1zm6 0zm6 3zm8 1zm25-1zm186 3zm10-1zm6 0zm6-2zm8 1zm8-1zm4 1zm8-1zm4-1zm6 0zm8 0zm8 3zm20 9zm-8-5zm-5-2zm-90 1zm-5 3zm-181-2zm-4 1zm-5-3zm176 13zm6-4zm120 4zm4 3zm4 8zm-137-4zm0 11zm140-3zm3 6zm-135 3zm-1 0zm5 7zm133-3zm2 2zm3 11zm-137-2zm0 4zm3 5zm135-5zm0 10zm-2 4zm-131-2zm2 5zm127 6zm-2 6zm-123-1zm-2 4zm123 4zm-3 5zm-3 6zm-116-7zm0 6zm-204 1zm-4 0zm-8 0zm-27 8zm4-2zm6-3zm8 0zm26 0zm201 0zm106 4zm6-4zm-11 11zm-91 1zm-5-3zm-199 3zm-3-5zm-55 1zm-6-1zm-8 1zm-8 2zm-5 3zm-13 5zm6-3zm97 4zm203-1zm5 4zm65-2zm9-3zm4-2zm-19 8zm-4 1zm-8 1zm-7 2zm-7 0zm-7 2zm-9 0zm-4-2zm-8-2zm-210 1zm-112-2zm-6 14zm2-7zm121-1zm4 6zm4 4zm0 5zm-132 3zm0-2zm127 5zm-2 3zm-119 7zm-2-4zm6 9zm112-2zm-4 9zm-1 3zm-94 0zm-4-2zm9 5zm5 4zm8 2zm69-5zm-9 7zm-4 2zm-43 5zm-5-4zm-4-2zm14 13zm20-1zm6-1zm4-4zm-17 7z" stroke="#2a39f0" stroke-width="6.8" stroke-linecap="round" fill="none"/>
<path transform="scale(.5)" d="M1488 4804zm15 2zm10 0zm-15 9zm-13-2zm-9 6zm27 5zm9-7zm9 3zm-7 7zm-22-3zm-10 6zm-20 5zm20 4zm23-4zm21 0zm6 11zm-26 0zm-16-2zm-27 3zm-21 2zm3 5zm25-4zm6 3zm82 11zm-18-2zm-58-6zm-8 7zm-5-4zm-1 4zm-10-2zm-24 8zm26 1zm80 1zm4 1zm17 8zm-8-6zm-107-2zm-17 15zm13-3zm17-2zm96 5zm-16 5zm6 4zm-30 51zm-6 8zm-6 9zm8 6z" stroke="#2a39f0" stroke-width="7" stroke-linecap="round" fill="none"/>
<path transform="scale(.5)" d="M1648 4607zm-6 99zm-285 4zm-3 80z" stroke="#d60b0b" stroke-width="7.8" stroke-linecap="round" fill="none"/>
<path transform="scale(.5)" d="M1486 4806zm6-5zm5-1zm10 4zm5 2zm9 7zm-43 0zm-2 6zm50 1zm-5 5zm-4 5zm-44-5zm-3 5zm-11 9zm4-4zm51 2zm10-1zm4 2zm13 10zm-6 0zm-3-6zm-7 5zm-1-5zm-14 1zm-58 1zm-4 4zm-10 8zm4-4zm43 2zm11-2zm7-4zm29 6zm18-2zm9 8zm-3-4zm-18 7zm-2-6zm-55 1zm-45 6zm-2 5zm38-2zm88 1zm-1 5zm-19-1zm-2 7zm-70-4zm-37 1zm-1 8zm1 3zm25 0zm5-7zm74 6zm23-3zm-2 6zm-1 6zm-18-6zm-87 0zm-6 2zm-6 0zm104 6zm3 4zm-26 46zm-5 0zm-5 3zm-7 9zm18-5zm-1 9zm-15 3zm0 7zm7 0zm9-3z" stroke="#d60b0b" stroke-width="6.8" stroke-linecap="round" fill="none"/>
<path transform="scale(.5)" d="M1347 4498zm113 16zm-66 8zm-31 15zm71 45zm279 35zm-87 15zm52 37zm6 50zm-382 3zm53 19zm65 18zm-51 38zm141 9zm-21-1zm6 9zm22 3zm-43 1zm19 15zm19 8zm-38 3zm-13-2zm-8 10zm14 2zm36-5zm28 0zm20 4zm9 7zm-120-2zm21 16zm91-2zm-12 17zm-97 2zm73 54zm-5 14z" stroke="#fa8d1a" stroke-width="7.8" stroke-linecap="round" fill="none"/>
<path transform="scale(.5)" d="M1344 4493zm49 3zm248 161z" stroke="#fff" stroke-width="4.4" stroke-linecap="round" fill="none"/>
<circle cx="794.5" cy="2341.5" r="2" fill="#2a39f0"/>
<text x="557.2" y="2227.9" font-size="13" font-weight="bold">OCI-AML3</text>
<circle cx="561.3" cy="2240.1" r="5" fill="#2a39f0"/>
<text x="577.2" y="2244.7" font-size="13.1">WT (84.6%)</text>
<circle cx="561.3" cy="2256.6" r="5" fill="#fa8d1a"/>
<text x="577.2" y="2261.2" font-size="13.1">HET (0.9%)</text>
<circle cx="561.3" cy="2273.2" r="5" fill="#d60b0b"/>
<text x="577.2" y="2277.8" font-size="13.1">MUT (0%)</text>
<circle cx="561.3" cy="2289.8" r="5" fill="#7f8c8d"/>
<text x="577.2" y="2294.3" font-size="13.1">NA (14.5%)</text>
<text x="822.4" y="2217.3" font-size="13" font-weight="bold">CA46</text>
<circle cx="826.5" cy="2229.5" r="5" fill="#2a39f0"/>
<text x="842.4" y="2234.1" font-size="13.1">WT (46.5%)</text>
<circle cx="826.5" cy="2246.1" r="5" fill="#fa8d1a"/>
<text x="842.4" y="2250.7" font-size="13.1">HET (0.5%)</text>
<circle cx="826.5" cy="2262.6" r="5" fill="#d60b0b"/>
<text x="842.4" y="2267.2" font-size="13.1">MUT (0.4%)</text>
<circle cx="826.5" cy="2279.2" r="5" fill="#7f8c8d"/>
<text x="842.4" y="2283.8" font-size="13.1">NA (52.6%)</text>
<text x="557.2" y="2362.2" font-size="13" font-weight="bold">HEL</text>
<circle cx="561.3" cy="2374.4" r="5" fill="#2a39f0"/>
<text x="577.2" y="2379" font-size="13.1">WT (41.7%)</text>
<circle cx="561.3" cy="2390.9" r="5" fill="#fa8d1a"/>
<text x="577.2" y="2395.5" font-size="13.1">HET (0.9%)</text>
<circle cx="561.3" cy="2407.5" r="5" fill="#d60b0b"/>
<text x="577.2" y="2412.1" font-size="13.1">MUT (0.5%)</text>
<circle cx="561.3" cy="2424.1" r="5" fill="#7f8c8d"/>
<text x="577.2" y="2428.7" font-size="13.1">NA (56.9%)</text>
<line x1="625.5" y1="2222.3" x2="684.6" y2="2254.5" stroke="#111" stroke-width="1.9" stroke-dasharray="3 2.5"/>
<line x1="814.8" y1="2214.6" x2="800" y2="2311" stroke="#111" stroke-width="1.9" stroke-dasharray="3 2.5"/>
<line x1="591" y1="2358.5" x2="674.3" y2="2369.6" stroke="#111" stroke-width="1.9" stroke-dasharray="3 2.5"/>
<rect x="708.8" y="2393.6" width="96.1" height="96.2" fill="none" stroke="#111" stroke-width="2" stroke-dasharray="3.8 3.2"/>
<text x="895.7" y="2345" font-size="13" font-weight="bold">SET-2</text>
<text x="895.7" y="2356.6" font-size="9.7" style="stroke-width:.45px">Cells Genotyped = 46.7%</text>
<rect x="912.5" y="2367.8" width="39.8" height="19.1" fill="#ff8c16"/>
<text x="932.4" y="2380.5" font-size="8.9" text-anchor="middle" class="c2">14%</text>
<rect x="912.5" y="2386.7" width="39.8" height="74.5" fill="#d60606"/>
<text x="932.4" y="2427.1" font-size="8.9" text-anchor="middle" class="c2">55%</text>
<rect x="912.5" y="2461" width="39.8" height="42.1" fill="#2633f5"/>
<text x="932.4" y="2485.2" font-size="8.9" text-anchor="middle" class="c2">31%</text>
<path d="M908.8 2361V2509.4H952.3" fill="none" stroke="#0a0a0a" stroke-width="1.5"/>
<text x="906.1" y="2371.5" font-size="8.8" text-anchor="end" class="c3">100</text>
<line x1="906.7" y1="2368.4" x2="908.2" y2="2368.4" stroke="#3c3c3c" stroke-width="0.6"/>
<text x="906.1" y="2405.3" font-size="8.8" text-anchor="end" class="c3">75</text>
<line x1="906.7" y1="2402.2" x2="908.2" y2="2402.2" stroke="#3c3c3c" stroke-width="0.6"/>
<text x="906.1" y="2439.1" font-size="8.8" text-anchor="end" class="c3">50</text>
<line x1="906.7" y1="2436" x2="908.2" y2="2436" stroke="#3c3c3c" stroke-width="0.6"/>
<text x="906.1" y="2472.8" font-size="8.8" text-anchor="end" class="c3">25</text>
<line x1="906.7" y1="2469.7" x2="908.2" y2="2469.7" stroke="#3c3c3c" stroke-width="0.6"/>
<text x="906.1" y="2506.6" font-size="8.8" text-anchor="end" class="c3">0</text>
<line x1="906.7" y1="2503.5" x2="908.2" y2="2503.5" stroke="#3c3c3c" stroke-width="0.6"/>
<text x="887.3" y="2435" font-size="8.6" text-anchor="middle" transform="rotate(-90 887.3 2435)" style="stroke-width:.45px">Percent of Genotyped Cells</text>
<rect x="960.3" y="2427" width="7.1" height="7.6" fill="#ff8c16"/>
<text x="970.1" y="2433.3" font-size="6.4" font-weight="bold">HET</text>
<rect x="960.3" y="2434.8" width="7.1" height="7.6" fill="#d60606"/>
<text x="970.1" y="2441.1" font-size="6.4" font-weight="bold">MUT</text>
<rect x="960.3" y="2442.6" width="7.1" height="7.6" fill="#2633f5"/>
<text x="970.1" y="2448.9" font-size="6.4" font-weight="bold">WT</text>
<path d="M637.6 2454.1V2499.4H682.9" fill="none" stroke="#111" stroke-width="2.2"/>
<path d="M637.6 2445.7l-7 14l7 -3.9l7 3.9z" fill="#111"/>
<path d="M691.3 2499.4l-14 -7l3.9 7l-3.9 7z" fill="#111"/>
<text x="642.6" y="2515.7" font-size="12.6">UMAP1</text>
<text x="630" y="2494.8" font-size="12.6" transform="rotate(-90 630 2494.8)">UMAP2</text>
<rect x="1160.6" y="738.3" width="39.8" height="149.3" fill="#95a5a4" stroke="#111" stroke-width="1.7"/>
<text x="1181.1" y="732.2" font-size="18" text-anchor="middle">53%</text>
<rect x="1200.4" y="717.6" width="39.8" height="170" fill="#e8980a" stroke="#111" stroke-width="1.7"/>
<text x="1220.9" y="711.5" font-size="18" text-anchor="middle">60%</text>
<rect x="1249" y="756.7" width="39.8" height="130.9" fill="#95a5a4" stroke="#111" stroke-width="1.7"/>
<text x="1269.5" y="750.6" font-size="18" text-anchor="middle">46%</text>
<rect x="1288.8" y="680" width="39.8" height="207.6" fill="#e8980a" stroke="#111" stroke-width="1.7"/>
<text x="1309.3" y="673.9" font-size="18" text-anchor="middle">73%</text>
<rect x="1337.4" y="771.1" width="39.8" height="116.5" fill="#95a5a4" stroke="#111" stroke-width="1.7"/>
<text x="1357.9" y="765" font-size="18" text-anchor="middle">41%</text>
<rect x="1377.2" y="729.2" width="39.8" height="158.4" fill="#e8980a" stroke="#111" stroke-width="1.7"/>
<text x="1397.7" y="723.1" font-size="18" text-anchor="middle">56%</text>
<rect x="1425.8" y="758.6" width="39.8" height="129" fill="#95a5a4" stroke="#111" stroke-width="1.7"/>
<text x="1446.3" y="752.5" font-size="18" text-anchor="middle">45%</text>
<rect x="1465.6" y="723.6" width="39.8" height="164" fill="#e8980a" stroke="#111" stroke-width="1.7"/>
<text x="1486.1" y="717.5" font-size="18" text-anchor="middle">58%</text>
<rect x="1514.2" y="751.6" width="39.8" height="136" fill="#95a5a4" stroke="#111" stroke-width="1.7"/>
<text x="1534.7" y="745.5" font-size="18" text-anchor="middle">48%</text>
<rect x="1554" y="720.7" width="39.8" height="166.9" fill="#e8980a" stroke="#111" stroke-width="1.7"/>
<text x="1574.5" y="714.6" font-size="18" text-anchor="middle">59%</text>
<path d="M1147.3 590.5V901.7H1606.7" fill="none" stroke="#111" stroke-width="1.6"/>
<text x="1141.4" y="893.9" font-size="17.6" text-anchor="end">0</text>
<line x1="1144" y1="887.6" x2="1147.3" y2="887.6" stroke="#111" stroke-width="1.3"/>
<text x="1141.4" y="823.2" font-size="17.6" text-anchor="end">25</text>
<line x1="1144" y1="816.9" x2="1147.3" y2="816.9" stroke="#111" stroke-width="1.3"/>
<text x="1141.4" y="752.5" font-size="17.6" text-anchor="end">50</text>
<line x1="1144" y1="746.2" x2="1147.3" y2="746.2" stroke="#111" stroke-width="1.3"/>
<text x="1141.4" y="681.8" font-size="17.6" text-anchor="end">75</text>
<line x1="1144" y1="675.5" x2="1147.3" y2="675.5" stroke="#111" stroke-width="1.3"/>
<text x="1141.4" y="611.1" font-size="17.6" text-anchor="end">100</text>
<line x1="1144" y1="604.8" x2="1147.3" y2="604.8" stroke="#111" stroke-width="1.3"/>
<line x1="1200.4" y1="901.7" x2="1200.4" y2="905.2" stroke="#111" stroke-width="1.3"/>
<line x1="1288.8" y1="901.7" x2="1288.8" y2="905.2" stroke="#111" stroke-width="1.3"/>
<line x1="1377.2" y1="901.7" x2="1377.2" y2="905.2" stroke="#111" stroke-width="1.3"/>
<line x1="1465.6" y1="901.7" x2="1465.6" y2="905.2" stroke="#111" stroke-width="1.3"/>
<line x1="1554" y1="901.7" x2="1554" y2="905.2" stroke="#111" stroke-width="1.3"/>
<rect x="1160" y="601.2" width="15" height="15" fill="#95a5a4" stroke="#111" stroke-width="1.6"/>
<rect x="1160" y="627.2" width="15" height="15" fill="#e8980a" stroke="#111" stroke-width="1.6"/>
<text x="1181.4" y="615.2" font-size="18.6">Original GoT-ChA - Average efficiency - 46.8%</text>
<text x="1181.4" y="641" font-size="18.6">Multiplex-adapted GoT-ChA - Average efficiency - 61.3%</text>
<text x="1207.6" y="921.7" font-size="17.9" text-anchor="middle"><tspan>JAK2</tspan><tspan font-size="10.7" dy="-7.2">V617</tspan><tspan dy="7.2" font-size="17.9">&#8203;</tspan></text>
<text x="1295.8" y="921.7" font-size="17.9" text-anchor="middle"><tspan>NRAS</tspan><tspan font-size="10.7" dy="-7.2">Q61</tspan><tspan dy="7.2" font-size="17.9">&#8203;</tspan></text>
<text x="1381.2" y="921.7" font-size="17.9" text-anchor="middle"><tspan>TP53</tspan><tspan font-size="10.7" dy="-7.2">M133</tspan><tspan dy="7.2" font-size="17.9">&#8203;</tspan></text>
<text x="1475" y="921.7" font-size="17.9" text-anchor="middle"><tspan>TP53</tspan><tspan font-size="10.7" dy="-7.2">R248_1</tspan><tspan dy="7.2" font-size="17.9">&#8203;</tspan></text>
<text x="1563.2" y="921.7" font-size="17.9" text-anchor="middle"><tspan>TP53</tspan><tspan font-size="10.7" dy="-7.2">R248_2</tspan><tspan dy="7.2" font-size="17.9">&#8203;</tspan></text>
<text x="1112.3" y="745.1" font-size="17.5" text-anchor="middle" transform="rotate(-90 1112.3 745.1)" textLength="149.4">Cells genotyped (%)</text>
<text x="1384.4" y="973.3" font-size="18.7" text-anchor="middle">Targeted loci</text>
<rect x="1167" y="1004.4" width="15" height="15" fill="#95a5a4" stroke="#111" stroke-width="1.6"/>
<rect x="1167" y="1030.3" width="15" height="15" fill="#e8980a" stroke="#111" stroke-width="1.6"/>
<text x="1188.6" y="1018.9" font-size="18.4">Original GoT-ChA</text>
<text x="1188.6" y="1045.2" font-size="18.4">Multiplex-adapted GoT-ChA</text>
<rect x="1162.9" y="1131.3" width="39.2" height="239.9" fill="#95a5a4" stroke="#111" stroke-width="1.7"/>
<rect x="1202.1" y="1111.9" width="39.2" height="259.3" fill="#e8980a" stroke="#111" stroke-width="1.7"/>
<rect x="1249.7" y="1116.9" width="39.2" height="254.3" fill="#95a5a4" stroke="#111" stroke-width="1.7"/>
<rect x="1288.9" y="1117.5" width="39.2" height="253.7" fill="#e8980a" stroke="#111" stroke-width="1.7"/>
<rect x="1336.4" y="1114.4" width="39.2" height="256.8" fill="#95a5a4" stroke="#111" stroke-width="1.7"/>
<rect x="1375.6" y="1115.5" width="39.2" height="255.7" fill="#e8980a" stroke="#111" stroke-width="1.7"/>
<rect x="1423.2" y="1111.9" width="39.2" height="259.3" fill="#95a5a4" stroke="#111" stroke-width="1.7"/>
<rect x="1462.4" y="1111.9" width="39.2" height="259.3" fill="#e8980a" stroke="#111" stroke-width="1.7"/>
<rect x="1509.9" y="1098.6" width="39.2" height="272.6" fill="#95a5a4" stroke="#111" stroke-width="1.7"/>
<rect x="1549.1" y="1098.6" width="39.2" height="272.6" fill="#e8980a" stroke="#111" stroke-width="1.7"/>
<text x="1175.4" y="1129.4" font-size="17.8" text-anchor="middle">86.5%</text>
<text x="1226" y="1098.6" font-size="17.8" text-anchor="middle">93.5%</text>
<text x="1269.8" y="1115.2" font-size="17.8" text-anchor="middle">91.7%</text>
<text x="1309" y="1096.6" font-size="17.8" text-anchor="middle">91.5%</text>
<text x="1367.8" y="1112.8" font-size="17.8" text-anchor="middle">92.6%</text>
<text x="1395.3" y="1095.8" font-size="17.8" text-anchor="middle">92.2%</text>
<text x="1443.9" y="1109.2" font-size="17.8" text-anchor="middle">93.5%</text>
<text x="1482.4" y="1091.7" font-size="17.8" text-anchor="middle">93.5%</text>
<text x="1537.9" y="1096.6" font-size="17.8" text-anchor="middle">98.3%</text>
<text x="1569.5" y="1077.6" font-size="17.8" text-anchor="middle">98.3%</text>
<path d="M1149.1 1080.4V1385.4H1601.9" fill="none" stroke="#111" stroke-width="1.6"/>
<text x="1143" y="1377.5" font-size="17.6" text-anchor="end">0</text>
<line x1="1145.7" y1="1371.2" x2="1149.1" y2="1371.2" stroke="#111" stroke-width="1.3"/>
<text x="1143" y="1307.8" font-size="17.6" text-anchor="end">25</text>
<line x1="1145.7" y1="1301.5" x2="1149.1" y2="1301.5" stroke="#111" stroke-width="1.3"/>
<text x="1143" y="1238.2" font-size="17.6" text-anchor="end">50</text>
<line x1="1145.7" y1="1231.9" x2="1149.1" y2="1231.9" stroke="#111" stroke-width="1.3"/>
<text x="1143" y="1168.5" font-size="17.6" text-anchor="end">75</text>
<line x1="1145.7" y1="1162.2" x2="1149.1" y2="1162.2" stroke="#111" stroke-width="1.3"/>
<text x="1143" y="1098.9" font-size="17.6" text-anchor="end">100</text>
<line x1="1145.7" y1="1092.6" x2="1149.1" y2="1092.6" stroke="#111" stroke-width="1.3"/>
<line x1="1202.1" y1="1385.4" x2="1202.1" y2="1389.2" stroke="#111" stroke-width="1.3"/>
<line x1="1288.9" y1="1385.4" x2="1288.9" y2="1389.2" stroke="#111" stroke-width="1.3"/>
<line x1="1375.6" y1="1385.4" x2="1375.6" y2="1389.2" stroke="#111" stroke-width="1.3"/>
<line x1="1462.4" y1="1385.4" x2="1462.4" y2="1389.2" stroke="#111" stroke-width="1.3"/>
<line x1="1549.1" y1="1385.4" x2="1549.1" y2="1389.2" stroke="#111" stroke-width="1.3"/>
<text x="1216.3" y="1411" font-size="18.6" text-anchor="middle" class="c4"><tspan>JAK2</tspan><tspan font-size="11.2" dy="-7.4">V617</tspan><tspan dy="7.4" font-size="18.6">&#8203;</tspan></text>
<text x="1302.3" y="1411" font-size="18.6" text-anchor="middle" class="c4"><tspan>NRAS</tspan><tspan font-size="11.2" dy="-7.4">Q61</tspan><tspan dy="7.4" font-size="18.6">&#8203;</tspan></text>
<text x="1386" y="1411" font-size="18.6" text-anchor="middle" class="c4"><tspan>TP53</tspan><tspan font-size="11.2" dy="-7.4">M133</tspan><tspan dy="7.4" font-size="18.6">&#8203;</tspan></text>
<text x="1478.3" y="1411" font-size="18.6" text-anchor="middle" class="c4"><tspan>TP53</tspan><tspan font-size="11.2" dy="-7.4">R248_1</tspan><tspan dy="7.4" font-size="18.6">&#8203;</tspan></text>
<text x="1565.6" y="1411" font-size="18.6" text-anchor="middle" class="c4"><tspan>TP53</tspan><tspan font-size="11.2" dy="-7.4">R248_2</tspan><tspan dy="7.4" font-size="18.6">&#8203;</tspan></text>
<text x="1108.4" y="1231" font-size="18.2" text-anchor="middle" transform="rotate(-90 1108.4 1231)">Accuracy (%)</text>
<path d="M1198.1 1457.5V1722.8H1579.6" fill="none" stroke="#111" stroke-width="1.6"/>
<text x="1191.8" y="1716.6" font-size="18" text-anchor="end">0</text>
<line x1="1194.6" y1="1710.2" x2="1198.1" y2="1710.2" stroke="#111" stroke-width="1.3"/>
<text x="1191.8" y="1635.9" font-size="18" text-anchor="end">10</text>
<line x1="1194.6" y1="1629.5" x2="1198.1" y2="1629.5" stroke="#111" stroke-width="1.3"/>
<text x="1191.8" y="1555.2" font-size="18" text-anchor="end">20</text>
<line x1="1194.6" y1="1548.8" x2="1198.1" y2="1548.8" stroke="#111" stroke-width="1.3"/>
<text x="1191.8" y="1474.5" font-size="18" text-anchor="end">30</text>
<line x1="1194.6" y1="1468.1" x2="1198.1" y2="1468.1" stroke="#111" stroke-width="1.3"/>
<line x1="1215.1" y1="1722.8" x2="1215.1" y2="1726.6" stroke="#111" stroke-width="1.3"/>
<text x="1215.1" y="1743.2" font-size="18" text-anchor="middle">0</text>
<line x1="1301.8" y1="1722.8" x2="1301.8" y2="1726.6" stroke="#111" stroke-width="1.3"/>
<text x="1301.8" y="1743.2" font-size="18" text-anchor="middle">1</text>
<line x1="1388.8" y1="1722.8" x2="1388.8" y2="1726.6" stroke="#111" stroke-width="1.3"/>
<text x="1388.8" y="1743.2" font-size="18" text-anchor="middle">2</text>
<line x1="1475.1" y1="1722.8" x2="1475.1" y2="1726.6" stroke="#111" stroke-width="1.3"/>
<text x="1475.1" y="1743.2" font-size="18" text-anchor="middle">3</text>
<line x1="1562.2" y1="1722.8" x2="1562.2" y2="1726.6" stroke="#111" stroke-width="1.3"/>
<text x="1562.2" y="1743.2" font-size="18" text-anchor="middle">4</text>
<path d="M1215.1 1601.2L1301.8 1489.1L1388.8 1481.8L1475.1 1550.8L1562.2 1627.1" fill="none" stroke="#95a5a4" stroke-width="1.4"/>
<circle cx="1215.1" cy="1601.2" r="5.8" fill="#95a5a4"/>
<circle cx="1301.8" cy="1489.1" r="5.8" fill="#95a5a4"/>
<circle cx="1388.8" cy="1481.8" r="5.8" fill="#95a5a4"/>
<circle cx="1475.1" cy="1550.8" r="5.8" fill="#95a5a4"/>
<circle cx="1562.2" cy="1627.1" r="5.8" fill="#95a5a4"/>
<path d="M1215.1 1656.4L1301.8 1585.7L1388.8 1505.3L1475.1 1489.1L1562.2 1512.6" fill="none" stroke="#e8980a" stroke-width="1.4"/>
<circle cx="1215.1" cy="1656.4" r="5.8" fill="#e8980a"/>
<circle cx="1301.8" cy="1585.7" r="5.8" fill="#e8980a"/>
<circle cx="1388.8" cy="1505.3" r="5.8" fill="#e8980a"/>
<circle cx="1475.1" cy="1489.1" r="5.8" fill="#e8980a"/>
<circle cx="1562.2" cy="1512.6" r="5.8" fill="#e8980a"/>
<text x="1567.7" y="1499.3" font-size="18.2" text-anchor="middle">24.6%</text>
<text x="1568.3" y="1652" font-size="18.2" text-anchor="middle">10.5%</text>
<text x="1283" y="1652" font-size="18.6">Protocol</text>
<line x1="1285.6" y1="1674.2" x2="1306.2" y2="1674.2" stroke="#95a5a4" stroke-width="1.4"/>
<circle cx="1295.8" cy="1674.2" r="5.8" fill="#95a5a4"/>
<text x="1317" y="1679.5" font-size="18.9">Original GoT-ChA</text>
<line x1="1285.6" y1="1700.1" x2="1306.2" y2="1700.1" stroke="#e8980a" stroke-width="1.4"/>
<circle cx="1295.8" cy="1700.1" r="5.8" fill="#e8980a"/>
<text x="1317" y="1705.4" font-size="18.9">Multiplex-adapted GoT-ChA</text>
<text x="1389.2" y="1765.8" font-size="18.8" text-anchor="middle">Number of genotyped loci per single cell</text>
<text x="1157.4" y="1589.3" font-size="18.4" text-anchor="middle" transform="rotate(-90 1157.4 1589.3)">Cells (%)</text>
<rect x="1224.6" y="1818.3" width="22.2" height="22.2" fill="#246ab3" stroke="#0a0a0a" stroke-width="1"/>
<text x="1256.3" y="1834.8" font-size="19.5">Not Genotyped</text>
<rect x="1403.3" y="1818.3" width="22.2" height="22.2" fill="#f7f414" stroke="#0a0a0a" stroke-width="1"/>
<text x="1435.3" y="1834.8" font-size="19.5">Genotyped</text>
<text x="1191.9" y="1866" font-size="19.5" text-anchor="middle">CA46</text>
<rect x="1138.2" y="1874.4" width="100.4" height="11.4" fill="#95a5a5"/>
<text x="1311.6" y="1866" font-size="19.5" text-anchor="middle">HEL</text>
<rect x="1258.9" y="1874.4" width="100.4" height="11.4" fill="#e8980a"/>
<text x="1435.9" y="1866" font-size="19.5" text-anchor="middle">OCI-AML3</text>
<rect x="1379.2" y="1874.4" width="100.4" height="11.4" fill="#d45fee"/>
<text x="1553.5" y="1866" font-size="19.5" text-anchor="middle">SET-2</text>
<rect x="1499.8" y="1874.4" width="100.4" height="11.4" fill="#2fd64f"/>
<rect x="1138.2" y="1901.5" width="100.4" height="114.8" fill="#246ab3"/>
<path d="M1138.2 2016.3V1967.4H1147.3V1940.5H1156.5V1954.9H1165.6V1964.1H1174.7V1950.3H1183.8V1957.8H1193V1952H1202.1V1957.2H1211.2V1956.6H1220.3V1957.8H1229.5V1956.6H1238.6V2016.3Z" fill="#f7f414"/>
<path d="M1147.3 1901.5V2016.3M1156.5 1901.5V2016.3M1165.6 1901.5V2016.3M1174.7 1901.5V2016.3M1183.8 1901.5V2016.3M1193 1901.5V2016.3M1202.1 1901.5V2016.3M1211.2 1901.5V2016.3M1220.3 1901.5V2016.3M1229.5 1901.5V2016.3" fill="none" stroke="#fff" stroke-width="0.3" opacity=".25"/>
<line x1="1132.9" y1="2022" x2="1243.9" y2="2022" stroke="#0a0a0a" stroke-width="1.9"/>
<path d="M1142.8 2022v5.2M1151.9 2022v5.2M1161 2022v5.2M1170.1 2022v5.2M1179.3 2022v5.2M1188.4 2022v5.2M1197.5 2022v5.2M1206.7 2022v5.2M1215.8 2022v5.2M1224.9 2022v5.2M1234 2022v5.2" fill="none" stroke="#0a0a0a" stroke-width="1.5"/>
<text x="1191.4" y="2039.4" font-size="14.2" text-anchor="middle" class="c5" textLength="104.9" lengthAdjust="spacing">012345678910</text>
<rect x="1258.9" y="1901.5" width="100.4" height="114.8" fill="#246ab3"/>
<path d="M1258.9 2016.3V1948.6H1268V1923.3H1277.2V1919.9H1286.3V1914.1H1295.4V1917H1304.5V1915.8H1313.7V1914.7H1322.8V1915.8H1331.9V1918.1H1341V1915.3H1350.2V1918.7H1359.3V2016.3Z" fill="#f7f414"/>
<path d="M1268 1901.5V2016.3M1277.2 1901.5V2016.3M1286.3 1901.5V2016.3M1295.4 1901.5V2016.3M1304.5 1901.5V2016.3M1313.7 1901.5V2016.3M1322.8 1901.5V2016.3M1331.9 1901.5V2016.3M1341 1901.5V2016.3M1350.2 1901.5V2016.3" fill="none" stroke="#fff" stroke-width="0.3" opacity=".25"/>
<line x1="1253.4" y1="2022" x2="1364.6" y2="2022" stroke="#0a0a0a" stroke-width="1.9"/>
<path d="M1263.5 2022v5.2M1272.6 2022v5.2M1281.7 2022v5.2M1290.8 2022v5.2M1300 2022v5.2M1309.1 2022v5.2M1318.2 2022v5.2M1327.4 2022v5.2M1336.5 2022v5.2M1345.6 2022v5.2M1354.7 2022v5.2" fill="none" stroke="#0a0a0a" stroke-width="1.5"/>
<text x="1312.1" y="2039.4" font-size="14.2" text-anchor="middle" class="c5" textLength="104.9" lengthAdjust="spacing">012345678910</text>
<rect x="1379.2" y="1901.5" width="100.4" height="114.8" fill="#246ab3"/>
<path d="M1379.2 2016.3V1960H1388.3V1930.2H1397.5V1955.5H1406.6V1952.6H1415.7V1952H1424.8V1950.9H1434V1946.3H1443.1V1953.2H1452.2V1954.3H1461.3V1943.4H1470.5V1954.3H1479.6V2016.3Z" fill="#f7f414"/>
<path d="M1388.3 1901.5V2016.3M1397.5 1901.5V2016.3M1406.6 1901.5V2016.3M1415.7 1901.5V2016.3M1424.8 1901.5V2016.3M1434 1901.5V2016.3M1443.1 1901.5V2016.3M1452.2 1901.5V2016.3M1461.3 1901.5V2016.3M1470.5 1901.5V2016.3" fill="none" stroke="#fff" stroke-width="0.3" opacity=".25"/>
<line x1="1373.7" y1="2022" x2="1484.9" y2="2022" stroke="#0a0a0a" stroke-width="1.9"/>
<path d="M1383.8 2022v5.2M1392.9 2022v5.2M1402 2022v5.2M1411.1 2022v5.2M1420.3 2022v5.2M1429.4 2022v5.2M1438.5 2022v5.2M1447.7 2022v5.2M1456.8 2022v5.2M1465.9 2022v5.2M1475 2022v5.2" fill="none" stroke="#0a0a0a" stroke-width="1.5"/>
<text x="1432.4" y="2039.4" font-size="14.2" text-anchor="middle" class="c5" textLength="104.9" lengthAdjust="spacing">012345678910</text>
<rect x="1499.8" y="1901.5" width="100.4" height="114.8" fill="#246ab3"/>
<path d="M1499.8 2016.3V1965.8H1508.9V1922.2H1518.1V1935.9H1527.2V1940.5H1536.3V1954.3H1545.4V1937.7H1554.6V1945.1H1563.7V1943.4H1572.8V1938.8H1581.9V1930.2H1591.1V1941.7H1600.2V2016.3Z" fill="#f7f414"/>
<path d="M1508.9 1901.5V2016.3M1518.1 1901.5V2016.3M1527.2 1901.5V2016.3M1536.3 1901.5V2016.3M1545.4 1901.5V2016.3M1554.6 1901.5V2016.3M1563.7 1901.5V2016.3M1572.8 1901.5V2016.3M1581.9 1901.5V2016.3M1591.1 1901.5V2016.3" fill="none" stroke="#fff" stroke-width="0.3" opacity=".25"/>
<line x1="1494.3" y1="2022" x2="1605.5" y2="2022" stroke="#0a0a0a" stroke-width="1.9"/>
<path d="M1504.4 2022v5.2M1513.5 2022v5.2M1522.6 2022v5.2M1531.7 2022v5.2M1540.9 2022v5.2M1550 2022v5.2M1559.1 2022v5.2M1568.3 2022v5.2M1577.4 2022v5.2M1586.5 2022v5.2M1595.6 2022v5.2" fill="none" stroke="#0a0a0a" stroke-width="1.5"/>
<text x="1553" y="2039.4" font-size="14.2" text-anchor="middle" class="c5" textLength="104.9" lengthAdjust="spacing">012345678910</text>
<line x1="1132.9" y1="1896" x2="1132.9" y2="2022.9" stroke="#0a0a0a" stroke-width="1.9"/>
<line x1="1128.3" y1="1901.5" x2="1132.9" y2="1901.5" stroke="#0a0a0a" stroke-width="1.5"/>
<line x1="1128.3" y1="1930.2" x2="1132.9" y2="1930.2" stroke="#0a0a0a" stroke-width="1.5"/>
<line x1="1128.3" y1="1958.9" x2="1132.9" y2="1958.9" stroke="#0a0a0a" stroke-width="1.5"/>
<line x1="1128.3" y1="1987.6" x2="1132.9" y2="1987.6" stroke="#0a0a0a" stroke-width="1.5"/>
<line x1="1128.3" y1="2016.3" x2="1132.9" y2="2016.3" stroke="#0a0a0a" stroke-width="1.5"/>
<text x="1122.6" y="1908" font-size="15.6" text-anchor="end" class="c5">1</text>
<text x="1123.4" y="2022.6" font-size="15.6" text-anchor="end" class="c5">0</text>
<text x="1611.5" y="1958.9" font-size="19.5" font-style="italic" text-anchor="middle" transform="rotate(90 1611.5 1958.9)"><tspan>JAK2</tspan><tspan font-size="11.7" dy="-7.4">V617</tspan><tspan dy="7.4" font-size="19.5">&#8203;</tspan></text>
<rect x="1138.2" y="2045.2" width="100.4" height="114.8" fill="#246ab3"/>
<path d="M1138.2 2160V2087.7H1147.3V2065.9H1156.5V2070.5H1165.6V2059.6H1174.7V2075.6H1183.8V2066.4H1193V2077.9H1202.1V2090H1211.2V2087.7H1220.3V2084.8H1229.5V2077.9H1238.6V2160Z" fill="#f7f414"/>
<path d="M1147.3 2045.2V2160M1156.5 2045.2V2160M1165.6 2045.2V2160M1174.7 2045.2V2160M1183.8 2045.2V2160M1193 2045.2V2160M1202.1 2045.2V2160M1211.2 2045.2V2160M1220.3 2045.2V2160M1229.5 2045.2V2160" fill="none" stroke="#fff" stroke-width="0.3" opacity=".25"/>
<line x1="1132.9" y1="2165.7" x2="1243.9" y2="2165.7" stroke="#0a0a0a" stroke-width="1.9"/>
<path d="M1142.8 2165.7v5.2M1151.9 2165.7v5.2M1161 2165.7v5.2M1170.1 2165.7v5.2M1179.3 2165.7v5.2M1188.4 2165.7v5.2M1197.5 2165.7v5.2M1206.7 2165.7v5.2M1215.8 2165.7v5.2M1224.9 2165.7v5.2M1234 2165.7v5.2" fill="none" stroke="#0a0a0a" stroke-width="1.5"/>
<text x="1191.4" y="2183.1" font-size="14.2" text-anchor="middle" class="c5" textLength="104.9" lengthAdjust="spacing">012345678910</text>
<rect x="1258.9" y="2045.2" width="100.4" height="114.8" fill="#246ab3"/>
<path d="M1258.9 2160V2077.3H1268V2059H1277.2V2048.6H1286.3V2069.3H1295.4V2052.1H1304.5V2052.1H1313.7V2077.3H1322.8V2059H1331.9V2062.4H1341V2083.1H1350.2V2076.2H1359.3V2160Z" fill="#f7f414"/>
<path d="M1268 2045.2V2160M1277.2 2045.2V2160M1286.3 2045.2V2160M1295.4 2045.2V2160M1304.5 2045.2V2160M1313.7 2045.2V2160M1322.8 2045.2V2160M1331.9 2045.2V2160M1341 2045.2V2160M1350.2 2045.2V2160" fill="none" stroke="#fff" stroke-width="0.3" opacity=".25"/>
<line x1="1253.4" y1="2165.7" x2="1364.6" y2="2165.7" stroke="#0a0a0a" stroke-width="1.9"/>
<path d="M1263.5 2165.7v5.2M1272.6 2165.7v5.2M1281.7 2165.7v5.2M1290.8 2165.7v5.2M1300 2165.7v5.2M1309.1 2165.7v5.2M1318.2 2165.7v5.2M1327.4 2165.7v5.2M1336.5 2165.7v5.2M1345.6 2165.7v5.2M1354.7 2165.7v5.2" fill="none" stroke="#0a0a0a" stroke-width="1.5"/>
<text x="1312.1" y="2183.1" font-size="14.2" text-anchor="middle" class="c5" textLength="104.9" lengthAdjust="spacing">012345678910</text>
<rect x="1379.2" y="2045.2" width="100.4" height="114.8" fill="#246ab3"/>
<path d="M1379.2 2160V2064.7H1388.3V2053.2H1397.5V2053.8H1406.6V2057.8H1415.7V2055.5H1424.8V2075H1434V2057.8H1443.1V2065.9H1452.2V2057.8H1461.3V2057.8H1470.5V2067.6H1479.6V2160Z" fill="#f7f414"/>
<path d="M1388.3 2045.2V2160M1397.5 2045.2V2160M1406.6 2045.2V2160M1415.7 2045.2V2160M1424.8 2045.2V2160M1434 2045.2V2160M1443.1 2045.2V2160M1452.2 2045.2V2160M1461.3 2045.2V2160M1470.5 2045.2V2160" fill="none" stroke="#fff" stroke-width="0.3" opacity=".25"/>
<line x1="1373.7" y1="2165.7" x2="1484.9" y2="2165.7" stroke="#0a0a0a" stroke-width="1.9"/>
<path d="M1383.8 2165.7v5.2M1392.9 2165.7v5.2M1402 2165.7v5.2M1411.1 2165.7v5.2M1420.3 2165.7v5.2M1429.4 2165.7v5.2M1438.5 2165.7v5.2M1447.7 2165.7v5.2M1456.8 2165.7v5.2M1465.9 2165.7v5.2M1475 2165.7v5.2" fill="none" stroke="#0a0a0a" stroke-width="1.5"/>
<text x="1432.4" y="2183.1" font-size="14.2" text-anchor="middle" class="c5" textLength="104.9" lengthAdjust="spacing">012345678910</text>
<rect x="1499.8" y="2045.2" width="100.4" height="114.8" fill="#246ab3"/>
<path d="M1499.8 2160V2090H1508.9V2056.7H1518.1V2056.7H1527.2V2057.8H1536.3V2051.5H1545.4V2070.5H1554.6V2057.3H1563.7V2070.5H1572.8V2087.7H1581.9V2083.7H1591.1V2075H1600.2V2160Z" fill="#f7f414"/>
<path d="M1508.9 2045.2V2160M1518.1 2045.2V2160M1527.2 2045.2V2160M1536.3 2045.2V2160M1545.4 2045.2V2160M1554.6 2045.2V2160M1563.7 2045.2V2160M1572.8 2045.2V2160M1581.9 2045.2V2160M1591.1 2045.2V2160" fill="none" stroke="#fff" stroke-width="0.3" opacity=".25"/>
<line x1="1494.3" y1="2165.7" x2="1605.5" y2="2165.7" stroke="#0a0a0a" stroke-width="1.9"/>
<path d="M1504.4 2165.7v5.2M1513.5 2165.7v5.2M1522.6 2165.7v5.2M1531.7 2165.7v5.2M1540.9 2165.7v5.2M1550 2165.7v5.2M1559.1 2165.7v5.2M1568.3 2165.7v5.2M1577.4 2165.7v5.2M1586.5 2165.7v5.2M1595.6 2165.7v5.2" fill="none" stroke="#0a0a0a" stroke-width="1.5"/>
<text x="1553" y="2183.1" font-size="14.2" text-anchor="middle" class="c5" textLength="104.9" lengthAdjust="spacing">012345678910</text>
<line x1="1132.9" y1="2039.7" x2="1132.9" y2="2166.6" stroke="#0a0a0a" stroke-width="1.9"/>
<line x1="1128.3" y1="2045.2" x2="1132.9" y2="2045.2" stroke="#0a0a0a" stroke-width="1.5"/>
<line x1="1128.3" y1="2073.9" x2="1132.9" y2="2073.9" stroke="#0a0a0a" stroke-width="1.5"/>
<line x1="1128.3" y1="2102.6" x2="1132.9" y2="2102.6" stroke="#0a0a0a" stroke-width="1.5"/>
<line x1="1128.3" y1="2131.3" x2="1132.9" y2="2131.3" stroke="#0a0a0a" stroke-width="1.5"/>
<line x1="1128.3" y1="2160" x2="1132.9" y2="2160" stroke="#0a0a0a" stroke-width="1.5"/>
<text x="1122.6" y="2051.7" font-size="15.6" text-anchor="end" class="c5">1</text>
<text x="1123.4" y="2166.3" font-size="15.6" text-anchor="end" class="c5">0</text>
<text x="1611.5" y="2102.6" font-size="19.5" font-style="italic" text-anchor="middle" transform="rotate(90 1611.5 2102.6)"><tspan>NRAS</tspan><tspan font-size="11.7" dy="-7.4">Q61</tspan><tspan dy="7.4" font-size="19.5">&#8203;</tspan></text>
<rect x="1138.2" y="2189.3" width="100.4" height="114.8" fill="#246ab3"/>
<path d="M1138.2 2304.1V2261.6H1147.3V2245.6H1156.5V2247.8H1165.6V2249.6H1174.7V2249H1183.8V2247.8H1193V2254.7H1202.1V2251.3H1211.2V2255.9H1220.3V2250.7H1229.5V2264.5H1238.6V2304.1Z" fill="#f7f414"/>
<path d="M1147.3 2189.3V2304.1M1156.5 2189.3V2304.1M1165.6 2189.3V2304.1M1174.7 2189.3V2304.1M1183.8 2189.3V2304.1M1193 2189.3V2304.1M1202.1 2189.3V2304.1M1211.2 2189.3V2304.1M1220.3 2189.3V2304.1M1229.5 2189.3V2304.1" fill="none" stroke="#fff" stroke-width="0.3" opacity=".25"/>
<line x1="1132.9" y1="2309.8" x2="1243.9" y2="2309.8" stroke="#0a0a0a" stroke-width="1.9"/>
<path d="M1142.8 2309.8v5.2M1151.9 2309.8v5.2M1161 2309.8v5.2M1170.1 2309.8v5.2M1179.3 2309.8v5.2M1188.4 2309.8v5.2M1197.5 2309.8v5.2M1206.7 2309.8v5.2M1215.8 2309.8v5.2M1224.9 2309.8v5.2M1234 2309.8v5.2" fill="none" stroke="#0a0a0a" stroke-width="1.5"/>
<text x="1191.4" y="2327.2" font-size="14.2" text-anchor="middle" class="c5" textLength="104.9" lengthAdjust="spacing">012345678910</text>
<rect x="1258.9" y="2189.3" width="100.4" height="114.8" fill="#246ab3"/>
<path d="M1258.9 2304.1V2266.2H1268V2247.8H1277.2V2250.1H1286.3V2255.9H1295.4V2261.1H1304.5V2251.9H1313.7V2247.3H1322.8V2262.8H1331.9V2258.2H1341V2266.2H1350.2V2263.9H1359.3V2304.1Z" fill="#f7f414"/>
<path d="M1268 2189.3V2304.1M1277.2 2189.3V2304.1M1286.3 2189.3V2304.1M1295.4 2189.3V2304.1M1304.5 2189.3V2304.1M1313.7 2189.3V2304.1M1322.8 2189.3V2304.1M1331.9 2189.3V2304.1M1341 2189.3V2304.1M1350.2 2189.3V2304.1" fill="none" stroke="#fff" stroke-width="0.3" opacity=".25"/>
<line x1="1253.4" y1="2309.8" x2="1364.6" y2="2309.8" stroke="#0a0a0a" stroke-width="1.9"/>
<path d="M1263.5 2309.8v5.2M1272.6 2309.8v5.2M1281.7 2309.8v5.2M1290.8 2309.8v5.2M1300 2309.8v5.2M1309.1 2309.8v5.2M1318.2 2309.8v5.2M1327.4 2309.8v5.2M1336.5 2309.8v5.2M1345.6 2309.8v5.2M1354.7 2309.8v5.2" fill="none" stroke="#0a0a0a" stroke-width="1.5"/>
<text x="1312.1" y="2327.2" font-size="14.2" text-anchor="middle" class="c5" textLength="104.9" lengthAdjust="spacing">012345678910</text>
<rect x="1379.2" y="2189.3" width="100.4" height="114.8" fill="#246ab3"/>
<path d="M1379.2 2304.1V2207.7H1388.3V2196.2H1397.5V2201.9H1406.6V2202.5H1415.7V2208.8H1424.8V2203.7H1434V2203.1H1443.1V2209.4H1452.2V2203.1H1461.3V2209.4H1470.5V2206.5H1479.6V2304.1Z" fill="#f7f414"/>
<path d="M1388.3 2189.3V2304.1M1397.5 2189.3V2304.1M1406.6 2189.3V2304.1M1415.7 2189.3V2304.1M1424.8 2189.3V2304.1M1434 2189.3V2304.1M1443.1 2189.3V2304.1M1452.2 2189.3V2304.1M1461.3 2189.3V2304.1M1470.5 2189.3V2304.1" fill="none" stroke="#fff" stroke-width="0.3" opacity=".25"/>
<line x1="1373.7" y1="2309.8" x2="1484.9" y2="2309.8" stroke="#0a0a0a" stroke-width="1.9"/>
<path d="M1383.8 2309.8v5.2M1392.9 2309.8v5.2M1402 2309.8v5.2M1411.1 2309.8v5.2M1420.3 2309.8v5.2M1429.4 2309.8v5.2M1438.5 2309.8v5.2M1447.7 2309.8v5.2M1456.8 2309.8v5.2M1465.9 2309.8v5.2M1475 2309.8v5.2" fill="none" stroke="#0a0a0a" stroke-width="1.5"/>
<text x="1432.4" y="2327.2" font-size="14.2" text-anchor="middle" class="c5" textLength="104.9" lengthAdjust="spacing">012345678910</text>
<rect x="1499.8" y="2189.3" width="100.4" height="114.8" fill="#246ab3"/>
<path d="M1499.8 2304.1V2257H1508.9V2219.7H1518.1V2235.8H1527.2V2242.7H1536.3V2245.6H1545.4V2255.3H1554.6V2234.1H1563.7V2257.6H1572.8V2241H1581.9V2231.8H1591.1V2253.6H1600.2V2304.1Z" fill="#f7f414"/>
<path d="M1508.9 2189.3V2304.1M1518.1 2189.3V2304.1M1527.2 2189.3V2304.1M1536.3 2189.3V2304.1M1545.4 2189.3V2304.1M1554.6 2189.3V2304.1M1563.7 2189.3V2304.1M1572.8 2189.3V2304.1M1581.9 2189.3V2304.1M1591.1 2189.3V2304.1" fill="none" stroke="#fff" stroke-width="0.3" opacity=".25"/>
<line x1="1494.3" y1="2309.8" x2="1605.5" y2="2309.8" stroke="#0a0a0a" stroke-width="1.9"/>
<path d="M1504.4 2309.8v5.2M1513.5 2309.8v5.2M1522.6 2309.8v5.2M1531.7 2309.8v5.2M1540.9 2309.8v5.2M1550 2309.8v5.2M1559.1 2309.8v5.2M1568.3 2309.8v5.2M1577.4 2309.8v5.2M1586.5 2309.8v5.2M1595.6 2309.8v5.2" fill="none" stroke="#0a0a0a" stroke-width="1.5"/>
<text x="1553" y="2327.2" font-size="14.2" text-anchor="middle" class="c5" textLength="104.9" lengthAdjust="spacing">012345678910</text>
<line x1="1132.9" y1="2183.8" x2="1132.9" y2="2310.7" stroke="#0a0a0a" stroke-width="1.9"/>
<line x1="1128.3" y1="2189.3" x2="1132.9" y2="2189.3" stroke="#0a0a0a" stroke-width="1.5"/>
<line x1="1128.3" y1="2218" x2="1132.9" y2="2218" stroke="#0a0a0a" stroke-width="1.5"/>
<line x1="1128.3" y1="2246.7" x2="1132.9" y2="2246.7" stroke="#0a0a0a" stroke-width="1.5"/>
<line x1="1128.3" y1="2275.4" x2="1132.9" y2="2275.4" stroke="#0a0a0a" stroke-width="1.5"/>
<line x1="1128.3" y1="2304.1" x2="1132.9" y2="2304.1" stroke="#0a0a0a" stroke-width="1.5"/>
<text x="1122.6" y="2195.8" font-size="15.6" text-anchor="end" class="c5">1</text>
<text x="1123.4" y="2310.4" font-size="15.6" text-anchor="end" class="c5">0</text>
<text x="1611.5" y="2246.7" font-size="19.5" font-style="italic" text-anchor="middle" transform="rotate(90 1611.5 2246.7)"><tspan>TP53</tspan><tspan font-size="11.7" dy="-7.4">M133</tspan><tspan dy="7.4" font-size="19.5">&#8203;</tspan></text>
<rect x="1138.2" y="2333.5" width="100.4" height="114.8" fill="#246ab3"/>
<path d="M1138.2 2448.3V2378.8H1147.3V2351.9H1156.5V2357.6H1165.6V2371.4H1174.7V2370.8H1183.8V2370.2H1193V2368.5H1202.1V2372.5H1211.2V2377.1H1220.3V2369.1H1229.5V2380.6H1238.6V2448.3Z" fill="#f7f414"/>
<path d="M1147.3 2333.5V2448.3M1156.5 2333.5V2448.3M1165.6 2333.5V2448.3M1174.7 2333.5V2448.3M1183.8 2333.5V2448.3M1193 2333.5V2448.3M1202.1 2333.5V2448.3M1211.2 2333.5V2448.3M1220.3 2333.5V2448.3M1229.5 2333.5V2448.3" fill="none" stroke="#fff" stroke-width="0.3" opacity=".25"/>
<line x1="1132.9" y1="2454" x2="1243.9" y2="2454" stroke="#0a0a0a" stroke-width="1.9"/>
<path d="M1142.8 2454v5.2M1151.9 2454v5.2M1161 2454v5.2M1170.1 2454v5.2M1179.3 2454v5.2M1188.4 2454v5.2M1197.5 2454v5.2M1206.7 2454v5.2M1215.8 2454v5.2M1224.9 2454v5.2M1234 2454v5.2" fill="none" stroke="#0a0a0a" stroke-width="1.5"/>
<text x="1191.4" y="2471.4" font-size="14.2" text-anchor="middle" class="c5" textLength="104.9" lengthAdjust="spacing">012345678910</text>
<rect x="1258.9" y="2333.5" width="100.4" height="114.8" fill="#246ab3"/>
<path d="M1258.9 2448.3V2367.9H1268V2341.5H1277.2V2349H1286.3V2345.6H1295.4V2362.2H1304.5V2358.2H1313.7V2358.2H1322.8V2357H1331.9V2358.8H1341V2373.1H1350.2V2369.1H1359.3V2448.3Z" fill="#f7f414"/>
<path d="M1268 2333.5V2448.3M1277.2 2333.5V2448.3M1286.3 2333.5V2448.3M1295.4 2333.5V2448.3M1304.5 2333.5V2448.3M1313.7 2333.5V2448.3M1322.8 2333.5V2448.3M1331.9 2333.5V2448.3M1341 2333.5V2448.3M1350.2 2333.5V2448.3" fill="none" stroke="#fff" stroke-width="0.3" opacity=".25"/>
<line x1="1253.4" y1="2454" x2="1364.6" y2="2454" stroke="#0a0a0a" stroke-width="1.9"/>
<path d="M1263.5 2454v5.2M1272.6 2454v5.2M1281.7 2454v5.2M1290.8 2454v5.2M1300 2454v5.2M1309.1 2454v5.2M1318.2 2454v5.2M1327.4 2454v5.2M1336.5 2454v5.2M1345.6 2454v5.2M1354.7 2454v5.2" fill="none" stroke="#0a0a0a" stroke-width="1.5"/>
<text x="1312.1" y="2471.4" font-size="14.2" text-anchor="middle" class="c5" textLength="104.9" lengthAdjust="spacing">012345678910</text>
<rect x="1379.2" y="2333.5" width="100.4" height="114.8" fill="#246ab3"/>
<path d="M1379.2 2448.3V2354.7H1388.3V2339.8H1397.5V2347.3H1406.6V2350.1H1415.7V2349H1424.8V2350.7H1434V2349.6H1443.1V2348.4H1452.2V2353.6H1461.3V2356.5H1470.5V2351.9H1479.6V2448.3Z" fill="#f7f414"/>
<path d="M1388.3 2333.5V2448.3M1397.5 2333.5V2448.3M1406.6 2333.5V2448.3M1415.7 2333.5V2448.3M1424.8 2333.5V2448.3M1434 2333.5V2448.3M1443.1 2333.5V2448.3M1452.2 2333.5V2448.3M1461.3 2333.5V2448.3M1470.5 2333.5V2448.3" fill="none" stroke="#fff" stroke-width="0.3" opacity=".25"/>
<line x1="1373.7" y1="2454" x2="1484.9" y2="2454" stroke="#0a0a0a" stroke-width="1.9"/>
<path d="M1383.8 2454v5.2M1392.9 2454v5.2M1402 2454v5.2M1411.1 2454v5.2M1420.3 2454v5.2M1429.4 2454v5.2M1438.5 2454v5.2M1447.7 2454v5.2M1456.8 2454v5.2M1465.9 2454v5.2M1475 2454v5.2" fill="none" stroke="#0a0a0a" stroke-width="1.5"/>
<text x="1432.4" y="2471.4" font-size="14.2" text-anchor="middle" class="c5" textLength="104.9" lengthAdjust="spacing">012345678910</text>
<rect x="1499.8" y="2333.5" width="100.4" height="114.8" fill="#246ab3"/>
<path d="M1499.8 2448.3V2377.1H1508.9V2345.6H1518.1V2363.3H1527.2V2370.2H1536.3V2377.7H1545.4V2373.7H1554.6V2374.3H1563.7V2384H1572.8V2376.6H1581.9V2372H1591.1V2376H1600.2V2448.3Z" fill="#f7f414"/>
<path d="M1508.9 2333.5V2448.3M1518.1 2333.5V2448.3M1527.2 2333.5V2448.3M1536.3 2333.5V2448.3M1545.4 2333.5V2448.3M1554.6 2333.5V2448.3M1563.7 2333.5V2448.3M1572.8 2333.5V2448.3M1581.9 2333.5V2448.3M1591.1 2333.5V2448.3" fill="none" stroke="#fff" stroke-width="0.3" opacity=".25"/>
<line x1="1494.3" y1="2454" x2="1605.5" y2="2454" stroke="#0a0a0a" stroke-width="1.9"/>
<path d="M1504.4 2454v5.2M1513.5 2454v5.2M1522.6 2454v5.2M1531.7 2454v5.2M1540.9 2454v5.2M1550 2454v5.2M1559.1 2454v5.2M1568.3 2454v5.2M1577.4 2454v5.2M1586.5 2454v5.2M1595.6 2454v5.2" fill="none" stroke="#0a0a0a" stroke-width="1.5"/>
<text x="1553" y="2471.4" font-size="14.2" text-anchor="middle" class="c5" textLength="104.9" lengthAdjust="spacing">012345678910</text>
<line x1="1132.9" y1="2328" x2="1132.9" y2="2454.9" stroke="#0a0a0a" stroke-width="1.9"/>
<line x1="1128.3" y1="2333.5" x2="1132.9" y2="2333.5" stroke="#0a0a0a" stroke-width="1.5"/>
<line x1="1128.3" y1="2362.2" x2="1132.9" y2="2362.2" stroke="#0a0a0a" stroke-width="1.5"/>
<line x1="1128.3" y1="2390.9" x2="1132.9" y2="2390.9" stroke="#0a0a0a" stroke-width="1.5"/>
<line x1="1128.3" y1="2419.6" x2="1132.9" y2="2419.6" stroke="#0a0a0a" stroke-width="1.5"/>
<line x1="1128.3" y1="2448.3" x2="1132.9" y2="2448.3" stroke="#0a0a0a" stroke-width="1.5"/>
<text x="1122.6" y="2340" font-size="15.6" text-anchor="end" class="c5">1</text>
<text x="1123.4" y="2454.6" font-size="15.6" text-anchor="end" class="c5">0</text>
<text x="1611.5" y="2390.9" font-size="19.5" font-style="italic" text-anchor="middle" transform="rotate(90 1611.5 2390.9)"><tspan>TP53</tspan><tspan font-size="11.7" dy="-7.4">R248</tspan><tspan dy="7.4" font-size="19.5">&#8203;</tspan></text>
<path d="M1138.2 2487.2L1234.1 2474.2V2487.2Z" fill="#3f5161"/>
<path d="M1258.9 2487.2L1354.8 2474.2V2487.2Z" fill="#3f5161"/>
<path d="M1379.2 2487.2L1475.1 2474.2V2487.2Z" fill="#3f5161"/>
<path d="M1499.8 2487.2L1595.7 2474.2V2487.2Z" fill="#3f5161"/>
<text x="1369.8" y="2508.8" font-size="19.7" text-anchor="middle">Quantiles by normalized ATAC fragments in gene body</text>
<text x="1101" y="2175.7" font-size="19.5" text-anchor="middle" transform="rotate(-90 1101 2175.7)">Fraction of cells genotyped</text>
<text x="1.3" y="22.9" font-size="39.3" font-weight="bold" style="stroke-width:.55px">a</text>
<text x="655.2" y="31.3" font-size="39.3" font-weight="bold" style="stroke-width:.55px">b</text>
<text x="949.8" y="31.4" font-size="39.3" font-weight="bold" style="stroke-width:.55px">c</text>
<text x="1198.8" y="31.3" font-size="39.3" font-weight="bold" style="stroke-width:.55px">d</text>
<text x="1.3" y="469.9" font-size="39.3" font-weight="bold" style="stroke-width:.55px">e</text>
<text x="1.5" y="897.1" font-size="39.3" font-weight="bold" style="stroke-width:.55px">f</text>
<text x="1.7" y="1307.4" font-size="39.3" font-weight="bold" style="stroke-width:.55px">g</text>
<text x="1.4" y="1719.9" font-size="39.3" font-weight="bold" style="stroke-width:.55px">h</text>
<text x="1.6" y="2143.8" font-size="39.3" font-weight="bold" style="stroke-width:.55px">i</text>
<text x="1075.5" y="592" font-size="39.3" font-weight="bold" style="stroke-width:.55px">j</text>
<text x="1074.3" y="993" font-size="39.3" font-weight="bold" style="stroke-width:.55px">k</text>
<text x="1083.5" y="1451.1" font-size="39.3" font-weight="bold" style="stroke-width:.55px">l</text>
<text x="1068.1" y="1820" font-size="39.3" font-weight="bold" style="stroke-width:.55px">m</text>
</svg>
</body></html>
